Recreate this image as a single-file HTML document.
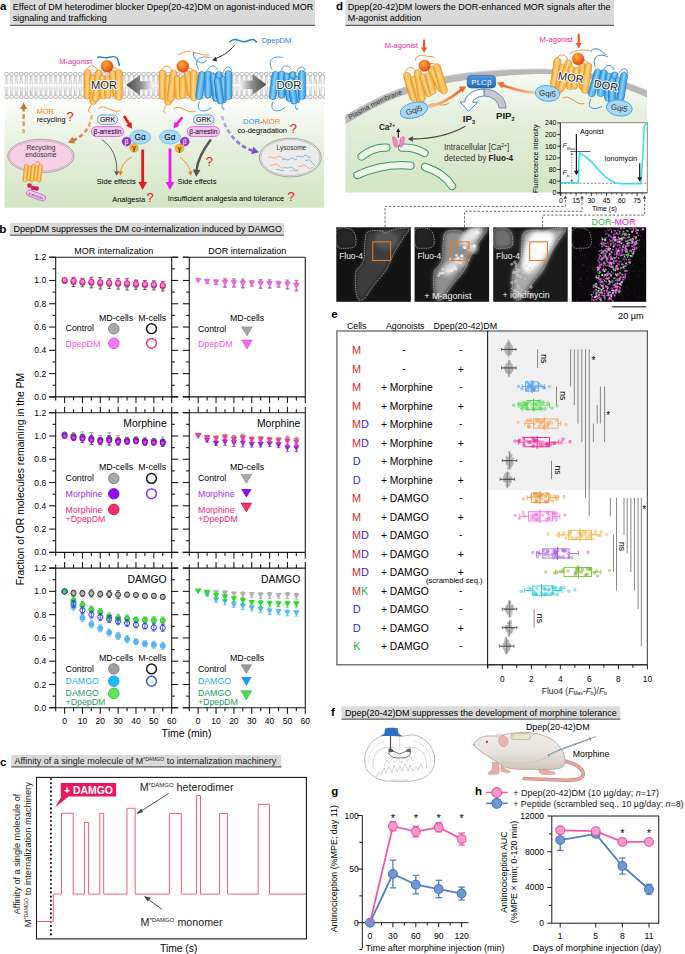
<!DOCTYPE html>
<html><head><meta charset="utf-8"><title>Figure</title>
<style>html,body{margin:0;padding:0;background:#fff;width:685px;height:954px;overflow:hidden}svg{display:block}text{font-family:"Liberation Sans",sans-serif}</style>
</head><body>
<svg width="685" height="954" viewBox="0 0 685 954">
<rect x="9.9" y="0" width="305.1" height="24.8" fill="#dadada"/>
<line x1="9.9" y1="25.4" x2="315" y2="25.4" stroke="#5a5a5a" stroke-width="1.3" />
<text x="12.8" y="10.3" font-size="9">Effect of DM heterodimer blocker Dpep(20-42)DM on agonist-induced MOR</text>
<text x="12.8" y="21.2" font-size="9">signaling and trafficking</text>
<text x="0" y="9.9" font-size="11.5" fill="#000" font-weight="bold">a</text>
<rect x="345.5" y="0" width="268.5" height="24.8" fill="#dadada"/>
<line x1="345.5" y1="25.4" x2="614" y2="25.4" stroke="#5a5a5a" stroke-width="1.3" />
<text x="347.8" y="10.3" font-size="9">Dpep(20-42)DM lowers the DOR-enhanced MOR signals after the</text>
<text x="347.8" y="21.2" font-size="9">M-agonist addition</text>
<text x="336" y="9.9" font-size="11.5" fill="#000" font-weight="bold">d</text>
<rect x="341.5" y="706.4" width="278.8" height="12.1" fill="#dadada"/>
<line x1="341.5" y1="719.1" x2="620.3" y2="719.1" stroke="#5a5a5a" stroke-width="1.3" />
<text x="345" y="715.7" font-size="9">Dpep(20-42)DM suppresses the development of morphine tolerance</text>
<text x="330.9" y="716.4" font-size="11.5" fill="#000" font-weight="bold">f</text>

<defs>
<linearGradient id="gO" x1="0" x2="1" y1="0" y2="0"><stop offset="0" stop-color="#f3a21f"/><stop offset="0.45" stop-color="#fdd88e"/><stop offset="1" stop-color="#f5aa2e"/></linearGradient>
<linearGradient id="gB" x1="0" x2="1" y1="0" y2="0"><stop offset="0" stop-color="#2590dc"/><stop offset="0.45" stop-color="#8cd0f6"/><stop offset="1" stop-color="#2d98e0"/></linearGradient>
<radialGradient id="gBall" cx="0.4" cy="0.35" r="0.7"><stop offset="0" stop-color="#fbb431"/><stop offset="0.6" stop-color="#f26a1f"/><stop offset="1" stop-color="#d9401a"/></radialGradient>
<linearGradient id="gGreenA" x1="0" x2="0" y1="0" y2="1"><stop offset="0" stop-color="#fcfdfb"/><stop offset="0.45" stop-color="#e6f0de"/><stop offset="1" stop-color="#d2e5c4"/></linearGradient>
<linearGradient id="gArrL" x1="0" x2="1" y1="0" y2="0"><stop offset="0" stop-color="#4a4a4a"/><stop offset="0.55" stop-color="#8a8a8a"/><stop offset="1" stop-color="#f2f2f2"/></linearGradient>
<linearGradient id="gArrR" x1="0" x2="1" y1="0" y2="0"><stop offset="0" stop-color="#f2f2f2"/><stop offset="0.45" stop-color="#8a8a8a"/><stop offset="1" stop-color="#4a4a4a"/></linearGradient>
<pattern id="lip" x="4.4" y="72" width="4.9" height="27" patternUnits="userSpaceOnUse">
<path d="M1.7,3.8 L0.9,12.4 M2.7,3.8 L3.3,12.4 M0.9,14.4 L1.7,23.0 M3.4,14.4 L2.7,23.0" stroke="#9c9c9c" stroke-width="0.6" fill="none"/>
<circle cx="2.2" cy="2.1" r="1.85" fill="#fff" stroke="#8a8a8a" stroke-width="0.65"/>
<circle cx="2.2" cy="24.8" r="1.85" fill="#fff" stroke="#8a8a8a" stroke-width="0.65"/>
</pattern>
<linearGradient id="gPurp" gradientUnits="userSpaceOnUse" x1="222" y1="116" x2="259" y2="152"><stop offset="0" stop-color="#c8b8ec"/><stop offset="1" stop-color="#7446c8"/></linearGradient>
<linearGradient id="gBrn1" gradientUnits="userSpaceOnUse" x1="0" y1="134" x2="0" y2="102"><stop offset="0" stop-color="#e8b890"/><stop offset="1" stop-color="#c06a30"/></linearGradient>
<linearGradient id="gBrn2" gradientUnits="userSpaceOnUse" x1="92" y1="115" x2="68" y2="142"><stop offset="0" stop-color="#ecc098"/><stop offset="1" stop-color="#c06a30"/></linearGradient>
</defs>
<rect x="4.4" y="98.5" width="319.7" height="109.2" fill="url(#gGreenA)"/>
<rect x="4.4" y="72" width="320.6" height="27" fill="url(#lip)"/>
<path d="M86.5,70.5 C88.5,63.5 96.5,64.5 97.5,71.5" fill="none" stroke="#f07a1c" stroke-width="0.8"/>
<path d="M108.5,72.5 C110.5,66.5 116.5,66.5 118.5,70.5" fill="none" stroke="#f07a1c" stroke-width="0.8"/>
<path d="M92.5,102.5 C89.5,108.5 86.5,110.5 90.5,112.5" fill="none" stroke="#f07a1c" stroke-width="0.8"/>
<path d="M98.5,108.5 C104.5,102.5 112.5,114.5 120.5,110.5" fill="none" stroke="#f07a1c" stroke-width="0.8"/>
<rect x="-3.5" y="-14.75" width="7" height="29.5" rx="3.5" fill="url(#gO)" stroke="#ee8418" stroke-width="0.6" transform="translate(87.5,84.25) rotate(-0)"/>
<rect x="-3.5" y="-14.75" width="7" height="29.5" rx="3.5" fill="url(#gO)" stroke="#ee8418" stroke-width="0.6" transform="translate(93.3,89.75) rotate(-0)"/>
<rect x="-3.5" y="-15.86" width="7" height="31.72" rx="3.5" fill="url(#gO)" stroke="#ee8418" stroke-width="0.6" transform="translate(97.15,85.75) rotate(6.7)"/>
<rect x="-3.4" y="-11.77" width="6.8" height="23.54" rx="3.4" fill="url(#gO)" stroke="#ee8418" stroke-width="0.6" transform="translate(103,87.25) rotate(-3.41)"/>
<rect x="-3.4" y="-11" width="6.8" height="22" rx="3.4" fill="url(#gO)" stroke="#ee8418" stroke-width="0.6" transform="translate(107.9,87) rotate(1.04)"/>
<rect x="-3.5" y="-13.61" width="7" height="27.23" rx="3.5" fill="url(#gO)" stroke="#ee8418" stroke-width="0.6" transform="translate(114.5,83.9) rotate(-10.15)"/>
<rect x="-3.5" y="-15.4" width="7" height="30.8" rx="3.5" fill="url(#gO)" stroke="#ee8418" stroke-width="0.6" transform="translate(118.8,84.9) rotate(-0.37)"/>
<path d="M161.5,71 C163.5,64 171.5,65 172.5,72" fill="none" stroke="#f07a1c" stroke-width="0.8"/>
<path d="M183.5,73 C185.5,67 191.5,67 193.5,71" fill="none" stroke="#f07a1c" stroke-width="0.8"/>
<path d="M167.5,103 C164.5,109 161.5,111 165.5,113" fill="none" stroke="#f07a1c" stroke-width="0.8"/>
<path d="M173.5,109 C179.5,103 187.5,115 195.5,111" fill="none" stroke="#f07a1c" stroke-width="0.8"/>
<rect x="-3.5" y="-14.75" width="7" height="29.5" rx="3.5" fill="url(#gO)" stroke="#ee8418" stroke-width="0.6" transform="translate(162.5,84.75) rotate(-0)"/>
<rect x="-3.5" y="-14.75" width="7" height="29.5" rx="3.5" fill="url(#gO)" stroke="#ee8418" stroke-width="0.6" transform="translate(168.3,90.25) rotate(-0)"/>
<rect x="-3.5" y="-15.86" width="7" height="31.72" rx="3.5" fill="url(#gO)" stroke="#ee8418" stroke-width="0.6" transform="translate(172.15,86.25) rotate(6.7)"/>
<rect x="-3.4" y="-11.77" width="6.8" height="23.54" rx="3.4" fill="url(#gO)" stroke="#ee8418" stroke-width="0.6" transform="translate(178,87.75) rotate(-3.41)"/>
<rect x="-3.4" y="-11" width="6.8" height="22" rx="3.4" fill="url(#gO)" stroke="#ee8418" stroke-width="0.6" transform="translate(182.9,87.5) rotate(1.04)"/>
<rect x="-3.5" y="-13.61" width="7" height="27.23" rx="3.5" fill="url(#gO)" stroke="#ee8418" stroke-width="0.6" transform="translate(189.5,84.4) rotate(-10.15)"/>
<rect x="-3.5" y="-15.4" width="7" height="30.8" rx="3.5" fill="url(#gO)" stroke="#ee8418" stroke-width="0.6" transform="translate(193.8,85.4) rotate(-0.37)"/>
<path d="M198.5,69.5 C193.5,59.5 199.5,55.5 209.5,57.5" fill="none" stroke="#1f7fcf" stroke-width="0.8"/>
<path d="M207.5,70.5 C209.5,64.5 215.5,64.5 217.5,69.5" fill="none" stroke="#1f7fcf" stroke-width="0.8"/>
<path d="M223.5,71.5 C225.5,65.5 230.5,65.5 231.5,70.5" fill="none" stroke="#1f7fcf" stroke-width="0.8"/>
<path d="M199.5,101.5 C195.5,111.5 203.5,113.5 211.5,107.5" fill="none" stroke="#1f7fcf" stroke-width="0.8"/>
<path d="M222.5,104.5 C220.5,109.5 225.5,111.5 223.5,107.5" fill="none" stroke="#1f7fcf" stroke-width="0.8"/>
<rect x="-3.55" y="-14.13" width="7.1" height="28.26" rx="3.55" fill="url(#gB)" stroke="#1b78c6" stroke-width="0.6" transform="translate(200.6,85.5) rotate(7.73)"/>
<rect x="-3.5" y="-13.5" width="7" height="27" rx="3.5" fill="url(#gB)" stroke="#1b78c6" stroke-width="0.6" transform="translate(208.1,84.5) rotate(-0)"/>
<rect x="-3.5" y="-14.1" width="7" height="28.21" rx="3.5" fill="url(#gB)" stroke="#1b78c6" stroke-width="0.6" transform="translate(214.8,87.5) rotate(-6.92)"/>
<rect x="-3.45" y="-13.75" width="6.9" height="27.5" rx="3.45" fill="url(#gB)" stroke="#1b78c6" stroke-width="0.6" transform="translate(219.1,85.25) rotate(-0)"/>
<rect x="-3.45" y="-13.25" width="6.9" height="26.51" rx="3.45" fill="url(#gB)" stroke="#1b78c6" stroke-width="0.6" transform="translate(223.2,89.75) rotate(1.3)"/>
<rect x="-3.5" y="-14.5" width="7" height="29" rx="3.5" fill="url(#gB)" stroke="#1b78c6" stroke-width="0.6" transform="translate(228.5,85) rotate(-0)"/>
<rect x="-3.35" y="-13.4" width="6.7" height="26.8" rx="3.35" fill="url(#gB)" stroke="#1b78c6" stroke-width="0.6" transform="translate(219,90.75) rotate(-8.58)"/>
<path d="M272,69.5 C267,59.5 273,55.5 283,57.5" fill="none" stroke="#1f7fcf" stroke-width="0.8"/>
<path d="M281,70.5 C283,64.5 289,64.5 291,69.5" fill="none" stroke="#1f7fcf" stroke-width="0.8"/>
<path d="M297,71.5 C299,65.5 304,65.5 305,70.5" fill="none" stroke="#1f7fcf" stroke-width="0.8"/>
<path d="M273,101.5 C269,111.5 277,113.5 285,107.5" fill="none" stroke="#1f7fcf" stroke-width="0.8"/>
<path d="M296,104.5 C294,109.5 299,111.5 297,107.5" fill="none" stroke="#1f7fcf" stroke-width="0.8"/>
<rect x="-3.55" y="-14.13" width="7.1" height="28.26" rx="3.55" fill="url(#gB)" stroke="#1b78c6" stroke-width="0.6" transform="translate(274.1,85.5) rotate(7.73)"/>
<rect x="-3.5" y="-13.5" width="7" height="27" rx="3.5" fill="url(#gB)" stroke="#1b78c6" stroke-width="0.6" transform="translate(281.6,84.5) rotate(-0)"/>
<rect x="-3.5" y="-14.1" width="7" height="28.21" rx="3.5" fill="url(#gB)" stroke="#1b78c6" stroke-width="0.6" transform="translate(288.3,87.5) rotate(-6.92)"/>
<rect x="-3.45" y="-13.75" width="6.9" height="27.5" rx="3.45" fill="url(#gB)" stroke="#1b78c6" stroke-width="0.6" transform="translate(292.6,85.25) rotate(-0)"/>
<rect x="-3.45" y="-13.25" width="6.9" height="26.51" rx="3.45" fill="url(#gB)" stroke="#1b78c6" stroke-width="0.6" transform="translate(296.7,89.75) rotate(1.3)"/>
<rect x="-3.5" y="-14.5" width="7" height="29" rx="3.5" fill="url(#gB)" stroke="#1b78c6" stroke-width="0.6" transform="translate(302,85) rotate(-0)"/>
<rect x="-3.35" y="-13.4" width="6.7" height="26.8" rx="3.35" fill="url(#gB)" stroke="#1b78c6" stroke-width="0.6" transform="translate(292.5,90.75) rotate(-8.58)"/>
<circle cx="107.1" cy="66.2" r="6" fill="url(#gBall)" stroke="#e05418" stroke-width="0.4"/>
<circle cx="182.8" cy="66.3" r="6" fill="url(#gBall)" stroke="#e05418" stroke-width="0.4"/>
<path d="M97,57.5 C101,56 104,58.5 108,57.5 C112,56.5 115,55.5 117,58 C118.5,60 118.5,63 119.5,66" fill="none" stroke="#2a7fc8" stroke-width="1.5"/>
<path d="M178,55 C183,52 187,51 191,52 M193,53 C197,52 203,56 209,55" fill="none" stroke="#f07a1c" stroke-width="0.8"/>
<path d="M194,52 C192,57 196,60 199,62 M199,62 C202,64 205,62 207,60" fill="none" stroke="#2a7fc8" stroke-width="0.9"/>
<path d="M229.5,42 C234,37.5 238,40 242,41.5 C246,43 250,39 253,39.5 C255,40 256,41.5 256.8,42.5" fill="none" stroke="#2a7fc8" stroke-width="1.5"/>
<text x="261.7" y="43.3" font-size="7.5" fill="#2a7fc8">DpepDM</text>
<path d="M234.4,45.3 C229,52 222,56.5 214.5,59" fill="none" stroke="#2a2a2a" stroke-width="1"/>
<path d="M212.1,60.2L215.81,56.64L217.09,61.43Z" fill="#2a2a2a"/>
<text x="59.2" y="63.5" font-size="7.5" fill="#e8249a">M-agonist</text>
<path d="M126.1,85.1 L140,74.9 L140,81.2 L152.4,81.2 L152.4,89.5 L140,89.5 L140,95.4Z" fill="url(#gArrL)"/>
<path d="M266.5,84.5 L252.6,74.3 L252.6,80.6 L240.2,80.6 L240.2,88.9 L252.6,88.9 L252.6,94.8Z" fill="url(#gArrR)"/>
<text x="91" y="88.8" font-size="11.2" text-anchor="start" fill="#1a1a1a" stroke="#fff" stroke-width="2.2" stroke-linejoin="round" paint-order="stroke">MOR</text>
<text x="276.4" y="88.9" font-size="11.2" text-anchor="start" fill="#1a1a1a" stroke="#fff" stroke-width="2.2" stroke-linejoin="round" paint-order="stroke">DOR</text>
<path d="M23.6,133.4 L23.6,108" fill="none" stroke="url(#gBrn1)" stroke-width="2.6" stroke-dasharray="4.5,2.8"/>
<path d="M23.6,102.4L27.18,108.9L20.03,108.9Z" fill="#c8783a"/>
<text x="36.7" y="113.6" font-size="7.3" fill="#f07a1c">MOR</text>
<text x="36.7" y="122.3" font-size="7.3">recycling</text>
<text x="66.6" y="121.3" font-size="13" fill="#e8191e">?</text>
<path d="M92,115 C90,128 84,136 72,141" fill="none" stroke="url(#gBrn2)" stroke-width="2.6" stroke-dasharray="4.5,2.8"/>
<path d="M67.8,142.4L72.69,136.82L75.13,143.54Z" fill="#c8783a"/>
<ellipse cx="40.9" cy="156" rx="33.2" ry="16.8" fill="#f7cfe6" stroke="#9a9a9a" stroke-width="0.8"/>
<ellipse cx="40.9" cy="156" rx="31.6" ry="15.2" fill="none" stroke="#a8a8a8" stroke-width="0.6"/>
<text x="40.9" y="149.8" font-size="6.7" fill="#333" text-anchor="middle">Recycling</text>
<text x="40.9" y="157.4" font-size="6.7" fill="#333" text-anchor="middle">endosome</text>
<rect x="-2" y="-8.81" width="4" height="17.61" rx="2" fill="url(#gO)" stroke="#ee8418" stroke-width="0.6" transform="translate(25.7,173.25) rotate(6.52)"/>
<rect x="-2" y="-7.32" width="4" height="14.64" rx="2" fill="url(#gO)" stroke="#ee8418" stroke-width="0.6" transform="translate(29.2,173.25) rotate(7.85)"/>
<rect x="-2" y="-8.81" width="4" height="17.61" rx="2" fill="url(#gO)" stroke="#ee8418" stroke-width="0.6" transform="translate(32.7,173.25) rotate(6.52)"/>
<rect x="-2" y="-7.32" width="4" height="14.64" rx="2" fill="url(#gO)" stroke="#ee8418" stroke-width="0.6" transform="translate(36.2,173.25) rotate(7.85)"/>
<rect x="-2" y="-8.81" width="4" height="17.61" rx="2" fill="url(#gO)" stroke="#ee8418" stroke-width="0.6" transform="translate(39.7,173.25) rotate(6.52)"/>
<path d="M34,165 C36,161 39,160 40,164" fill="none" stroke="#f07a1c" stroke-width="0.7"/>
<circle cx="29.5" cy="185.5" r="2.1" fill="#d81e5a" stroke="#a01040" stroke-width="0.4"/>
<circle cx="33" cy="188" r="2.1" fill="#d81e5a" stroke="#a01040" stroke-width="0.4"/>
<circle cx="36.6" cy="188.5" r="2.1" fill="#d81e5a" stroke="#a01040" stroke-width="0.4"/>
<g transform="translate(36,195.5) rotate(20)"><rect x="-10" y="-3" width="20" height="6" rx="3" fill="#f7c6f3" stroke="#d940d6" stroke-width="0.7"/><text x="0" y="1.6" font-size="3.6" text-anchor="middle" fill="#333">β-arrestin</text></g>
<rect x="97.3" y="114.9" width="20.4" height="9.4" fill="#ececec" stroke="#5c9bd5" stroke-width="0.9" rx="4.7"/>
<text x="107.5" y="122.3" font-size="7" text-anchor="middle">GRK</text>
<rect x="91.4" y="126.6" width="32.1" height="9.9" fill="#f8c4f4" stroke="#e060e0" stroke-width="0.9" rx="4.95"/>
<text x="107.45" y="134.25" font-size="6.6" text-anchor="middle">β-arrestin</text>
<line x1="124" y1="116" x2="129.5" y2="124.5" stroke="#e8191e" stroke-width="2.6" />
<path d="M132,128.8L125.96,125.57L131.5,121.97Z" fill="#e8191e"/>
<ellipse cx="140.2" cy="137.1" rx="10.5" ry="7" fill="#a9daf7" stroke="#5fb4ea" stroke-width="0.7"/>
<text x="140.2" y="140.1" font-size="8.4" text-anchor="middle">Gα</text>
<circle cx="126.6" cy="141.6" r="4.4" fill="#9a2fc8" stroke="#7a1fa8" stroke-width="0.5"/>
<text x="126.6" y="144.3" font-size="7" fill="#fff" text-anchor="middle">β</text>
<circle cx="134" cy="147.8" r="4.4" fill="#f2b432" stroke="#d89a20" stroke-width="0.5"/>
<text x="134" y="150.4" font-size="7" text-anchor="middle">γ</text>
<path d="M101.7,139.6 C112,146 117,157 116.8,171" fill="none" stroke="#555" stroke-width="0.9"/>
<path d="M116.7,175.8L114.23,171.3L119.17,171.3Z" fill="#555"/>
<path d="M131.5,157 C125,161 121.5,166 120.6,171.5" fill="none" stroke="#f07a1c" stroke-width="0.9"/>
<path d="M120.3,175.8L118.23,171.1L123.16,171.53Z" fill="#f07a1c"/>
<text x="96.8" y="184.3" font-size="7.5">Side effects</text>
<line x1="142.7" y1="149.6" x2="142.7" y2="183" stroke="#e8191e" stroke-width="2.8" />
<path d="M142.7,190L138.3,182L147.1,182Z" fill="#e8191e"/>
<text x="112.2" y="201.8" font-size="7.5">Analgesia</text>
<text x="146.4" y="201.8" font-size="13" fill="#e8191e">?</text>
<line x1="182.3" y1="117.3" x2="176.5" y2="124.3" stroke="#e61ee6" stroke-width="2.6" />
<path d="M173.6,128.5L174.34,121.69L179.74,125.48Z" fill="#e61ee6"/>
<ellipse cx="170" cy="137.1" rx="10.5" ry="7" fill="#a9daf7" stroke="#5fb4ea" stroke-width="0.7"/>
<text x="170" y="140.1" font-size="8.4" text-anchor="middle">Gα</text>
<circle cx="184.8" cy="141.6" r="4.4" fill="#9a2fc8" stroke="#7a1fa8" stroke-width="0.5"/>
<text x="184.8" y="144.3" font-size="7" fill="#fff" text-anchor="middle">β</text>
<circle cx="179.4" cy="148.3" r="4.4" fill="#f2b432" stroke="#d89a20" stroke-width="0.5"/>
<text x="179.4" y="150.9" font-size="7" text-anchor="middle">γ</text>
<rect x="193.5" y="114.9" width="20.4" height="9.4" fill="#ececec" stroke="#5c9bd5" stroke-width="0.9" rx="4.7"/>
<text x="203.7" y="122.3" font-size="7" text-anchor="middle">GRK</text>
<rect x="187.3" y="126.6" width="32.1" height="9.9" fill="#f8c4f4" stroke="#e060e0" stroke-width="0.9" rx="4.95"/>
<text x="203.35" y="134.25" font-size="6.6" text-anchor="middle">β-arrestin</text>
<line x1="170" y1="148.5" x2="170" y2="182.5" stroke="#e61ee6" stroke-width="2.8" />
<path d="M170,190L165.6,182L174.4,182Z" fill="#e61ee6"/>
<path d="M210.9,139.6 C203,150 197.5,160 196.6,170" fill="none" stroke="#555" stroke-width="2.4"/>
<path d="M196.3,176.8L192.82,169.61L200.51,170.01Z" fill="#555"/>
<text x="205.8" y="166" font-size="13" fill="#e8191e">?</text>
<path d="M179.9,157 C185,161 189,166 190.5,171.5" fill="none" stroke="#f07a1c" stroke-width="0.9"/>
<path d="M191,175.8L187.78,171.8L192.66,170.94Z" fill="#f07a1c"/>
<text x="177.4" y="184.3" font-size="7.5">Side effects</text>
<text x="167.7" y="201.3" font-size="7.45">Insufficient analgesia and tolerance</text>
<text x="287.4" y="201" font-size="13" fill="#e8191e">?</text>
<path d="M222,116 C226,132 238,146 252,150.5" fill="none" stroke="url(#gPurp)" stroke-width="2.6" stroke-dasharray="4.5,2.8"/>
<path d="M259,152.3L251.24,154.21L253.23,146.77Z" fill="#7a4ac8"/>
<text x="243.1" y="123.5" font-size="7.6" fill="#2f8fd6">DOR<tspan fill="#1a1a1a">-</tspan><tspan fill="#f07a1c">MOR</tspan></text>
<text x="237.4" y="132.7" font-size="7.45">co-degradation</text>
<text x="289.8" y="133" font-size="13" fill="#e8191e">?</text>
<ellipse cx="290.3" cy="157.5" rx="31" ry="19.4" fill="#ececec" stroke="#8a8a8a" stroke-width="0.7"/>
<ellipse cx="290.3" cy="157.5" rx="29.6" ry="18" fill="none" stroke="#9a9a9a" stroke-width="0.5"/>
<text x="291.4" y="149.6" font-size="6.6" fill="#333" text-anchor="middle">Lysosome</text>
<path d="M268,158 c3,-3 6,2 9,-1 s5,3 8,1" fill="none" stroke="#f0a070" stroke-width="0.8"/>
<path d="M270,165 c3,2 5,-3 8,0 s4,4 7,2" fill="none" stroke="#f0a070" stroke-width="0.8"/>
<path d="M282,160 c3,-3 5,2 8,-1 s4,2 7,0" fill="none" stroke="#60a8e0" stroke-width="0.8"/>
<path d="M285,167 c2,3 5,-2 8,1 s4,3 6,1" fill="none" stroke="#60a8e0" stroke-width="0.8"/>
<path d="M296,157 c3,-3 5,2 8,-1 s4,3 7,1" fill="none" stroke="#60a8e0" stroke-width="0.8"/>
<path d="M298,166 c3,2 5,-3 8,0 s4,3 7,1" fill="none" stroke="#f0a070" stroke-width="0.8"/>
<path d="M276,170 c3,-2 5,2 8,0" fill="none" stroke="#60a8e0" stroke-width="0.8"/>
<path d="M305,160 c2,2 4,-2 6,1 s3,3 4,5" fill="none" stroke="#60a8e0" stroke-width="0.8"/>
<path d="M290,171 c3,-2 5,2 8,-1" fill="none" stroke="#f0a070" stroke-width="0.8"/>

<defs>
<linearGradient id="gGreenD" x1="0" x2="0" y1="70" y2="193" gradientUnits="userSpaceOnUse"><stop offset="0" stop-color="#f8fbf5"/><stop offset="0.45" stop-color="#e3eeda"/><stop offset="1" stop-color="#d2e5c4"/></linearGradient>
<linearGradient id="gPLC" x1="0" x2="0" y1="0" y2="1"><stop offset="0" stop-color="#4f9ae0"/><stop offset="1" stop-color="#1f68c0"/></linearGradient>
<linearGradient id="gOA1" x1="0" x2="1" y1="0" y2="0"><stop offset="0" stop-color="#f5c890"/><stop offset="1" stop-color="#ec6a2a"/></linearGradient>
<linearGradient id="gOA2" x1="1" x2="0" y1="0" y2="0"><stop offset="0" stop-color="#f5c890"/><stop offset="1" stop-color="#ec6a2a"/></linearGradient>
<radialGradient id="cellG" cx="0.5" cy="0.5" r="0.5"><stop offset="0" stop-color="#7a7a7a"/><stop offset="1" stop-color="#3a3a3a"/></radialGradient>
<radialGradient id="cellB" cx="0.5" cy="0.5" r="0.5"><stop offset="0" stop-color="#d0d0d0"/><stop offset="0.7" stop-color="#8a8a8a"/><stop offset="1" stop-color="#555"/></radialGradient>
<radialGradient id="cellW" cx="0.5" cy="0.45" r="0.5"><stop offset="0" stop-color="#ffffff"/><stop offset="0.6" stop-color="#e8e8e8"/><stop offset="1" stop-color="#9a9a9a"/></radialGradient>
<filter id="blur1" x="-20%" y="-20%" width="140%" height="140%"><feGaussianBlur stdDeviation="2.2"/></filter>
<filter id="blur05"><feGaussianBlur stdDeviation="0.5"/></filter>
</defs>
<path d="M345.5,124.2C352.92,120.25 374.25,107.1 390,100.5C405.75,93.9 421.67,88.65 440,84.6C458.33,80.55 480,77.9 500,76.2C520,74.5 541.67,73.18 560,74.4C578.33,75.62 595.5,79.67 610,83.5C624.5,87.33 640.83,95.08 647,97.4 L647,192.6 L345.5,192.6Z" fill="url(#gGreenD)"/>
<path d="M345.5,115.2C352.92,111.42 374.25,98.83 390,92.5C405.75,86.17 421.67,80.92 440,77.2C458.33,73.48 480,71.47 500,70.2C520,68.93 541.67,68.38 560,69.6C578.33,70.82 595.5,74.03 610,77.5C624.5,80.97 640.83,88.25 647,90.4 L647,97.4C640.83,95.08 624.5,87.33 610,83.5C595.5,79.67 578.33,75.62 560,74.4C541.67,73.18 520,74.5 500,76.2C480,77.9 458.33,80.55 440,84.6C421.67,88.65 405.75,93.9 390,100.5C374.25,107.1 352.92,120.25 345.5,124.2Z" fill="#b8b8b8"/>
<path d="M345.5,115.2C352.92,111.42 374.25,98.83 390,92.5C405.75,86.17 421.67,80.92 440,77.2C458.33,73.48 480,71.47 500,70.2C520,68.93 541.67,68.38 560,69.6C578.33,70.82 595.5,74.03 610,77.5C624.5,80.97 640.83,88.25 647,90.4" fill="none" stroke="#cfcfcf" stroke-width="0.8"/>
<text font-size="7.0" fill="#333" text-anchor="middle" transform="translate(351.93,118.56) rotate(-29.33)">P</text>
<text font-size="7.0" fill="#333" text-anchor="middle" transform="translate(354.64,117.04) rotate(-29.36)">l</text>
<text font-size="7.0" fill="#333" text-anchor="middle" transform="translate(357.01,115.7) rotate(-29.3)">a</text>
<text font-size="7.0" fill="#333" text-anchor="middle" transform="translate(360.24,113.9) rotate(-29.1)">s</text>
<text font-size="7.0" fill="#333" text-anchor="middle" transform="translate(364.32,111.64) rotate(-28.78)">m</text>
<text font-size="7.0" fill="#333" text-anchor="middle" transform="translate(368.59,109.32) rotate(-28.17)">a</text>
<text font-size="7.0" fill="#333" text-anchor="middle" transform="translate(374.62,106.15) rotate(-27.34)">m</text>
<text font-size="7.0" fill="#333" text-anchor="middle" transform="translate(378.96,103.96) rotate(-26.22)">e</text>
<text font-size="7.0" fill="#333" text-anchor="middle" transform="translate(383.33,101.85) rotate(-25.13)">m</text>
<text font-size="7.0" fill="#333" text-anchor="middle" transform="translate(387.77,99.84) rotate(-23.22)">b</text>
<text font-size="7.0" fill="#333" text-anchor="middle" transform="translate(390.63,98.64) rotate(-22.22)">r</text>
<text font-size="7.0" fill="#333" text-anchor="middle" transform="translate(393.52,97.48) rotate(-21.81)">a</text>
<text font-size="7.0" fill="#333" text-anchor="middle" transform="translate(397.15,96.06) rotate(-20.93)">n</text>
<text font-size="7.0" fill="#333" text-anchor="middle" transform="translate(400.79,94.68) rotate(-20.23)">e</text>
<g transform="rotate(-16 426 84)">
<path d="M409,68.5 C411,61.5 419,62.5 420,69.5" fill="none" stroke="#f07a1c" stroke-width="0.8"/>
<path d="M431,70.5 C433,64.5 439,64.5 441,68.5" fill="none" stroke="#f07a1c" stroke-width="0.8"/>
<path d="M415,100.5 C412,106.5 409,108.5 413,110.5" fill="none" stroke="#f07a1c" stroke-width="0.8"/>
<path d="M421,106.5 C427,100.5 435,112.5 443,108.5" fill="none" stroke="#f07a1c" stroke-width="0.8"/>
<rect x="-3.5" y="-14.75" width="7" height="29.5" rx="3.5" fill="url(#gO)" stroke="#ee8418" stroke-width="0.6" transform="translate(410,82.25) rotate(-0)"/>
<rect x="-3.5" y="-14.75" width="7" height="29.5" rx="3.5" fill="url(#gO)" stroke="#ee8418" stroke-width="0.6" transform="translate(415.8,87.75) rotate(-0)"/>
<rect x="-3.5" y="-15.86" width="7" height="31.72" rx="3.5" fill="url(#gO)" stroke="#ee8418" stroke-width="0.6" transform="translate(419.65,83.75) rotate(6.7)"/>
<rect x="-3.4" y="-11.77" width="6.8" height="23.54" rx="3.4" fill="url(#gO)" stroke="#ee8418" stroke-width="0.6" transform="translate(425.5,85.25) rotate(-3.41)"/>
<rect x="-3.4" y="-11" width="6.8" height="22" rx="3.4" fill="url(#gO)" stroke="#ee8418" stroke-width="0.6" transform="translate(430.4,85) rotate(1.04)"/>
<rect x="-3.5" y="-13.61" width="7" height="27.23" rx="3.5" fill="url(#gO)" stroke="#ee8418" stroke-width="0.6" transform="translate(437,81.9) rotate(-10.15)"/>
<rect x="-3.5" y="-15.4" width="7" height="30.8" rx="3.5" fill="url(#gO)" stroke="#ee8418" stroke-width="0.6" transform="translate(441.3,82.9) rotate(-0.37)"/>
</g>
<circle cx="424.6" cy="65.7" r="5.8" fill="url(#gBall)" stroke="#e05418" stroke-width="0.4"/>
<path d="M416,61 C414,57 420,54 426,56 C430,57.5 433,55 434,58" fill="none" stroke="#f07a1c" stroke-width="0.8"/>
<g transform="rotate(9 589 80)">
<path d="M554,64 C556,57 564,58 565,65" fill="none" stroke="#f07a1c" stroke-width="0.8"/>
<path d="M576,66 C578,60 584,60 586,64" fill="none" stroke="#f07a1c" stroke-width="0.8"/>
<path d="M560,96 C557,102 554,104 558,106" fill="none" stroke="#f07a1c" stroke-width="0.8"/>
<path d="M566,102 C572,96 580,108 588,104" fill="none" stroke="#f07a1c" stroke-width="0.8"/>
<rect x="-3.5" y="-14.75" width="7" height="29.5" rx="3.5" fill="url(#gO)" stroke="#ee8418" stroke-width="0.6" transform="translate(555,77.75) rotate(-0)"/>
<rect x="-3.5" y="-14.75" width="7" height="29.5" rx="3.5" fill="url(#gO)" stroke="#ee8418" stroke-width="0.6" transform="translate(560.8,83.25) rotate(-0)"/>
<rect x="-3.5" y="-15.86" width="7" height="31.72" rx="3.5" fill="url(#gO)" stroke="#ee8418" stroke-width="0.6" transform="translate(564.65,79.25) rotate(6.7)"/>
<rect x="-3.4" y="-11.77" width="6.8" height="23.54" rx="3.4" fill="url(#gO)" stroke="#ee8418" stroke-width="0.6" transform="translate(570.5,80.75) rotate(-3.41)"/>
<rect x="-3.4" y="-11" width="6.8" height="22" rx="3.4" fill="url(#gO)" stroke="#ee8418" stroke-width="0.6" transform="translate(575.4,80.5) rotate(1.04)"/>
<rect x="-3.5" y="-13.61" width="7" height="27.23" rx="3.5" fill="url(#gO)" stroke="#ee8418" stroke-width="0.6" transform="translate(582,77.4) rotate(-10.15)"/>
<rect x="-3.5" y="-15.4" width="7" height="30.8" rx="3.5" fill="url(#gO)" stroke="#ee8418" stroke-width="0.6" transform="translate(586.3,78.4) rotate(-0.37)"/>
<path d="M593,66 C588,56 594,52 604,54" fill="none" stroke="#1f7fcf" stroke-width="0.8"/>
<path d="M602,67 C604,61 610,61 612,66" fill="none" stroke="#1f7fcf" stroke-width="0.8"/>
<path d="M618,68 C620,62 625,62 626,67" fill="none" stroke="#1f7fcf" stroke-width="0.8"/>
<path d="M594,98 C590,108 598,110 606,104" fill="none" stroke="#1f7fcf" stroke-width="0.8"/>
<path d="M617,101 C615,106 620,108 618,104" fill="none" stroke="#1f7fcf" stroke-width="0.8"/>
<rect x="-3.55" y="-14.13" width="7.1" height="28.26" rx="3.55" fill="url(#gB)" stroke="#1b78c6" stroke-width="0.6" transform="translate(595.1,82) rotate(7.73)"/>
<rect x="-3.5" y="-13.5" width="7" height="27" rx="3.5" fill="url(#gB)" stroke="#1b78c6" stroke-width="0.6" transform="translate(602.6,81) rotate(-0)"/>
<rect x="-3.5" y="-14.1" width="7" height="28.21" rx="3.5" fill="url(#gB)" stroke="#1b78c6" stroke-width="0.6" transform="translate(609.3,84) rotate(-6.92)"/>
<rect x="-3.45" y="-13.75" width="6.9" height="27.5" rx="3.45" fill="url(#gB)" stroke="#1b78c6" stroke-width="0.6" transform="translate(613.6,81.75) rotate(-0)"/>
<rect x="-3.45" y="-13.25" width="6.9" height="26.51" rx="3.45" fill="url(#gB)" stroke="#1b78c6" stroke-width="0.6" transform="translate(617.7,86.25) rotate(1.3)"/>
<rect x="-3.5" y="-14.5" width="7" height="29" rx="3.5" fill="url(#gB)" stroke="#1b78c6" stroke-width="0.6" transform="translate(623,81.5) rotate(-0)"/>
<rect x="-3.35" y="-13.4" width="6.7" height="26.8" rx="3.35" fill="url(#gB)" stroke="#1b78c6" stroke-width="0.6" transform="translate(613.5,87.25) rotate(-8.58)"/>
</g>
<circle cx="578.2" cy="58.9" r="6" fill="url(#gBall)" stroke="#e05418" stroke-width="0.4"/>
<path d="M569,54 C574,50 582,49 590,51" fill="none" stroke="#f07a1c" stroke-width="0.8"/>
<path d="M591,52 C592,48 596,48 600,50 C603,52 605,55 606,55" fill="none" stroke="#1f7fcf" stroke-width="0.9"/>
<text font-size="11" fill="#1a1a1a" stroke="#fff" stroke-width="2" stroke-linejoin="round" paint-order="stroke" text-anchor="middle" transform="translate(570.3,81.3) rotate(8)">MOR</text>
<text font-size="11" fill="#1a1a1a" stroke="#fff" stroke-width="2" stroke-linejoin="round" paint-order="stroke" text-anchor="middle" transform="translate(605.3,89.2) rotate(10)">DOR</text>
<g transform="translate(414,110.2) rotate(-16)"><ellipse rx="14.2" ry="7.6" fill="#a9d8f5" stroke="#3a9ad8" stroke-width="0.8"/><text y="2.8" font-size="8" text-anchor="middle" fill="#333">Gqi5</text></g>
<g transform="translate(547.5,93.4) rotate(6)"><ellipse rx="12.3" ry="7.9" fill="#a9d8f5" stroke="#3a9ad8" stroke-width="0.8"/><text y="2.8" font-size="8" text-anchor="middle" fill="#333">Gqi5</text></g>
<g transform="translate(619.3,108) rotate(8)"><ellipse rx="13" ry="8" fill="#a9d8f5" stroke="#3a9ad8" stroke-width="0.8"/><text y="2.8" font-size="8" text-anchor="middle" fill="#333">Gqi5</text></g>
<text x="384.7" y="47.5" font-size="7.6" fill="#e8249a">M-agonist</text>
<line x1="424.1" y1="39.5" x2="424.1" y2="48.5" stroke="#ee5a1c" stroke-width="2.2" />
<path d="M424.1,53L421.08,47.5L427.12,47.5Z" fill="#ee5a1c"/>
<text x="539.6" y="42.3" font-size="7.6" fill="#e8249a">M-agonist</text>
<line x1="578.7" y1="33.9" x2="578.7" y2="44" stroke="#ee5a1c" stroke-width="2.2" />
<path d="M578.7,48.6L575.68,43.1L581.73,43.1Z" fill="#ee5a1c"/>
<path d="M428,107 C442,104 453,97 461.5,89.5" fill="none" stroke="url(#gOA1)" stroke-width="2.6"/>
<path d="M466.3,86.3L462.68,92.78L458.89,86.71Z" fill="#ec6a2a"/>
<path d="M534.6,92.4 C522,92 510,88 502,85" fill="none" stroke="url(#gOA2)" stroke-width="2.6"/>
<path d="M497,82.8L504.33,81.66L501.89,88.38Z" fill="#ec6a2a"/>
<path d="M506,108 A22,19 0 0 0 484,89 L484,96 A15,12 0 0 1 499,108 Z" fill="#c8c8c8" stroke="#4a80c0" stroke-width="0.8"/>
<path d="M484,89 A22,19 0 0 0 465.3,98.8 L465,101.8 L460.2,102 L468.5,111.4 L477.5,102.4 L472.6,102.2 L472.4,101.4 A15,12 0 0 1 484,96 Z" fill="#fff" stroke="#3a7fc8" stroke-width="0.9"/>
<rect x="467.2" y="75.4" width="28.5" height="12.6" fill="url(#gPLC)" stroke="#1a5aa8" stroke-width="0.6" rx="4"/>
<text x="481.4" y="84.8" font-size="8" fill="#fff" text-anchor="middle">PLCβ</text>
<text x="462.8" y="122.2" font-size="9.6" font-weight="bold" fill="#1a1a1a">IP<tspan font-size="5.6" dy="2">3</tspan></text>
<text x="496" y="118.7" font-size="9.6" font-weight="bold" fill="#1a1a1a">PIP<tspan font-size="5.6" dy="2">2</tspan></text>
<path d="M465.3,126.3 C450,135 430,139 412,139" fill="none" stroke="#4a4a4a" stroke-width="1.3"/>
<path d="M407.8,139L412.8,136.25L412.8,141.75Z" fill="#4a4a4a"/>
<path d="M361.5,156.5 Q374,146.8 386.5,147.6" fill="none" stroke="#3a9a62" stroke-width="8.2" stroke-linecap="round"/>
<path d="M402,147.6 Q415,147 424.5,153" fill="none" stroke="#3a9a62" stroke-width="8.2" stroke-linecap="round"/>
<path d="M357.5,175 Q384,163 410.5,165.6" fill="none" stroke="#3a9a62" stroke-width="8.2" stroke-linecap="round"/>
<path d="M425,167 Q443,172.5 452,186" fill="none" stroke="#3a9a62" stroke-width="8.2" stroke-linecap="round"/>
<path d="M361.5,156.5 Q374,146.8 386.5,147.6" fill="none" stroke="#eef6ea" stroke-width="6.2" stroke-linecap="round"/>
<path d="M402,147.6 Q415,147 424.5,153" fill="none" stroke="#eef6ea" stroke-width="6.2" stroke-linecap="round"/>
<path d="M357.5,175 Q384,163 410.5,165.6" fill="none" stroke="#eef6ea" stroke-width="6.2" stroke-linecap="round"/>
<path d="M425,167 Q443,172.5 452,186" fill="none" stroke="#eef6ea" stroke-width="6.2" stroke-linecap="round"/>
<path d="M392.5,137 C394,136 396,138 397,140 L397.5,146.5 C396,147.5 394.5,147 394,145 C393.5,142 392,139 392.5,137Z" fill="#f28ac8" stroke="#d9409a" stroke-width="0.5"/>
<path d="M404,137 C402.5,136 400.5,138 400,140 L399.5,146.5 C401,147.5 402.5,147 403,145 C403.5,142 405,139 404,137Z" fill="#f28ac8" stroke="#d9409a" stroke-width="0.5"/>
<line x1="398.3" y1="137.7" x2="398.3" y2="131.5" stroke="#1a1a1a" stroke-width="1.1" />
<path d="M398.3,128.2L400.39,132L396.21,132Z" fill="#1a1a1a"/>
<text x="378.9" y="130.1" font-size="8.2" font-weight="bold" fill="#1a1a1a">Ca<tspan font-size="5" dy="-3.5">2+</tspan></text>
<text x="444" y="150" font-size="8.2" fill="#333">Intracellular [Ca<tspan font-size="5" dy="-3">2+</tspan><tspan dy="3">]</tspan></text>
<text x="444" y="161" font-size="8.2" fill="#333">detected by <tspan font-weight="bold" fill="#1a1a1a">Fluo-4</tspan></text>
<rect x="560.3" y="122.7" width="87" height="70.2" fill="#fff"/>
<line x1="560.3" y1="122.7" x2="647.3" y2="122.7" stroke="#888" stroke-width="1" />
<line x1="647.3" y1="122.7" x2="647.3" y2="192.9" stroke="#888" stroke-width="1" />
<line x1="560.3" y1="122.7" x2="560.3" y2="195.9" stroke="#1a1a1a" stroke-width="1" />
<line x1="557.5" y1="192.9" x2="647.3" y2="192.9" stroke="#1a1a1a" stroke-width="1" />
<line x1="557.3" y1="192.9" x2="560.3" y2="192.9" stroke="#1a1a1a" stroke-width="0.9" />
<text x="556.4" y="195.3" font-size="6.9" text-anchor="end">0</text>
<line x1="557.3" y1="181.23" x2="560.3" y2="181.23" stroke="#1a1a1a" stroke-width="0.9" />
<text x="556.4" y="183.63" font-size="6.9" text-anchor="end">40</text>
<line x1="557.3" y1="169.56" x2="560.3" y2="169.56" stroke="#1a1a1a" stroke-width="0.9" />
<text x="556.4" y="171.96" font-size="6.9" text-anchor="end">80</text>
<line x1="557.3" y1="157.9" x2="560.3" y2="157.9" stroke="#1a1a1a" stroke-width="0.9" />
<text x="556.4" y="160.3" font-size="6.9" text-anchor="end">120</text>
<line x1="557.3" y1="146.23" x2="560.3" y2="146.23" stroke="#1a1a1a" stroke-width="0.9" />
<text x="556.4" y="148.63" font-size="6.9" text-anchor="end">160</text>
<line x1="557.3" y1="134.56" x2="560.3" y2="134.56" stroke="#1a1a1a" stroke-width="0.9" />
<text x="556.4" y="136.96" font-size="6.9" text-anchor="end">200</text>
<line x1="557.3" y1="122.89" x2="560.3" y2="122.89" stroke="#1a1a1a" stroke-width="0.9" />
<text x="556.4" y="125.29" font-size="6.9" text-anchor="end">240</text>
<line x1="560.8" y1="192.9" x2="560.8" y2="195.9" stroke="#1a1a1a" stroke-width="0.9" />
<text x="560.8" y="203.4" font-size="6.9" text-anchor="middle">0</text>
<line x1="576.06" y1="192.9" x2="576.06" y2="195.9" stroke="#1a1a1a" stroke-width="0.9" />
<text x="576.06" y="203.4" font-size="6.9" text-anchor="middle">15</text>
<line x1="591.32" y1="192.9" x2="591.32" y2="195.9" stroke="#1a1a1a" stroke-width="0.9" />
<text x="591.32" y="203.4" font-size="6.9" text-anchor="middle">30</text>
<line x1="606.58" y1="192.9" x2="606.58" y2="195.9" stroke="#1a1a1a" stroke-width="0.9" />
<text x="606.58" y="203.4" font-size="6.9" text-anchor="middle">45</text>
<line x1="621.84" y1="192.9" x2="621.84" y2="195.9" stroke="#1a1a1a" stroke-width="0.9" />
<text x="621.84" y="203.4" font-size="6.9" text-anchor="middle">60</text>
<line x1="637.1" y1="192.9" x2="637.1" y2="195.9" stroke="#1a1a1a" stroke-width="0.9" />
<text x="637.1" y="203.4" font-size="6.9" text-anchor="middle">75</text>
<line x1="565.89" y1="192.9" x2="565.89" y2="194.6" stroke="#1a1a1a" stroke-width="0.7" />
<line x1="570.97" y1="192.9" x2="570.97" y2="194.6" stroke="#1a1a1a" stroke-width="0.7" />
<line x1="581.15" y1="192.9" x2="581.15" y2="194.6" stroke="#1a1a1a" stroke-width="0.7" />
<line x1="586.23" y1="192.9" x2="586.23" y2="194.6" stroke="#1a1a1a" stroke-width="0.7" />
<line x1="596.41" y1="192.9" x2="596.41" y2="194.6" stroke="#1a1a1a" stroke-width="0.7" />
<line x1="601.49" y1="192.9" x2="601.49" y2="194.6" stroke="#1a1a1a" stroke-width="0.7" />
<line x1="611.66" y1="192.9" x2="611.66" y2="194.6" stroke="#1a1a1a" stroke-width="0.7" />
<line x1="616.75" y1="192.9" x2="616.75" y2="194.6" stroke="#1a1a1a" stroke-width="0.7" />
<line x1="626.92" y1="192.9" x2="626.92" y2="194.6" stroke="#1a1a1a" stroke-width="0.7" />
<line x1="632.01" y1="192.9" x2="632.01" y2="194.6" stroke="#1a1a1a" stroke-width="0.7" />
<line x1="642.18" y1="192.9" x2="642.18" y2="194.6" stroke="#1a1a1a" stroke-width="0.7" />
<text x="604.4" y="211.3" font-size="6.9" text-anchor="middle">Time (s)</text>
<text x="0" y="0" font-size="6.9" text-anchor="middle" transform="translate(538.2,158.8) rotate(-90)">Fluorescence intensity</text>
<line x1="560.3" y1="183.3" x2="647.3" y2="183.3" stroke="#555" stroke-width="0.7" stroke-dasharray="2.2,1.6"/>
<path d="M560.8,182.69 L577.08,182.69 L578.09,182.11 L578.4,182.98 L578.91,157.9 L579.72,152.65 L581.15,154.4 L583.18,154.98 L586.23,157.31 L591.32,161.4 L596.41,167.23 L601.49,173.06 L606.58,177.73 L611.66,181.23 L616.75,183.27 L621.84,183.86 L632.01,183.86 L640.66,183.86 L642.69,157.9 L644.22,126.39 L646.76,122.89" fill="none" stroke="#2ee0ea" stroke-width="1.5" stroke-linejoin="round"/>
<line x1="570.2" y1="151.5" x2="590.7" y2="151.5" stroke="#555" stroke-width="0.9" />
<line x1="571.8" y1="154" x2="571.8" y2="181" stroke="#777" stroke-width="0.7" stroke-dasharray="1.5,1.2"/>
<path d="M571.8,152.3L573.34,155.1L570.26,155.1Z" fill="#777"/>
<path d="M571.8,182.6L570.26,179.8L573.34,179.8Z" fill="#777"/>
<text x="562.4" y="148" font-size="7.4" font-style="italic" fill="#333">F<tspan font-size="4.4" dy="2" font-style="normal">Max</tspan></text>
<text x="562.4" y="175" font-size="7.4" font-style="italic" fill="#333">F<tspan font-size="4.4" dy="2" font-style="normal">b</tspan></text>
<line x1="576.4" y1="133.9" x2="576.4" y2="171" stroke="#1a1a1a" stroke-width="1.2" />
<path d="M576.4,175.3L573.92,170.8L578.88,170.8Z" fill="#1a1a1a"/>
<text x="579.9" y="134.3" font-size="7.2">Agonist</text>
<line x1="639.7" y1="163.2" x2="639.7" y2="177.5" stroke="#1a1a1a" stroke-width="1.2" />
<path d="M639.7,181.8L637.23,177.3L642.18,177.3Z" fill="#1a1a1a"/>
<text x="604.6" y="161" font-size="7.2">Ionomycin</text>
<path d="M385,227 L385,206.4 L565.4,206.4 L565.4,198.5" fill="none" stroke="#444" stroke-width="0.8" stroke-dasharray="2.4,1.7"/>
<path d="M565.4,195.5L567.16,198.7L563.64,198.7Z" fill="#444"/>
<path d="M464.5,227 L464.5,211.3 L582,211.3 L582,198.5" fill="none" stroke="#444" stroke-width="0.8" stroke-dasharray="2.4,1.7"/>
<path d="M582,195.5L583.76,198.7L580.24,198.7Z" fill="#444"/>
<path d="M542.6,227 L542.6,215.1 L644.6,215.1 L644.6,198.5" fill="none" stroke="#444" stroke-width="0.8" stroke-dasharray="2.4,1.7"/>
<path d="M644.6,195.5L646.36,198.7L642.84,198.7Z" fill="#444"/>
<rect x="336.3" y="227.3" width="74.5" height="74.5" fill="#131313"/>
<clipPath id="ci0"><rect x="336.3" y="227.3" width="74.5" height="74.5"/></clipPath>
<rect x="414.6" y="227.3" width="74.5" height="74.5" fill="#141414"/>
<clipPath id="ci1"><rect x="414.6" y="227.3" width="74.5" height="74.5"/></clipPath>
<rect x="493.2" y="227.3" width="74.5" height="74.5" fill="#1a1a1a"/>
<clipPath id="ci2"><rect x="493.2" y="227.3" width="74.5" height="74.5"/></clipPath>
<rect x="571.7" y="227.3" width="74.5" height="74.5" fill="#0b080c"/>
<clipPath id="ci3"><rect x="571.7" y="227.3" width="74.5" height="74.5"/></clipPath>
<g clip-path="url(#ci0)"><path d="M367.7,232C370.5,229.85 378.78,230.6 381.7,230.8C384.62,231 383.25,233.38 385.2,233.2C387.15,233.02 389.5,230.48 393.4,229.7C397.3,228.92 407.05,226.95 408.6,228.5C410.15,230.05 405.03,235.1 402.7,239C400.37,242.9 397.32,246.83 394.6,251.9C391.88,256.97 389.33,264.53 386.4,269.4C383.47,274.27 379.73,277.6 377,281.1C374.27,284.6 372.13,287.48 370,290.4C367.87,293.32 366.13,297.12 364.2,298.6C362.27,300.08 359.83,301.05 358.4,299.3C356.97,297.55 356,292.7 355.6,288.1C355.2,283.5 355.15,275.4 356,271.7C356.85,268 359.33,268.23 360.7,265.9C362.07,263.57 363.5,261.4 364.2,257.7C364.9,254 364.32,247.98 364.9,243.7C365.48,239.42 364.9,234.15 367.7,232Z" fill="#3e3e3e" filter="url(#blur1)"/><ellipse cx="386.3" cy="240" rx="12" ry="10" fill="#555" filter="url(#blur1)"/><path d="M337.3,229.7C339.25,226.78 346.07,227.73 349,228.5C351.93,229.27 353.92,231.38 354.9,234.3C355.88,237.22 356.67,243.67 354.9,246C353.13,248.33 347.23,248.3 344.3,248.3C341.37,248.3 338.47,249.1 337.3,246C336.13,242.9 335.35,232.62 337.3,229.7Z" fill="#262626" filter="url(#blur1)"/></g>
<g clip-path="url(#ci1)"><path d="M446,232C448.8,229.85 457.08,230.6 460,230.8C462.92,231 461.55,233.38 463.5,233.2C465.45,233.02 467.8,230.48 471.7,229.7C475.6,228.92 485.35,226.95 486.9,228.5C488.45,230.05 483.33,235.1 481,239C478.67,242.9 475.62,246.83 472.9,251.9C470.18,256.97 467.63,264.53 464.7,269.4C461.77,274.27 458.03,277.6 455.3,281.1C452.57,284.6 450.43,287.48 448.3,290.4C446.17,293.32 444.43,297.12 442.5,298.6C440.57,300.08 438.13,301.05 436.7,299.3C435.27,297.55 434.3,292.7 433.9,288.1C433.5,283.5 433.45,275.4 434.3,271.7C435.15,268 437.63,268.23 439,265.9C440.37,263.57 441.8,261.4 442.5,257.7C443.2,254 442.62,247.98 443.2,243.7C443.78,239.42 443.2,234.15 446,232Z" fill="#8e8e8e" filter="url(#blur1)"/><path d="M415.6,229.7C417.55,226.78 424.37,227.73 427.3,228.5C430.23,229.27 432.22,231.38 433.2,234.3C434.18,237.22 434.97,243.67 433.2,246C431.43,248.33 425.53,248.3 422.6,248.3C419.67,248.3 416.77,249.1 415.6,246C414.43,242.9 413.65,232.62 415.6,229.7Z" fill="#222" filter="url(#blur1)"/>
<ellipse cx="470.6" cy="236" rx="13" ry="6.5" fill="#e6e6e6" transform="rotate(-40 470.6 236)" filter="url(#blur1)"/>
<ellipse cx="472.6" cy="248" rx="5" ry="5" fill="#d8d8d8" filter="url(#blur1)"/>
<ellipse cx="450.6" cy="268" rx="10" ry="5.5" fill="#dcdcdc" transform="rotate(-40 450.6 268)" filter="url(#blur1)"/>
<ellipse cx="461.6" cy="262" rx="4" ry="4" fill="#d0d0d0" filter="url(#blur1)"/>
<circle cx="464.81" cy="241.94" r="1.44" fill="#f6f6f6" opacity="0.75" filter="url(#blur05)"/>
<circle cx="455.92" cy="259.66" r="1.65" fill="#f6f6f6" opacity="0.75" filter="url(#blur05)"/>
<circle cx="469.08" cy="249.97" r="1.32" fill="#f6f6f6" opacity="0.75" filter="url(#blur05)"/>
<circle cx="442.51" cy="269.23" r="1.04" fill="#f6f6f6" opacity="0.75" filter="url(#blur05)"/>
<circle cx="458.3" cy="258.14" r="1.57" fill="#f6f6f6" opacity="0.75" filter="url(#blur05)"/>
<circle cx="459.97" cy="262.86" r="1.43" fill="#f6f6f6" opacity="0.75" filter="url(#blur05)"/>
<circle cx="474.22" cy="246.03" r="1.33" fill="#f6f6f6" opacity="0.75" filter="url(#blur05)"/>
<circle cx="456.74" cy="261.44" r="1.73" fill="#f6f6f6" opacity="0.75" filter="url(#blur05)"/>
<circle cx="464.54" cy="247.32" r="1.74" fill="#f6f6f6" opacity="0.75" filter="url(#blur05)"/>
<circle cx="448.49" cy="271.29" r="1.1" fill="#f6f6f6" opacity="0.75" filter="url(#blur05)"/>
<circle cx="438.6" cy="275.58" r="1.17" fill="#f6f6f6" opacity="0.75" filter="url(#blur05)"/>
<circle cx="456.55" cy="255.54" r="1.43" fill="#f6f6f6" opacity="0.75" filter="url(#blur05)"/>
<circle cx="461.73" cy="255.99" r="1.74" fill="#f6f6f6" opacity="0.75" filter="url(#blur05)"/>
<circle cx="453.44" cy="269.51" r="1.05" fill="#f6f6f6" opacity="0.75" filter="url(#blur05)"/>
<circle cx="455.8" cy="268.91" r="1.41" fill="#f6f6f6" opacity="0.75" filter="url(#blur05)"/>
<circle cx="454.16" cy="267.07" r="1.42" fill="#f6f6f6" opacity="0.75" filter="url(#blur05)"/>
<circle cx="474.14" cy="246.06" r="1.79" fill="#f6f6f6" opacity="0.75" filter="url(#blur05)"/>
<circle cx="474.88" cy="233.94" r="1.04" fill="#f6f6f6" opacity="0.75" filter="url(#blur05)"/>
<circle cx="467.56" cy="240.9" r="0.94" fill="#f6f6f6" opacity="0.75" filter="url(#blur05)"/>
<circle cx="461.82" cy="259.93" r="1.2" fill="#f6f6f6" opacity="0.75" filter="url(#blur05)"/>
<circle cx="451.36" cy="270.47" r="1.8" fill="#f6f6f6" opacity="0.75" filter="url(#blur05)"/>
<circle cx="470.86" cy="246.88" r="0.93" fill="#f6f6f6" opacity="0.75" filter="url(#blur05)"/>
<circle cx="465.29" cy="242.19" r="1.04" fill="#f6f6f6" opacity="0.75" filter="url(#blur05)"/>
<circle cx="477.5" cy="232.59" r="1.76" fill="#f6f6f6" opacity="0.75" filter="url(#blur05)"/>
<circle cx="442.92" cy="273" r="1.37" fill="#f6f6f6" opacity="0.75" filter="url(#blur05)"/>
<circle cx="450.48" cy="258.88" r="1.46" fill="#f6f6f6" opacity="0.75" filter="url(#blur05)"/>
<circle cx="440.37" cy="273.29" r="1.55" fill="#f6f6f6" opacity="0.75" filter="url(#blur05)"/>
<circle cx="465.04" cy="247.69" r="1.37" fill="#f6f6f6" opacity="0.75" filter="url(#blur05)"/>
<circle cx="462.09" cy="256.28" r="1.42" fill="#f6f6f6" opacity="0.75" filter="url(#blur05)"/>
<circle cx="471.69" cy="231" r="0.95" fill="#f6f6f6" opacity="0.75" filter="url(#blur05)"/>
</g>
<g clip-path="url(#ci2)"><path d="M524.6,232C527.4,229.85 535.68,230.6 538.6,230.8C541.52,231 540.15,233.38 542.1,233.2C544.05,233.02 546.4,230.48 550.3,229.7C554.2,228.92 563.95,226.95 565.5,228.5C567.05,230.05 561.93,235.1 559.6,239C557.27,242.9 554.22,246.83 551.5,251.9C548.78,256.97 546.23,264.53 543.3,269.4C540.37,274.27 536.63,277.6 533.9,281.1C531.17,284.6 529.03,287.48 526.9,290.4C524.77,293.32 523.03,297.12 521.1,298.6C519.17,300.08 516.73,301.05 515.3,299.3C513.87,297.55 512.9,292.7 512.5,288.1C512.1,283.5 512.05,275.4 512.9,271.7C513.75,268 516.23,268.23 517.6,265.9C518.97,263.57 520.4,261.4 521.1,257.7C521.8,254 521.22,247.98 521.8,243.7C522.38,239.42 521.8,234.15 524.6,232Z" fill="#a8a8a8" filter="url(#blur1)"/><path d="M494.2,229.7C496.15,226.78 502.97,227.73 505.9,228.5C508.83,229.27 510.82,231.38 511.8,234.3C512.78,237.22 513.57,243.67 511.8,246C510.03,248.33 504.13,248.3 501.2,248.3C498.27,248.3 495.37,249.1 494.2,246C493.03,242.9 492.25,232.62 494.2,229.7Z" fill="#707070" filter="url(#blur1)"/>
<path d="M533.2,232 C548.2,229 557.2,231 553.2,242 C549.2,254 541.2,263 533.2,271 C526.2,277 521.2,272 522.2,261 C524.2,250 526.2,238 533.2,232Z" fill="#fbfbfb" filter="url(#blur1)"/>
<circle cx="525" cy="278.79" r="1.48" fill="#c8c8c8" opacity="0.6"/>
<circle cx="518.96" cy="287.45" r="1.54" fill="#c8c8c8" opacity="0.6"/>
<circle cx="511.69" cy="264.18" r="1.48" fill="#c8c8c8" opacity="0.6"/>
<circle cx="532.39" cy="271.04" r="1.26" fill="#c8c8c8" opacity="0.6"/>
<circle cx="524.24" cy="273.52" r="1.16" fill="#c8c8c8" opacity="0.6"/>
<circle cx="518.08" cy="275.29" r="1.4" fill="#c8c8c8" opacity="0.6"/>
<circle cx="517.81" cy="275.58" r="1.57" fill="#c8c8c8" opacity="0.6"/>
<circle cx="511.79" cy="282.49" r="1.54" fill="#c8c8c8" opacity="0.6"/>
<circle cx="518.02" cy="270.01" r="1.6" fill="#c8c8c8" opacity="0.6"/>
<circle cx="516.45" cy="268.75" r="1.24" fill="#c8c8c8" opacity="0.6"/>
<circle cx="526.56" cy="265.67" r="1.12" fill="#c8c8c8" opacity="0.6"/>
<circle cx="518.54" cy="292.01" r="1.24" fill="#c8c8c8" opacity="0.6"/>
<circle cx="530.02" cy="268.09" r="1.14" fill="#c8c8c8" opacity="0.6"/>
<circle cx="525.51" cy="293.86" r="1.25" fill="#c8c8c8" opacity="0.6"/>
<circle cx="516.15" cy="266.35" r="1.33" fill="#c8c8c8" opacity="0.6"/>
<circle cx="515.4" cy="291.04" r="1.64" fill="#c8c8c8" opacity="0.6"/>
<circle cx="515.24" cy="272.03" r="1.61" fill="#c8c8c8" opacity="0.6"/>
<circle cx="525.32" cy="291.03" r="1.15" fill="#c8c8c8" opacity="0.6"/>
<circle cx="514.05" cy="272.51" r="1.59" fill="#c8c8c8" opacity="0.6"/>
<circle cx="517.17" cy="274.47" r="1.22" fill="#c8c8c8" opacity="0.6"/>
<circle cx="520.43" cy="276.74" r="1.72" fill="#c8c8c8" opacity="0.6"/>
<circle cx="514.63" cy="262.17" r="1.74" fill="#c8c8c8" opacity="0.6"/>
<circle cx="530.56" cy="297.53" r="1.23" fill="#c8c8c8" opacity="0.6"/>
<circle cx="532.1" cy="295.39" r="1.02" fill="#c8c8c8" opacity="0.6"/>
<circle cx="527.6" cy="292.12" r="1.46" fill="#c8c8c8" opacity="0.6"/>
<circle cx="522.62" cy="272.41" r="1.14" fill="#c8c8c8" opacity="0.6"/>
<circle cx="516.2" cy="264.45" r="1.39" fill="#c8c8c8" opacity="0.6"/>
<circle cx="517.51" cy="291.17" r="0.85" fill="#c8c8c8" opacity="0.6"/>
<circle cx="531.08" cy="286.97" r="1.72" fill="#c8c8c8" opacity="0.6"/>
<circle cx="530.92" cy="294.39" r="1.38" fill="#c8c8c8" opacity="0.6"/>
<circle cx="511.49" cy="288.83" r="0.97" fill="#c8c8c8" opacity="0.6"/>
<circle cx="517.8" cy="285.86" r="1.32" fill="#c8c8c8" opacity="0.6"/>
<circle cx="520.3" cy="295.81" r="1.41" fill="#c8c8c8" opacity="0.6"/>
<circle cx="518.71" cy="271.09" r="1.66" fill="#c8c8c8" opacity="0.6"/>
<circle cx="521.7" cy="290.16" r="1.15" fill="#c8c8c8" opacity="0.6"/>
<circle cx="515.54" cy="281.25" r="1.62" fill="#c8c8c8" opacity="0.6"/>
<circle cx="514.97" cy="290.5" r="1.72" fill="#c8c8c8" opacity="0.6"/>
<circle cx="528.93" cy="291.65" r="0.81" fill="#c8c8c8" opacity="0.6"/>
<circle cx="525.03" cy="293.05" r="0.85" fill="#c8c8c8" opacity="0.6"/>
<circle cx="517.17" cy="271.67" r="1.33" fill="#c8c8c8" opacity="0.6"/>
</g>
<g clip-path="url(#ci3)">
<circle cx="603.21" cy="262.53" r="0.71" fill="#5a1a5a" opacity="0.8"/>
<circle cx="635.55" cy="285.06" r="0.42" fill="#5a1a5a" opacity="0.8"/>
<circle cx="576.8" cy="299.91" r="0.74" fill="#5a1a5a" opacity="0.8"/>
<circle cx="610.1" cy="263.8" r="0.46" fill="#5a1a5a" opacity="0.8"/>
<circle cx="597.87" cy="275.5" r="0.63" fill="#3a103a" opacity="0.8"/>
<circle cx="591.44" cy="300.91" r="0.57" fill="#5a1a5a" opacity="0.8"/>
<circle cx="613.09" cy="280.65" r="0.55" fill="#5a1a5a" opacity="0.8"/>
<circle cx="613.92" cy="230.5" r="0.58" fill="#1a4a22" opacity="0.8"/>
<circle cx="630.01" cy="255.63" r="0.72" fill="#1a4a22" opacity="0.8"/>
<circle cx="637.75" cy="231.25" r="0.65" fill="#1a4a22" opacity="0.8"/>
<circle cx="595.16" cy="298.1" r="0.57" fill="#5a1a5a" opacity="0.8"/>
<circle cx="589.96" cy="267.22" r="0.68" fill="#5a1a5a" opacity="0.8"/>
<circle cx="631.53" cy="244.02" r="0.45" fill="#5a1a5a" opacity="0.8"/>
<circle cx="641.47" cy="255.18" r="0.76" fill="#3a103a" opacity="0.8"/>
<circle cx="580.75" cy="278.75" r="0.78" fill="#1a4a22" opacity="0.8"/>
<circle cx="621.04" cy="293.41" r="0.72" fill="#1a4a22" opacity="0.8"/>
<circle cx="579.79" cy="251.02" r="0.61" fill="#1a4a22" opacity="0.8"/>
<circle cx="625.09" cy="262.58" r="0.49" fill="#3a103a" opacity="0.8"/>
<circle cx="575" cy="234.14" r="0.44" fill="#3a103a" opacity="0.8"/>
<circle cx="585.05" cy="229.05" r="0.74" fill="#5a1a5a" opacity="0.8"/>
<circle cx="573.6" cy="235.87" r="0.59" fill="#1a4a22" opacity="0.8"/>
<circle cx="642.65" cy="270.44" r="0.72" fill="#5a1a5a" opacity="0.8"/>
<circle cx="645.92" cy="269.29" r="0.61" fill="#5a1a5a" opacity="0.8"/>
<circle cx="579.65" cy="283.1" r="0.77" fill="#5a1a5a" opacity="0.8"/>
<circle cx="612.68" cy="292.07" r="0.47" fill="#5a1a5a" opacity="0.8"/>
<circle cx="589.74" cy="240.69" r="0.5" fill="#1a4a22" opacity="0.8"/>
<circle cx="623.86" cy="297.53" r="0.5" fill="#1a4a22" opacity="0.8"/>
<circle cx="601.25" cy="253.4" r="0.57" fill="#5a1a5a" opacity="0.8"/>
<circle cx="599.66" cy="244.83" r="0.77" fill="#1a4a22" opacity="0.8"/>
<circle cx="643.75" cy="258.24" r="0.63" fill="#1a4a22" opacity="0.8"/>
<circle cx="621.9" cy="265.82" r="0.59" fill="#1a4a22" opacity="0.8"/>
<circle cx="601.58" cy="293.42" r="0.47" fill="#3a103a" opacity="0.8"/>
<circle cx="627.44" cy="295.59" r="0.61" fill="#3a103a" opacity="0.8"/>
<circle cx="615.39" cy="291.23" r="0.45" fill="#5a1a5a" opacity="0.8"/>
<circle cx="582.62" cy="265.71" r="0.77" fill="#1a4a22" opacity="0.8"/>
<circle cx="611.78" cy="285.38" r="0.67" fill="#3a103a" opacity="0.8"/>
<circle cx="616.04" cy="270.85" r="0.79" fill="#5a1a5a" opacity="0.8"/>
<circle cx="594.59" cy="247.27" r="0.72" fill="#5a1a5a" opacity="0.8"/>
<circle cx="584.53" cy="254.16" r="0.53" fill="#5a1a5a" opacity="0.8"/>
<circle cx="602.87" cy="279.27" r="0.68" fill="#5a1a5a" opacity="0.8"/>
<circle cx="606.57" cy="289.48" r="0.73" fill="#1a4a22" opacity="0.8"/>
<circle cx="573.77" cy="301.26" r="0.43" fill="#3a103a" opacity="0.8"/>
<circle cx="630.04" cy="293" r="0.42" fill="#5a1a5a" opacity="0.8"/>
<circle cx="638.08" cy="275.59" r="0.71" fill="#5a1a5a" opacity="0.8"/>
<circle cx="643.12" cy="290.91" r="0.5" fill="#5a1a5a" opacity="0.8"/>
<circle cx="629.5" cy="237.54" r="0.65" fill="#1a4a22" opacity="0.8"/>
<circle cx="635.67" cy="294.33" r="0.5" fill="#5a1a5a" opacity="0.8"/>
<circle cx="595.05" cy="258.84" r="0.69" fill="#5a1a5a" opacity="0.8"/>
<circle cx="580.49" cy="246.98" r="0.77" fill="#5a1a5a" opacity="0.8"/>
<circle cx="598.27" cy="270.53" r="0.67" fill="#5a1a5a" opacity="0.8"/>
<circle cx="573.89" cy="251.99" r="0.55" fill="#5a1a5a" opacity="0.8"/>
<circle cx="587.35" cy="270.89" r="0.78" fill="#3a103a" opacity="0.8"/>
<circle cx="581.04" cy="251.05" r="0.75" fill="#5a1a5a" opacity="0.8"/>
<circle cx="621.27" cy="235.68" r="0.75" fill="#3a103a" opacity="0.8"/>
<circle cx="578.92" cy="297.43" r="0.55" fill="#3a103a" opacity="0.8"/>
<circle cx="628.12" cy="249.32" r="0.67" fill="#1a4a22" opacity="0.8"/>
<circle cx="642.04" cy="288.19" r="0.44" fill="#3a103a" opacity="0.8"/>
<circle cx="621.83" cy="267.24" r="0.45" fill="#3a103a" opacity="0.8"/>
<circle cx="609.6" cy="231.73" r="0.52" fill="#1a4a22" opacity="0.8"/>
<circle cx="613.9" cy="240.86" r="0.66" fill="#1a4a22" opacity="0.8"/>
<circle cx="582.84" cy="254.92" r="0.77" fill="#3a103a" opacity="0.8"/>
<circle cx="580.87" cy="296.72" r="0.46" fill="#3a103a" opacity="0.8"/>
<circle cx="619.75" cy="275.69" r="0.57" fill="#3a103a" opacity="0.8"/>
<circle cx="619.94" cy="261.4" r="0.52" fill="#5a1a5a" opacity="0.8"/>
<circle cx="624.26" cy="235.3" r="0.47" fill="#1a4a22" opacity="0.8"/>
<circle cx="612.16" cy="282.4" r="0.54" fill="#3a103a" opacity="0.8"/>
<circle cx="591.88" cy="231.28" r="0.45" fill="#3a103a" opacity="0.8"/>
<circle cx="609.3" cy="245.72" r="0.71" fill="#3a103a" opacity="0.8"/>
<circle cx="636.91" cy="297.71" r="0.58" fill="#5a1a5a" opacity="0.8"/>
<circle cx="597.99" cy="290.39" r="0.44" fill="#3a103a" opacity="0.8"/>
<circle cx="615.66" cy="278.07" r="0.63" fill="#1a4a22" opacity="0.8"/>
<circle cx="580.05" cy="279.31" r="0.63" fill="#1a4a22" opacity="0.8"/>
<circle cx="627.08" cy="288.07" r="0.7" fill="#1a4a22" opacity="0.8"/>
<circle cx="616.99" cy="291.33" r="0.72" fill="#1a4a22" opacity="0.8"/>
<circle cx="611.01" cy="269.64" r="0.48" fill="#3a103a" opacity="0.8"/>
<circle cx="599.24" cy="249.13" r="0.74" fill="#3a103a" opacity="0.8"/>
<circle cx="638.09" cy="298.02" r="0.55" fill="#1a4a22" opacity="0.8"/>
<circle cx="639.21" cy="250.37" r="0.6" fill="#1a4a22" opacity="0.8"/>
<circle cx="622.85" cy="249.61" r="0.74" fill="#3a103a" opacity="0.8"/>
<circle cx="573.95" cy="241.49" r="0.65" fill="#5a1a5a" opacity="0.8"/>
<circle cx="629.1" cy="276.61" r="0.6" fill="#1a4a22" opacity="0.8"/>
<circle cx="618.26" cy="242.12" r="0.71" fill="#5a1a5a" opacity="0.8"/>
<circle cx="574.46" cy="264.58" r="0.66" fill="#3a103a" opacity="0.8"/>
<circle cx="580.01" cy="248.4" r="0.66" fill="#5a1a5a" opacity="0.8"/>
<circle cx="581.8" cy="286.33" r="0.65" fill="#5a1a5a" opacity="0.8"/>
<circle cx="573.6" cy="273.37" r="0.6" fill="#3a103a" opacity="0.8"/>
<circle cx="611.85" cy="296.57" r="0.53" fill="#3a103a" opacity="0.8"/>
<circle cx="623.45" cy="237.31" r="0.74" fill="#1a4a22" opacity="0.8"/>
<circle cx="629.46" cy="229.83" r="0.43" fill="#3a103a" opacity="0.8"/>
<circle cx="646.04" cy="242.58" r="0.43" fill="#5a1a5a" opacity="0.8"/>
<circle cx="604.26" cy="283.69" r="0.59" fill="#5a1a5a" opacity="0.8"/>
<circle cx="630.32" cy="257.73" r="0.74" fill="#1a4a22" opacity="0.8"/>
<circle cx="583.68" cy="264.34" r="0.68" fill="#1a4a22" opacity="0.8"/>
<circle cx="635.16" cy="242.82" r="0.6" fill="#5a1a5a" opacity="0.8"/>
<circle cx="606.3" cy="283.7" r="0.56" fill="#5a1a5a" opacity="0.8"/>
<circle cx="605.63" cy="230.07" r="0.5" fill="#3a103a" opacity="0.8"/>
<circle cx="605.06" cy="254.23" r="0.56" fill="#5a1a5a" opacity="0.8"/>
<circle cx="631.61" cy="246.57" r="0.55" fill="#3a103a" opacity="0.8"/>
<circle cx="611.47" cy="239.15" r="0.41" fill="#1a4a22" opacity="0.8"/>
<circle cx="601.78" cy="239.84" r="0.41" fill="#5a1a5a" opacity="0.8"/>
<circle cx="617.05" cy="260.28" r="0.47" fill="#5a1a5a" opacity="0.8"/>
<circle cx="601.73" cy="250.98" r="0.41" fill="#1a4a22" opacity="0.8"/>
<circle cx="575.51" cy="257.35" r="0.56" fill="#5a1a5a" opacity="0.8"/>
<circle cx="639.42" cy="293.09" r="0.5" fill="#3a103a" opacity="0.8"/>
<circle cx="607.06" cy="239.57" r="0.65" fill="#3a103a" opacity="0.8"/>
<circle cx="639.7" cy="271.58" r="0.72" fill="#3a103a" opacity="0.8"/>
<circle cx="592.19" cy="285.99" r="0.59" fill="#3a103a" opacity="0.8"/>
<circle cx="608.1" cy="269.1" r="0.41" fill="#3a103a" opacity="0.8"/>
<circle cx="618.57" cy="252.98" r="0.44" fill="#1a4a22" opacity="0.8"/>
<circle cx="604.14" cy="233.96" r="0.65" fill="#5a1a5a" opacity="0.8"/>
<circle cx="573.96" cy="234.04" r="0.47" fill="#5a1a5a" opacity="0.8"/>
<circle cx="607.6" cy="241.39" r="0.6" fill="#3a103a" opacity="0.8"/>
<circle cx="586.65" cy="299.85" r="0.59" fill="#3a103a" opacity="0.8"/>
<circle cx="640.04" cy="297.34" r="0.41" fill="#3a103a" opacity="0.8"/>
<circle cx="627.69" cy="274.35" r="0.56" fill="#3a103a" opacity="0.8"/>
<circle cx="585.42" cy="258.07" r="0.6" fill="#1a4a22" opacity="0.8"/>
<circle cx="596.6" cy="277.96" r="0.77" fill="#5a1a5a" opacity="0.8"/>
<circle cx="634.09" cy="291.71" r="0.55" fill="#1a4a22" opacity="0.8"/>
<circle cx="598.46" cy="241" r="0.72" fill="#3a103a" opacity="0.8"/>
<circle cx="588.79" cy="285.37" r="0.59" fill="#3a103a" opacity="0.8"/>
<circle cx="632.86" cy="265.08" r="0.7" fill="#1a4a22" opacity="0.8"/>
<circle cx="623.62" cy="298.03" r="0.42" fill="#5a1a5a" opacity="0.8"/>
<circle cx="624.65" cy="229.01" r="0.59" fill="#1a4a22" opacity="0.8"/>
<circle cx="622.16" cy="234.53" r="0.49" fill="#1a4a22" opacity="0.8"/>
<circle cx="575.9" cy="272.91" r="0.42" fill="#3a103a" opacity="0.8"/>
<circle cx="638.52" cy="281.9" r="0.53" fill="#3a103a" opacity="0.8"/>
<circle cx="571.82" cy="241.82" r="0.71" fill="#5a1a5a" opacity="0.8"/>
<circle cx="596.92" cy="250.49" r="0.58" fill="#1a4a22" opacity="0.8"/>
<circle cx="587.37" cy="278.57" r="0.79" fill="#1a4a22" opacity="0.8"/>
<circle cx="582.36" cy="300.71" r="0.44" fill="#3a103a" opacity="0.8"/>
<circle cx="643.76" cy="243.7" r="0.62" fill="#3a103a" opacity="0.8"/>
<circle cx="609.32" cy="294.89" r="0.53" fill="#1a4a22" opacity="0.8"/>
<circle cx="629.97" cy="262.13" r="0.65" fill="#5a1a5a" opacity="0.8"/>
<circle cx="633.2" cy="235.68" r="0.41" fill="#5a1a5a" opacity="0.8"/>
<circle cx="586.54" cy="293.85" r="0.43" fill="#3a103a" opacity="0.8"/>
<circle cx="601.44" cy="288.8" r="0.67" fill="#5a1a5a" opacity="0.8"/>
<circle cx="619.51" cy="284.02" r="0.75" fill="#3a103a" opacity="0.8"/>
<circle cx="601.71" cy="276.55" r="0.71" fill="#3a103a" opacity="0.8"/>
<circle cx="633.94" cy="271.58" r="0.73" fill="#5a1a5a" opacity="0.8"/>
<circle cx="580.41" cy="227.86" r="0.52" fill="#1a4a22" opacity="0.8"/>
<circle cx="616.17" cy="233.5" r="1.06" fill="#d830c8" opacity="0.85"/>
<circle cx="605.86" cy="278.55" r="0.88" fill="#d830c8" opacity="0.85"/>
<circle cx="613.89" cy="245.4" r="0.68" fill="#f4c8f4" opacity="0.85"/>
<circle cx="606.49" cy="258.9" r="0.95" fill="#f070e8" opacity="0.85"/>
<circle cx="619.71" cy="291.43" r="1.02" fill="#48d060" opacity="0.85"/>
<circle cx="605.58" cy="254.97" r="0.82" fill="#e8e0e8" opacity="0.85"/>
<circle cx="605.52" cy="285.68" r="0.71" fill="#e838e0" opacity="0.85"/>
<circle cx="596.52" cy="293.65" r="0.71" fill="#38c850" opacity="0.85"/>
<circle cx="617.87" cy="263.56" r="0.7" fill="#f070e8" opacity="0.85"/>
<circle cx="609.78" cy="260.1" r="0.63" fill="#b840b8" opacity="0.85"/>
<circle cx="628.62" cy="259.75" r="0.63" fill="#f070e8" opacity="0.85"/>
<circle cx="614.32" cy="284.82" r="1.07" fill="#f4c8f4" opacity="0.85"/>
<circle cx="630.02" cy="258.95" r="0.67" fill="#48d060" opacity="0.85"/>
<circle cx="598.94" cy="294.99" r="1.04" fill="#f4c8f4" opacity="0.85"/>
<circle cx="601.74" cy="285.08" r="0.56" fill="#48d060" opacity="0.85"/>
<circle cx="622.25" cy="237.61" r="1.07" fill="#38c850" opacity="0.85"/>
<circle cx="643" cy="229.31" r="1.09" fill="#f4c8f4" opacity="0.85"/>
<circle cx="621.89" cy="282.7" r="0.68" fill="#38c850" opacity="0.85"/>
<circle cx="632.77" cy="249.27" r="0.85" fill="#f0a0f0" opacity="0.85"/>
<circle cx="614.54" cy="233.74" r="0.78" fill="#e838e0" opacity="0.85"/>
<circle cx="601.92" cy="246.46" r="1.05" fill="#38c850" opacity="0.85"/>
<circle cx="600.28" cy="284.76" r="0.83" fill="#e8e0e8" opacity="0.85"/>
<circle cx="608.55" cy="286.95" r="0.57" fill="#38c850" opacity="0.85"/>
<circle cx="599.39" cy="264.24" r="0.81" fill="#e838e0" opacity="0.85"/>
<circle cx="623.54" cy="277.17" r="0.83" fill="#f0a0f0" opacity="0.85"/>
<circle cx="620.88" cy="253.89" r="0.93" fill="#d830c8" opacity="0.85"/>
<circle cx="605.09" cy="299.06" r="0.79" fill="#f4c8f4" opacity="0.85"/>
<circle cx="609.31" cy="247.18" r="0.64" fill="#48d060" opacity="0.85"/>
<circle cx="618.18" cy="250.32" r="1.01" fill="#f070e8" opacity="0.85"/>
<circle cx="608.11" cy="293.18" r="0.88" fill="#f0a0f0" opacity="0.85"/>
<circle cx="607" cy="237.5" r="0.61" fill="#b840b8" opacity="0.85"/>
<circle cx="606.38" cy="276.21" r="0.66" fill="#e838e0" opacity="0.85"/>
<circle cx="596.64" cy="293.82" r="0.72" fill="#e8e0e8" opacity="0.85"/>
<circle cx="634.57" cy="249.28" r="0.89" fill="#f4c8f4" opacity="0.85"/>
<circle cx="597.63" cy="267.64" r="1.09" fill="#e8e0e8" opacity="0.85"/>
<circle cx="611.6" cy="232.51" r="0.93" fill="#d830c8" opacity="0.85"/>
<circle cx="626.48" cy="234.78" r="1.07" fill="#e838e0" opacity="0.85"/>
<circle cx="609.28" cy="297.88" r="0.8" fill="#e838e0" opacity="0.85"/>
<circle cx="620.05" cy="247.54" r="1.08" fill="#e838e0" opacity="0.85"/>
<circle cx="636.22" cy="237.1" r="0.92" fill="#e838e0" opacity="0.85"/>
<circle cx="599.69" cy="272.8" r="0.72" fill="#38c850" opacity="0.85"/>
<circle cx="599.31" cy="273.29" r="1.08" fill="#48d060" opacity="0.85"/>
<circle cx="609.18" cy="264.93" r="0.65" fill="#e8e0e8" opacity="0.85"/>
<circle cx="607.5" cy="228.35" r="0.62" fill="#b840b8" opacity="0.85"/>
<circle cx="631.2" cy="251.68" r="0.55" fill="#f070e8" opacity="0.85"/>
<circle cx="603.84" cy="254.62" r="0.74" fill="#d830c8" opacity="0.85"/>
<circle cx="604.28" cy="297.27" r="0.81" fill="#f4c8f4" opacity="0.85"/>
<circle cx="609.83" cy="282.66" r="0.86" fill="#e838e0" opacity="0.85"/>
<circle cx="615.7" cy="261.18" r="0.8" fill="#48d060" opacity="0.85"/>
<circle cx="624.91" cy="254.82" r="0.72" fill="#38c850" opacity="0.85"/>
<circle cx="619.37" cy="289.1" r="0.62" fill="#f070e8" opacity="0.85"/>
<circle cx="597.65" cy="271.92" r="0.61" fill="#38c850" opacity="0.85"/>
<circle cx="638.14" cy="230.18" r="0.93" fill="#f0a0f0" opacity="0.85"/>
<circle cx="621.88" cy="264.19" r="0.87" fill="#48d060" opacity="0.85"/>
<circle cx="620.39" cy="250.34" r="0.83" fill="#e838e0" opacity="0.85"/>
<circle cx="609.91" cy="254.33" r="0.97" fill="#f0a0f0" opacity="0.85"/>
<circle cx="604.58" cy="280.83" r="0.71" fill="#f4c8f4" opacity="0.85"/>
<circle cx="598.1" cy="296.82" r="0.67" fill="#48d060" opacity="0.85"/>
<circle cx="609.76" cy="298.67" r="1.08" fill="#e8e0e8" opacity="0.85"/>
<circle cx="613.9" cy="260.73" r="1.09" fill="#38c850" opacity="0.85"/>
<circle cx="611.23" cy="266.52" r="0.78" fill="#d830c8" opacity="0.85"/>
<circle cx="616.27" cy="266.76" r="1.02" fill="#f070e8" opacity="0.85"/>
<circle cx="632.68" cy="255.12" r="0.58" fill="#f070e8" opacity="0.85"/>
<circle cx="601.17" cy="264.5" r="0.94" fill="#e8e0e8" opacity="0.85"/>
<circle cx="609.5" cy="254.05" r="0.79" fill="#e8e0e8" opacity="0.85"/>
<circle cx="610.6" cy="291.78" r="0.63" fill="#e838e0" opacity="0.85"/>
<circle cx="614.54" cy="244.29" r="1.04" fill="#38c850" opacity="0.85"/>
<circle cx="617.11" cy="241.84" r="0.85" fill="#e838e0" opacity="0.85"/>
<circle cx="606.2" cy="295.28" r="0.79" fill="#f070e8" opacity="0.85"/>
<circle cx="598.5" cy="278.66" r="0.67" fill="#e8e0e8" opacity="0.85"/>
<circle cx="613.56" cy="238.21" r="1" fill="#d830c8" opacity="0.85"/>
<circle cx="598.6" cy="269.23" r="0.76" fill="#f4c8f4" opacity="0.85"/>
<circle cx="629.99" cy="263.19" r="0.76" fill="#38c850" opacity="0.85"/>
<circle cx="611.24" cy="265.36" r="0.79" fill="#b840b8" opacity="0.85"/>
<circle cx="640.27" cy="235.75" r="0.59" fill="#d830c8" opacity="0.85"/>
<circle cx="612.98" cy="290.44" r="0.73" fill="#e838e0" opacity="0.85"/>
<circle cx="609.02" cy="292.09" r="0.9" fill="#f4c8f4" opacity="0.85"/>
<circle cx="598.49" cy="290.76" r="1.08" fill="#e8e0e8" opacity="0.85"/>
<circle cx="623.37" cy="233.35" r="0.84" fill="#48d060" opacity="0.85"/>
<circle cx="598.97" cy="268.25" r="1" fill="#e838e0" opacity="0.85"/>
<circle cx="602.51" cy="293.49" r="0.91" fill="#e838e0" opacity="0.85"/>
<circle cx="603.43" cy="265.24" r="0.62" fill="#f0a0f0" opacity="0.85"/>
<circle cx="616.97" cy="265.69" r="1.02" fill="#f0a0f0" opacity="0.85"/>
<circle cx="600.15" cy="279.38" r="1.02" fill="#e8e0e8" opacity="0.85"/>
<circle cx="610.91" cy="274.75" r="1" fill="#38c850" opacity="0.85"/>
<circle cx="594.73" cy="297.16" r="1.01" fill="#e8e0e8" opacity="0.85"/>
<circle cx="626.46" cy="250.02" r="0.76" fill="#f070e8" opacity="0.85"/>
<circle cx="616.02" cy="287.53" r="0.75" fill="#e8e0e8" opacity="0.85"/>
<circle cx="611.3" cy="243.47" r="0.93" fill="#e838e0" opacity="0.85"/>
<circle cx="603.19" cy="251.38" r="0.65" fill="#e838e0" opacity="0.85"/>
<circle cx="619.69" cy="238.95" r="0.89" fill="#f4c8f4" opacity="0.85"/>
<circle cx="629.61" cy="240.23" r="0.78" fill="#48d060" opacity="0.85"/>
<circle cx="612.72" cy="240.26" r="0.98" fill="#d830c8" opacity="0.85"/>
<circle cx="606.23" cy="290.21" r="0.84" fill="#b840b8" opacity="0.85"/>
<circle cx="615.13" cy="257.77" r="1.09" fill="#48d060" opacity="0.85"/>
<circle cx="634.2" cy="252.84" r="0.61" fill="#38c850" opacity="0.85"/>
<circle cx="627.75" cy="256.76" r="0.61" fill="#f4c8f4" opacity="0.85"/>
<circle cx="624.58" cy="265.93" r="0.63" fill="#48d060" opacity="0.85"/>
<circle cx="601.87" cy="292.54" r="1" fill="#f4c8f4" opacity="0.85"/>
<circle cx="604.54" cy="243.67" r="0.88" fill="#48d060" opacity="0.85"/>
<circle cx="617.68" cy="269.21" r="1.09" fill="#f4c8f4" opacity="0.85"/>
<circle cx="614" cy="287.35" r="0.78" fill="#e838e0" opacity="0.85"/>
<circle cx="621.02" cy="267.91" r="0.86" fill="#f4c8f4" opacity="0.85"/>
<circle cx="625.92" cy="246.24" r="0.94" fill="#e8e0e8" opacity="0.85"/>
<circle cx="605.24" cy="252.99" r="0.64" fill="#e838e0" opacity="0.85"/>
<circle cx="605.34" cy="256.03" r="0.75" fill="#f0a0f0" opacity="0.85"/>
<circle cx="612.4" cy="280.93" r="0.83" fill="#38c850" opacity="0.85"/>
<circle cx="605.32" cy="240.19" r="1.03" fill="#e8e0e8" opacity="0.85"/>
<circle cx="610.02" cy="263.38" r="0.93" fill="#b840b8" opacity="0.85"/>
<circle cx="610.3" cy="243.44" r="0.81" fill="#d830c8" opacity="0.85"/>
<circle cx="606.95" cy="261.1" r="0.7" fill="#38c850" opacity="0.85"/>
<circle cx="621.1" cy="284.84" r="1.09" fill="#f070e8" opacity="0.85"/>
<circle cx="614.64" cy="286.55" r="1.03" fill="#d830c8" opacity="0.85"/>
<circle cx="605.12" cy="239.69" r="1.09" fill="#f4c8f4" opacity="0.85"/>
<circle cx="626.46" cy="250.19" r="0.7" fill="#e838e0" opacity="0.85"/>
<circle cx="609.33" cy="266.11" r="0.83" fill="#e8e0e8" opacity="0.85"/>
<circle cx="607.76" cy="278.7" r="0.71" fill="#b840b8" opacity="0.85"/>
<circle cx="632.76" cy="246.22" r="0.64" fill="#e838e0" opacity="0.85"/>
<circle cx="601.93" cy="275.15" r="0.95" fill="#48d060" opacity="0.85"/>
<circle cx="626.91" cy="243.51" r="0.57" fill="#b840b8" opacity="0.85"/>
<circle cx="620.48" cy="269.76" r="0.61" fill="#f070e8" opacity="0.85"/>
<circle cx="636.17" cy="241.95" r="0.96" fill="#e8e0e8" opacity="0.85"/>
<circle cx="622.38" cy="239.43" r="0.95" fill="#f0a0f0" opacity="0.85"/>
<circle cx="603.49" cy="244.97" r="0.6" fill="#38c850" opacity="0.85"/>
<circle cx="613.64" cy="278.32" r="0.85" fill="#e838e0" opacity="0.85"/>
<circle cx="608.68" cy="274.46" r="0.59" fill="#e838e0" opacity="0.85"/>
<circle cx="607.47" cy="275.16" r="0.84" fill="#f4c8f4" opacity="0.85"/>
<circle cx="633.83" cy="250.01" r="0.76" fill="#f070e8" opacity="0.85"/>
<circle cx="606.01" cy="286.66" r="0.89" fill="#f4c8f4" opacity="0.85"/>
<circle cx="605.97" cy="257.78" r="0.68" fill="#f070e8" opacity="0.85"/>
<circle cx="601.57" cy="257.21" r="0.61" fill="#f0a0f0" opacity="0.85"/>
<circle cx="602.51" cy="274.37" r="0.56" fill="#e8e0e8" opacity="0.85"/>
<circle cx="606.22" cy="252.68" r="0.9" fill="#b840b8" opacity="0.85"/>
<circle cx="600.87" cy="300.58" r="0.84" fill="#f070e8" opacity="0.85"/>
<circle cx="608.65" cy="256.96" r="0.83" fill="#e838e0" opacity="0.85"/>
<circle cx="638.17" cy="235.51" r="0.63" fill="#f0a0f0" opacity="0.85"/>
<circle cx="607.04" cy="265.49" r="0.75" fill="#f070e8" opacity="0.85"/>
<circle cx="593.88" cy="299.95" r="0.99" fill="#e838e0" opacity="0.85"/>
<circle cx="616.89" cy="279.39" r="0.81" fill="#e838e0" opacity="0.85"/>
<circle cx="631.93" cy="229.82" r="0.58" fill="#e838e0" opacity="0.85"/>
<circle cx="604.23" cy="276.51" r="0.98" fill="#b840b8" opacity="0.85"/>
<circle cx="602.17" cy="285.98" r="1.08" fill="#e8e0e8" opacity="0.85"/>
<circle cx="641.1" cy="229.92" r="0.64" fill="#d830c8" opacity="0.85"/>
<circle cx="624.45" cy="257.08" r="0.9" fill="#38c850" opacity="0.85"/>
<circle cx="628.8" cy="234" r="0.55" fill="#48d060" opacity="0.85"/>
<circle cx="629.22" cy="234.62" r="0.92" fill="#e8e0e8" opacity="0.85"/>
<circle cx="627.04" cy="251.69" r="0.88" fill="#f4c8f4" opacity="0.85"/>
<circle cx="615.43" cy="231.03" r="0.98" fill="#b840b8" opacity="0.85"/>
<circle cx="600.05" cy="280.23" r="0.96" fill="#b840b8" opacity="0.85"/>
<circle cx="603.95" cy="295.7" r="0.88" fill="#f4c8f4" opacity="0.85"/>
<circle cx="625.73" cy="273.95" r="0.68" fill="#e8e0e8" opacity="0.85"/>
<circle cx="605.01" cy="239.79" r="0.8" fill="#48d060" opacity="0.85"/>
<circle cx="612.4" cy="259.37" r="0.79" fill="#e8e0e8" opacity="0.85"/>
<circle cx="632.09" cy="231.88" r="1.05" fill="#f4c8f4" opacity="0.85"/>
<circle cx="616.77" cy="254.73" r="0.97" fill="#f070e8" opacity="0.85"/>
<circle cx="619.65" cy="231.61" r="0.97" fill="#f0a0f0" opacity="0.85"/>
<circle cx="610.09" cy="262.45" r="0.89" fill="#e8e0e8" opacity="0.85"/>
<circle cx="599.48" cy="262.39" r="1.05" fill="#38c850" opacity="0.85"/>
<circle cx="634.39" cy="243.2" r="1.09" fill="#d830c8" opacity="0.85"/>
<circle cx="631.47" cy="239.53" r="0.61" fill="#d830c8" opacity="0.85"/>
<circle cx="634.9" cy="243.64" r="1.05" fill="#38c850" opacity="0.85"/>
<circle cx="602.97" cy="258.19" r="0.82" fill="#e8e0e8" opacity="0.85"/>
<circle cx="611.61" cy="271.2" r="0.56" fill="#48d060" opacity="0.85"/>
<circle cx="599.83" cy="295.88" r="0.71" fill="#d830c8" opacity="0.85"/>
<circle cx="637.03" cy="233.15" r="1.03" fill="#f070e8" opacity="0.85"/>
<circle cx="625.47" cy="250.41" r="0.72" fill="#48d060" opacity="0.85"/>
<circle cx="620.95" cy="243.78" r="0.55" fill="#e8e0e8" opacity="0.85"/>
<circle cx="620.6" cy="273.36" r="0.96" fill="#38c850" opacity="0.85"/>
<circle cx="595.06" cy="286.03" r="0.71" fill="#f070e8" opacity="0.85"/>
<circle cx="606.83" cy="251.61" r="0.98" fill="#48d060" opacity="0.85"/>
<circle cx="606.24" cy="260.84" r="0.7" fill="#e8e0e8" opacity="0.85"/>
<circle cx="633.97" cy="247.55" r="0.72" fill="#f070e8" opacity="0.85"/>
<circle cx="598.33" cy="277.46" r="0.94" fill="#e8e0e8" opacity="0.85"/>
<circle cx="615.85" cy="284.19" r="0.88" fill="#d830c8" opacity="0.85"/>
<circle cx="608.74" cy="236.08" r="0.64" fill="#f0a0f0" opacity="0.85"/>
<circle cx="603.47" cy="250.87" r="0.59" fill="#48d060" opacity="0.85"/>
<circle cx="607.4" cy="290.29" r="0.98" fill="#e838e0" opacity="0.85"/>
<circle cx="624.02" cy="259.45" r="0.98" fill="#d830c8" opacity="0.85"/>
<circle cx="628.64" cy="253.71" r="0.66" fill="#48d060" opacity="0.85"/>
<circle cx="613.58" cy="261.97" r="1.06" fill="#e838e0" opacity="0.85"/>
<circle cx="619.38" cy="251.9" r="0.81" fill="#e838e0" opacity="0.85"/>
<circle cx="599.98" cy="281.44" r="0.91" fill="#d830c8" opacity="0.85"/>
<circle cx="629.13" cy="242.34" r="0.59" fill="#f4c8f4" opacity="0.85"/>
<circle cx="623.88" cy="268.31" r="1.09" fill="#e838e0" opacity="0.85"/>
<circle cx="617.89" cy="230.25" r="0.8" fill="#48d060" opacity="0.85"/>
<circle cx="617.57" cy="283.57" r="1.03" fill="#e8e0e8" opacity="0.85"/>
<circle cx="599.18" cy="269.06" r="0.92" fill="#d830c8" opacity="0.85"/>
<circle cx="604.96" cy="240.85" r="0.57" fill="#f4c8f4" opacity="0.85"/>
<circle cx="627.47" cy="241.33" r="1.04" fill="#48d060" opacity="0.85"/>
<circle cx="604.04" cy="279.87" r="0.72" fill="#f0a0f0" opacity="0.85"/>
<circle cx="633.41" cy="252.6" r="0.91" fill="#48d060" opacity="0.85"/>
<circle cx="633.53" cy="228.83" r="0.79" fill="#f4c8f4" opacity="0.85"/>
<circle cx="618.8" cy="264.13" r="1.02" fill="#b840b8" opacity="0.85"/>
<circle cx="608.49" cy="246.92" r="0.79" fill="#f4c8f4" opacity="0.85"/>
<circle cx="616.61" cy="256.86" r="0.71" fill="#f4c8f4" opacity="0.85"/>
<circle cx="625.63" cy="251.51" r="0.59" fill="#f4c8f4" opacity="0.85"/>
<circle cx="611.34" cy="295.2" r="1.08" fill="#e8e0e8" opacity="0.85"/>
<circle cx="624.04" cy="266.42" r="0.55" fill="#f4c8f4" opacity="0.85"/>
<circle cx="607.25" cy="279.08" r="0.84" fill="#e838e0" opacity="0.85"/>
<circle cx="600.13" cy="288.97" r="0.84" fill="#48d060" opacity="0.85"/>
<circle cx="624.85" cy="262.14" r="0.6" fill="#b840b8" opacity="0.85"/>
<circle cx="619.37" cy="278.88" r="0.94" fill="#e8e0e8" opacity="0.85"/>
<circle cx="610.82" cy="241.11" r="1.05" fill="#48d060" opacity="0.85"/>
<circle cx="636.32" cy="248.6" r="0.8" fill="#f070e8" opacity="0.85"/>
<circle cx="605.64" cy="269.36" r="0.92" fill="#48d060" opacity="0.85"/>
<circle cx="621.25" cy="228.06" r="1.05" fill="#e838e0" opacity="0.85"/>
<circle cx="619.76" cy="272.55" r="0.87" fill="#e838e0" opacity="0.85"/>
<circle cx="625.65" cy="263.82" r="0.68" fill="#f4c8f4" opacity="0.85"/>
<circle cx="602.39" cy="244.04" r="0.74" fill="#d830c8" opacity="0.85"/>
<circle cx="605.12" cy="227.13" r="0.64" fill="#d830c8" opacity="0.85"/>
<circle cx="627.72" cy="254.16" r="0.9" fill="#48d060" opacity="0.85"/>
<circle cx="632.29" cy="231.38" r="0.63" fill="#f4c8f4" opacity="0.85"/>
<circle cx="608.95" cy="250.03" r="0.87" fill="#f4c8f4" opacity="0.85"/>
<circle cx="618.02" cy="239.53" r="0.8" fill="#e838e0" opacity="0.85"/>
<circle cx="599.23" cy="257.6" r="0.59" fill="#f0a0f0" opacity="0.85"/>
<circle cx="603.14" cy="293.58" r="0.65" fill="#e838e0" opacity="0.85"/>
<circle cx="596.06" cy="286.47" r="0.93" fill="#e8e0e8" opacity="0.85"/>
<circle cx="606.71" cy="256.79" r="0.57" fill="#e8e0e8" opacity="0.85"/>
<circle cx="613.62" cy="246.83" r="1.03" fill="#f4c8f4" opacity="0.85"/>
<circle cx="621.61" cy="282.07" r="1.08" fill="#f4c8f4" opacity="0.85"/>
<circle cx="635.61" cy="244.29" r="0.71" fill="#f4c8f4" opacity="0.85"/>
<circle cx="615.36" cy="240.4" r="0.91" fill="#f070e8" opacity="0.85"/>
<circle cx="603.86" cy="263.25" r="1.09" fill="#e838e0" opacity="0.85"/>
<circle cx="609.37" cy="283.96" r="1.04" fill="#e838e0" opacity="0.85"/>
<circle cx="632.73" cy="241.23" r="0.97" fill="#e8e0e8" opacity="0.85"/>
<circle cx="605.73" cy="256.84" r="1.03" fill="#f070e8" opacity="0.85"/>
<circle cx="606.22" cy="276.83" r="0.72" fill="#b840b8" opacity="0.85"/>
<circle cx="610.05" cy="292.63" r="0.98" fill="#48d060" opacity="0.85"/>
<circle cx="614.72" cy="237.38" r="1.04" fill="#f4c8f4" opacity="0.85"/>
<circle cx="602.01" cy="281.4" r="0.91" fill="#e8e0e8" opacity="0.85"/>
<circle cx="627.59" cy="243.46" r="1.03" fill="#f4c8f4" opacity="0.85"/>
<circle cx="609.23" cy="248.58" r="1.09" fill="#d830c8" opacity="0.85"/>
<circle cx="624.21" cy="237.78" r="0.78" fill="#f0a0f0" opacity="0.85"/>
<circle cx="619.51" cy="290.38" r="0.87" fill="#48d060" opacity="0.85"/>
<circle cx="621.74" cy="248.87" r="0.62" fill="#48d060" opacity="0.85"/>
<circle cx="596.55" cy="295.64" r="0.69" fill="#e8e0e8" opacity="0.85"/>
<circle cx="625.36" cy="245.63" r="0.6" fill="#e838e0" opacity="0.85"/>
<circle cx="593.39" cy="287.26" r="1.03" fill="#e838e0" opacity="0.85"/>
<circle cx="610.37" cy="266.68" r="0.72" fill="#e8e0e8" opacity="0.85"/>
<circle cx="603.28" cy="288.22" r="1.02" fill="#e8e0e8" opacity="0.85"/>
<circle cx="604.18" cy="262.15" r="0.97" fill="#e838e0" opacity="0.85"/>
<circle cx="623.09" cy="237.73" r="0.85" fill="#f0a0f0" opacity="0.85"/>
<circle cx="623.17" cy="247" r="1.03" fill="#f4c8f4" opacity="0.85"/>
<circle cx="606.02" cy="231.82" r="0.66" fill="#38c850" opacity="0.85"/>
<circle cx="629.99" cy="243.02" r="0.84" fill="#38c850" opacity="0.85"/>
<circle cx="617.9" cy="234.21" r="1.04" fill="#e838e0" opacity="0.85"/>
<circle cx="598.95" cy="288.16" r="0.98" fill="#e8e0e8" opacity="0.85"/>
<circle cx="605.68" cy="234.12" r="0.92" fill="#b840b8" opacity="0.85"/>
<circle cx="597.83" cy="287.78" r="0.59" fill="#f4c8f4" opacity="0.85"/>
<circle cx="619.27" cy="261.56" r="0.9" fill="#f070e8" opacity="0.85"/>
<circle cx="632.13" cy="246.24" r="0.89" fill="#f070e8" opacity="0.85"/>
<circle cx="603.1" cy="285.48" r="0.64" fill="#38c850" opacity="0.85"/>
<circle cx="609.68" cy="273.76" r="1.03" fill="#f070e8" opacity="0.85"/>
<circle cx="616.03" cy="289.86" r="0.93" fill="#f4c8f4" opacity="0.85"/>
<circle cx="610.16" cy="266.23" r="0.79" fill="#d830c8" opacity="0.85"/>
<circle cx="604.96" cy="263.78" r="0.89" fill="#f0a0f0" opacity="0.85"/>
<circle cx="600.88" cy="272.23" r="0.7" fill="#48d060" opacity="0.85"/>
<circle cx="632.66" cy="238.59" r="0.56" fill="#e8e0e8" opacity="0.85"/>
<circle cx="627.48" cy="255.96" r="0.6" fill="#38c850" opacity="0.85"/>
<circle cx="592.44" cy="296.72" r="0.73" fill="#f070e8" opacity="0.85"/>
<circle cx="624.4" cy="271.04" r="0.71" fill="#e838e0" opacity="0.85"/>
<circle cx="595.96" cy="289.5" r="0.86" fill="#f0a0f0" opacity="0.85"/>
<circle cx="617.68" cy="227.63" r="0.69" fill="#38c850" opacity="0.85"/>
<circle cx="614.49" cy="230.81" r="0.9" fill="#e838e0" opacity="0.85"/>
<circle cx="615.66" cy="290.35" r="0.58" fill="#e8e0e8" opacity="0.85"/>
<circle cx="628.94" cy="252.15" r="0.73" fill="#d830c8" opacity="0.85"/>
<circle cx="613.6" cy="270.22" r="0.76" fill="#38c850" opacity="0.85"/>
<circle cx="625.34" cy="233.9" r="1.08" fill="#48d060" opacity="0.85"/>
<circle cx="631.87" cy="256.47" r="0.85" fill="#48d060" opacity="0.85"/>
<circle cx="608.39" cy="249.57" r="0.77" fill="#f0a0f0" opacity="0.85"/>
<circle cx="608.19" cy="295.86" r="0.63" fill="#38c850" opacity="0.85"/>
<circle cx="614.92" cy="277.55" r="0.64" fill="#f070e8" opacity="0.85"/>
<circle cx="600.83" cy="299.07" r="0.99" fill="#f0a0f0" opacity="0.85"/>
<circle cx="609.23" cy="280.69" r="0.84" fill="#e8e0e8" opacity="0.85"/>
<circle cx="602.21" cy="285.74" r="0.89" fill="#f0a0f0" opacity="0.85"/>
<circle cx="603.37" cy="252.39" r="0.89" fill="#e8e0e8" opacity="0.85"/>
<circle cx="617.21" cy="245.09" r="0.8" fill="#f070e8" opacity="0.85"/>
<circle cx="615.84" cy="268.96" r="0.87" fill="#d830c8" opacity="0.85"/>
<circle cx="600.74" cy="279.27" r="0.96" fill="#e838e0" opacity="0.85"/>
<circle cx="605.29" cy="271.21" r="0.63" fill="#d830c8" opacity="0.85"/>
<circle cx="612.05" cy="290.22" r="0.84" fill="#e8e0e8" opacity="0.85"/>
<circle cx="607.53" cy="273.82" r="0.63" fill="#e838e0" opacity="0.85"/>
<circle cx="642" cy="227.99" r="0.68" fill="#d830c8" opacity="0.85"/>
<circle cx="612.17" cy="288.74" r="0.92" fill="#d830c8" opacity="0.85"/>
<circle cx="622.04" cy="255.16" r="0.89" fill="#f4c8f4" opacity="0.85"/>
<circle cx="622.52" cy="250.89" r="0.7" fill="#f0a0f0" opacity="0.85"/>
<circle cx="599.52" cy="251.23" r="1.03" fill="#e838e0" opacity="0.85"/>
<circle cx="591.66" cy="294.82" r="0.87" fill="#f4c8f4" opacity="0.85"/>
<circle cx="627.37" cy="231.04" r="0.72" fill="#e838e0" opacity="0.85"/>
<circle cx="615.98" cy="293.07" r="0.69" fill="#e8e0e8" opacity="0.85"/>
<circle cx="615" cy="257.59" r="0.69" fill="#d830c8" opacity="0.85"/>
<circle cx="630.92" cy="228.59" r="0.58" fill="#48d060" opacity="0.85"/>
<circle cx="603.52" cy="242.75" r="0.76" fill="#f070e8" opacity="0.85"/>
<circle cx="616.24" cy="286.95" r="0.76" fill="#f4c8f4" opacity="0.85"/>
<circle cx="602.95" cy="253.46" r="0.6" fill="#e838e0" opacity="0.85"/>
<circle cx="602.74" cy="286.66" r="0.81" fill="#38c850" opacity="0.85"/>
<circle cx="616.32" cy="249.09" r="0.77" fill="#d830c8" opacity="0.85"/>
<circle cx="631.85" cy="243.38" r="0.68" fill="#f0a0f0" opacity="0.85"/>
<circle cx="622.45" cy="249.47" r="0.84" fill="#f0a0f0" opacity="0.85"/>
<circle cx="620.59" cy="277.41" r="0.99" fill="#f4c8f4" opacity="0.85"/>
<circle cx="596.1" cy="283.82" r="0.95" fill="#e8e0e8" opacity="0.85"/>
<circle cx="610.78" cy="244.94" r="0.8" fill="#f4c8f4" opacity="0.85"/>
<circle cx="601.08" cy="292.12" r="0.79" fill="#f0a0f0" opacity="0.85"/>
<circle cx="613" cy="301.3" r="0.93" fill="#f070e8" opacity="0.85"/>
<circle cx="634.31" cy="245.65" r="0.72" fill="#e838e0" opacity="0.85"/>
<circle cx="635.09" cy="241.71" r="0.81" fill="#d830c8" opacity="0.85"/>
<circle cx="621.27" cy="235.14" r="0.58" fill="#38c850" opacity="0.85"/>
<circle cx="626.81" cy="230.43" r="0.72" fill="#f070e8" opacity="0.85"/>
<circle cx="596.95" cy="292.36" r="1.1" fill="#38c850" opacity="0.85"/>
<circle cx="634.7" cy="251.07" r="0.67" fill="#48d060" opacity="0.85"/>
<circle cx="611.14" cy="251.95" r="0.98" fill="#d830c8" opacity="0.85"/>
<circle cx="636.65" cy="243.28" r="1.1" fill="#f0a0f0" opacity="0.85"/>
<circle cx="607.56" cy="233.87" r="0.69" fill="#e838e0" opacity="0.85"/>
<circle cx="606.94" cy="250.72" r="1.05" fill="#d830c8" opacity="0.85"/>
<circle cx="618.51" cy="237.69" r="0.95" fill="#38c850" opacity="0.85"/>
<circle cx="620.71" cy="238.53" r="0.89" fill="#f4c8f4" opacity="0.85"/>
<circle cx="596.32" cy="277.37" r="1.01" fill="#e8e0e8" opacity="0.85"/>
<circle cx="605.6" cy="269.77" r="1.05" fill="#38c850" opacity="0.85"/>
<circle cx="606.9" cy="251.64" r="0.98" fill="#38c850" opacity="0.85"/>
<circle cx="598.16" cy="269.79" r="1.08" fill="#e8e0e8" opacity="0.85"/>
<circle cx="611.4" cy="296.56" r="0.97" fill="#f4c8f4" opacity="0.85"/>
<circle cx="611.39" cy="272.05" r="0.68" fill="#f0a0f0" opacity="0.85"/>
<circle cx="611.76" cy="281.74" r="0.91" fill="#e838e0" opacity="0.85"/>
<circle cx="618.99" cy="274.94" r="0.8" fill="#e838e0" opacity="0.85"/>
<circle cx="633.01" cy="253.65" r="1" fill="#f4c8f4" opacity="0.85"/>
<circle cx="619.86" cy="245.34" r="0.6" fill="#f0a0f0" opacity="0.85"/>
<circle cx="604.33" cy="270.57" r="0.6" fill="#48d060" opacity="0.85"/>
<circle cx="607.85" cy="259.97" r="0.7" fill="#48d060" opacity="0.85"/>
<circle cx="619.88" cy="233.43" r="0.63" fill="#f4c8f4" opacity="0.85"/>
<circle cx="608.03" cy="244.75" r="0.56" fill="#e838e0" opacity="0.85"/>
<circle cx="611.45" cy="263.89" r="0.93" fill="#e8e0e8" opacity="0.85"/>
<circle cx="611.59" cy="255.97" r="0.58" fill="#f0a0f0" opacity="0.85"/>
<circle cx="613.49" cy="263.74" r="0.63" fill="#f070e8" opacity="0.85"/>
<circle cx="601.89" cy="252.56" r="0.84" fill="#48d060" opacity="0.85"/>
<circle cx="610.6" cy="256" r="0.55" fill="#f070e8" opacity="0.85"/>
<circle cx="621.38" cy="228.59" r="1.01" fill="#b840b8" opacity="0.85"/>
<circle cx="601.79" cy="259.47" r="0.74" fill="#d830c8" opacity="0.85"/>
<circle cx="635.92" cy="237.64" r="1.09" fill="#f0a0f0" opacity="0.85"/>
<circle cx="618.25" cy="268.62" r="0.72" fill="#e838e0" opacity="0.85"/>
<circle cx="621.24" cy="243.32" r="0.9" fill="#f4c8f4" opacity="0.85"/>
<circle cx="603.78" cy="284.75" r="0.76" fill="#f070e8" opacity="0.85"/>
<circle cx="609.01" cy="255.72" r="0.95" fill="#b840b8" opacity="0.85"/>
<circle cx="610.56" cy="259.67" r="0.6" fill="#e838e0" opacity="0.85"/>
<circle cx="604.22" cy="290.78" r="0.84" fill="#f0a0f0" opacity="0.85"/>
<circle cx="631.43" cy="253.12" r="0.64" fill="#b840b8" opacity="0.85"/>
<circle cx="593.24" cy="291.67" r="0.76" fill="#b840b8" opacity="0.85"/>
<circle cx="615.95" cy="267.02" r="0.55" fill="#f4c8f4" opacity="0.85"/>
<circle cx="617.16" cy="287.02" r="0.89" fill="#f0a0f0" opacity="0.85"/>
<circle cx="626.54" cy="249.37" r="0.99" fill="#f0a0f0" opacity="0.85"/>
<circle cx="610.86" cy="257.92" r="1.07" fill="#e838e0" opacity="0.85"/>
<circle cx="607.6" cy="246.8" r="0.62" fill="#f070e8" opacity="0.85"/>
<circle cx="620.72" cy="282.89" r="0.71" fill="#e838e0" opacity="0.85"/>
<circle cx="608.2" cy="284.57" r="0.78" fill="#d830c8" opacity="0.85"/>
<circle cx="615.01" cy="254.17" r="0.6" fill="#e838e0" opacity="0.85"/>
<circle cx="636.57" cy="247.66" r="0.96" fill="#e838e0" opacity="0.85"/>
<circle cx="616.68" cy="239.42" r="1" fill="#e838e0" opacity="0.85"/>
<circle cx="617.39" cy="280.85" r="0.73" fill="#e8e0e8" opacity="0.85"/>
<circle cx="599.75" cy="271.47" r="0.75" fill="#f0a0f0" opacity="0.85"/>
<circle cx="609.88" cy="295.49" r="0.94" fill="#48d060" opacity="0.85"/>
<circle cx="616.82" cy="290.44" r="0.59" fill="#48d060" opacity="0.85"/>
<circle cx="608.66" cy="295.6" r="0.72" fill="#e838e0" opacity="0.85"/>
<circle cx="630.27" cy="250.44" r="0.96" fill="#f0a0f0" opacity="0.85"/>
<circle cx="609.71" cy="248.74" r="0.8" fill="#48d060" opacity="0.85"/>
<circle cx="615.12" cy="239.45" r="1" fill="#f4c8f4" opacity="0.85"/>
<circle cx="624.6" cy="233.59" r="0.72" fill="#f070e8" opacity="0.85"/>
<circle cx="618.57" cy="290.72" r="1.07" fill="#e838e0" opacity="0.85"/>
<circle cx="609.2" cy="283.95" r="0.83" fill="#48d060" opacity="0.85"/>
<circle cx="600.43" cy="267.29" r="0.86" fill="#f070e8" opacity="0.85"/>
<circle cx="611.08" cy="263.86" r="0.68" fill="#f4c8f4" opacity="0.85"/>
<circle cx="621.76" cy="282.26" r="0.59" fill="#e8e0e8" opacity="0.85"/>
<circle cx="602.15" cy="295.53" r="0.76" fill="#f070e8" opacity="0.85"/>
<circle cx="601.11" cy="243.33" r="0.98" fill="#e838e0" opacity="0.85"/>
<circle cx="603.07" cy="252.71" r="0.65" fill="#e838e0" opacity="0.85"/>
<circle cx="613.62" cy="269.51" r="0.92" fill="#e8e0e8" opacity="0.85"/>
<circle cx="608.22" cy="295.09" r="1.07" fill="#e8e0e8" opacity="0.85"/>
<circle cx="610.01" cy="282.11" r="1.05" fill="#f0a0f0" opacity="0.85"/>
<circle cx="620.96" cy="229.57" r="0.6" fill="#d830c8" opacity="0.85"/>
<circle cx="600.76" cy="300.63" r="0.7" fill="#f0a0f0" opacity="0.85"/>
<circle cx="633.82" cy="245.25" r="0.82" fill="#f0a0f0" opacity="0.85"/>
<circle cx="622.6" cy="281.87" r="0.71" fill="#f0a0f0" opacity="0.85"/>
<circle cx="620.05" cy="287.85" r="1.04" fill="#e838e0" opacity="0.85"/>
<circle cx="635.14" cy="244.72" r="0.93" fill="#e838e0" opacity="0.85"/>
<circle cx="621.61" cy="239.75" r="1.05" fill="#f070e8" opacity="0.85"/>
<circle cx="618.49" cy="248.92" r="1.01" fill="#d830c8" opacity="0.85"/>
<circle cx="608.05" cy="272.92" r="0.94" fill="#f070e8" opacity="0.85"/>
<circle cx="615.92" cy="285.72" r="0.94" fill="#f070e8" opacity="0.85"/>
<circle cx="615.28" cy="290.66" r="0.85" fill="#f0a0f0" opacity="0.85"/>
<circle cx="613.26" cy="237.52" r="0.67" fill="#f4c8f4" opacity="0.85"/>
<circle cx="614.56" cy="295.83" r="0.7" fill="#e838e0" opacity="0.85"/>
<circle cx="618.68" cy="280.52" r="0.85" fill="#f070e8" opacity="0.85"/>
<circle cx="599.22" cy="266.43" r="0.57" fill="#d830c8" opacity="0.85"/>
<circle cx="607.28" cy="258.44" r="0.92" fill="#f4c8f4" opacity="0.85"/>
<circle cx="611.81" cy="288.23" r="1" fill="#b840b8" opacity="0.85"/>
<circle cx="602.73" cy="289.8" r="0.58" fill="#e8e0e8" opacity="0.85"/>
<circle cx="629.78" cy="262.25" r="1.07" fill="#f4c8f4" opacity="0.85"/>
<circle cx="635.72" cy="228.41" r="1.04" fill="#d830c8" opacity="0.85"/>
<circle cx="625.26" cy="247.9" r="1.09" fill="#f070e8" opacity="0.85"/>
<circle cx="615.6" cy="268.9" r="1.08" fill="#38c850" opacity="0.85"/>
<circle cx="606.27" cy="248.48" r="0.71" fill="#f0a0f0" opacity="0.85"/>
<circle cx="607.35" cy="291.07" r="0.81" fill="#e838e0" opacity="0.85"/>
<circle cx="618.05" cy="242.07" r="0.71" fill="#e8e0e8" opacity="0.85"/>
<circle cx="616.59" cy="252.67" r="0.61" fill="#f4c8f4" opacity="0.85"/>
<circle cx="627.58" cy="244.44" r="1.08" fill="#f070e8" opacity="0.85"/>
<circle cx="611.39" cy="262.79" r="1.1" fill="#f070e8" opacity="0.85"/>
<circle cx="622.46" cy="277.79" r="0.59" fill="#b840b8" opacity="0.85"/>
<circle cx="634.7" cy="248.09" r="1.09" fill="#e838e0" opacity="0.85"/>
<circle cx="628.21" cy="243.35" r="0.74" fill="#f0a0f0" opacity="0.85"/>
<circle cx="616.14" cy="261.59" r="0.76" fill="#b840b8" opacity="0.85"/>
<circle cx="629.93" cy="228.75" r="0.77" fill="#e838e0" opacity="0.85"/>
<circle cx="595.52" cy="285.01" r="0.62" fill="#38c850" opacity="0.85"/>
<circle cx="622.79" cy="245.93" r="0.68" fill="#e838e0" opacity="0.85"/>
<circle cx="593.5" cy="300.67" r="0.7" fill="#e838e0" opacity="0.85"/>
<circle cx="615.99" cy="283.16" r="0.71" fill="#f0a0f0" opacity="0.85"/>
<circle cx="597.26" cy="270.11" r="0.8" fill="#e838e0" opacity="0.85"/>
<circle cx="600.69" cy="292.72" r="0.66" fill="#f0a0f0" opacity="0.85"/>
<circle cx="613.19" cy="257.7" r="0.84" fill="#48d060" opacity="0.85"/>
<circle cx="621.26" cy="261.91" r="0.68" fill="#f070e8" opacity="0.85"/>
<circle cx="604.74" cy="293.54" r="0.87" fill="#e838e0" opacity="0.85"/>
<circle cx="616.42" cy="240.64" r="0.68" fill="#b840b8" opacity="0.85"/>
<circle cx="610.3" cy="248.94" r="0.83" fill="#f4c8f4" opacity="0.85"/>
<circle cx="625.86" cy="266.02" r="0.93" fill="#48d060" opacity="0.85"/>
<circle cx="615.73" cy="280.34" r="0.75" fill="#f070e8" opacity="0.85"/>
<circle cx="599.25" cy="276.74" r="0.59" fill="#b840b8" opacity="0.85"/>
<circle cx="619.59" cy="286.31" r="0.61" fill="#d830c8" opacity="0.85"/>
<circle cx="596.54" cy="299.57" r="0.65" fill="#f4c8f4" opacity="0.85"/>
<circle cx="601.9" cy="242.83" r="0.67" fill="#f0a0f0" opacity="0.85"/>
<circle cx="618.88" cy="227.72" r="0.73" fill="#b840b8" opacity="0.85"/>
<circle cx="617.9" cy="240.13" r="0.93" fill="#b840b8" opacity="0.85"/>
<circle cx="607.74" cy="242.41" r="0.75" fill="#e838e0" opacity="0.85"/>
<circle cx="617.64" cy="268.15" r="0.79" fill="#e8e0e8" opacity="0.85"/>
<circle cx="613.66" cy="281.06" r="0.57" fill="#38c850" opacity="0.85"/>
<circle cx="626.35" cy="263.47" r="0.85" fill="#e8e0e8" opacity="0.85"/>
<circle cx="626.02" cy="233.18" r="0.58" fill="#48d060" opacity="0.85"/>
<circle cx="595.7" cy="299.35" r="0.67" fill="#b840b8" opacity="0.85"/>
<circle cx="605.13" cy="250.64" r="1.08" fill="#f0a0f0" opacity="0.85"/>
<circle cx="603.54" cy="287.19" r="0.59" fill="#f4c8f4" opacity="0.85"/>
<circle cx="632.17" cy="241.44" r="1.01" fill="#48d060" opacity="0.85"/>
<circle cx="601.32" cy="250.01" r="0.87" fill="#48d060" opacity="0.85"/>
<circle cx="631.32" cy="250.82" r="0.96" fill="#e838e0" opacity="0.85"/>
<circle cx="595.58" cy="296.87" r="1" fill="#e8e0e8" opacity="0.85"/>
<circle cx="607.87" cy="249.25" r="1.08" fill="#f070e8" opacity="0.85"/>
<circle cx="622.03" cy="252.02" r="1.04" fill="#b840b8" opacity="0.85"/>
<circle cx="609.23" cy="281.17" r="0.89" fill="#f0a0f0" opacity="0.85"/>
<circle cx="606.81" cy="291.96" r="0.99" fill="#b840b8" opacity="0.85"/>
<circle cx="607.68" cy="288.19" r="0.85" fill="#e8e0e8" opacity="0.85"/>
<circle cx="625.43" cy="270.77" r="0.91" fill="#b840b8" opacity="0.85"/>
<circle cx="613.93" cy="236.15" r="0.69" fill="#38c850" opacity="0.85"/>
<circle cx="599.04" cy="265.87" r="0.74" fill="#38c850" opacity="0.85"/>
<circle cx="608.73" cy="278.58" r="0.8" fill="#d830c8" opacity="0.85"/>
<circle cx="601.21" cy="282.34" r="0.86" fill="#f070e8" opacity="0.85"/>
<circle cx="617.73" cy="226.81" r="0.6" fill="#e838e0" opacity="0.85"/>
<circle cx="637.07" cy="240.27" r="0.71" fill="#e8e0e8" opacity="0.85"/>
<circle cx="601.58" cy="264.51" r="1.07" fill="#e838e0" opacity="0.85"/>
<circle cx="627.71" cy="234.79" r="0.82" fill="#d830c8" opacity="0.85"/>
<circle cx="617.51" cy="278.52" r="0.84" fill="#d830c8" opacity="0.85"/>
<circle cx="598.66" cy="297.92" r="0.56" fill="#f0a0f0" opacity="0.85"/>
<circle cx="613.3" cy="285.17" r="0.99" fill="#b840b8" opacity="0.85"/>
<circle cx="633.35" cy="230.43" r="1.04" fill="#e838e0" opacity="0.85"/>
<circle cx="618.51" cy="258.13" r="0.91" fill="#f070e8" opacity="0.85"/>
<circle cx="600.13" cy="255.89" r="0.9" fill="#e8e0e8" opacity="0.85"/>
<circle cx="622.03" cy="232.56" r="0.7" fill="#b840b8" opacity="0.85"/>
<circle cx="625.13" cy="276.52" r="0.73" fill="#f0a0f0" opacity="0.85"/>
<circle cx="608.45" cy="278.56" r="1.01" fill="#48d060" opacity="0.85"/>
<circle cx="611.57" cy="258.58" r="1.07" fill="#f0a0f0" opacity="0.85"/>
<circle cx="612.15" cy="267.13" r="0.89" fill="#f4c8f4" opacity="0.85"/>
<circle cx="604.08" cy="257.55" r="0.86" fill="#b840b8" opacity="0.85"/>
<circle cx="610.36" cy="259.29" r="0.58" fill="#e838e0" opacity="0.85"/>
<circle cx="623.49" cy="254.47" r="0.85" fill="#e838e0" opacity="0.85"/>
<circle cx="625.75" cy="238.11" r="0.87" fill="#b840b8" opacity="0.85"/>
<circle cx="616.55" cy="290.13" r="0.92" fill="#f070e8" opacity="0.85"/>
<circle cx="598.36" cy="268.8" r="0.88" fill="#f070e8" opacity="0.85"/>
<circle cx="625.86" cy="241.1" r="0.83" fill="#f4c8f4" opacity="0.85"/>
<circle cx="620.18" cy="287.3" r="0.62" fill="#d830c8" opacity="0.85"/>
<circle cx="628.1" cy="246.19" r="0.69" fill="#38c850" opacity="0.85"/>
<circle cx="612.35" cy="266.61" r="1.08" fill="#e8e0e8" opacity="0.85"/>
<circle cx="619.49" cy="261.74" r="0.65" fill="#e838e0" opacity="0.85"/>
<circle cx="610" cy="235.84" r="0.85" fill="#d830c8" opacity="0.85"/>
<circle cx="609.8" cy="262.28" r="0.59" fill="#e8e0e8" opacity="0.85"/>
<circle cx="602.58" cy="239.5" r="1.03" fill="#e8e0e8" opacity="0.85"/>
<circle cx="599.04" cy="281.68" r="0.75" fill="#d830c8" opacity="0.85"/>
<circle cx="603.02" cy="270.51" r="0.82" fill="#f4c8f4" opacity="0.85"/>
<circle cx="626.15" cy="259.65" r="0.78" fill="#38c850" opacity="0.85"/>
<circle cx="601.72" cy="259.6" r="1.04" fill="#f4c8f4" opacity="0.85"/>
<circle cx="613.25" cy="292.69" r="1.06" fill="#f4c8f4" opacity="0.85"/>
<circle cx="610.58" cy="249.56" r="0.7" fill="#b840b8" opacity="0.85"/>
<circle cx="615.09" cy="251.41" r="0.6" fill="#e838e0" opacity="0.85"/>
<circle cx="616.81" cy="250.85" r="0.96" fill="#b840b8" opacity="0.85"/>
<circle cx="599.21" cy="258.64" r="0.99" fill="#b840b8" opacity="0.85"/>
<circle cx="613" cy="272.99" r="0.71" fill="#48d060" opacity="0.85"/>
<circle cx="608.13" cy="230.46" r="0.57" fill="#f4c8f4" opacity="0.85"/>
<circle cx="614.44" cy="290.93" r="0.57" fill="#f070e8" opacity="0.85"/>
<circle cx="617.83" cy="268.87" r="0.73" fill="#d830c8" opacity="0.85"/>
<circle cx="598.81" cy="275.33" r="0.7" fill="#f4c8f4" opacity="0.85"/>
<circle cx="623.52" cy="279.76" r="0.94" fill="#f070e8" opacity="0.85"/>
<circle cx="616.28" cy="249.04" r="0.93" fill="#e838e0" opacity="0.85"/>
<circle cx="597.27" cy="293.9" r="0.6" fill="#48d060" opacity="0.85"/>
<circle cx="616.54" cy="290.13" r="0.8" fill="#e838e0" opacity="0.85"/>
<circle cx="635.39" cy="238.75" r="0.78" fill="#48d060" opacity="0.85"/>
<circle cx="614.69" cy="254.08" r="0.88" fill="#b840b8" opacity="0.85"/>
<circle cx="608.09" cy="243.6" r="0.55" fill="#e838e0" opacity="0.85"/>
<circle cx="618.76" cy="254.72" r="1.09" fill="#b840b8" opacity="0.85"/>
<circle cx="601.81" cy="243.8" r="0.83" fill="#f4c8f4" opacity="0.85"/>
<circle cx="600.19" cy="298.06" r="0.79" fill="#b840b8" opacity="0.85"/>
<circle cx="618.83" cy="280.21" r="0.7" fill="#f0a0f0" opacity="0.85"/>
<circle cx="623.02" cy="274.91" r="0.71" fill="#f0a0f0" opacity="0.85"/>
<circle cx="622.58" cy="279.53" r="0.77" fill="#d830c8" opacity="0.85"/>
<circle cx="629.34" cy="259.87" r="0.8" fill="#e838e0" opacity="0.85"/>
<circle cx="613.73" cy="263.24" r="1" fill="#f070e8" opacity="0.85"/>
<circle cx="631.49" cy="250.95" r="0.96" fill="#38c850" opacity="0.85"/>
<circle cx="598.57" cy="292.1" r="0.69" fill="#f0a0f0" opacity="0.85"/>
<circle cx="605.4" cy="265.44" r="0.68" fill="#e838e0" opacity="0.85"/>
<circle cx="606.11" cy="281.68" r="0.89" fill="#38c850" opacity="0.85"/>
<circle cx="635.83" cy="231.39" r="0.79" fill="#38c850" opacity="0.85"/>
<circle cx="625.72" cy="258.57" r="0.55" fill="#d830c8" opacity="0.85"/>
<circle cx="627.33" cy="243.27" r="0.83" fill="#f0a0f0" opacity="0.85"/>
<circle cx="623.23" cy="231.19" r="0.78" fill="#f4c8f4" opacity="0.85"/>
<circle cx="615.01" cy="296.58" r="0.59" fill="#e838e0" opacity="0.85"/>
<circle cx="618.42" cy="265.2" r="0.62" fill="#b840b8" opacity="0.85"/>
<circle cx="591.71" cy="297.23" r="0.6" fill="#e838e0" opacity="0.85"/>
<circle cx="623.28" cy="266.93" r="0.95" fill="#f4c8f4" opacity="0.85"/>
<circle cx="633.42" cy="251.6" r="0.62" fill="#f4c8f4" opacity="0.85"/>
<circle cx="599.69" cy="292.65" r="0.73" fill="#e8e0e8" opacity="0.85"/>
<circle cx="617.19" cy="253.35" r="1.07" fill="#f070e8" opacity="0.85"/>
<circle cx="628.01" cy="237.54" r="0.75" fill="#f070e8" opacity="0.85"/>
<circle cx="596.26" cy="275.67" r="0.57" fill="#f070e8" opacity="0.85"/>
<circle cx="609.48" cy="298.06" r="0.87" fill="#d830c8" opacity="0.85"/>
<circle cx="606.7" cy="274.04" r="0.8" fill="#e8e0e8" opacity="0.85"/>
<circle cx="609.6" cy="295.37" r="1.09" fill="#b840b8" opacity="0.85"/>
<circle cx="628.57" cy="262.18" r="0.97" fill="#e838e0" opacity="0.85"/>
<circle cx="631.4" cy="240.6" r="0.83" fill="#f0a0f0" opacity="0.85"/>
<circle cx="616.17" cy="290.33" r="0.76" fill="#b840b8" opacity="0.85"/>
<circle cx="607.38" cy="286.85" r="1" fill="#f070e8" opacity="0.85"/>
<circle cx="594.23" cy="286.29" r="0.86" fill="#e838e0" opacity="0.85"/>
<circle cx="616.09" cy="290.06" r="0.87" fill="#e8e0e8" opacity="0.85"/>
<circle cx="617.6" cy="286.51" r="0.86" fill="#e8e0e8" opacity="0.85"/>
<circle cx="607.65" cy="262.1" r="0.87" fill="#e838e0" opacity="0.85"/>
<circle cx="621.56" cy="238.43" r="0.65" fill="#e8e0e8" opacity="0.85"/>
<circle cx="619.56" cy="253.6" r="0.73" fill="#38c850" opacity="0.85"/>
<circle cx="623.21" cy="258.93" r="0.74" fill="#38c850" opacity="0.85"/>
<circle cx="615.27" cy="270.59" r="0.82" fill="#f4c8f4" opacity="0.85"/>
<circle cx="608.42" cy="299.45" r="1.06" fill="#e838e0" opacity="0.85"/>
<circle cx="613.58" cy="234.74" r="0.99" fill="#d830c8" opacity="0.85"/>
<circle cx="591.95" cy="299.51" r="1" fill="#e838e0" opacity="0.85"/>
<circle cx="606.88" cy="226.77" r="0.74" fill="#b840b8" opacity="0.85"/>
<circle cx="616.5" cy="260.48" r="1.03" fill="#e838e0" opacity="0.85"/>
<circle cx="609.82" cy="298" r="0.71" fill="#e8e0e8" opacity="0.85"/>
<circle cx="611.19" cy="236.94" r="1.05" fill="#e838e0" opacity="0.85"/>
<circle cx="609.9" cy="229.25" r="0.73" fill="#f070e8" opacity="0.85"/>
<circle cx="616.97" cy="288.31" r="0.74" fill="#d830c8" opacity="0.85"/>
<circle cx="619.38" cy="242.09" r="0.94" fill="#e8e0e8" opacity="0.85"/>
<circle cx="627.62" cy="264.77" r="0.59" fill="#48d060" opacity="0.85"/>
<circle cx="595.9" cy="292.47" r="0.71" fill="#e838e0" opacity="0.85"/>
<circle cx="624.55" cy="256.29" r="0.7" fill="#f4c8f4" opacity="0.85"/>
<circle cx="614.7" cy="258.93" r="0.69" fill="#b840b8" opacity="0.85"/>
<circle cx="593.38" cy="285.31" r="0.86" fill="#48d060" opacity="0.85"/>
<circle cx="611.47" cy="275.11" r="0.63" fill="#f070e8" opacity="0.85"/>
<circle cx="613.29" cy="294.34" r="0.69" fill="#e838e0" opacity="0.85"/>
<circle cx="612.29" cy="293.31" r="0.76" fill="#f4c8f4" opacity="0.85"/>
<circle cx="606.99" cy="278.35" r="0.8" fill="#e8e0e8" opacity="0.85"/>
<circle cx="601.84" cy="258.92" r="0.65" fill="#e8e0e8" opacity="0.85"/>
<circle cx="612.53" cy="282.51" r="0.84" fill="#38c850" opacity="0.85"/>
<circle cx="619.19" cy="244.88" r="1" fill="#e838e0" opacity="0.85"/>
<circle cx="598.82" cy="254.39" r="0.68" fill="#48d060" opacity="0.85"/>
<circle cx="625.01" cy="277.96" r="0.7" fill="#e8e0e8" opacity="0.85"/>
<circle cx="608.61" cy="249.03" r="1.06" fill="#f0a0f0" opacity="0.85"/>
<circle cx="604.53" cy="245.81" r="1.05" fill="#b840b8" opacity="0.85"/>
<circle cx="600.44" cy="282.84" r="0.72" fill="#b840b8" opacity="0.85"/>
<circle cx="634.31" cy="236.78" r="1.01" fill="#e838e0" opacity="0.85"/>
<circle cx="611.56" cy="299.22" r="0.91" fill="#e838e0" opacity="0.85"/>
<circle cx="628.14" cy="245.63" r="0.67" fill="#f4c8f4" opacity="0.85"/>
<circle cx="628.8" cy="255.46" r="0.89" fill="#b840b8" opacity="0.85"/>
<circle cx="605.85" cy="245.89" r="1.02" fill="#b840b8" opacity="0.85"/>
<circle cx="611.63" cy="252.4" r="1.07" fill="#f070e8" opacity="0.85"/>
<circle cx="622.08" cy="274.49" r="0.72" fill="#f4c8f4" opacity="0.85"/>
<circle cx="627.73" cy="257.2" r="0.57" fill="#f4c8f4" opacity="0.85"/>
<circle cx="606.36" cy="269.83" r="0.79" fill="#e838e0" opacity="0.85"/>
<circle cx="612.97" cy="249.56" r="0.91" fill="#f070e8" opacity="0.85"/>
<circle cx="619.25" cy="292.27" r="0.97" fill="#f0a0f0" opacity="0.85"/>
<circle cx="623.72" cy="244.94" r="0.89" fill="#48d060" opacity="0.85"/>
<circle cx="626.24" cy="248.99" r="0.73" fill="#f0a0f0" opacity="0.85"/>
<circle cx="609.07" cy="262.78" r="1.07" fill="#f070e8" opacity="0.85"/>
<circle cx="625.44" cy="270.9" r="1.07" fill="#e838e0" opacity="0.85"/>
<circle cx="614.59" cy="240.79" r="0.97" fill="#f0a0f0" opacity="0.85"/>
<circle cx="603" cy="244.63" r="0.93" fill="#e838e0" opacity="0.85"/>
<circle cx="611.47" cy="275.05" r="0.65" fill="#f0a0f0" opacity="0.85"/>
<circle cx="604.61" cy="263.27" r="1.04" fill="#48d060" opacity="0.85"/>
<circle cx="617.13" cy="253.73" r="0.88" fill="#e838e0" opacity="0.85"/>
<circle cx="608.12" cy="247.64" r="0.56" fill="#e838e0" opacity="0.85"/>
<circle cx="604.4" cy="271.25" r="0.98" fill="#e8e0e8" opacity="0.85"/>
<circle cx="628.05" cy="234.52" r="0.66" fill="#b840b8" opacity="0.85"/>
<circle cx="621.8" cy="242.88" r="0.68" fill="#e8e0e8" opacity="0.85"/>
<circle cx="596.64" cy="290.38" r="0.57" fill="#e838e0" opacity="0.85"/>
<circle cx="615.2" cy="237.25" r="0.78" fill="#f0a0f0" opacity="0.85"/>
<circle cx="632.74" cy="242.6" r="0.93" fill="#f4c8f4" opacity="0.85"/>
<circle cx="601.98" cy="238.02" r="0.82" fill="#f0a0f0" opacity="0.85"/>
<circle cx="599.59" cy="297.63" r="1.02" fill="#e838e0" opacity="0.85"/>
<circle cx="614.58" cy="258.21" r="0.65" fill="#f070e8" opacity="0.85"/>
<circle cx="595.07" cy="290.75" r="0.81" fill="#e838e0" opacity="0.85"/>
<circle cx="606.3" cy="280.11" r="0.61" fill="#b840b8" opacity="0.85"/>
<circle cx="596.07" cy="294.85" r="0.85" fill="#e838e0" opacity="0.85"/>
<circle cx="599.62" cy="276.11" r="0.58" fill="#38c850" opacity="0.85"/>
<circle cx="624.02" cy="227.88" r="1.1" fill="#48d060" opacity="0.85"/>
<circle cx="637.3" cy="230.07" r="0.93" fill="#48d060" opacity="0.85"/>
<circle cx="630.59" cy="239.61" r="1.05" fill="#f0a0f0" opacity="0.85"/>
<circle cx="616.77" cy="275.52" r="0.99" fill="#e8e0e8" opacity="0.85"/>
<circle cx="598.82" cy="267.61" r="1.03" fill="#f070e8" opacity="0.85"/>
<circle cx="599.9" cy="299.37" r="0.56" fill="#f4c8f4" opacity="0.85"/>
<circle cx="599.67" cy="265.72" r="1.01" fill="#e838e0" opacity="0.85"/>
<circle cx="622.06" cy="277.02" r="0.85" fill="#b840b8" opacity="0.85"/>
<circle cx="608.73" cy="234.94" r="0.73" fill="#f4c8f4" opacity="0.85"/>
<circle cx="601.37" cy="289.92" r="1.02" fill="#e8e0e8" opacity="0.85"/>
<circle cx="595.03" cy="285.18" r="1.02" fill="#38c850" opacity="0.85"/>
<circle cx="636.46" cy="229.9" r="0.87" fill="#e838e0" opacity="0.85"/>
<circle cx="617.48" cy="251.72" r="0.91" fill="#48d060" opacity="0.85"/>
<circle cx="618.07" cy="274.34" r="0.6" fill="#f070e8" opacity="0.85"/>
<circle cx="593.69" cy="292.94" r="0.64" fill="#f070e8" opacity="0.85"/>
<circle cx="609.65" cy="250.68" r="0.75" fill="#f0a0f0" opacity="0.85"/>
<circle cx="615.64" cy="292.28" r="0.95" fill="#f070e8" opacity="0.85"/>
<circle cx="600.63" cy="259.39" r="1.09" fill="#b840b8" opacity="0.85"/>
<circle cx="603.23" cy="267.92" r="0.58" fill="#e838e0" opacity="0.85"/>
<circle cx="625.83" cy="252.36" r="0.85" fill="#f070e8" opacity="0.85"/>
<circle cx="604.14" cy="255.34" r="0.7" fill="#f0a0f0" opacity="0.85"/>
<circle cx="604.41" cy="274.08" r="0.66" fill="#e838e0" opacity="0.85"/>
<circle cx="613.67" cy="238.96" r="0.98" fill="#f070e8" opacity="0.85"/>
<circle cx="628.88" cy="237.07" r="1.09" fill="#48d060" opacity="0.85"/>
<circle cx="601.74" cy="241.75" r="0.77" fill="#b840b8" opacity="0.85"/>
<circle cx="627.28" cy="250.97" r="0.69" fill="#48d060" opacity="0.85"/>
<circle cx="613.26" cy="268.32" r="1.02" fill="#e838e0" opacity="0.85"/>
<circle cx="602.18" cy="251.08" r="0.73" fill="#f0a0f0" opacity="0.85"/>
<circle cx="620.15" cy="273.52" r="0.58" fill="#f0a0f0" opacity="0.85"/>
<circle cx="605.95" cy="243.36" r="0.71" fill="#f4c8f4" opacity="0.85"/>
<circle cx="631.18" cy="243.19" r="0.86" fill="#e838e0" opacity="0.85"/>
<circle cx="627.95" cy="230.97" r="0.9" fill="#48d060" opacity="0.85"/>
<circle cx="622.71" cy="264.57" r="1.03" fill="#f070e8" opacity="0.85"/>
<circle cx="613.17" cy="266.93" r="0.65" fill="#48d060" opacity="0.85"/>
<circle cx="598.25" cy="260.55" r="1" fill="#d830c8" opacity="0.85"/>
<circle cx="618.41" cy="250.78" r="0.98" fill="#e8e0e8" opacity="0.85"/>
<circle cx="608.37" cy="271.42" r="0.62" fill="#e838e0" opacity="0.85"/>
<circle cx="612.87" cy="262.61" r="1.07" fill="#d830c8" opacity="0.85"/>
<circle cx="603.97" cy="256.67" r="0.78" fill="#f4c8f4" opacity="0.85"/>
<circle cx="617.91" cy="288.92" r="0.74" fill="#e838e0" opacity="0.85"/>
<circle cx="619.82" cy="279.94" r="0.71" fill="#e8e0e8" opacity="0.85"/>
<circle cx="629.14" cy="245.52" r="1.03" fill="#d830c8" opacity="0.85"/>
<circle cx="620.36" cy="255.81" r="0.75" fill="#48d060" opacity="0.85"/>
<circle cx="596.93" cy="287.59" r="0.77" fill="#e8e0e8" opacity="0.85"/>
<circle cx="615.78" cy="244.41" r="0.81" fill="#d830c8" opacity="0.85"/>
<circle cx="602.98" cy="282.76" r="0.87" fill="#e838e0" opacity="0.85"/>
<circle cx="620.01" cy="272.48" r="0.64" fill="#e838e0" opacity="0.85"/>
<circle cx="610.94" cy="275.89" r="1.03" fill="#f070e8" opacity="0.85"/>
<circle cx="633.06" cy="238.98" r="1.02" fill="#f0a0f0" opacity="0.85"/>
<circle cx="602.38" cy="275.34" r="0.98" fill="#e8e0e8" opacity="0.85"/>
<circle cx="614.71" cy="278.38" r="0.94" fill="#38c850" opacity="0.85"/>
<circle cx="632.11" cy="239.51" r="0.98" fill="#e838e0" opacity="0.85"/>
<circle cx="605.51" cy="296.81" r="0.61" fill="#48d060" opacity="0.85"/>
<circle cx="613.15" cy="266.55" r="0.92" fill="#b840b8" opacity="0.85"/>
<circle cx="630.76" cy="255.79" r="1.05" fill="#f4c8f4" opacity="0.85"/>
<circle cx="616.89" cy="232.92" r="0.68" fill="#f4c8f4" opacity="0.85"/>
<circle cx="620.51" cy="228.45" r="0.69" fill="#f070e8" opacity="0.85"/>
<circle cx="627.96" cy="240.58" r="0.84" fill="#38c850" opacity="0.85"/>
<circle cx="628.46" cy="240.33" r="0.94" fill="#b840b8" opacity="0.85"/>
<circle cx="606.35" cy="246.41" r="0.58" fill="#f4c8f4" opacity="0.85"/>
<circle cx="626.72" cy="255.17" r="1.03" fill="#48d060" opacity="0.85"/>
<circle cx="604.71" cy="253.46" r="0.77" fill="#38c850" opacity="0.85"/>
<circle cx="616.8" cy="260.98" r="0.83" fill="#d830c8" opacity="0.85"/>
<circle cx="622.58" cy="234.48" r="0.81" fill="#48d060" opacity="0.85"/>
<circle cx="628.72" cy="255.32" r="0.85" fill="#38c850" opacity="0.85"/>
<circle cx="624.41" cy="250.19" r="1.06" fill="#e838e0" opacity="0.85"/>
<circle cx="608.94" cy="277.62" r="0.96" fill="#f070e8" opacity="0.85"/>
<circle cx="595.25" cy="284.45" r="1.02" fill="#38c850" opacity="0.85"/>
<circle cx="617.94" cy="273.94" r="0.81" fill="#e8e0e8" opacity="0.85"/>
<circle cx="625.19" cy="274.94" r="1.06" fill="#e838e0" opacity="0.85"/>
<circle cx="610.72" cy="256.73" r="0.98" fill="#d830c8" opacity="0.85"/>
<circle cx="601.11" cy="252.98" r="0.84" fill="#f070e8" opacity="0.85"/>
<circle cx="617.18" cy="287.84" r="1.08" fill="#b840b8" opacity="0.85"/>
<circle cx="605.2" cy="274.94" r="1.04" fill="#e8e0e8" opacity="0.85"/>
<circle cx="596.95" cy="296.4" r="0.84" fill="#e8e0e8" opacity="0.85"/>
<circle cx="619.84" cy="241.51" r="1.02" fill="#f4c8f4" opacity="0.85"/>
<circle cx="639.12" cy="240.19" r="0.61" fill="#f4c8f4" opacity="0.85"/>
<circle cx="624.93" cy="234.91" r="0.79" fill="#e8e0e8" opacity="0.85"/>
<circle cx="595.4" cy="293.92" r="0.67" fill="#48d060" opacity="0.85"/>
<circle cx="611.56" cy="231.24" r="0.69" fill="#f0a0f0" opacity="0.85"/>
<circle cx="608.51" cy="265.17" r="0.56" fill="#b840b8" opacity="0.85"/>
<circle cx="619.92" cy="283.91" r="1.09" fill="#e8e0e8" opacity="0.85"/>
<circle cx="605.43" cy="238.44" r="1.05" fill="#48d060" opacity="0.85"/>
<circle cx="596.85" cy="285.22" r="0.95" fill="#d830c8" opacity="0.85"/>
<circle cx="613.29" cy="242.64" r="0.99" fill="#e838e0" opacity="0.85"/>
<circle cx="622.07" cy="251.04" r="0.82" fill="#e838e0" opacity="0.85"/>
<circle cx="626.33" cy="254.5" r="0.74" fill="#48d060" opacity="0.85"/>
<circle cx="609.62" cy="239.74" r="0.88" fill="#b840b8" opacity="0.85"/>
<circle cx="597.23" cy="298.39" r="0.76" fill="#f070e8" opacity="0.85"/>
<circle cx="616.74" cy="290.83" r="0.84" fill="#f070e8" opacity="0.85"/>
<circle cx="603.43" cy="269.26" r="0.86" fill="#f0a0f0" opacity="0.85"/>
<circle cx="618.19" cy="279.89" r="1.02" fill="#b840b8" opacity="0.85"/>
<circle cx="602.83" cy="270.29" r="0.59" fill="#e838e0" opacity="0.85"/>
<circle cx="614.9" cy="295.15" r="0.69" fill="#e8e0e8" opacity="0.85"/>
<circle cx="626.65" cy="270.87" r="1.08" fill="#38c850" opacity="0.85"/>
<circle cx="613.17" cy="290.62" r="1.05" fill="#e8e0e8" opacity="0.85"/>
<circle cx="615.78" cy="274.19" r="0.98" fill="#f4c8f4" opacity="0.85"/>
<circle cx="631.97" cy="239.99" r="0.79" fill="#38c850" opacity="0.85"/>
<circle cx="603.39" cy="286.66" r="0.91" fill="#b840b8" opacity="0.85"/>
</g>
<path d="M367.7,232C370.5,229.85 378.78,230.6 381.7,230.8C384.62,231 383.25,233.38 385.2,233.2C387.15,233.02 389.5,230.48 393.4,229.7C397.3,228.92 407.05,226.95 408.6,228.5C410.15,230.05 405.03,235.1 402.7,239C400.37,242.9 397.32,246.83 394.6,251.9C391.88,256.97 389.33,264.53 386.4,269.4C383.47,274.27 379.73,277.6 377,281.1C374.27,284.6 372.13,287.48 370,290.4C367.87,293.32 366.13,297.12 364.2,298.6C362.27,300.08 359.83,301.05 358.4,299.3C356.97,297.55 356,292.7 355.6,288.1C355.2,283.5 355.15,275.4 356,271.7C356.85,268 359.33,268.23 360.7,265.9C362.07,263.57 363.5,261.4 364.2,257.7C364.9,254 364.32,247.98 364.9,243.7C365.48,239.42 364.9,234.15 367.7,232Z" fill="none" stroke="#d8d8d8" stroke-width="0.6" stroke-dasharray="1.4,0.9" clip-path="url(#ci0)"/>
<path d="M337.3,229.7C339.25,226.78 346.07,227.73 349,228.5C351.93,229.27 353.92,231.38 354.9,234.3C355.88,237.22 356.67,243.67 354.9,246C353.13,248.33 347.23,248.3 344.3,248.3C341.37,248.3 338.47,249.1 337.3,246C336.13,242.9 335.35,232.62 337.3,229.7Z" fill="none" stroke="#d8d8d8" stroke-width="0.6" stroke-dasharray="1.4,0.9" clip-path="url(#ci0)"/>
<path d="M446,232C448.8,229.85 457.08,230.6 460,230.8C462.92,231 461.55,233.38 463.5,233.2C465.45,233.02 467.8,230.48 471.7,229.7C475.6,228.92 485.35,226.95 486.9,228.5C488.45,230.05 483.33,235.1 481,239C478.67,242.9 475.62,246.83 472.9,251.9C470.18,256.97 467.63,264.53 464.7,269.4C461.77,274.27 458.03,277.6 455.3,281.1C452.57,284.6 450.43,287.48 448.3,290.4C446.17,293.32 444.43,297.12 442.5,298.6C440.57,300.08 438.13,301.05 436.7,299.3C435.27,297.55 434.3,292.7 433.9,288.1C433.5,283.5 433.45,275.4 434.3,271.7C435.15,268 437.63,268.23 439,265.9C440.37,263.57 441.8,261.4 442.5,257.7C443.2,254 442.62,247.98 443.2,243.7C443.78,239.42 443.2,234.15 446,232Z" fill="none" stroke="#d8d8d8" stroke-width="0.6" stroke-dasharray="1.4,0.9" clip-path="url(#ci1)"/>
<path d="M415.6,229.7C417.55,226.78 424.37,227.73 427.3,228.5C430.23,229.27 432.22,231.38 433.2,234.3C434.18,237.22 434.97,243.67 433.2,246C431.43,248.33 425.53,248.3 422.6,248.3C419.67,248.3 416.77,249.1 415.6,246C414.43,242.9 413.65,232.62 415.6,229.7Z" fill="none" stroke="#d8d8d8" stroke-width="0.6" stroke-dasharray="1.4,0.9" clip-path="url(#ci1)"/>
<path d="M524.6,232C527.4,229.85 535.68,230.6 538.6,230.8C541.52,231 540.15,233.38 542.1,233.2C544.05,233.02 546.4,230.48 550.3,229.7C554.2,228.92 563.95,226.95 565.5,228.5C567.05,230.05 561.93,235.1 559.6,239C557.27,242.9 554.22,246.83 551.5,251.9C548.78,256.97 546.23,264.53 543.3,269.4C540.37,274.27 536.63,277.6 533.9,281.1C531.17,284.6 529.03,287.48 526.9,290.4C524.77,293.32 523.03,297.12 521.1,298.6C519.17,300.08 516.73,301.05 515.3,299.3C513.87,297.55 512.9,292.7 512.5,288.1C512.1,283.5 512.05,275.4 512.9,271.7C513.75,268 516.23,268.23 517.6,265.9C518.97,263.57 520.4,261.4 521.1,257.7C521.8,254 521.22,247.98 521.8,243.7C522.38,239.42 521.8,234.15 524.6,232Z" fill="none" stroke="#d8d8d8" stroke-width="0.6" stroke-dasharray="1.4,0.9" clip-path="url(#ci2)"/>
<path d="M494.2,229.7C496.15,226.78 502.97,227.73 505.9,228.5C508.83,229.27 510.82,231.38 511.8,234.3C512.78,237.22 513.57,243.67 511.8,246C510.03,248.33 504.13,248.3 501.2,248.3C498.27,248.3 495.37,249.1 494.2,246C493.03,242.9 492.25,232.62 494.2,229.7Z" fill="none" stroke="#d8d8d8" stroke-width="0.6" stroke-dasharray="1.4,0.9" clip-path="url(#ci2)"/>

<path d="M572.7,229.7C574.65,226.78 581.47,227.73 584.4,228.5C587.33,229.27 589.32,231.38 590.3,234.3C591.28,237.22 592.07,243.67 590.3,246C588.53,248.33 582.63,248.3 579.7,248.3C576.77,248.3 573.87,249.1 572.7,246C571.53,242.9 570.75,232.62 572.7,229.7Z" fill="none" stroke="#d8d8d8" stroke-width="0.6" stroke-dasharray="1.4,0.9" clip-path="url(#ci3)"/>
<rect x="372.8" y="241.8" width="17.8" height="18.7" fill="none" stroke="#e8782a" stroke-width="1.1"/>
<rect x="451.1" y="241.8" width="17.8" height="18.7" fill="none" stroke="#e8782a" stroke-width="1.1"/>
<rect x="529.7" y="241.8" width="17.8" height="18.7" fill="none" stroke="#e8782a" stroke-width="1.1"/>
<text x="339.2" y="259" font-size="8.4" fill="#eeeeee">Fluo-4</text>
<text x="417.5" y="259" font-size="8.4" fill="#eeeeee">Fluo-4</text>
<text x="496.1" y="259" font-size="8.4" fill="#eeeeee">Fluo-4</text>
<text x="424.3" y="299" font-size="9" fill="#eeeeee">+ M-agonist</text>
<text x="502.5" y="298" font-size="8.8" fill="#eeeeee">+ ionomycin</text>
<text x="591.6" y="225" font-size="9" fill="#2db84e">DOR<tspan fill="#555">-</tspan><tspan fill="#e020c0">MOR</tspan></text>
<line x1="612" y1="306.8" x2="646.2" y2="306.8" stroke="#555" stroke-width="1.4" />
<text x="630.9" y="318.5" font-size="9.2" text-anchor="middle">20 µm</text>
<defs>
<linearGradient id="gRat" x1="0" x2="0" y1="0" y2="1"><stop offset="0" stop-color="#f0eeeb"/><stop offset="0.55" stop-color="#e6e2dd"/><stop offset="1" stop-color="#cdc4ba"/></linearGradient>
</defs>
<path d="M399.7,736.6C402.03,736.6 403.98,735.8 406.7,735.6C409.42,735.4 412.5,734.28 416,735.4C419.5,736.52 424.63,738.92 427.7,742.3C430.77,745.68 433.52,751.33 434.4,755.7C435.28,760.07 434.5,765 433,768.5C431.5,772 428.23,774.72 425.4,776.7C422.57,778.68 419.32,779.62 416,780.4C412.68,781.18 408.22,781.2 405.5,781.4C402.78,781.6 401.63,781.6 399.7,781.6C397.77,781.6 396.62,781.6 393.9,781.4C391.18,781.2 386.72,781.18 383.4,780.4C380.08,779.62 376.83,778.68 374,776.7C371.17,774.72 367.9,772 366.4,768.5C364.9,765 364.12,760.07 365,755.7C365.88,751.33 368.63,745.68 371.7,742.3C374.77,738.92 379.9,736.52 383.4,735.4C386.9,734.28 389.98,735.4 392.7,735.6C395.42,735.8 397.37,736.6 399.7,736.6Z" fill="#fff" stroke="#8c8c8c" stroke-width="0.6"/>
<path d="M372.8,768.5 C373,760 374,755 377,752 C380,749 384,747.5 389,747.3 L394.5,747.6" fill="none" stroke="#a6a6a6" stroke-width="0.5"/>
<path d="M426.6,768.5 C426.4,760 425.4,755 422.4,752 C419.4,749 415.4,747.5 410.4,747.3 L404.9,747.6" fill="none" stroke="#a6a6a6" stroke-width="0.5"/>
<path d="M368.5,764 C368,752 375,744 385,741 M430.9,764 C431.4,752 424.4,744 414.4,741" fill="none" stroke="#c0c0c0" stroke-width="0.45"/>
<path d="M376,777 l3,-5 l2,3 l3,-7 l2,5 l3,-6 l3,6 l2,-8 l3,7 l3,-6 l2,5 l3,-7 l3,7 l2,-6 l3,6 l3,-5 l2,4 l3,-6 l2,5" fill="none" stroke="#a6a6a6" stroke-width="0.5"/>
<path d="M384,766 l3,-6 l2,4 l3,-6 l3,5 l3,-6 l3,6 l3,-6 l3,5 l3,-6 l3,5 l2,-4" fill="none" stroke="#b4b4b4" stroke-width="0.45"/>
<path d="M391,780 L408,780" fill="none" stroke="#b0b0b0" stroke-width="0.5"/>
<path d="M388.5,751.5 C392,750.5 396,752 399.7,754 C403.4,752 407.4,750.5 411,751.5 C410.5,755 408,757.5 404,757.8 L395.4,757.8 C391.4,757.5 389,755 388.5,751.5Z" fill="#fff" stroke="#555" stroke-width="0.8"/>
<path d="M388.3,749 C390.5,748 393,749 394,751.5 L389,752.5Z" fill="#555"/>
<path d="M411.1,749 C408.9,748 406.4,749 405.4,751.5 L410.4,752.5Z" fill="#6a6a6a"/>
<line x1="390.5" y1="735.8" x2="390.5" y2="750.2" stroke="#555" stroke-width="1.2" />
<line x1="399.7" y1="735.8" x2="399.7" y2="749" stroke="#aaa" stroke-width="0.5" />
<path d="M385.2,728.5 C385.5,727.6 397.5,727.6 397.7,728.5 L398.5,733.5 L402.3,735.9 L380.6,735.9 L384.4,733.5Z" fill="#2e6fc0"/>
<path d="M561,760 C570,762 580,765 583,772 C585,779 576,781 560,780 C548,779.5 536,779 524,778.5" fill="none" stroke="#c98a82" stroke-width="3.6" stroke-linecap="round"/>
<path d="M561,760 C570,762 580,765 583,772 C585,779 576,781 560,780 C548,779.5 536,779 524,778.5" fill="none" stroke="#e4aaa2" stroke-width="2" stroke-linecap="round"/>
<path d="M540,766 C543,769.5 548,771 554,771.8 C556.5,773 555,774.8 551.5,774.6 L542,774.2 C538.5,772.8 538,769 540,766Z" fill="#e8aaa6" stroke="#c89088" stroke-width="0.5"/>
<path d="M473.8,744.1C474.2,742.52 475.82,741.04 478,739.5C480.18,737.96 481.9,737.1 484.7,736.4C487.5,735.7 488.94,736.18 492,736C495.06,735.82 495.76,736.08 500,735.5C504.24,734.92 507.06,733.66 513.2,733.1C519.34,732.54 523.7,731.82 530.7,732.7C537.7,733.58 542.5,734.78 548.2,737.5C553.9,740.22 555.92,742.36 559.2,746.3C562.48,750.24 563.74,753.26 564.6,757.2C565.46,761.14 565.9,763.58 563.5,766C561.1,768.42 559.16,768.64 552.6,769.3C546.04,769.96 539.46,769.52 530.7,769.3C521.94,769.08 515.38,769.52 508.8,768.2C502.22,766.88 501.76,764.94 497.8,762.7C493.84,760.46 492.06,758.98 489,757C485.94,755.02 485.1,754.72 482.5,752.8C479.9,750.88 477.74,749.14 476,747.4C474.26,745.66 473.4,745.68 473.8,744.1Z" fill="url(#gRat)" stroke="#a89e94" stroke-width="0.8"/>
<path d="M498,762 C510,764 525,764 540,760 C550,757 558,752 563,748" fill="none" stroke="#d0c8c0" stroke-width="1"/>
<path d="M492,762 C493,766 493,770 489,772 C487,773.5 488,774.8 491,774.6 L498,774 C500,772 499.5,767 498,763Z" fill="#e8aaa6" stroke="#c89088" stroke-width="0.5"/>
<path d="M501,765 C503,768 506,769.5 509,770.5 C511,771.8 509.5,773.2 507,772.8 L501,771.5Z" fill="#e8aaa6" stroke="#c89088" stroke-width="0.5"/>
<ellipse cx="503.3" cy="741" rx="4.6" ry="5.6" fill="#eab4b0" stroke="#c8968e" stroke-width="0.6" transform="rotate(-15 503.3 741)"/>
<ellipse cx="498.8" cy="735.6" rx="2.3" ry="1.6" fill="#e0dcd8" stroke="#b8afa6" stroke-width="0.4"/>
<circle cx="486.9" cy="741.9" r="1.1" fill="#c0262a"/>
<circle cx="474.2" cy="744.6" r="0.9" fill="#e09090"/>
<path d="M474,742 l-3,-3 M474,743 l-4,-1 M475,744 l-3,1" fill="none" stroke="#ccc" stroke-width="0.4"/>
<rect x="511" y="733.6" width="19.7" height="6.1" fill="#e9e6cc" stroke="#a8a088" stroke-width="0.6" rx="2.5"/>
<line x1="513" y1="734.5" x2="513" y2="739" stroke="#c8c0a0" stroke-width="0.6" />
<line x1="548.2" y1="755" x2="558" y2="750.5" stroke="#4aa8d0" stroke-width="1" />
<line x1="558" y1="750.5" x2="590" y2="738.8" stroke="#a0a0a0" stroke-width="1.6" />
<line x1="559" y1="750" x2="580" y2="742.5" stroke="#5ab8d8" stroke-width="0.7" />
<line x1="590" y1="738.8" x2="596.4" y2="736.5" stroke="#888" stroke-width="0.8" />
<line x1="589.5" y1="736.8" x2="590.8" y2="740.6" stroke="#888" stroke-width="0.8" />
<circle cx="548.5" cy="755.3" r="0.9" fill="#e06060"/>
<text x="525.9" y="729.9" font-size="8.9">Dpep(20-42)DM</text>
<text x="572.7" y="757.2" font-size="8.8">Morphine</text>
<rect x="10" y="222.9" width="274" height="11.6" fill="#dadada"/>
<line x1="10" y1="235.1" x2="284" y2="235.1" stroke="#5a5a5a" stroke-width="1.3" />
<text x="13.4" y="231.9" font-size="9">DpepDM suppresses the DM co-internalization induced by DAMGO</text>
<text x="-0.7" y="233.1" font-size="11.5" fill="#000" font-weight="bold">b</text>
<text x="113.68" y="253.8" font-size="9" text-anchor="middle">MOR internalization</text>
<text x="247.28" y="253.8" font-size="9" text-anchor="middle">DOR internalization</text>
<line x1="49.18" y1="257.2" x2="178.18" y2="257.2" stroke="#1a1a1a" stroke-width="1.1" />
<line x1="49.18" y1="396.88" x2="178.18" y2="396.88" stroke="#1a1a1a" stroke-width="1.1" />
<line x1="55.68" y1="257.2" x2="55.68" y2="396.88" stroke="#1a1a1a" stroke-width="1.1" />
<line x1="171.68" y1="257.2" x2="171.68" y2="396.88" stroke="#1a1a1a" stroke-width="1.1" />
<line x1="49.18" y1="396.88" x2="55.68" y2="396.88" stroke="#1a1a1a" stroke-width="1.1" />
<line x1="171.68" y1="396.88" x2="178.18" y2="396.88" stroke="#1a1a1a" stroke-width="1.1" />
<text x="46.18" y="399.88" font-size="8.5" text-anchor="end">0.0</text>
<line x1="52.48" y1="385.24" x2="55.68" y2="385.24" stroke="#1a1a1a" stroke-width="1.1" />
<line x1="171.68" y1="385.24" x2="174.88" y2="385.24" stroke="#1a1a1a" stroke-width="1.1" />
<line x1="49.18" y1="373.6" x2="55.68" y2="373.6" stroke="#1a1a1a" stroke-width="1.1" />
<line x1="171.68" y1="373.6" x2="178.18" y2="373.6" stroke="#1a1a1a" stroke-width="1.1" />
<text x="46.18" y="376.6" font-size="8.5" text-anchor="end">0.2</text>
<line x1="52.48" y1="361.96" x2="55.68" y2="361.96" stroke="#1a1a1a" stroke-width="1.1" />
<line x1="171.68" y1="361.96" x2="174.88" y2="361.96" stroke="#1a1a1a" stroke-width="1.1" />
<line x1="49.18" y1="350.32" x2="55.68" y2="350.32" stroke="#1a1a1a" stroke-width="1.1" />
<line x1="171.68" y1="350.32" x2="178.18" y2="350.32" stroke="#1a1a1a" stroke-width="1.1" />
<text x="46.18" y="353.32" font-size="8.5" text-anchor="end">0.4</text>
<line x1="52.48" y1="338.68" x2="55.68" y2="338.68" stroke="#1a1a1a" stroke-width="1.1" />
<line x1="171.68" y1="338.68" x2="174.88" y2="338.68" stroke="#1a1a1a" stroke-width="1.1" />
<line x1="49.18" y1="327.04" x2="55.68" y2="327.04" stroke="#1a1a1a" stroke-width="1.1" />
<line x1="171.68" y1="327.04" x2="178.18" y2="327.04" stroke="#1a1a1a" stroke-width="1.1" />
<text x="46.18" y="330.04" font-size="8.5" text-anchor="end">0.6</text>
<line x1="52.48" y1="315.4" x2="55.68" y2="315.4" stroke="#1a1a1a" stroke-width="1.1" />
<line x1="171.68" y1="315.4" x2="174.88" y2="315.4" stroke="#1a1a1a" stroke-width="1.1" />
<line x1="49.18" y1="303.76" x2="55.68" y2="303.76" stroke="#1a1a1a" stroke-width="1.1" />
<line x1="171.68" y1="303.76" x2="178.18" y2="303.76" stroke="#1a1a1a" stroke-width="1.1" />
<text x="46.18" y="306.76" font-size="8.5" text-anchor="end">0.8</text>
<line x1="52.48" y1="292.12" x2="55.68" y2="292.12" stroke="#1a1a1a" stroke-width="1.1" />
<line x1="171.68" y1="292.12" x2="174.88" y2="292.12" stroke="#1a1a1a" stroke-width="1.1" />
<line x1="49.18" y1="280.48" x2="55.68" y2="280.48" stroke="#1a1a1a" stroke-width="1.1" />
<line x1="171.68" y1="280.48" x2="178.18" y2="280.48" stroke="#1a1a1a" stroke-width="1.1" />
<text x="46.18" y="283.48" font-size="8.5" text-anchor="end">1.0</text>
<line x1="52.48" y1="268.84" x2="55.68" y2="268.84" stroke="#1a1a1a" stroke-width="1.1" />
<line x1="171.68" y1="268.84" x2="174.88" y2="268.84" stroke="#1a1a1a" stroke-width="1.1" />
<line x1="49.18" y1="257.2" x2="55.68" y2="257.2" stroke="#1a1a1a" stroke-width="1.1" />
<line x1="171.68" y1="257.2" x2="178.18" y2="257.2" stroke="#1a1a1a" stroke-width="1.1" />
<text x="46.18" y="260.2" font-size="8.5" text-anchor="end">1.2</text>
<line x1="55.68" y1="396.88" x2="55.68" y2="400.38" stroke="#1a1a1a" stroke-width="1.1" />
<line x1="64.6" y1="396.88" x2="64.6" y2="402.88" stroke="#1a1a1a" stroke-width="1.1" />
<line x1="73.52" y1="396.88" x2="73.52" y2="400.38" stroke="#1a1a1a" stroke-width="1.1" />
<line x1="82.45" y1="396.88" x2="82.45" y2="402.88" stroke="#1a1a1a" stroke-width="1.1" />
<line x1="91.37" y1="396.88" x2="91.37" y2="400.38" stroke="#1a1a1a" stroke-width="1.1" />
<line x1="100.29" y1="396.88" x2="100.29" y2="402.88" stroke="#1a1a1a" stroke-width="1.1" />
<line x1="109.22" y1="396.88" x2="109.22" y2="400.38" stroke="#1a1a1a" stroke-width="1.1" />
<line x1="118.14" y1="396.88" x2="118.14" y2="402.88" stroke="#1a1a1a" stroke-width="1.1" />
<line x1="127.06" y1="396.88" x2="127.06" y2="400.38" stroke="#1a1a1a" stroke-width="1.1" />
<line x1="135.98" y1="396.88" x2="135.98" y2="402.88" stroke="#1a1a1a" stroke-width="1.1" />
<line x1="144.91" y1="396.88" x2="144.91" y2="400.38" stroke="#1a1a1a" stroke-width="1.1" />
<line x1="153.83" y1="396.88" x2="153.83" y2="402.88" stroke="#1a1a1a" stroke-width="1.1" />
<line x1="162.75" y1="396.88" x2="162.75" y2="400.38" stroke="#1a1a1a" stroke-width="1.1" />
<line x1="171.68" y1="396.88" x2="171.68" y2="402.88" stroke="#1a1a1a" stroke-width="1.1" />
<line x1="182.78" y1="257.2" x2="305.28" y2="257.2" stroke="#1a1a1a" stroke-width="1.1" />
<line x1="182.78" y1="396.88" x2="305.28" y2="396.88" stroke="#1a1a1a" stroke-width="1.1" />
<line x1="189.28" y1="257.2" x2="189.28" y2="396.88" stroke="#1a1a1a" stroke-width="1.1" />
<line x1="305.28" y1="257.2" x2="305.28" y2="396.88" stroke="#1a1a1a" stroke-width="1.1" />
<line x1="182.78" y1="396.88" x2="189.28" y2="396.88" stroke="#1a1a1a" stroke-width="1.1" />
<line x1="186.08" y1="385.24" x2="189.28" y2="385.24" stroke="#1a1a1a" stroke-width="1.1" />
<line x1="182.78" y1="373.6" x2="189.28" y2="373.6" stroke="#1a1a1a" stroke-width="1.1" />
<line x1="186.08" y1="361.96" x2="189.28" y2="361.96" stroke="#1a1a1a" stroke-width="1.1" />
<line x1="182.78" y1="350.32" x2="189.28" y2="350.32" stroke="#1a1a1a" stroke-width="1.1" />
<line x1="186.08" y1="338.68" x2="189.28" y2="338.68" stroke="#1a1a1a" stroke-width="1.1" />
<line x1="182.78" y1="327.04" x2="189.28" y2="327.04" stroke="#1a1a1a" stroke-width="1.1" />
<line x1="186.08" y1="315.4" x2="189.28" y2="315.4" stroke="#1a1a1a" stroke-width="1.1" />
<line x1="182.78" y1="303.76" x2="189.28" y2="303.76" stroke="#1a1a1a" stroke-width="1.1" />
<line x1="186.08" y1="292.12" x2="189.28" y2="292.12" stroke="#1a1a1a" stroke-width="1.1" />
<line x1="182.78" y1="280.48" x2="189.28" y2="280.48" stroke="#1a1a1a" stroke-width="1.1" />
<line x1="186.08" y1="268.84" x2="189.28" y2="268.84" stroke="#1a1a1a" stroke-width="1.1" />
<line x1="182.78" y1="257.2" x2="189.28" y2="257.2" stroke="#1a1a1a" stroke-width="1.1" />
<line x1="189.28" y1="396.88" x2="189.28" y2="400.38" stroke="#1a1a1a" stroke-width="1.1" />
<line x1="198.2" y1="396.88" x2="198.2" y2="402.88" stroke="#1a1a1a" stroke-width="1.1" />
<line x1="207.12" y1="396.88" x2="207.12" y2="400.38" stroke="#1a1a1a" stroke-width="1.1" />
<line x1="216.05" y1="396.88" x2="216.05" y2="402.88" stroke="#1a1a1a" stroke-width="1.1" />
<line x1="224.97" y1="396.88" x2="224.97" y2="400.38" stroke="#1a1a1a" stroke-width="1.1" />
<line x1="233.89" y1="396.88" x2="233.89" y2="402.88" stroke="#1a1a1a" stroke-width="1.1" />
<line x1="242.81" y1="396.88" x2="242.81" y2="400.38" stroke="#1a1a1a" stroke-width="1.1" />
<line x1="251.74" y1="396.88" x2="251.74" y2="402.88" stroke="#1a1a1a" stroke-width="1.1" />
<line x1="260.66" y1="396.88" x2="260.66" y2="400.38" stroke="#1a1a1a" stroke-width="1.1" />
<line x1="269.58" y1="396.88" x2="269.58" y2="402.88" stroke="#1a1a1a" stroke-width="1.1" />
<line x1="278.51" y1="396.88" x2="278.51" y2="400.38" stroke="#1a1a1a" stroke-width="1.1" />
<line x1="287.43" y1="396.88" x2="287.43" y2="402.88" stroke="#1a1a1a" stroke-width="1.1" />
<line x1="296.35" y1="396.88" x2="296.35" y2="400.38" stroke="#1a1a1a" stroke-width="1.1" />
<line x1="305.28" y1="396.88" x2="305.28" y2="402.88" stroke="#1a1a1a" stroke-width="1.1" />
<line x1="49.18" y1="412.7" x2="178.18" y2="412.7" stroke="#1a1a1a" stroke-width="1.1" />
<line x1="49.18" y1="552.38" x2="178.18" y2="552.38" stroke="#1a1a1a" stroke-width="1.1" />
<line x1="55.68" y1="412.7" x2="55.68" y2="552.38" stroke="#1a1a1a" stroke-width="1.1" />
<line x1="171.68" y1="412.7" x2="171.68" y2="552.38" stroke="#1a1a1a" stroke-width="1.1" />
<line x1="49.18" y1="552.38" x2="55.68" y2="552.38" stroke="#1a1a1a" stroke-width="1.1" />
<line x1="171.68" y1="552.38" x2="178.18" y2="552.38" stroke="#1a1a1a" stroke-width="1.1" />
<text x="46.18" y="555.38" font-size="8.5" text-anchor="end">0.0</text>
<line x1="52.48" y1="540.74" x2="55.68" y2="540.74" stroke="#1a1a1a" stroke-width="1.1" />
<line x1="171.68" y1="540.74" x2="174.88" y2="540.74" stroke="#1a1a1a" stroke-width="1.1" />
<line x1="49.18" y1="529.1" x2="55.68" y2="529.1" stroke="#1a1a1a" stroke-width="1.1" />
<line x1="171.68" y1="529.1" x2="178.18" y2="529.1" stroke="#1a1a1a" stroke-width="1.1" />
<text x="46.18" y="532.1" font-size="8.5" text-anchor="end">0.2</text>
<line x1="52.48" y1="517.46" x2="55.68" y2="517.46" stroke="#1a1a1a" stroke-width="1.1" />
<line x1="171.68" y1="517.46" x2="174.88" y2="517.46" stroke="#1a1a1a" stroke-width="1.1" />
<line x1="49.18" y1="505.82" x2="55.68" y2="505.82" stroke="#1a1a1a" stroke-width="1.1" />
<line x1="171.68" y1="505.82" x2="178.18" y2="505.82" stroke="#1a1a1a" stroke-width="1.1" />
<text x="46.18" y="508.82" font-size="8.5" text-anchor="end">0.4</text>
<line x1="52.48" y1="494.18" x2="55.68" y2="494.18" stroke="#1a1a1a" stroke-width="1.1" />
<line x1="171.68" y1="494.18" x2="174.88" y2="494.18" stroke="#1a1a1a" stroke-width="1.1" />
<line x1="49.18" y1="482.54" x2="55.68" y2="482.54" stroke="#1a1a1a" stroke-width="1.1" />
<line x1="171.68" y1="482.54" x2="178.18" y2="482.54" stroke="#1a1a1a" stroke-width="1.1" />
<text x="46.18" y="485.54" font-size="8.5" text-anchor="end">0.6</text>
<line x1="52.48" y1="470.9" x2="55.68" y2="470.9" stroke="#1a1a1a" stroke-width="1.1" />
<line x1="171.68" y1="470.9" x2="174.88" y2="470.9" stroke="#1a1a1a" stroke-width="1.1" />
<line x1="49.18" y1="459.26" x2="55.68" y2="459.26" stroke="#1a1a1a" stroke-width="1.1" />
<line x1="171.68" y1="459.26" x2="178.18" y2="459.26" stroke="#1a1a1a" stroke-width="1.1" />
<text x="46.18" y="462.26" font-size="8.5" text-anchor="end">0.8</text>
<line x1="52.48" y1="447.62" x2="55.68" y2="447.62" stroke="#1a1a1a" stroke-width="1.1" />
<line x1="171.68" y1="447.62" x2="174.88" y2="447.62" stroke="#1a1a1a" stroke-width="1.1" />
<line x1="49.18" y1="435.98" x2="55.68" y2="435.98" stroke="#1a1a1a" stroke-width="1.1" />
<line x1="171.68" y1="435.98" x2="178.18" y2="435.98" stroke="#1a1a1a" stroke-width="1.1" />
<text x="46.18" y="438.98" font-size="8.5" text-anchor="end">1.0</text>
<line x1="52.48" y1="424.34" x2="55.68" y2="424.34" stroke="#1a1a1a" stroke-width="1.1" />
<line x1="171.68" y1="424.34" x2="174.88" y2="424.34" stroke="#1a1a1a" stroke-width="1.1" />
<line x1="49.18" y1="412.7" x2="55.68" y2="412.7" stroke="#1a1a1a" stroke-width="1.1" />
<line x1="171.68" y1="412.7" x2="178.18" y2="412.7" stroke="#1a1a1a" stroke-width="1.1" />
<text x="46.18" y="415.7" font-size="8.5" text-anchor="end">1.2</text>
<line x1="55.68" y1="552.38" x2="55.68" y2="555.88" stroke="#1a1a1a" stroke-width="1.1" />
<line x1="55.68" y1="412.7" x2="55.68" y2="409.2" stroke="#1a1a1a" stroke-width="1.1" />
<line x1="64.6" y1="552.38" x2="64.6" y2="558.38" stroke="#1a1a1a" stroke-width="1.1" />
<line x1="64.6" y1="412.7" x2="64.6" y2="406.7" stroke="#1a1a1a" stroke-width="1.1" />
<line x1="73.52" y1="552.38" x2="73.52" y2="555.88" stroke="#1a1a1a" stroke-width="1.1" />
<line x1="73.52" y1="412.7" x2="73.52" y2="409.2" stroke="#1a1a1a" stroke-width="1.1" />
<line x1="82.45" y1="552.38" x2="82.45" y2="558.38" stroke="#1a1a1a" stroke-width="1.1" />
<line x1="82.45" y1="412.7" x2="82.45" y2="406.7" stroke="#1a1a1a" stroke-width="1.1" />
<line x1="91.37" y1="552.38" x2="91.37" y2="555.88" stroke="#1a1a1a" stroke-width="1.1" />
<line x1="91.37" y1="412.7" x2="91.37" y2="409.2" stroke="#1a1a1a" stroke-width="1.1" />
<line x1="100.29" y1="552.38" x2="100.29" y2="558.38" stroke="#1a1a1a" stroke-width="1.1" />
<line x1="100.29" y1="412.7" x2="100.29" y2="406.7" stroke="#1a1a1a" stroke-width="1.1" />
<line x1="109.22" y1="552.38" x2="109.22" y2="555.88" stroke="#1a1a1a" stroke-width="1.1" />
<line x1="109.22" y1="412.7" x2="109.22" y2="409.2" stroke="#1a1a1a" stroke-width="1.1" />
<line x1="118.14" y1="552.38" x2="118.14" y2="558.38" stroke="#1a1a1a" stroke-width="1.1" />
<line x1="118.14" y1="412.7" x2="118.14" y2="406.7" stroke="#1a1a1a" stroke-width="1.1" />
<line x1="127.06" y1="552.38" x2="127.06" y2="555.88" stroke="#1a1a1a" stroke-width="1.1" />
<line x1="127.06" y1="412.7" x2="127.06" y2="409.2" stroke="#1a1a1a" stroke-width="1.1" />
<line x1="135.98" y1="552.38" x2="135.98" y2="558.38" stroke="#1a1a1a" stroke-width="1.1" />
<line x1="135.98" y1="412.7" x2="135.98" y2="406.7" stroke="#1a1a1a" stroke-width="1.1" />
<line x1="144.91" y1="552.38" x2="144.91" y2="555.88" stroke="#1a1a1a" stroke-width="1.1" />
<line x1="144.91" y1="412.7" x2="144.91" y2="409.2" stroke="#1a1a1a" stroke-width="1.1" />
<line x1="153.83" y1="552.38" x2="153.83" y2="558.38" stroke="#1a1a1a" stroke-width="1.1" />
<line x1="153.83" y1="412.7" x2="153.83" y2="406.7" stroke="#1a1a1a" stroke-width="1.1" />
<line x1="162.75" y1="552.38" x2="162.75" y2="555.88" stroke="#1a1a1a" stroke-width="1.1" />
<line x1="162.75" y1="412.7" x2="162.75" y2="409.2" stroke="#1a1a1a" stroke-width="1.1" />
<line x1="171.68" y1="552.38" x2="171.68" y2="558.38" stroke="#1a1a1a" stroke-width="1.1" />
<line x1="171.68" y1="412.7" x2="171.68" y2="406.7" stroke="#1a1a1a" stroke-width="1.1" />
<line x1="182.78" y1="412.7" x2="305.28" y2="412.7" stroke="#1a1a1a" stroke-width="1.1" />
<line x1="182.78" y1="552.38" x2="305.28" y2="552.38" stroke="#1a1a1a" stroke-width="1.1" />
<line x1="189.28" y1="412.7" x2="189.28" y2="552.38" stroke="#1a1a1a" stroke-width="1.1" />
<line x1="305.28" y1="412.7" x2="305.28" y2="552.38" stroke="#1a1a1a" stroke-width="1.1" />
<line x1="182.78" y1="552.38" x2="189.28" y2="552.38" stroke="#1a1a1a" stroke-width="1.1" />
<line x1="186.08" y1="540.74" x2="189.28" y2="540.74" stroke="#1a1a1a" stroke-width="1.1" />
<line x1="182.78" y1="529.1" x2="189.28" y2="529.1" stroke="#1a1a1a" stroke-width="1.1" />
<line x1="186.08" y1="517.46" x2="189.28" y2="517.46" stroke="#1a1a1a" stroke-width="1.1" />
<line x1="182.78" y1="505.82" x2="189.28" y2="505.82" stroke="#1a1a1a" stroke-width="1.1" />
<line x1="186.08" y1="494.18" x2="189.28" y2="494.18" stroke="#1a1a1a" stroke-width="1.1" />
<line x1="182.78" y1="482.54" x2="189.28" y2="482.54" stroke="#1a1a1a" stroke-width="1.1" />
<line x1="186.08" y1="470.9" x2="189.28" y2="470.9" stroke="#1a1a1a" stroke-width="1.1" />
<line x1="182.78" y1="459.26" x2="189.28" y2="459.26" stroke="#1a1a1a" stroke-width="1.1" />
<line x1="186.08" y1="447.62" x2="189.28" y2="447.62" stroke="#1a1a1a" stroke-width="1.1" />
<line x1="182.78" y1="435.98" x2="189.28" y2="435.98" stroke="#1a1a1a" stroke-width="1.1" />
<line x1="186.08" y1="424.34" x2="189.28" y2="424.34" stroke="#1a1a1a" stroke-width="1.1" />
<line x1="182.78" y1="412.7" x2="189.28" y2="412.7" stroke="#1a1a1a" stroke-width="1.1" />
<line x1="189.28" y1="552.38" x2="189.28" y2="555.88" stroke="#1a1a1a" stroke-width="1.1" />
<line x1="189.28" y1="412.7" x2="189.28" y2="409.2" stroke="#1a1a1a" stroke-width="1.1" />
<line x1="198.2" y1="552.38" x2="198.2" y2="558.38" stroke="#1a1a1a" stroke-width="1.1" />
<line x1="198.2" y1="412.7" x2="198.2" y2="406.7" stroke="#1a1a1a" stroke-width="1.1" />
<line x1="207.12" y1="552.38" x2="207.12" y2="555.88" stroke="#1a1a1a" stroke-width="1.1" />
<line x1="207.12" y1="412.7" x2="207.12" y2="409.2" stroke="#1a1a1a" stroke-width="1.1" />
<line x1="216.05" y1="552.38" x2="216.05" y2="558.38" stroke="#1a1a1a" stroke-width="1.1" />
<line x1="216.05" y1="412.7" x2="216.05" y2="406.7" stroke="#1a1a1a" stroke-width="1.1" />
<line x1="224.97" y1="552.38" x2="224.97" y2="555.88" stroke="#1a1a1a" stroke-width="1.1" />
<line x1="224.97" y1="412.7" x2="224.97" y2="409.2" stroke="#1a1a1a" stroke-width="1.1" />
<line x1="233.89" y1="552.38" x2="233.89" y2="558.38" stroke="#1a1a1a" stroke-width="1.1" />
<line x1="233.89" y1="412.7" x2="233.89" y2="406.7" stroke="#1a1a1a" stroke-width="1.1" />
<line x1="242.81" y1="552.38" x2="242.81" y2="555.88" stroke="#1a1a1a" stroke-width="1.1" />
<line x1="242.81" y1="412.7" x2="242.81" y2="409.2" stroke="#1a1a1a" stroke-width="1.1" />
<line x1="251.74" y1="552.38" x2="251.74" y2="558.38" stroke="#1a1a1a" stroke-width="1.1" />
<line x1="251.74" y1="412.7" x2="251.74" y2="406.7" stroke="#1a1a1a" stroke-width="1.1" />
<line x1="260.66" y1="552.38" x2="260.66" y2="555.88" stroke="#1a1a1a" stroke-width="1.1" />
<line x1="260.66" y1="412.7" x2="260.66" y2="409.2" stroke="#1a1a1a" stroke-width="1.1" />
<line x1="269.58" y1="552.38" x2="269.58" y2="558.38" stroke="#1a1a1a" stroke-width="1.1" />
<line x1="269.58" y1="412.7" x2="269.58" y2="406.7" stroke="#1a1a1a" stroke-width="1.1" />
<line x1="278.51" y1="552.38" x2="278.51" y2="555.88" stroke="#1a1a1a" stroke-width="1.1" />
<line x1="278.51" y1="412.7" x2="278.51" y2="409.2" stroke="#1a1a1a" stroke-width="1.1" />
<line x1="287.43" y1="552.38" x2="287.43" y2="558.38" stroke="#1a1a1a" stroke-width="1.1" />
<line x1="287.43" y1="412.7" x2="287.43" y2="406.7" stroke="#1a1a1a" stroke-width="1.1" />
<line x1="296.35" y1="552.38" x2="296.35" y2="555.88" stroke="#1a1a1a" stroke-width="1.1" />
<line x1="296.35" y1="412.7" x2="296.35" y2="409.2" stroke="#1a1a1a" stroke-width="1.1" />
<line x1="305.28" y1="552.38" x2="305.28" y2="558.38" stroke="#1a1a1a" stroke-width="1.1" />
<line x1="305.28" y1="412.7" x2="305.28" y2="406.7" stroke="#1a1a1a" stroke-width="1.1" />
<line x1="49.18" y1="568.1" x2="178.18" y2="568.1" stroke="#1a1a1a" stroke-width="1.1" />
<line x1="49.18" y1="707.78" x2="178.18" y2="707.78" stroke="#1a1a1a" stroke-width="1.1" />
<line x1="55.68" y1="568.1" x2="55.68" y2="707.78" stroke="#1a1a1a" stroke-width="1.1" />
<line x1="171.68" y1="568.1" x2="171.68" y2="707.78" stroke="#1a1a1a" stroke-width="1.1" />
<line x1="49.18" y1="707.78" x2="55.68" y2="707.78" stroke="#1a1a1a" stroke-width="1.1" />
<line x1="171.68" y1="707.78" x2="178.18" y2="707.78" stroke="#1a1a1a" stroke-width="1.1" />
<text x="46.18" y="710.78" font-size="8.5" text-anchor="end">0.0</text>
<line x1="52.48" y1="696.14" x2="55.68" y2="696.14" stroke="#1a1a1a" stroke-width="1.1" />
<line x1="171.68" y1="696.14" x2="174.88" y2="696.14" stroke="#1a1a1a" stroke-width="1.1" />
<line x1="49.18" y1="684.5" x2="55.68" y2="684.5" stroke="#1a1a1a" stroke-width="1.1" />
<line x1="171.68" y1="684.5" x2="178.18" y2="684.5" stroke="#1a1a1a" stroke-width="1.1" />
<text x="46.18" y="687.5" font-size="8.5" text-anchor="end">0.2</text>
<line x1="52.48" y1="672.86" x2="55.68" y2="672.86" stroke="#1a1a1a" stroke-width="1.1" />
<line x1="171.68" y1="672.86" x2="174.88" y2="672.86" stroke="#1a1a1a" stroke-width="1.1" />
<line x1="49.18" y1="661.22" x2="55.68" y2="661.22" stroke="#1a1a1a" stroke-width="1.1" />
<line x1="171.68" y1="661.22" x2="178.18" y2="661.22" stroke="#1a1a1a" stroke-width="1.1" />
<text x="46.18" y="664.22" font-size="8.5" text-anchor="end">0.4</text>
<line x1="52.48" y1="649.58" x2="55.68" y2="649.58" stroke="#1a1a1a" stroke-width="1.1" />
<line x1="171.68" y1="649.58" x2="174.88" y2="649.58" stroke="#1a1a1a" stroke-width="1.1" />
<line x1="49.18" y1="637.94" x2="55.68" y2="637.94" stroke="#1a1a1a" stroke-width="1.1" />
<line x1="171.68" y1="637.94" x2="178.18" y2="637.94" stroke="#1a1a1a" stroke-width="1.1" />
<text x="46.18" y="640.94" font-size="8.5" text-anchor="end">0.6</text>
<line x1="52.48" y1="626.3" x2="55.68" y2="626.3" stroke="#1a1a1a" stroke-width="1.1" />
<line x1="171.68" y1="626.3" x2="174.88" y2="626.3" stroke="#1a1a1a" stroke-width="1.1" />
<line x1="49.18" y1="614.66" x2="55.68" y2="614.66" stroke="#1a1a1a" stroke-width="1.1" />
<line x1="171.68" y1="614.66" x2="178.18" y2="614.66" stroke="#1a1a1a" stroke-width="1.1" />
<text x="46.18" y="617.66" font-size="8.5" text-anchor="end">0.8</text>
<line x1="52.48" y1="603.02" x2="55.68" y2="603.02" stroke="#1a1a1a" stroke-width="1.1" />
<line x1="171.68" y1="603.02" x2="174.88" y2="603.02" stroke="#1a1a1a" stroke-width="1.1" />
<line x1="49.18" y1="591.38" x2="55.68" y2="591.38" stroke="#1a1a1a" stroke-width="1.1" />
<line x1="171.68" y1="591.38" x2="178.18" y2="591.38" stroke="#1a1a1a" stroke-width="1.1" />
<text x="46.18" y="594.38" font-size="8.5" text-anchor="end">1.0</text>
<line x1="52.48" y1="579.74" x2="55.68" y2="579.74" stroke="#1a1a1a" stroke-width="1.1" />
<line x1="171.68" y1="579.74" x2="174.88" y2="579.74" stroke="#1a1a1a" stroke-width="1.1" />
<line x1="49.18" y1="568.1" x2="55.68" y2="568.1" stroke="#1a1a1a" stroke-width="1.1" />
<line x1="171.68" y1="568.1" x2="178.18" y2="568.1" stroke="#1a1a1a" stroke-width="1.1" />
<text x="46.18" y="571.1" font-size="8.5" text-anchor="end">1.2</text>
<line x1="55.68" y1="707.78" x2="55.68" y2="711.28" stroke="#1a1a1a" stroke-width="1.1" />
<line x1="55.68" y1="568.1" x2="55.68" y2="564.6" stroke="#1a1a1a" stroke-width="1.1" />
<line x1="64.6" y1="707.78" x2="64.6" y2="713.78" stroke="#1a1a1a" stroke-width="1.1" />
<line x1="64.6" y1="568.1" x2="64.6" y2="562.1" stroke="#1a1a1a" stroke-width="1.1" />
<line x1="73.52" y1="707.78" x2="73.52" y2="711.28" stroke="#1a1a1a" stroke-width="1.1" />
<line x1="73.52" y1="568.1" x2="73.52" y2="564.6" stroke="#1a1a1a" stroke-width="1.1" />
<line x1="82.45" y1="707.78" x2="82.45" y2="713.78" stroke="#1a1a1a" stroke-width="1.1" />
<line x1="82.45" y1="568.1" x2="82.45" y2="562.1" stroke="#1a1a1a" stroke-width="1.1" />
<line x1="91.37" y1="707.78" x2="91.37" y2="711.28" stroke="#1a1a1a" stroke-width="1.1" />
<line x1="91.37" y1="568.1" x2="91.37" y2="564.6" stroke="#1a1a1a" stroke-width="1.1" />
<line x1="100.29" y1="707.78" x2="100.29" y2="713.78" stroke="#1a1a1a" stroke-width="1.1" />
<line x1="100.29" y1="568.1" x2="100.29" y2="562.1" stroke="#1a1a1a" stroke-width="1.1" />
<line x1="109.22" y1="707.78" x2="109.22" y2="711.28" stroke="#1a1a1a" stroke-width="1.1" />
<line x1="109.22" y1="568.1" x2="109.22" y2="564.6" stroke="#1a1a1a" stroke-width="1.1" />
<line x1="118.14" y1="707.78" x2="118.14" y2="713.78" stroke="#1a1a1a" stroke-width="1.1" />
<line x1="118.14" y1="568.1" x2="118.14" y2="562.1" stroke="#1a1a1a" stroke-width="1.1" />
<line x1="127.06" y1="707.78" x2="127.06" y2="711.28" stroke="#1a1a1a" stroke-width="1.1" />
<line x1="127.06" y1="568.1" x2="127.06" y2="564.6" stroke="#1a1a1a" stroke-width="1.1" />
<line x1="135.98" y1="707.78" x2="135.98" y2="713.78" stroke="#1a1a1a" stroke-width="1.1" />
<line x1="135.98" y1="568.1" x2="135.98" y2="562.1" stroke="#1a1a1a" stroke-width="1.1" />
<line x1="144.91" y1="707.78" x2="144.91" y2="711.28" stroke="#1a1a1a" stroke-width="1.1" />
<line x1="144.91" y1="568.1" x2="144.91" y2="564.6" stroke="#1a1a1a" stroke-width="1.1" />
<line x1="153.83" y1="707.78" x2="153.83" y2="713.78" stroke="#1a1a1a" stroke-width="1.1" />
<line x1="153.83" y1="568.1" x2="153.83" y2="562.1" stroke="#1a1a1a" stroke-width="1.1" />
<line x1="162.75" y1="707.78" x2="162.75" y2="711.28" stroke="#1a1a1a" stroke-width="1.1" />
<line x1="162.75" y1="568.1" x2="162.75" y2="564.6" stroke="#1a1a1a" stroke-width="1.1" />
<line x1="171.68" y1="707.78" x2="171.68" y2="713.78" stroke="#1a1a1a" stroke-width="1.1" />
<line x1="171.68" y1="568.1" x2="171.68" y2="562.1" stroke="#1a1a1a" stroke-width="1.1" />
<text x="64.6" y="724.3" font-size="8.5" text-anchor="middle">0</text>
<text x="82.45" y="724.3" font-size="8.5" text-anchor="middle">10</text>
<text x="100.29" y="724.3" font-size="8.5" text-anchor="middle">20</text>
<text x="118.14" y="724.3" font-size="8.5" text-anchor="middle">30</text>
<text x="135.98" y="724.3" font-size="8.5" text-anchor="middle">40</text>
<text x="153.83" y="724.3" font-size="8.5" text-anchor="middle">50</text>
<text x="171.68" y="724.3" font-size="8.5" text-anchor="middle">60</text>
<line x1="182.78" y1="568.1" x2="305.28" y2="568.1" stroke="#1a1a1a" stroke-width="1.1" />
<line x1="182.78" y1="707.78" x2="305.28" y2="707.78" stroke="#1a1a1a" stroke-width="1.1" />
<line x1="189.28" y1="568.1" x2="189.28" y2="707.78" stroke="#1a1a1a" stroke-width="1.1" />
<line x1="305.28" y1="568.1" x2="305.28" y2="707.78" stroke="#1a1a1a" stroke-width="1.1" />
<line x1="182.78" y1="707.78" x2="189.28" y2="707.78" stroke="#1a1a1a" stroke-width="1.1" />
<line x1="186.08" y1="696.14" x2="189.28" y2="696.14" stroke="#1a1a1a" stroke-width="1.1" />
<line x1="182.78" y1="684.5" x2="189.28" y2="684.5" stroke="#1a1a1a" stroke-width="1.1" />
<line x1="186.08" y1="672.86" x2="189.28" y2="672.86" stroke="#1a1a1a" stroke-width="1.1" />
<line x1="182.78" y1="661.22" x2="189.28" y2="661.22" stroke="#1a1a1a" stroke-width="1.1" />
<line x1="186.08" y1="649.58" x2="189.28" y2="649.58" stroke="#1a1a1a" stroke-width="1.1" />
<line x1="182.78" y1="637.94" x2="189.28" y2="637.94" stroke="#1a1a1a" stroke-width="1.1" />
<line x1="186.08" y1="626.3" x2="189.28" y2="626.3" stroke="#1a1a1a" stroke-width="1.1" />
<line x1="182.78" y1="614.66" x2="189.28" y2="614.66" stroke="#1a1a1a" stroke-width="1.1" />
<line x1="186.08" y1="603.02" x2="189.28" y2="603.02" stroke="#1a1a1a" stroke-width="1.1" />
<line x1="182.78" y1="591.38" x2="189.28" y2="591.38" stroke="#1a1a1a" stroke-width="1.1" />
<line x1="186.08" y1="579.74" x2="189.28" y2="579.74" stroke="#1a1a1a" stroke-width="1.1" />
<line x1="182.78" y1="568.1" x2="189.28" y2="568.1" stroke="#1a1a1a" stroke-width="1.1" />
<line x1="189.28" y1="707.78" x2="189.28" y2="711.28" stroke="#1a1a1a" stroke-width="1.1" />
<line x1="189.28" y1="568.1" x2="189.28" y2="564.6" stroke="#1a1a1a" stroke-width="1.1" />
<line x1="198.2" y1="707.78" x2="198.2" y2="713.78" stroke="#1a1a1a" stroke-width="1.1" />
<line x1="198.2" y1="568.1" x2="198.2" y2="562.1" stroke="#1a1a1a" stroke-width="1.1" />
<line x1="207.12" y1="707.78" x2="207.12" y2="711.28" stroke="#1a1a1a" stroke-width="1.1" />
<line x1="207.12" y1="568.1" x2="207.12" y2="564.6" stroke="#1a1a1a" stroke-width="1.1" />
<line x1="216.05" y1="707.78" x2="216.05" y2="713.78" stroke="#1a1a1a" stroke-width="1.1" />
<line x1="216.05" y1="568.1" x2="216.05" y2="562.1" stroke="#1a1a1a" stroke-width="1.1" />
<line x1="224.97" y1="707.78" x2="224.97" y2="711.28" stroke="#1a1a1a" stroke-width="1.1" />
<line x1="224.97" y1="568.1" x2="224.97" y2="564.6" stroke="#1a1a1a" stroke-width="1.1" />
<line x1="233.89" y1="707.78" x2="233.89" y2="713.78" stroke="#1a1a1a" stroke-width="1.1" />
<line x1="233.89" y1="568.1" x2="233.89" y2="562.1" stroke="#1a1a1a" stroke-width="1.1" />
<line x1="242.81" y1="707.78" x2="242.81" y2="711.28" stroke="#1a1a1a" stroke-width="1.1" />
<line x1="242.81" y1="568.1" x2="242.81" y2="564.6" stroke="#1a1a1a" stroke-width="1.1" />
<line x1="251.74" y1="707.78" x2="251.74" y2="713.78" stroke="#1a1a1a" stroke-width="1.1" />
<line x1="251.74" y1="568.1" x2="251.74" y2="562.1" stroke="#1a1a1a" stroke-width="1.1" />
<line x1="260.66" y1="707.78" x2="260.66" y2="711.28" stroke="#1a1a1a" stroke-width="1.1" />
<line x1="260.66" y1="568.1" x2="260.66" y2="564.6" stroke="#1a1a1a" stroke-width="1.1" />
<line x1="269.58" y1="707.78" x2="269.58" y2="713.78" stroke="#1a1a1a" stroke-width="1.1" />
<line x1="269.58" y1="568.1" x2="269.58" y2="562.1" stroke="#1a1a1a" stroke-width="1.1" />
<line x1="278.51" y1="707.78" x2="278.51" y2="711.28" stroke="#1a1a1a" stroke-width="1.1" />
<line x1="278.51" y1="568.1" x2="278.51" y2="564.6" stroke="#1a1a1a" stroke-width="1.1" />
<line x1="287.43" y1="707.78" x2="287.43" y2="713.78" stroke="#1a1a1a" stroke-width="1.1" />
<line x1="287.43" y1="568.1" x2="287.43" y2="562.1" stroke="#1a1a1a" stroke-width="1.1" />
<line x1="296.35" y1="707.78" x2="296.35" y2="711.28" stroke="#1a1a1a" stroke-width="1.1" />
<line x1="296.35" y1="568.1" x2="296.35" y2="564.6" stroke="#1a1a1a" stroke-width="1.1" />
<line x1="305.28" y1="707.78" x2="305.28" y2="713.78" stroke="#1a1a1a" stroke-width="1.1" />
<line x1="305.28" y1="568.1" x2="305.28" y2="562.1" stroke="#1a1a1a" stroke-width="1.1" />
<text x="198.2" y="724.3" font-size="8.5" text-anchor="middle">0</text>
<text x="216.05" y="724.3" font-size="8.5" text-anchor="middle">10</text>
<text x="233.89" y="724.3" font-size="8.5" text-anchor="middle">20</text>
<text x="251.74" y="724.3" font-size="8.5" text-anchor="middle">30</text>
<text x="269.58" y="724.3" font-size="8.5" text-anchor="middle">40</text>
<text x="287.43" y="724.3" font-size="8.5" text-anchor="middle">50</text>
<text x="305.28" y="724.3" font-size="8.5" text-anchor="middle">60</text>
<text x="186.5" y="737" font-size="10.5" text-anchor="middle">Time (min)</text>
<text x="0" y="0" font-size="10.4" text-anchor="middle" transform="translate(24.2,479) rotate(-90)">Fraction of OR molecules remaining in the PM</text>
<text x="166.68" y="427.4" font-size="10.4" text-anchor="end">Morphine</text>
<text x="300.28" y="427.4" font-size="10.4" text-anchor="end">Morphine</text>
<text x="166.68" y="583" font-size="10.4" text-anchor="end">DAMGO</text>
<text x="300.28" y="583" font-size="10.4" text-anchor="end">DAMGO</text>
<line x1="73.52" y1="277.34" x2="73.52" y2="286.42" stroke="#333" stroke-width="0.8" />
<line x1="71.72" y1="277.34" x2="75.32" y2="277.34" stroke="#333" stroke-width="0.8" />
<line x1="71.72" y1="286.42" x2="75.32" y2="286.42" stroke="#333" stroke-width="0.8" />
<line x1="82.45" y1="278.34" x2="82.45" y2="286.81" stroke="#333" stroke-width="0.8" />
<line x1="80.65" y1="278.34" x2="84.25" y2="278.34" stroke="#333" stroke-width="0.8" />
<line x1="80.65" y1="286.81" x2="84.25" y2="286.81" stroke="#333" stroke-width="0.8" />
<line x1="91.37" y1="277.28" x2="91.37" y2="287.87" stroke="#333" stroke-width="0.8" />
<line x1="89.57" y1="277.28" x2="93.17" y2="277.28" stroke="#333" stroke-width="0.8" />
<line x1="89.57" y1="287.87" x2="93.17" y2="287.87" stroke="#333" stroke-width="0.8" />
<line x1="100.29" y1="277.52" x2="100.29" y2="289.02" stroke="#333" stroke-width="0.8" />
<line x1="98.49" y1="277.52" x2="102.09" y2="277.52" stroke="#333" stroke-width="0.8" />
<line x1="98.49" y1="289.02" x2="102.09" y2="289.02" stroke="#333" stroke-width="0.8" />
<line x1="109.22" y1="278.78" x2="109.22" y2="288.47" stroke="#333" stroke-width="0.8" />
<line x1="107.42" y1="278.78" x2="111.02" y2="278.78" stroke="#333" stroke-width="0.8" />
<line x1="107.42" y1="288.47" x2="111.02" y2="288.47" stroke="#333" stroke-width="0.8" />
<line x1="118.14" y1="278.44" x2="118.14" y2="289.04" stroke="#333" stroke-width="0.8" />
<line x1="116.34" y1="278.44" x2="119.94" y2="278.44" stroke="#333" stroke-width="0.8" />
<line x1="116.34" y1="289.04" x2="119.94" y2="289.04" stroke="#333" stroke-width="0.8" />
<line x1="127.06" y1="278.45" x2="127.06" y2="289.95" stroke="#333" stroke-width="0.8" />
<line x1="125.26" y1="278.45" x2="128.86" y2="278.45" stroke="#333" stroke-width="0.8" />
<line x1="125.26" y1="289.95" x2="128.86" y2="289.95" stroke="#333" stroke-width="0.8" />
<line x1="135.98" y1="280.13" x2="135.98" y2="289.21" stroke="#333" stroke-width="0.8" />
<line x1="134.18" y1="280.13" x2="137.78" y2="280.13" stroke="#333" stroke-width="0.8" />
<line x1="134.18" y1="289.21" x2="137.78" y2="289.21" stroke="#333" stroke-width="0.8" />
<line x1="144.91" y1="280.48" x2="144.91" y2="289.56" stroke="#333" stroke-width="0.8" />
<line x1="143.11" y1="280.48" x2="146.71" y2="280.48" stroke="#333" stroke-width="0.8" />
<line x1="143.11" y1="289.56" x2="146.71" y2="289.56" stroke="#333" stroke-width="0.8" />
<line x1="153.83" y1="280.83" x2="153.83" y2="289.91" stroke="#333" stroke-width="0.8" />
<line x1="152.03" y1="280.83" x2="155.63" y2="280.83" stroke="#333" stroke-width="0.8" />
<line x1="152.03" y1="289.91" x2="155.63" y2="289.91" stroke="#333" stroke-width="0.8" />
<line x1="162.75" y1="281.34" x2="162.75" y2="291.03" stroke="#333" stroke-width="0.8" />
<line x1="160.95" y1="281.34" x2="164.55" y2="281.34" stroke="#333" stroke-width="0.8" />
<line x1="160.95" y1="291.03" x2="164.55" y2="291.03" stroke="#333" stroke-width="0.8" />
<circle cx="64.6" cy="280.95" r="2.6" fill="#9a9a9a" stroke="#333" stroke-width="0.9"/>
<circle cx="73.52" cy="281.88" r="2.6" fill="#9a9a9a" stroke="#333" stroke-width="0.9"/>
<circle cx="82.45" cy="282.58" r="2.6" fill="#9a9a9a" stroke="#333" stroke-width="0.9"/>
<circle cx="91.37" cy="282.58" r="2.6" fill="#9a9a9a" stroke="#333" stroke-width="0.9"/>
<circle cx="100.29" cy="283.27" r="2.6" fill="#9a9a9a" stroke="#333" stroke-width="0.9"/>
<circle cx="109.22" cy="283.62" r="2.6" fill="#9a9a9a" stroke="#333" stroke-width="0.9"/>
<circle cx="118.14" cy="283.74" r="2.6" fill="#9a9a9a" stroke="#333" stroke-width="0.9"/>
<circle cx="127.06" cy="284.2" r="2.6" fill="#9a9a9a" stroke="#333" stroke-width="0.9"/>
<circle cx="135.98" cy="284.67" r="2.6" fill="#9a9a9a" stroke="#333" stroke-width="0.9"/>
<circle cx="144.91" cy="285.02" r="2.6" fill="#9a9a9a" stroke="#333" stroke-width="0.9"/>
<circle cx="153.83" cy="285.37" r="2.6" fill="#9a9a9a" stroke="#333" stroke-width="0.9"/>
<circle cx="162.75" cy="286.18" r="2.6" fill="#9a9a9a" stroke="#333" stroke-width="0.9"/>
<line x1="73.52" y1="277.45" x2="73.52" y2="284.44" stroke="#f040c0" stroke-width="0.8" />
<line x1="71.72" y1="277.45" x2="75.32" y2="277.45" stroke="#f040c0" stroke-width="0.8" />
<line x1="71.72" y1="284.44" x2="75.32" y2="284.44" stroke="#f040c0" stroke-width="0.8" />
<line x1="82.45" y1="278.38" x2="82.45" y2="284.9" stroke="#f040c0" stroke-width="0.8" />
<line x1="80.65" y1="278.38" x2="84.25" y2="278.38" stroke="#f040c0" stroke-width="0.8" />
<line x1="80.65" y1="284.9" x2="84.25" y2="284.9" stroke="#f040c0" stroke-width="0.8" />
<line x1="91.37" y1="277.57" x2="91.37" y2="285.72" stroke="#f040c0" stroke-width="0.8" />
<line x1="89.57" y1="277.57" x2="93.17" y2="277.57" stroke="#f040c0" stroke-width="0.8" />
<line x1="89.57" y1="285.72" x2="93.17" y2="285.72" stroke="#f040c0" stroke-width="0.8" />
<line x1="100.29" y1="277.92" x2="100.29" y2="286.77" stroke="#f040c0" stroke-width="0.8" />
<line x1="98.49" y1="277.92" x2="102.09" y2="277.92" stroke="#f040c0" stroke-width="0.8" />
<line x1="98.49" y1="286.77" x2="102.09" y2="286.77" stroke="#f040c0" stroke-width="0.8" />
<line x1="109.22" y1="278.97" x2="109.22" y2="286.42" stroke="#f040c0" stroke-width="0.8" />
<line x1="107.42" y1="278.97" x2="111.02" y2="278.97" stroke="#f040c0" stroke-width="0.8" />
<line x1="107.42" y1="286.42" x2="111.02" y2="286.42" stroke="#f040c0" stroke-width="0.8" />
<line x1="118.14" y1="278.73" x2="118.14" y2="286.88" stroke="#f040c0" stroke-width="0.8" />
<line x1="116.34" y1="278.73" x2="119.94" y2="278.73" stroke="#f040c0" stroke-width="0.8" />
<line x1="116.34" y1="286.88" x2="119.94" y2="286.88" stroke="#f040c0" stroke-width="0.8" />
<line x1="127.06" y1="278.85" x2="127.06" y2="287.7" stroke="#f040c0" stroke-width="0.8" />
<line x1="125.26" y1="278.85" x2="128.86" y2="278.85" stroke="#f040c0" stroke-width="0.8" />
<line x1="125.26" y1="287.7" x2="128.86" y2="287.7" stroke="#f040c0" stroke-width="0.8" />
<line x1="135.98" y1="280.25" x2="135.98" y2="287.23" stroke="#f040c0" stroke-width="0.8" />
<line x1="134.18" y1="280.25" x2="137.78" y2="280.25" stroke="#f040c0" stroke-width="0.8" />
<line x1="134.18" y1="287.23" x2="137.78" y2="287.23" stroke="#f040c0" stroke-width="0.8" />
<line x1="144.91" y1="280.6" x2="144.91" y2="287.58" stroke="#f040c0" stroke-width="0.8" />
<line x1="143.11" y1="280.6" x2="146.71" y2="280.6" stroke="#f040c0" stroke-width="0.8" />
<line x1="143.11" y1="287.58" x2="146.71" y2="287.58" stroke="#f040c0" stroke-width="0.8" />
<line x1="153.83" y1="280.95" x2="153.83" y2="287.93" stroke="#f040c0" stroke-width="0.8" />
<line x1="152.03" y1="280.95" x2="155.63" y2="280.95" stroke="#f040c0" stroke-width="0.8" />
<line x1="152.03" y1="287.93" x2="155.63" y2="287.93" stroke="#f040c0" stroke-width="0.8" />
<line x1="162.75" y1="281.53" x2="162.75" y2="288.98" stroke="#f040c0" stroke-width="0.8" />
<line x1="160.95" y1="281.53" x2="164.55" y2="281.53" stroke="#f040c0" stroke-width="0.8" />
<line x1="160.95" y1="288.98" x2="164.55" y2="288.98" stroke="#f040c0" stroke-width="0.8" />
<circle cx="64.6" cy="280.01" r="2.6" fill="#f27cf2" stroke="#e8205a" stroke-width="1"/>
<circle cx="73.52" cy="280.95" r="2.6" fill="#f27cf2" stroke="#e8205a" stroke-width="1"/>
<circle cx="82.45" cy="281.64" r="2.6" fill="#f27cf2" stroke="#e8205a" stroke-width="1"/>
<circle cx="91.37" cy="281.64" r="2.6" fill="#f27cf2" stroke="#e8205a" stroke-width="1"/>
<circle cx="100.29" cy="282.34" r="2.6" fill="#f27cf2" stroke="#e8205a" stroke-width="1"/>
<circle cx="109.22" cy="282.69" r="2.6" fill="#f27cf2" stroke="#e8205a" stroke-width="1"/>
<circle cx="118.14" cy="282.81" r="2.6" fill="#f27cf2" stroke="#e8205a" stroke-width="1"/>
<circle cx="127.06" cy="283.27" r="2.6" fill="#f27cf2" stroke="#e8205a" stroke-width="1"/>
<circle cx="135.98" cy="283.74" r="2.6" fill="#f27cf2" stroke="#e8205a" stroke-width="1"/>
<circle cx="144.91" cy="284.09" r="2.6" fill="#f27cf2" stroke="#e8205a" stroke-width="1"/>
<circle cx="153.83" cy="284.44" r="2.6" fill="#f27cf2" stroke="#e8205a" stroke-width="1"/>
<circle cx="162.75" cy="285.25" r="2.6" fill="#f27cf2" stroke="#e8205a" stroke-width="1"/>
<line x1="207.12" y1="279.83" x2="207.12" y2="283.46" stroke="#777" stroke-width="0.8" />
<line x1="205.32" y1="279.83" x2="208.92" y2="279.83" stroke="#777" stroke-width="0.8" />
<line x1="205.32" y1="283.46" x2="208.92" y2="283.46" stroke="#777" stroke-width="0.8" />
<line x1="216.05" y1="279.96" x2="216.05" y2="284.5" stroke="#777" stroke-width="0.8" />
<line x1="214.25" y1="279.96" x2="217.85" y2="279.96" stroke="#777" stroke-width="0.8" />
<line x1="214.25" y1="284.5" x2="217.85" y2="284.5" stroke="#777" stroke-width="0.8" />
<line x1="224.97" y1="278.27" x2="224.97" y2="287.35" stroke="#777" stroke-width="0.8" />
<line x1="223.17" y1="278.27" x2="226.77" y2="278.27" stroke="#777" stroke-width="0.8" />
<line x1="223.17" y1="287.35" x2="226.77" y2="287.35" stroke="#777" stroke-width="0.8" />
<line x1="233.89" y1="278.8" x2="233.89" y2="287.28" stroke="#777" stroke-width="0.8" />
<line x1="232.09" y1="278.8" x2="235.69" y2="278.8" stroke="#777" stroke-width="0.8" />
<line x1="232.09" y1="287.28" x2="235.69" y2="287.28" stroke="#777" stroke-width="0.8" />
<line x1="242.81" y1="278.97" x2="242.81" y2="288.05" stroke="#777" stroke-width="0.8" />
<line x1="241.01" y1="278.97" x2="244.62" y2="278.97" stroke="#777" stroke-width="0.8" />
<line x1="241.01" y1="288.05" x2="244.62" y2="288.05" stroke="#777" stroke-width="0.8" />
<line x1="251.74" y1="280.55" x2="251.74" y2="286" stroke="#777" stroke-width="0.8" />
<line x1="249.94" y1="280.55" x2="253.54" y2="280.55" stroke="#777" stroke-width="0.8" />
<line x1="249.94" y1="286" x2="253.54" y2="286" stroke="#777" stroke-width="0.8" />
<line x1="260.66" y1="279.43" x2="260.66" y2="288.51" stroke="#777" stroke-width="0.8" />
<line x1="258.86" y1="279.43" x2="262.46" y2="279.43" stroke="#777" stroke-width="0.8" />
<line x1="258.86" y1="288.51" x2="262.46" y2="288.51" stroke="#777" stroke-width="0.8" />
<line x1="269.58" y1="279.74" x2="269.58" y2="288.21" stroke="#777" stroke-width="0.8" />
<line x1="267.78" y1="279.74" x2="271.38" y2="279.74" stroke="#777" stroke-width="0.8" />
<line x1="267.78" y1="288.21" x2="271.38" y2="288.21" stroke="#777" stroke-width="0.8" />
<line x1="278.51" y1="281.18" x2="278.51" y2="287.23" stroke="#777" stroke-width="0.8" />
<line x1="276.71" y1="281.18" x2="280.31" y2="281.18" stroke="#777" stroke-width="0.8" />
<line x1="276.71" y1="287.23" x2="280.31" y2="287.23" stroke="#777" stroke-width="0.8" />
<line x1="287.43" y1="280.01" x2="287.43" y2="289.09" stroke="#777" stroke-width="0.8" />
<line x1="285.63" y1="280.01" x2="289.23" y2="280.01" stroke="#777" stroke-width="0.8" />
<line x1="285.63" y1="289.09" x2="289.23" y2="289.09" stroke="#777" stroke-width="0.8" />
<line x1="296.35" y1="280.42" x2="296.35" y2="291.01" stroke="#777" stroke-width="0.8" />
<line x1="294.55" y1="280.42" x2="298.15" y2="280.42" stroke="#777" stroke-width="0.8" />
<line x1="294.55" y1="291.01" x2="298.15" y2="291.01" stroke="#777" stroke-width="0.8" />
<path d="M195,277.78L201.4,277.78L198.2,283.18Z" fill="#a0a0a0"/>
<path d="M203.92,278.94L210.32,278.94L207.12,284.34Z" fill="#a0a0a0"/>
<path d="M212.85,279.53L219.25,279.53L216.05,284.93Z" fill="#a0a0a0"/>
<path d="M221.77,280.11L228.17,280.11L224.97,285.51Z" fill="#a0a0a0"/>
<path d="M230.69,280.34L237.09,280.34L233.89,285.74Z" fill="#a0a0a0"/>
<path d="M239.62,280.81L246.01,280.81L242.81,286.21Z" fill="#a0a0a0"/>
<path d="M248.54,280.57L254.94,280.57L251.74,285.97Z" fill="#a0a0a0"/>
<path d="M257.46,281.27L263.86,281.27L260.66,286.67Z" fill="#a0a0a0"/>
<path d="M266.38,281.27L272.78,281.27L269.58,286.67Z" fill="#a0a0a0"/>
<path d="M275.31,281.5L281.71,281.5L278.51,286.9Z" fill="#a0a0a0"/>
<path d="M284.23,281.85L290.63,281.85L287.43,287.25Z" fill="#a0a0a0"/>
<path d="M293.15,283.02L299.55,283.02L296.35,288.42Z" fill="#a0a0a0"/>
<line x1="207.12" y1="280.6" x2="207.12" y2="283.39" stroke="#e040e0" stroke-width="0.8" />
<line x1="205.32" y1="280.6" x2="208.92" y2="280.6" stroke="#e040e0" stroke-width="0.8" />
<line x1="205.32" y1="283.39" x2="208.92" y2="283.39" stroke="#e040e0" stroke-width="0.8" />
<line x1="216.05" y1="280.83" x2="216.05" y2="284.32" stroke="#e040e0" stroke-width="0.8" />
<line x1="214.25" y1="280.83" x2="217.85" y2="280.83" stroke="#e040e0" stroke-width="0.8" />
<line x1="214.25" y1="284.32" x2="217.85" y2="284.32" stroke="#e040e0" stroke-width="0.8" />
<line x1="224.97" y1="279.67" x2="224.97" y2="286.65" stroke="#e040e0" stroke-width="0.8" />
<line x1="223.17" y1="279.67" x2="226.77" y2="279.67" stroke="#e040e0" stroke-width="0.8" />
<line x1="223.17" y1="286.65" x2="226.77" y2="286.65" stroke="#e040e0" stroke-width="0.8" />
<line x1="233.89" y1="280.13" x2="233.89" y2="286.65" stroke="#e040e0" stroke-width="0.8" />
<line x1="232.09" y1="280.13" x2="235.69" y2="280.13" stroke="#e040e0" stroke-width="0.8" />
<line x1="232.09" y1="286.65" x2="235.69" y2="286.65" stroke="#e040e0" stroke-width="0.8" />
<line x1="242.81" y1="280.36" x2="242.81" y2="287.35" stroke="#e040e0" stroke-width="0.8" />
<line x1="241.01" y1="280.36" x2="244.62" y2="280.36" stroke="#e040e0" stroke-width="0.8" />
<line x1="241.01" y1="287.35" x2="244.62" y2="287.35" stroke="#e040e0" stroke-width="0.8" />
<line x1="251.74" y1="281.53" x2="251.74" y2="285.72" stroke="#e040e0" stroke-width="0.8" />
<line x1="249.94" y1="281.53" x2="253.54" y2="281.53" stroke="#e040e0" stroke-width="0.8" />
<line x1="249.94" y1="285.72" x2="253.54" y2="285.72" stroke="#e040e0" stroke-width="0.8" />
<line x1="260.66" y1="280.83" x2="260.66" y2="287.81" stroke="#e040e0" stroke-width="0.8" />
<line x1="258.86" y1="280.83" x2="262.46" y2="280.83" stroke="#e040e0" stroke-width="0.8" />
<line x1="258.86" y1="287.81" x2="262.46" y2="287.81" stroke="#e040e0" stroke-width="0.8" />
<line x1="269.58" y1="281.06" x2="269.58" y2="287.58" stroke="#e040e0" stroke-width="0.8" />
<line x1="267.78" y1="281.06" x2="271.38" y2="281.06" stroke="#e040e0" stroke-width="0.8" />
<line x1="267.78" y1="287.58" x2="271.38" y2="287.58" stroke="#e040e0" stroke-width="0.8" />
<line x1="278.51" y1="282.23" x2="278.51" y2="286.88" stroke="#e040e0" stroke-width="0.8" />
<line x1="276.71" y1="282.23" x2="280.31" y2="282.23" stroke="#e040e0" stroke-width="0.8" />
<line x1="276.71" y1="286.88" x2="280.31" y2="286.88" stroke="#e040e0" stroke-width="0.8" />
<line x1="287.43" y1="281.41" x2="287.43" y2="288.4" stroke="#e040e0" stroke-width="0.8" />
<line x1="285.63" y1="281.41" x2="289.23" y2="281.41" stroke="#e040e0" stroke-width="0.8" />
<line x1="285.63" y1="288.4" x2="289.23" y2="288.4" stroke="#e040e0" stroke-width="0.8" />
<line x1="296.35" y1="281.99" x2="296.35" y2="290.14" stroke="#e040e0" stroke-width="0.8" />
<line x1="294.55" y1="281.99" x2="298.15" y2="281.99" stroke="#e040e0" stroke-width="0.8" />
<line x1="294.55" y1="290.14" x2="298.15" y2="290.14" stroke="#e040e0" stroke-width="0.8" />
<path d="M195,278.13L201.4,278.13L198.2,283.53Z" fill="#ee66ee"/>
<path d="M203.92,279.29L210.32,279.29L207.12,284.69Z" fill="#ee66ee"/>
<path d="M212.85,279.88L219.25,279.88L216.05,285.28Z" fill="#ee66ee"/>
<path d="M221.77,280.46L228.17,280.46L224.97,285.86Z" fill="#ee66ee"/>
<path d="M230.69,280.69L237.09,280.69L233.89,286.09Z" fill="#ee66ee"/>
<path d="M239.62,281.16L246.01,281.16L242.81,286.56Z" fill="#ee66ee"/>
<path d="M248.54,280.92L254.94,280.92L251.74,286.32Z" fill="#ee66ee"/>
<path d="M257.46,281.62L263.86,281.62L260.66,287.02Z" fill="#ee66ee"/>
<path d="M266.38,281.62L272.78,281.62L269.58,287.02Z" fill="#ee66ee"/>
<path d="M275.31,281.85L281.71,281.85L278.51,287.25Z" fill="#ee66ee"/>
<path d="M284.23,282.2L290.63,282.2L287.43,287.6Z" fill="#ee66ee"/>
<path d="M293.15,283.37L299.55,283.37L296.35,288.77Z" fill="#ee66ee"/>
<line x1="73.52" y1="432.43" x2="73.52" y2="440" stroke="#888" stroke-width="0.8" />
<line x1="71.72" y1="432.43" x2="75.32" y2="432.43" stroke="#888" stroke-width="0.8" />
<line x1="71.72" y1="440" x2="75.32" y2="440" stroke="#888" stroke-width="0.8" />
<line x1="82.45" y1="431.85" x2="82.45" y2="442.44" stroke="#888" stroke-width="0.8" />
<line x1="80.65" y1="431.85" x2="84.25" y2="431.85" stroke="#888" stroke-width="0.8" />
<line x1="80.65" y1="442.44" x2="84.25" y2="442.44" stroke="#888" stroke-width="0.8" />
<line x1="91.37" y1="432.49" x2="91.37" y2="444.59" stroke="#888" stroke-width="0.8" />
<line x1="89.57" y1="432.49" x2="93.17" y2="432.49" stroke="#888" stroke-width="0.8" />
<line x1="89.57" y1="444.59" x2="93.17" y2="444.59" stroke="#888" stroke-width="0.8" />
<line x1="100.29" y1="435.28" x2="100.29" y2="444.36" stroke="#888" stroke-width="0.8" />
<line x1="98.49" y1="435.28" x2="102.09" y2="435.28" stroke="#888" stroke-width="0.8" />
<line x1="98.49" y1="444.36" x2="102.09" y2="444.36" stroke="#888" stroke-width="0.8" />
<line x1="109.22" y1="432.84" x2="109.22" y2="444.94" stroke="#888" stroke-width="0.8" />
<line x1="107.42" y1="432.84" x2="111.02" y2="432.84" stroke="#888" stroke-width="0.8" />
<line x1="107.42" y1="444.94" x2="111.02" y2="444.94" stroke="#888" stroke-width="0.8" />
<line x1="118.14" y1="435.75" x2="118.14" y2="444.83" stroke="#888" stroke-width="0.8" />
<line x1="116.34" y1="435.75" x2="119.94" y2="435.75" stroke="#888" stroke-width="0.8" />
<line x1="116.34" y1="444.83" x2="119.94" y2="444.83" stroke="#888" stroke-width="0.8" />
<line x1="127.06" y1="437.26" x2="127.06" y2="443.31" stroke="#888" stroke-width="0.8" />
<line x1="125.26" y1="437.26" x2="128.86" y2="437.26" stroke="#888" stroke-width="0.8" />
<line x1="125.26" y1="443.31" x2="128.86" y2="443.31" stroke="#888" stroke-width="0.8" />
<line x1="135.98" y1="436.79" x2="135.98" y2="442.85" stroke="#888" stroke-width="0.8" />
<line x1="134.18" y1="436.79" x2="137.78" y2="436.79" stroke="#888" stroke-width="0.8" />
<line x1="134.18" y1="442.85" x2="137.78" y2="442.85" stroke="#888" stroke-width="0.8" />
<line x1="144.91" y1="437.2" x2="144.91" y2="444.77" stroke="#888" stroke-width="0.8" />
<line x1="143.11" y1="437.2" x2="146.71" y2="437.2" stroke="#888" stroke-width="0.8" />
<line x1="143.11" y1="444.77" x2="146.71" y2="444.77" stroke="#888" stroke-width="0.8" />
<line x1="153.83" y1="438.19" x2="153.83" y2="444.24" stroke="#888" stroke-width="0.8" />
<line x1="152.03" y1="438.19" x2="155.63" y2="438.19" stroke="#888" stroke-width="0.8" />
<line x1="152.03" y1="444.24" x2="155.63" y2="444.24" stroke="#888" stroke-width="0.8" />
<line x1="162.75" y1="437.03" x2="162.75" y2="446.11" stroke="#888" stroke-width="0.8" />
<line x1="160.95" y1="437.03" x2="164.55" y2="437.03" stroke="#888" stroke-width="0.8" />
<line x1="160.95" y1="446.11" x2="164.55" y2="446.11" stroke="#888" stroke-width="0.8" />
<circle cx="64.6" cy="434.58" r="2.6" fill="#9a9a9a" stroke="#333" stroke-width="0.9"/>
<circle cx="73.52" cy="436.21" r="2.6" fill="#9a9a9a" stroke="#333" stroke-width="0.9"/>
<circle cx="82.45" cy="437.14" r="2.6" fill="#9a9a9a" stroke="#333" stroke-width="0.9"/>
<circle cx="91.37" cy="438.54" r="2.6" fill="#9a9a9a" stroke="#333" stroke-width="0.9"/>
<circle cx="100.29" cy="439.82" r="2.6" fill="#9a9a9a" stroke="#333" stroke-width="0.9"/>
<circle cx="109.22" cy="438.89" r="2.6" fill="#9a9a9a" stroke="#333" stroke-width="0.9"/>
<circle cx="118.14" cy="440.29" r="2.6" fill="#9a9a9a" stroke="#333" stroke-width="0.9"/>
<circle cx="127.06" cy="440.29" r="2.6" fill="#9a9a9a" stroke="#333" stroke-width="0.9"/>
<circle cx="135.98" cy="439.82" r="2.6" fill="#9a9a9a" stroke="#333" stroke-width="0.9"/>
<circle cx="144.91" cy="440.99" r="2.6" fill="#9a9a9a" stroke="#333" stroke-width="0.9"/>
<circle cx="153.83" cy="441.22" r="2.6" fill="#9a9a9a" stroke="#333" stroke-width="0.9"/>
<circle cx="162.75" cy="441.57" r="2.6" fill="#9a9a9a" stroke="#333" stroke-width="0.9"/>
<line x1="73.52" y1="434.7" x2="73.52" y2="440.52" stroke="#7a10d0" stroke-width="0.8" />
<line x1="71.72" y1="434.7" x2="75.32" y2="434.7" stroke="#7a10d0" stroke-width="0.8" />
<line x1="71.72" y1="440.52" x2="75.32" y2="440.52" stroke="#7a10d0" stroke-width="0.8" />
<line x1="82.45" y1="434.47" x2="82.45" y2="442.61" stroke="#7a10d0" stroke-width="0.8" />
<line x1="80.65" y1="434.47" x2="84.25" y2="434.47" stroke="#7a10d0" stroke-width="0.8" />
<line x1="80.65" y1="442.61" x2="84.25" y2="442.61" stroke="#7a10d0" stroke-width="0.8" />
<line x1="91.37" y1="435.28" x2="91.37" y2="444.59" stroke="#7a10d0" stroke-width="0.8" />
<line x1="89.57" y1="435.28" x2="93.17" y2="435.28" stroke="#7a10d0" stroke-width="0.8" />
<line x1="89.57" y1="444.59" x2="93.17" y2="444.59" stroke="#7a10d0" stroke-width="0.8" />
<line x1="100.29" y1="437.73" x2="100.29" y2="444.71" stroke="#7a10d0" stroke-width="0.8" />
<line x1="98.49" y1="437.73" x2="102.09" y2="437.73" stroke="#7a10d0" stroke-width="0.8" />
<line x1="98.49" y1="444.71" x2="102.09" y2="444.71" stroke="#7a10d0" stroke-width="0.8" />
<line x1="109.22" y1="435.63" x2="109.22" y2="444.94" stroke="#7a10d0" stroke-width="0.8" />
<line x1="107.42" y1="435.63" x2="111.02" y2="435.63" stroke="#7a10d0" stroke-width="0.8" />
<line x1="107.42" y1="444.94" x2="111.02" y2="444.94" stroke="#7a10d0" stroke-width="0.8" />
<line x1="118.14" y1="438.19" x2="118.14" y2="445.18" stroke="#7a10d0" stroke-width="0.8" />
<line x1="116.34" y1="438.19" x2="119.94" y2="438.19" stroke="#7a10d0" stroke-width="0.8" />
<line x1="116.34" y1="445.18" x2="119.94" y2="445.18" stroke="#7a10d0" stroke-width="0.8" />
<line x1="127.06" y1="439.36" x2="127.06" y2="444.01" stroke="#7a10d0" stroke-width="0.8" />
<line x1="125.26" y1="439.36" x2="128.86" y2="439.36" stroke="#7a10d0" stroke-width="0.8" />
<line x1="125.26" y1="444.01" x2="128.86" y2="444.01" stroke="#7a10d0" stroke-width="0.8" />
<line x1="135.98" y1="438.89" x2="135.98" y2="443.55" stroke="#7a10d0" stroke-width="0.8" />
<line x1="134.18" y1="438.89" x2="137.78" y2="438.89" stroke="#7a10d0" stroke-width="0.8" />
<line x1="134.18" y1="443.55" x2="137.78" y2="443.55" stroke="#7a10d0" stroke-width="0.8" />
<line x1="144.91" y1="439.47" x2="144.91" y2="445.29" stroke="#7a10d0" stroke-width="0.8" />
<line x1="143.11" y1="439.47" x2="146.71" y2="439.47" stroke="#7a10d0" stroke-width="0.8" />
<line x1="143.11" y1="445.29" x2="146.71" y2="445.29" stroke="#7a10d0" stroke-width="0.8" />
<line x1="153.83" y1="440.29" x2="153.83" y2="444.94" stroke="#7a10d0" stroke-width="0.8" />
<line x1="152.03" y1="440.29" x2="155.63" y2="440.29" stroke="#7a10d0" stroke-width="0.8" />
<line x1="152.03" y1="444.94" x2="155.63" y2="444.94" stroke="#7a10d0" stroke-width="0.8" />
<line x1="162.75" y1="439.47" x2="162.75" y2="446.46" stroke="#7a10d0" stroke-width="0.8" />
<line x1="160.95" y1="439.47" x2="164.55" y2="439.47" stroke="#7a10d0" stroke-width="0.8" />
<line x1="160.95" y1="446.46" x2="164.55" y2="446.46" stroke="#7a10d0" stroke-width="0.8" />
<circle cx="64.6" cy="435.98" r="2.6" fill="#8a14f0" stroke="#7a10d0" stroke-width="0.9"/>
<circle cx="73.52" cy="437.61" r="2.6" fill="#8a14f0" stroke="#7a10d0" stroke-width="0.9"/>
<circle cx="82.45" cy="438.54" r="2.6" fill="#8a14f0" stroke="#7a10d0" stroke-width="0.9"/>
<circle cx="91.37" cy="439.94" r="2.6" fill="#8a14f0" stroke="#7a10d0" stroke-width="0.9"/>
<circle cx="100.29" cy="441.22" r="2.6" fill="#8a14f0" stroke="#7a10d0" stroke-width="0.9"/>
<circle cx="109.22" cy="440.29" r="2.6" fill="#8a14f0" stroke="#7a10d0" stroke-width="0.9"/>
<circle cx="118.14" cy="441.68" r="2.6" fill="#8a14f0" stroke="#7a10d0" stroke-width="0.9"/>
<circle cx="127.06" cy="441.68" r="2.6" fill="#8a14f0" stroke="#7a10d0" stroke-width="0.9"/>
<circle cx="135.98" cy="441.22" r="2.6" fill="#8a14f0" stroke="#7a10d0" stroke-width="0.9"/>
<circle cx="144.91" cy="442.38" r="2.6" fill="#8a14f0" stroke="#7a10d0" stroke-width="0.9"/>
<circle cx="153.83" cy="442.61" r="2.6" fill="#8a14f0" stroke="#7a10d0" stroke-width="0.9"/>
<circle cx="162.75" cy="442.96" r="2.6" fill="#8a14f0" stroke="#7a10d0" stroke-width="0.9"/>
<circle cx="64.6" cy="435.98" r="1.5" fill="#f04cb0"/>
<circle cx="73.52" cy="437.61" r="1.5" fill="#f04cb0"/>
<circle cx="82.45" cy="438.54" r="1.5" fill="#f04cb0"/>
<circle cx="91.37" cy="439.94" r="1.5" fill="#f04cb0"/>
<circle cx="100.29" cy="441.22" r="1.5" fill="#f04cb0"/>
<circle cx="109.22" cy="440.29" r="1.5" fill="#f04cb0"/>
<circle cx="118.14" cy="441.68" r="1.5" fill="#f04cb0"/>
<circle cx="127.06" cy="441.68" r="1.5" fill="#f04cb0"/>
<circle cx="135.98" cy="441.22" r="1.5" fill="#f04cb0"/>
<circle cx="144.91" cy="442.38" r="1.5" fill="#f04cb0"/>
<circle cx="153.83" cy="442.61" r="1.5" fill="#f04cb0"/>
<circle cx="162.75" cy="442.96" r="1.5" fill="#f04cb0"/>
<line x1="207.12" y1="436.56" x2="207.12" y2="440.05" stroke="#888" stroke-width="0.8" />
<line x1="205.32" y1="436.56" x2="208.92" y2="436.56" stroke="#888" stroke-width="0.8" />
<line x1="205.32" y1="440.05" x2="208.92" y2="440.05" stroke="#888" stroke-width="0.8" />
<line x1="216.05" y1="437.14" x2="216.05" y2="440.64" stroke="#888" stroke-width="0.8" />
<line x1="214.25" y1="437.14" x2="217.85" y2="437.14" stroke="#888" stroke-width="0.8" />
<line x1="214.25" y1="440.64" x2="217.85" y2="440.64" stroke="#888" stroke-width="0.8" />
<line x1="224.97" y1="434.23" x2="224.97" y2="440.05" stroke="#888" stroke-width="0.8" />
<line x1="223.17" y1="434.23" x2="226.77" y2="434.23" stroke="#888" stroke-width="0.8" />
<line x1="223.17" y1="440.05" x2="226.77" y2="440.05" stroke="#888" stroke-width="0.8" />
<line x1="233.89" y1="435.4" x2="233.89" y2="442.38" stroke="#888" stroke-width="0.8" />
<line x1="232.09" y1="435.4" x2="235.69" y2="435.4" stroke="#888" stroke-width="0.8" />
<line x1="232.09" y1="442.38" x2="235.69" y2="442.38" stroke="#888" stroke-width="0.8" />
<line x1="242.81" y1="434.23" x2="242.81" y2="441.22" stroke="#888" stroke-width="0.8" />
<line x1="241.01" y1="434.23" x2="244.62" y2="434.23" stroke="#888" stroke-width="0.8" />
<line x1="241.01" y1="441.22" x2="244.62" y2="441.22" stroke="#888" stroke-width="0.8" />
<line x1="251.74" y1="437.14" x2="251.74" y2="441.8" stroke="#888" stroke-width="0.8" />
<line x1="249.94" y1="437.14" x2="253.54" y2="437.14" stroke="#888" stroke-width="0.8" />
<line x1="249.94" y1="441.8" x2="253.54" y2="441.8" stroke="#888" stroke-width="0.8" />
<line x1="260.66" y1="436.56" x2="260.66" y2="441.22" stroke="#888" stroke-width="0.8" />
<line x1="258.86" y1="436.56" x2="262.46" y2="436.56" stroke="#888" stroke-width="0.8" />
<line x1="258.86" y1="441.22" x2="262.46" y2="441.22" stroke="#888" stroke-width="0.8" />
<line x1="269.58" y1="437.73" x2="269.58" y2="442.38" stroke="#888" stroke-width="0.8" />
<line x1="267.78" y1="437.73" x2="271.38" y2="437.73" stroke="#888" stroke-width="0.8" />
<line x1="267.78" y1="442.38" x2="271.38" y2="442.38" stroke="#888" stroke-width="0.8" />
<line x1="278.51" y1="437.73" x2="278.51" y2="442.38" stroke="#888" stroke-width="0.8" />
<line x1="276.71" y1="437.73" x2="280.31" y2="437.73" stroke="#888" stroke-width="0.8" />
<line x1="276.71" y1="442.38" x2="280.31" y2="442.38" stroke="#888" stroke-width="0.8" />
<line x1="287.43" y1="435.98" x2="287.43" y2="442.96" stroke="#888" stroke-width="0.8" />
<line x1="285.63" y1="435.98" x2="289.23" y2="435.98" stroke="#888" stroke-width="0.8" />
<line x1="285.63" y1="442.96" x2="289.23" y2="442.96" stroke="#888" stroke-width="0.8" />
<line x1="296.35" y1="437.14" x2="296.35" y2="444.13" stroke="#888" stroke-width="0.8" />
<line x1="294.55" y1="437.14" x2="298.15" y2="437.14" stroke="#888" stroke-width="0.8" />
<line x1="294.55" y1="444.13" x2="298.15" y2="444.13" stroke="#888" stroke-width="0.8" />
<path d="M195,433.28L201.4,433.28L198.2,438.68Z" fill="#a8a8a8"/>
<path d="M203.92,435.61L210.32,435.61L207.12,441.01Z" fill="#a8a8a8"/>
<path d="M212.85,436.19L219.25,436.19L216.05,441.59Z" fill="#a8a8a8"/>
<path d="M221.77,434.44L228.17,434.44L224.97,439.84Z" fill="#a8a8a8"/>
<path d="M230.69,436.19L237.09,436.19L233.89,441.59Z" fill="#a8a8a8"/>
<path d="M239.62,435.03L246.01,435.03L242.81,440.43Z" fill="#a8a8a8"/>
<path d="M248.54,436.77L254.94,436.77L251.74,442.17Z" fill="#a8a8a8"/>
<path d="M257.46,436.19L263.86,436.19L260.66,441.59Z" fill="#a8a8a8"/>
<path d="M266.38,437.35L272.78,437.35L269.58,442.75Z" fill="#a8a8a8"/>
<path d="M275.31,437.35L281.71,437.35L278.51,442.75Z" fill="#a8a8a8"/>
<path d="M284.23,436.77L290.63,436.77L287.43,442.17Z" fill="#a8a8a8"/>
<path d="M293.15,437.94L299.55,437.94L296.35,443.34Z" fill="#a8a8a8"/>
<line x1="207.12" y1="438.66" x2="207.12" y2="442.15" stroke="#8a20f0" stroke-width="0.8" />
<line x1="205.32" y1="438.66" x2="208.92" y2="438.66" stroke="#8a20f0" stroke-width="0.8" />
<line x1="205.32" y1="442.15" x2="208.92" y2="442.15" stroke="#8a20f0" stroke-width="0.8" />
<line x1="216.05" y1="441.92" x2="216.05" y2="445.41" stroke="#8a20f0" stroke-width="0.8" />
<line x1="214.25" y1="441.92" x2="217.85" y2="441.92" stroke="#8a20f0" stroke-width="0.8" />
<line x1="214.25" y1="445.41" x2="217.85" y2="445.41" stroke="#8a20f0" stroke-width="0.8" />
<line x1="224.97" y1="439.47" x2="224.97" y2="445.29" stroke="#8a20f0" stroke-width="0.8" />
<line x1="223.17" y1="439.47" x2="226.77" y2="439.47" stroke="#8a20f0" stroke-width="0.8" />
<line x1="223.17" y1="445.29" x2="226.77" y2="445.29" stroke="#8a20f0" stroke-width="0.8" />
<line x1="233.89" y1="439.47" x2="233.89" y2="446.46" stroke="#8a20f0" stroke-width="0.8" />
<line x1="232.09" y1="439.47" x2="235.69" y2="439.47" stroke="#8a20f0" stroke-width="0.8" />
<line x1="232.09" y1="446.46" x2="235.69" y2="446.46" stroke="#8a20f0" stroke-width="0.8" />
<line x1="242.81" y1="439.94" x2="242.81" y2="446.92" stroke="#8a20f0" stroke-width="0.8" />
<line x1="241.01" y1="439.94" x2="244.62" y2="439.94" stroke="#8a20f0" stroke-width="0.8" />
<line x1="241.01" y1="446.92" x2="244.62" y2="446.92" stroke="#8a20f0" stroke-width="0.8" />
<line x1="251.74" y1="442.38" x2="251.74" y2="447.04" stroke="#8a20f0" stroke-width="0.8" />
<line x1="249.94" y1="442.38" x2="253.54" y2="442.38" stroke="#8a20f0" stroke-width="0.8" />
<line x1="249.94" y1="447.04" x2="253.54" y2="447.04" stroke="#8a20f0" stroke-width="0.8" />
<line x1="260.66" y1="442.38" x2="260.66" y2="447.04" stroke="#8a20f0" stroke-width="0.8" />
<line x1="258.86" y1="442.38" x2="262.46" y2="442.38" stroke="#8a20f0" stroke-width="0.8" />
<line x1="258.86" y1="447.04" x2="262.46" y2="447.04" stroke="#8a20f0" stroke-width="0.8" />
<line x1="269.58" y1="441.8" x2="269.58" y2="446.46" stroke="#8a20f0" stroke-width="0.8" />
<line x1="267.78" y1="441.8" x2="271.38" y2="441.8" stroke="#8a20f0" stroke-width="0.8" />
<line x1="267.78" y1="446.46" x2="271.38" y2="446.46" stroke="#8a20f0" stroke-width="0.8" />
<line x1="278.51" y1="442.96" x2="278.51" y2="447.62" stroke="#8a20f0" stroke-width="0.8" />
<line x1="276.71" y1="442.96" x2="280.31" y2="442.96" stroke="#8a20f0" stroke-width="0.8" />
<line x1="276.71" y1="447.62" x2="280.31" y2="447.62" stroke="#8a20f0" stroke-width="0.8" />
<line x1="287.43" y1="444.71" x2="287.43" y2="451.69" stroke="#8a20f0" stroke-width="0.8" />
<line x1="285.63" y1="444.71" x2="289.23" y2="444.71" stroke="#8a20f0" stroke-width="0.8" />
<line x1="285.63" y1="451.69" x2="289.23" y2="451.69" stroke="#8a20f0" stroke-width="0.8" />
<line x1="296.35" y1="444.71" x2="296.35" y2="451.69" stroke="#8a20f0" stroke-width="0.8" />
<line x1="294.55" y1="444.71" x2="298.15" y2="444.71" stroke="#8a20f0" stroke-width="0.8" />
<line x1="294.55" y1="451.69" x2="298.15" y2="451.69" stroke="#8a20f0" stroke-width="0.8" />
<path d="M195,433.28L201.4,433.28L198.2,438.68Z" fill="#8a20f0"/>
<path d="M203.92,437.7L210.32,437.7L207.12,443.1Z" fill="#8a20f0"/>
<path d="M212.85,440.96L219.25,440.96L216.05,446.36Z" fill="#8a20f0"/>
<path d="M221.77,439.68L228.17,439.68L224.97,445.08Z" fill="#8a20f0"/>
<path d="M230.69,440.26L237.09,440.26L233.89,445.66Z" fill="#8a20f0"/>
<path d="M239.62,440.73L246.01,440.73L242.81,446.13Z" fill="#8a20f0"/>
<path d="M248.54,442.01L254.94,442.01L251.74,447.41Z" fill="#8a20f0"/>
<path d="M257.46,442.01L263.86,442.01L260.66,447.41Z" fill="#8a20f0"/>
<path d="M266.38,441.43L272.78,441.43L269.58,446.83Z" fill="#8a20f0"/>
<path d="M275.31,442.59L281.71,442.59L278.51,447.99Z" fill="#8a20f0"/>
<path d="M284.23,445.5L290.63,445.5L287.43,450.9Z" fill="#8a20f0"/>
<path d="M293.15,445.5L299.55,445.5L296.35,450.9Z" fill="#8a20f0"/>
<line x1="207.12" y1="435.98" x2="207.12" y2="439.47" stroke="#f04090" stroke-width="0.8" />
<line x1="205.32" y1="435.98" x2="208.92" y2="435.98" stroke="#f04090" stroke-width="0.8" />
<line x1="205.32" y1="439.47" x2="208.92" y2="439.47" stroke="#f04090" stroke-width="0.8" />
<line x1="216.05" y1="436.79" x2="216.05" y2="440.29" stroke="#f04090" stroke-width="0.8" />
<line x1="214.25" y1="436.79" x2="217.85" y2="436.79" stroke="#f04090" stroke-width="0.8" />
<line x1="214.25" y1="440.29" x2="217.85" y2="440.29" stroke="#f04090" stroke-width="0.8" />
<line x1="224.97" y1="435.17" x2="224.97" y2="440.99" stroke="#f04090" stroke-width="0.8" />
<line x1="223.17" y1="435.17" x2="226.77" y2="435.17" stroke="#f04090" stroke-width="0.8" />
<line x1="223.17" y1="440.99" x2="226.77" y2="440.99" stroke="#f04090" stroke-width="0.8" />
<line x1="233.89" y1="436.21" x2="233.89" y2="443.2" stroke="#f04090" stroke-width="0.8" />
<line x1="232.09" y1="436.21" x2="235.69" y2="436.21" stroke="#f04090" stroke-width="0.8" />
<line x1="232.09" y1="443.2" x2="235.69" y2="443.2" stroke="#f04090" stroke-width="0.8" />
<line x1="242.81" y1="435.4" x2="242.81" y2="442.38" stroke="#f04090" stroke-width="0.8" />
<line x1="241.01" y1="435.4" x2="244.62" y2="435.4" stroke="#f04090" stroke-width="0.8" />
<line x1="241.01" y1="442.38" x2="244.62" y2="442.38" stroke="#f04090" stroke-width="0.8" />
<line x1="251.74" y1="437.61" x2="251.74" y2="442.27" stroke="#f04090" stroke-width="0.8" />
<line x1="249.94" y1="437.61" x2="253.54" y2="437.61" stroke="#f04090" stroke-width="0.8" />
<line x1="249.94" y1="442.27" x2="253.54" y2="442.27" stroke="#f04090" stroke-width="0.8" />
<line x1="260.66" y1="437.61" x2="260.66" y2="442.27" stroke="#f04090" stroke-width="0.8" />
<line x1="258.86" y1="437.61" x2="262.46" y2="437.61" stroke="#f04090" stroke-width="0.8" />
<line x1="258.86" y1="442.27" x2="262.46" y2="442.27" stroke="#f04090" stroke-width="0.8" />
<line x1="269.58" y1="438.08" x2="269.58" y2="442.73" stroke="#f04090" stroke-width="0.8" />
<line x1="267.78" y1="438.08" x2="271.38" y2="438.08" stroke="#f04090" stroke-width="0.8" />
<line x1="267.78" y1="442.73" x2="271.38" y2="442.73" stroke="#f04090" stroke-width="0.8" />
<line x1="278.51" y1="438.54" x2="278.51" y2="443.2" stroke="#f04090" stroke-width="0.8" />
<line x1="276.71" y1="438.54" x2="280.31" y2="438.54" stroke="#f04090" stroke-width="0.8" />
<line x1="276.71" y1="443.2" x2="280.31" y2="443.2" stroke="#f04090" stroke-width="0.8" />
<line x1="287.43" y1="438.31" x2="287.43" y2="445.29" stroke="#f04090" stroke-width="0.8" />
<line x1="285.63" y1="438.31" x2="289.23" y2="438.31" stroke="#f04090" stroke-width="0.8" />
<line x1="285.63" y1="445.29" x2="289.23" y2="445.29" stroke="#f04090" stroke-width="0.8" />
<line x1="296.35" y1="439.01" x2="296.35" y2="445.99" stroke="#f04090" stroke-width="0.8" />
<line x1="294.55" y1="439.01" x2="298.15" y2="439.01" stroke="#f04090" stroke-width="0.8" />
<line x1="294.55" y1="445.99" x2="298.15" y2="445.99" stroke="#f04090" stroke-width="0.8" />
<path d="M195,433.28L201.4,433.28L198.2,438.68Z" fill="#f04090"/>
<path d="M203.92,435.03L210.32,435.03L207.12,440.43Z" fill="#f04090"/>
<path d="M212.85,435.84L219.25,435.84L216.05,441.24Z" fill="#f04090"/>
<path d="M221.77,435.38L228.17,435.38L224.97,440.78Z" fill="#f04090"/>
<path d="M230.69,437L237.09,437L233.89,442.4Z" fill="#f04090"/>
<path d="M239.62,436.19L246.01,436.19L242.81,441.59Z" fill="#f04090"/>
<path d="M248.54,437.24L254.94,437.24L251.74,442.64Z" fill="#f04090"/>
<path d="M257.46,437.24L263.86,437.24L260.66,442.64Z" fill="#f04090"/>
<path d="M266.38,437.7L272.78,437.7L269.58,443.1Z" fill="#f04090"/>
<path d="M275.31,438.17L281.71,438.17L278.51,443.57Z" fill="#f04090"/>
<path d="M284.23,439.1L290.63,439.1L287.43,444.5Z" fill="#f04090"/>
<path d="M293.15,439.8L299.55,439.8L296.35,445.2Z" fill="#f04090"/>
<line x1="73.52" y1="590.22" x2="73.52" y2="596.04" stroke="#333" stroke-width="0.8" />
<line x1="71.72" y1="590.22" x2="75.32" y2="590.22" stroke="#333" stroke-width="0.8" />
<line x1="71.72" y1="596.04" x2="75.32" y2="596.04" stroke="#333" stroke-width="0.8" />
<line x1="82.45" y1="590.45" x2="82.45" y2="596.27" stroke="#333" stroke-width="0.8" />
<line x1="80.65" y1="590.45" x2="84.25" y2="590.45" stroke="#333" stroke-width="0.8" />
<line x1="80.65" y1="596.27" x2="84.25" y2="596.27" stroke="#333" stroke-width="0.8" />
<line x1="91.37" y1="589.87" x2="91.37" y2="596.85" stroke="#333" stroke-width="0.8" />
<line x1="89.57" y1="589.87" x2="93.17" y2="589.87" stroke="#333" stroke-width="0.8" />
<line x1="89.57" y1="596.85" x2="93.17" y2="596.85" stroke="#333" stroke-width="0.8" />
<line x1="100.29" y1="591.15" x2="100.29" y2="596.97" stroke="#333" stroke-width="0.8" />
<line x1="98.49" y1="591.15" x2="102.09" y2="591.15" stroke="#333" stroke-width="0.8" />
<line x1="98.49" y1="596.97" x2="102.09" y2="596.97" stroke="#333" stroke-width="0.8" />
<line x1="109.22" y1="590.57" x2="109.22" y2="597.55" stroke="#333" stroke-width="0.8" />
<line x1="107.42" y1="590.57" x2="111.02" y2="590.57" stroke="#333" stroke-width="0.8" />
<line x1="107.42" y1="597.55" x2="111.02" y2="597.55" stroke="#333" stroke-width="0.8" />
<line x1="118.14" y1="590.57" x2="118.14" y2="598.71" stroke="#333" stroke-width="0.8" />
<line x1="116.34" y1="590.57" x2="119.94" y2="590.57" stroke="#333" stroke-width="0.8" />
<line x1="116.34" y1="598.71" x2="119.94" y2="598.71" stroke="#333" stroke-width="0.8" />
<line x1="127.06" y1="592.31" x2="127.06" y2="596.97" stroke="#333" stroke-width="0.8" />
<line x1="125.26" y1="592.31" x2="128.86" y2="592.31" stroke="#333" stroke-width="0.8" />
<line x1="125.26" y1="596.97" x2="128.86" y2="596.97" stroke="#333" stroke-width="0.8" />
<line x1="135.98" y1="593.36" x2="135.98" y2="596.85" stroke="#333" stroke-width="0.8" />
<line x1="134.18" y1="593.36" x2="137.78" y2="593.36" stroke="#333" stroke-width="0.8" />
<line x1="134.18" y1="596.85" x2="137.78" y2="596.85" stroke="#333" stroke-width="0.8" />
<line x1="144.91" y1="593.48" x2="144.91" y2="598.13" stroke="#333" stroke-width="0.8" />
<line x1="143.11" y1="593.48" x2="146.71" y2="593.48" stroke="#333" stroke-width="0.8" />
<line x1="143.11" y1="598.13" x2="146.71" y2="598.13" stroke="#333" stroke-width="0.8" />
<line x1="153.83" y1="593.48" x2="153.83" y2="598.13" stroke="#333" stroke-width="0.8" />
<line x1="152.03" y1="593.48" x2="155.63" y2="593.48" stroke="#333" stroke-width="0.8" />
<line x1="152.03" y1="598.13" x2="155.63" y2="598.13" stroke="#333" stroke-width="0.8" />
<line x1="162.75" y1="594.52" x2="162.75" y2="599.18" stroke="#333" stroke-width="0.8" />
<line x1="160.95" y1="594.52" x2="164.55" y2="594.52" stroke="#333" stroke-width="0.8" />
<line x1="160.95" y1="599.18" x2="164.55" y2="599.18" stroke="#333" stroke-width="0.8" />
<circle cx="64.6" cy="591.38" r="2.6" fill="#b4b4b4" stroke="#2a2a2a" stroke-width="0.9"/>
<circle cx="73.52" cy="593.13" r="2.6" fill="#b4b4b4" stroke="#2a2a2a" stroke-width="0.9"/>
<circle cx="82.45" cy="593.36" r="2.6" fill="#b4b4b4" stroke="#2a2a2a" stroke-width="0.9"/>
<circle cx="91.37" cy="593.36" r="2.6" fill="#b4b4b4" stroke="#2a2a2a" stroke-width="0.9"/>
<circle cx="100.29" cy="594.06" r="2.6" fill="#b4b4b4" stroke="#2a2a2a" stroke-width="0.9"/>
<circle cx="109.22" cy="594.06" r="2.6" fill="#b4b4b4" stroke="#2a2a2a" stroke-width="0.9"/>
<circle cx="118.14" cy="594.64" r="2.6" fill="#b4b4b4" stroke="#2a2a2a" stroke-width="0.9"/>
<circle cx="127.06" cy="594.64" r="2.6" fill="#b4b4b4" stroke="#2a2a2a" stroke-width="0.9"/>
<circle cx="135.98" cy="595.1" r="2.6" fill="#b4b4b4" stroke="#2a2a2a" stroke-width="0.9"/>
<circle cx="144.91" cy="595.8" r="2.6" fill="#b4b4b4" stroke="#2a2a2a" stroke-width="0.9"/>
<circle cx="153.83" cy="595.8" r="2.6" fill="#b4b4b4" stroke="#2a2a2a" stroke-width="0.9"/>
<circle cx="162.75" cy="596.85" r="2.6" fill="#b4b4b4" stroke="#2a2a2a" stroke-width="0.9"/>
<line x1="73.52" y1="603.25" x2="73.52" y2="610.24" stroke="#56b4f0" stroke-width="0.8" />
<line x1="71.72" y1="603.25" x2="75.32" y2="603.25" stroke="#56b4f0" stroke-width="0.8" />
<line x1="71.72" y1="610.24" x2="75.32" y2="610.24" stroke="#56b4f0" stroke-width="0.8" />
<line x1="82.45" y1="614.31" x2="82.45" y2="621.29" stroke="#56b4f0" stroke-width="0.8" />
<line x1="80.65" y1="614.31" x2="84.25" y2="614.31" stroke="#56b4f0" stroke-width="0.8" />
<line x1="80.65" y1="621.29" x2="84.25" y2="621.29" stroke="#56b4f0" stroke-width="0.8" />
<line x1="91.37" y1="620.83" x2="91.37" y2="627.81" stroke="#56b4f0" stroke-width="0.8" />
<line x1="89.57" y1="620.83" x2="93.17" y2="620.83" stroke="#56b4f0" stroke-width="0.8" />
<line x1="89.57" y1="627.81" x2="93.17" y2="627.81" stroke="#56b4f0" stroke-width="0.8" />
<line x1="100.29" y1="624.79" x2="100.29" y2="631.77" stroke="#56b4f0" stroke-width="0.8" />
<line x1="98.49" y1="624.79" x2="102.09" y2="624.79" stroke="#56b4f0" stroke-width="0.8" />
<line x1="98.49" y1="631.77" x2="102.09" y2="631.77" stroke="#56b4f0" stroke-width="0.8" />
<line x1="109.22" y1="628.98" x2="109.22" y2="635.96" stroke="#56b4f0" stroke-width="0.8" />
<line x1="107.42" y1="628.98" x2="111.02" y2="628.98" stroke="#56b4f0" stroke-width="0.8" />
<line x1="107.42" y1="635.96" x2="111.02" y2="635.96" stroke="#56b4f0" stroke-width="0.8" />
<line x1="118.14" y1="632.47" x2="118.14" y2="639.45" stroke="#56b4f0" stroke-width="0.8" />
<line x1="116.34" y1="632.47" x2="119.94" y2="632.47" stroke="#56b4f0" stroke-width="0.8" />
<line x1="116.34" y1="639.45" x2="119.94" y2="639.45" stroke="#56b4f0" stroke-width="0.8" />
<line x1="127.06" y1="635.61" x2="127.06" y2="642.6" stroke="#56b4f0" stroke-width="0.8" />
<line x1="125.26" y1="635.61" x2="128.86" y2="635.61" stroke="#56b4f0" stroke-width="0.8" />
<line x1="125.26" y1="642.6" x2="128.86" y2="642.6" stroke="#56b4f0" stroke-width="0.8" />
<line x1="135.98" y1="638.75" x2="135.98" y2="644.57" stroke="#56b4f0" stroke-width="0.8" />
<line x1="134.18" y1="638.75" x2="137.78" y2="638.75" stroke="#56b4f0" stroke-width="0.8" />
<line x1="134.18" y1="644.57" x2="137.78" y2="644.57" stroke="#56b4f0" stroke-width="0.8" />
<line x1="144.91" y1="640.85" x2="144.91" y2="646.67" stroke="#56b4f0" stroke-width="0.8" />
<line x1="143.11" y1="640.85" x2="146.71" y2="640.85" stroke="#56b4f0" stroke-width="0.8" />
<line x1="143.11" y1="646.67" x2="146.71" y2="646.67" stroke="#56b4f0" stroke-width="0.8" />
<line x1="153.83" y1="641.2" x2="153.83" y2="648.18" stroke="#56b4f0" stroke-width="0.8" />
<line x1="152.03" y1="641.2" x2="155.63" y2="641.2" stroke="#56b4f0" stroke-width="0.8" />
<line x1="152.03" y1="648.18" x2="155.63" y2="648.18" stroke="#56b4f0" stroke-width="0.8" />
<line x1="162.75" y1="642.25" x2="162.75" y2="649.23" stroke="#56b4f0" stroke-width="0.8" />
<line x1="160.95" y1="642.25" x2="164.55" y2="642.25" stroke="#56b4f0" stroke-width="0.8" />
<line x1="160.95" y1="649.23" x2="164.55" y2="649.23" stroke="#56b4f0" stroke-width="0.8" />
<circle cx="64.6" cy="591.38" r="2.6" fill="#56b4f0" stroke="#56b4f0" stroke-width="0.9"/>
<circle cx="73.52" cy="606.74" r="2.6" fill="#56b4f0" stroke="#56b4f0" stroke-width="0.9"/>
<circle cx="82.45" cy="617.8" r="2.6" fill="#56b4f0" stroke="#56b4f0" stroke-width="0.9"/>
<circle cx="91.37" cy="624.32" r="2.6" fill="#56b4f0" stroke="#56b4f0" stroke-width="0.9"/>
<circle cx="100.29" cy="628.28" r="2.6" fill="#56b4f0" stroke="#56b4f0" stroke-width="0.9"/>
<circle cx="109.22" cy="632.47" r="2.6" fill="#56b4f0" stroke="#56b4f0" stroke-width="0.9"/>
<circle cx="118.14" cy="635.96" r="2.6" fill="#56b4f0" stroke="#56b4f0" stroke-width="0.9"/>
<circle cx="127.06" cy="639.1" r="2.6" fill="#56b4f0" stroke="#56b4f0" stroke-width="0.9"/>
<circle cx="135.98" cy="641.66" r="2.6" fill="#56b4f0" stroke="#56b4f0" stroke-width="0.9"/>
<circle cx="144.91" cy="643.76" r="2.6" fill="#56b4f0" stroke="#56b4f0" stroke-width="0.9"/>
<circle cx="153.83" cy="644.69" r="2.6" fill="#56b4f0" stroke="#56b4f0" stroke-width="0.9"/>
<circle cx="162.75" cy="645.74" r="2.6" fill="#56b4f0" stroke="#56b4f0" stroke-width="0.9"/>
<line x1="73.52" y1="596.85" x2="73.52" y2="603.83" stroke="#30d030" stroke-width="0.8" />
<line x1="71.72" y1="596.85" x2="75.32" y2="596.85" stroke="#30d030" stroke-width="0.8" />
<line x1="71.72" y1="603.83" x2="75.32" y2="603.83" stroke="#30d030" stroke-width="0.8" />
<line x1="82.45" y1="601.51" x2="82.45" y2="608.49" stroke="#30d030" stroke-width="0.8" />
<line x1="80.65" y1="601.51" x2="84.25" y2="601.51" stroke="#30d030" stroke-width="0.8" />
<line x1="80.65" y1="608.49" x2="84.25" y2="608.49" stroke="#30d030" stroke-width="0.8" />
<line x1="91.37" y1="605.93" x2="91.37" y2="612.91" stroke="#30d030" stroke-width="0.8" />
<line x1="89.57" y1="605.93" x2="93.17" y2="605.93" stroke="#30d030" stroke-width="0.8" />
<line x1="89.57" y1="612.91" x2="93.17" y2="612.91" stroke="#30d030" stroke-width="0.8" />
<line x1="100.29" y1="608.49" x2="100.29" y2="615.47" stroke="#30d030" stroke-width="0.8" />
<line x1="98.49" y1="608.49" x2="102.09" y2="608.49" stroke="#30d030" stroke-width="0.8" />
<line x1="98.49" y1="615.47" x2="102.09" y2="615.47" stroke="#30d030" stroke-width="0.8" />
<line x1="109.22" y1="612.91" x2="109.22" y2="619.9" stroke="#30d030" stroke-width="0.8" />
<line x1="107.42" y1="612.91" x2="111.02" y2="612.91" stroke="#30d030" stroke-width="0.8" />
<line x1="107.42" y1="619.9" x2="111.02" y2="619.9" stroke="#30d030" stroke-width="0.8" />
<line x1="118.14" y1="614.66" x2="118.14" y2="621.64" stroke="#30d030" stroke-width="0.8" />
<line x1="116.34" y1="614.66" x2="119.94" y2="614.66" stroke="#30d030" stroke-width="0.8" />
<line x1="116.34" y1="621.64" x2="119.94" y2="621.64" stroke="#30d030" stroke-width="0.8" />
<line x1="127.06" y1="615.01" x2="127.06" y2="621.99" stroke="#30d030" stroke-width="0.8" />
<line x1="125.26" y1="615.01" x2="128.86" y2="615.01" stroke="#30d030" stroke-width="0.8" />
<line x1="125.26" y1="621.99" x2="128.86" y2="621.99" stroke="#30d030" stroke-width="0.8" />
<line x1="135.98" y1="616.99" x2="135.98" y2="622.81" stroke="#30d030" stroke-width="0.8" />
<line x1="134.18" y1="616.99" x2="137.78" y2="616.99" stroke="#30d030" stroke-width="0.8" />
<line x1="134.18" y1="622.81" x2="137.78" y2="622.81" stroke="#30d030" stroke-width="0.8" />
<line x1="144.91" y1="616.99" x2="144.91" y2="622.81" stroke="#30d030" stroke-width="0.8" />
<line x1="143.11" y1="616.99" x2="146.71" y2="616.99" stroke="#30d030" stroke-width="0.8" />
<line x1="143.11" y1="622.81" x2="146.71" y2="622.81" stroke="#30d030" stroke-width="0.8" />
<line x1="153.83" y1="616.76" x2="153.83" y2="623.74" stroke="#30d030" stroke-width="0.8" />
<line x1="152.03" y1="616.76" x2="155.63" y2="616.76" stroke="#30d030" stroke-width="0.8" />
<line x1="152.03" y1="623.74" x2="155.63" y2="623.74" stroke="#30d030" stroke-width="0.8" />
<line x1="162.75" y1="616.99" x2="162.75" y2="623.97" stroke="#30d030" stroke-width="0.8" />
<line x1="160.95" y1="616.99" x2="164.55" y2="616.99" stroke="#30d030" stroke-width="0.8" />
<line x1="160.95" y1="623.97" x2="164.55" y2="623.97" stroke="#30d030" stroke-width="0.8" />
<circle cx="64.6" cy="591.38" r="2.6" fill="#44e044" stroke="#30c030" stroke-width="0.9"/>
<circle cx="73.52" cy="600.34" r="2.6" fill="#44e044" stroke="#30c030" stroke-width="0.9"/>
<circle cx="82.45" cy="605" r="2.6" fill="#44e044" stroke="#30c030" stroke-width="0.9"/>
<circle cx="91.37" cy="609.42" r="2.6" fill="#44e044" stroke="#30c030" stroke-width="0.9"/>
<circle cx="100.29" cy="611.98" r="2.6" fill="#44e044" stroke="#30c030" stroke-width="0.9"/>
<circle cx="109.22" cy="616.41" r="2.6" fill="#44e044" stroke="#30c030" stroke-width="0.9"/>
<circle cx="118.14" cy="618.15" r="2.6" fill="#44e044" stroke="#30c030" stroke-width="0.9"/>
<circle cx="127.06" cy="618.5" r="2.6" fill="#44e044" stroke="#30c030" stroke-width="0.9"/>
<circle cx="135.98" cy="619.9" r="2.6" fill="#44e044" stroke="#30c030" stroke-width="0.9"/>
<circle cx="144.91" cy="619.9" r="2.6" fill="#44e044" stroke="#30c030" stroke-width="0.9"/>
<circle cx="153.83" cy="620.25" r="2.6" fill="#44e044" stroke="#30c030" stroke-width="0.9"/>
<circle cx="162.75" cy="620.48" r="2.6" fill="#44e044" stroke="#30c030" stroke-width="0.9"/>
<line x1="73.52" y1="600.34" x2="73.52" y2="607.33" stroke="#2c3ee0" stroke-width="0.8" />
<line x1="71.72" y1="600.34" x2="75.32" y2="600.34" stroke="#2c3ee0" stroke-width="0.8" />
<line x1="71.72" y1="607.33" x2="75.32" y2="607.33" stroke="#2c3ee0" stroke-width="0.8" />
<line x1="82.45" y1="606.74" x2="82.45" y2="613.73" stroke="#2c3ee0" stroke-width="0.8" />
<line x1="80.65" y1="606.74" x2="84.25" y2="606.74" stroke="#2c3ee0" stroke-width="0.8" />
<line x1="80.65" y1="613.73" x2="84.25" y2="613.73" stroke="#2c3ee0" stroke-width="0.8" />
<line x1="91.37" y1="611.17" x2="91.37" y2="618.15" stroke="#2c3ee0" stroke-width="0.8" />
<line x1="89.57" y1="611.17" x2="93.17" y2="611.17" stroke="#2c3ee0" stroke-width="0.8" />
<line x1="89.57" y1="618.15" x2="93.17" y2="618.15" stroke="#2c3ee0" stroke-width="0.8" />
<line x1="100.29" y1="613.5" x2="100.29" y2="620.48" stroke="#2c3ee0" stroke-width="0.8" />
<line x1="98.49" y1="613.5" x2="102.09" y2="613.5" stroke="#2c3ee0" stroke-width="0.8" />
<line x1="98.49" y1="620.48" x2="102.09" y2="620.48" stroke="#2c3ee0" stroke-width="0.8" />
<line x1="109.22" y1="615.59" x2="109.22" y2="622.58" stroke="#2c3ee0" stroke-width="0.8" />
<line x1="107.42" y1="615.59" x2="111.02" y2="615.59" stroke="#2c3ee0" stroke-width="0.8" />
<line x1="107.42" y1="622.58" x2="111.02" y2="622.58" stroke="#2c3ee0" stroke-width="0.8" />
<line x1="118.14" y1="617.8" x2="118.14" y2="624.79" stroke="#2c3ee0" stroke-width="0.8" />
<line x1="116.34" y1="617.8" x2="119.94" y2="617.8" stroke="#2c3ee0" stroke-width="0.8" />
<line x1="116.34" y1="624.79" x2="119.94" y2="624.79" stroke="#2c3ee0" stroke-width="0.8" />
<line x1="127.06" y1="619.55" x2="127.06" y2="626.53" stroke="#2c3ee0" stroke-width="0.8" />
<line x1="125.26" y1="619.55" x2="128.86" y2="619.55" stroke="#2c3ee0" stroke-width="0.8" />
<line x1="125.26" y1="626.53" x2="128.86" y2="626.53" stroke="#2c3ee0" stroke-width="0.8" />
<line x1="135.98" y1="621.99" x2="135.98" y2="627.81" stroke="#2c3ee0" stroke-width="0.8" />
<line x1="134.18" y1="621.99" x2="137.78" y2="621.99" stroke="#2c3ee0" stroke-width="0.8" />
<line x1="134.18" y1="627.81" x2="137.78" y2="627.81" stroke="#2c3ee0" stroke-width="0.8" />
<line x1="144.91" y1="623.16" x2="144.91" y2="628.98" stroke="#2c3ee0" stroke-width="0.8" />
<line x1="143.11" y1="623.16" x2="146.71" y2="623.16" stroke="#2c3ee0" stroke-width="0.8" />
<line x1="143.11" y1="628.98" x2="146.71" y2="628.98" stroke="#2c3ee0" stroke-width="0.8" />
<line x1="153.83" y1="623.97" x2="153.83" y2="630.96" stroke="#2c3ee0" stroke-width="0.8" />
<line x1="152.03" y1="623.97" x2="155.63" y2="623.97" stroke="#2c3ee0" stroke-width="0.8" />
<line x1="152.03" y1="630.96" x2="155.63" y2="630.96" stroke="#2c3ee0" stroke-width="0.8" />
<line x1="162.75" y1="624.32" x2="162.75" y2="631.31" stroke="#2c3ee0" stroke-width="0.8" />
<line x1="160.95" y1="624.32" x2="164.55" y2="624.32" stroke="#2c3ee0" stroke-width="0.8" />
<line x1="160.95" y1="631.31" x2="164.55" y2="631.31" stroke="#2c3ee0" stroke-width="0.8" />
<circle cx="64.6" cy="591.38" r="2.6" fill="none" stroke="#2c3ee0" stroke-width="1"/>
<circle cx="73.52" cy="603.83" r="2.6" fill="none" stroke="#2c3ee0" stroke-width="1"/>
<circle cx="82.45" cy="610.24" r="2.6" fill="none" stroke="#2c3ee0" stroke-width="1"/>
<circle cx="91.37" cy="614.66" r="2.6" fill="none" stroke="#2c3ee0" stroke-width="1"/>
<circle cx="100.29" cy="616.99" r="2.6" fill="none" stroke="#2c3ee0" stroke-width="1"/>
<circle cx="109.22" cy="619.08" r="2.6" fill="none" stroke="#2c3ee0" stroke-width="1"/>
<circle cx="118.14" cy="621.29" r="2.6" fill="none" stroke="#2c3ee0" stroke-width="1"/>
<circle cx="127.06" cy="623.04" r="2.6" fill="none" stroke="#2c3ee0" stroke-width="1"/>
<circle cx="135.98" cy="624.9" r="2.6" fill="none" stroke="#2c3ee0" stroke-width="1"/>
<circle cx="144.91" cy="626.07" r="2.6" fill="none" stroke="#2c3ee0" stroke-width="1"/>
<circle cx="153.83" cy="627.46" r="2.6" fill="none" stroke="#2c3ee0" stroke-width="1"/>
<circle cx="162.75" cy="627.81" r="2.6" fill="none" stroke="#2c3ee0" stroke-width="1"/>
<circle cx="64.6" cy="591.38" r="2.6" fill="#30e030" stroke="#2c3ee0" stroke-width="1"/>
<line x1="207.12" y1="591.38" x2="207.12" y2="594.87" stroke="#999" stroke-width="0.8" />
<line x1="205.32" y1="591.38" x2="208.92" y2="591.38" stroke="#999" stroke-width="0.8" />
<line x1="205.32" y1="594.87" x2="208.92" y2="594.87" stroke="#999" stroke-width="0.8" />
<line x1="216.05" y1="590.8" x2="216.05" y2="595.45" stroke="#999" stroke-width="0.8" />
<line x1="214.25" y1="590.8" x2="217.85" y2="590.8" stroke="#999" stroke-width="0.8" />
<line x1="214.25" y1="595.45" x2="217.85" y2="595.45" stroke="#999" stroke-width="0.8" />
<line x1="224.97" y1="590.8" x2="224.97" y2="596.62" stroke="#999" stroke-width="0.8" />
<line x1="223.17" y1="590.8" x2="226.77" y2="590.8" stroke="#999" stroke-width="0.8" />
<line x1="223.17" y1="596.62" x2="226.77" y2="596.62" stroke="#999" stroke-width="0.8" />
<line x1="233.89" y1="592.08" x2="233.89" y2="596.73" stroke="#999" stroke-width="0.8" />
<line x1="232.09" y1="592.08" x2="235.69" y2="592.08" stroke="#999" stroke-width="0.8" />
<line x1="232.09" y1="596.73" x2="235.69" y2="596.73" stroke="#999" stroke-width="0.8" />
<line x1="242.81" y1="591.96" x2="242.81" y2="597.78" stroke="#999" stroke-width="0.8" />
<line x1="241.01" y1="591.96" x2="244.62" y2="591.96" stroke="#999" stroke-width="0.8" />
<line x1="241.01" y1="597.78" x2="244.62" y2="597.78" stroke="#999" stroke-width="0.8" />
<line x1="251.74" y1="592.54" x2="251.74" y2="597.2" stroke="#999" stroke-width="0.8" />
<line x1="249.94" y1="592.54" x2="253.54" y2="592.54" stroke="#999" stroke-width="0.8" />
<line x1="249.94" y1="597.2" x2="253.54" y2="597.2" stroke="#999" stroke-width="0.8" />
<line x1="260.66" y1="592.54" x2="260.66" y2="598.36" stroke="#999" stroke-width="0.8" />
<line x1="258.86" y1="592.54" x2="262.46" y2="592.54" stroke="#999" stroke-width="0.8" />
<line x1="258.86" y1="598.36" x2="262.46" y2="598.36" stroke="#999" stroke-width="0.8" />
<line x1="269.58" y1="592.54" x2="269.58" y2="598.36" stroke="#999" stroke-width="0.8" />
<line x1="267.78" y1="592.54" x2="271.38" y2="592.54" stroke="#999" stroke-width="0.8" />
<line x1="267.78" y1="598.36" x2="271.38" y2="598.36" stroke="#999" stroke-width="0.8" />
<line x1="278.51" y1="593.48" x2="278.51" y2="598.13" stroke="#999" stroke-width="0.8" />
<line x1="276.71" y1="593.48" x2="280.31" y2="593.48" stroke="#999" stroke-width="0.8" />
<line x1="276.71" y1="598.13" x2="280.31" y2="598.13" stroke="#999" stroke-width="0.8" />
<line x1="287.43" y1="592.54" x2="287.43" y2="598.36" stroke="#999" stroke-width="0.8" />
<line x1="285.63" y1="592.54" x2="289.23" y2="592.54" stroke="#999" stroke-width="0.8" />
<line x1="285.63" y1="598.36" x2="289.23" y2="598.36" stroke="#999" stroke-width="0.8" />
<line x1="296.35" y1="593.36" x2="296.35" y2="599.18" stroke="#999" stroke-width="0.8" />
<line x1="294.55" y1="593.36" x2="298.15" y2="593.36" stroke="#999" stroke-width="0.8" />
<line x1="294.55" y1="599.18" x2="298.15" y2="599.18" stroke="#999" stroke-width="0.8" />
<path d="M195,588.68L201.4,588.68L198.2,594.08Z" fill="#b0b0b0"/>
<path d="M203.92,590.43L210.32,590.43L207.12,595.83Z" fill="#b0b0b0"/>
<path d="M212.85,590.43L219.25,590.43L216.05,595.83Z" fill="#b0b0b0"/>
<path d="M221.77,591.01L228.17,591.01L224.97,596.41Z" fill="#b0b0b0"/>
<path d="M230.69,591.71L237.09,591.71L233.89,597.11Z" fill="#b0b0b0"/>
<path d="M239.62,592.17L246.01,592.17L242.81,597.57Z" fill="#b0b0b0"/>
<path d="M248.54,592.17L254.94,592.17L251.74,597.57Z" fill="#b0b0b0"/>
<path d="M257.46,592.75L263.86,592.75L260.66,598.15Z" fill="#b0b0b0"/>
<path d="M266.38,592.75L272.78,592.75L269.58,598.15Z" fill="#b0b0b0"/>
<path d="M275.31,593.1L281.71,593.1L278.51,598.5Z" fill="#b0b0b0"/>
<path d="M284.23,592.75L290.63,592.75L287.43,598.15Z" fill="#b0b0b0"/>
<path d="M293.15,593.57L299.55,593.57L296.35,598.97Z" fill="#b0b0b0"/>
<line x1="207.12" y1="592.78" x2="207.12" y2="596.27" stroke="#50b8f8" stroke-width="0.8" />
<line x1="205.32" y1="592.78" x2="208.92" y2="592.78" stroke="#50b8f8" stroke-width="0.8" />
<line x1="205.32" y1="596.27" x2="208.92" y2="596.27" stroke="#50b8f8" stroke-width="0.8" />
<line x1="216.05" y1="597.78" x2="216.05" y2="602.44" stroke="#50b8f8" stroke-width="0.8" />
<line x1="214.25" y1="597.78" x2="217.85" y2="597.78" stroke="#50b8f8" stroke-width="0.8" />
<line x1="214.25" y1="602.44" x2="217.85" y2="602.44" stroke="#50b8f8" stroke-width="0.8" />
<line x1="224.97" y1="598.95" x2="224.97" y2="604.77" stroke="#50b8f8" stroke-width="0.8" />
<line x1="223.17" y1="598.95" x2="226.77" y2="598.95" stroke="#50b8f8" stroke-width="0.8" />
<line x1="223.17" y1="604.77" x2="226.77" y2="604.77" stroke="#50b8f8" stroke-width="0.8" />
<line x1="233.89" y1="602.67" x2="233.89" y2="607.33" stroke="#50b8f8" stroke-width="0.8" />
<line x1="232.09" y1="602.67" x2="235.69" y2="602.67" stroke="#50b8f8" stroke-width="0.8" />
<line x1="232.09" y1="607.33" x2="235.69" y2="607.33" stroke="#50b8f8" stroke-width="0.8" />
<line x1="242.81" y1="603.83" x2="242.81" y2="609.65" stroke="#50b8f8" stroke-width="0.8" />
<line x1="241.01" y1="603.83" x2="244.62" y2="603.83" stroke="#50b8f8" stroke-width="0.8" />
<line x1="241.01" y1="609.65" x2="244.62" y2="609.65" stroke="#50b8f8" stroke-width="0.8" />
<line x1="251.74" y1="606.16" x2="251.74" y2="610.82" stroke="#50b8f8" stroke-width="0.8" />
<line x1="249.94" y1="606.16" x2="253.54" y2="606.16" stroke="#50b8f8" stroke-width="0.8" />
<line x1="249.94" y1="610.82" x2="253.54" y2="610.82" stroke="#50b8f8" stroke-width="0.8" />
<line x1="260.66" y1="606.86" x2="260.66" y2="612.68" stroke="#50b8f8" stroke-width="0.8" />
<line x1="258.86" y1="606.86" x2="262.46" y2="606.86" stroke="#50b8f8" stroke-width="0.8" />
<line x1="258.86" y1="612.68" x2="262.46" y2="612.68" stroke="#50b8f8" stroke-width="0.8" />
<line x1="269.58" y1="608.61" x2="269.58" y2="614.43" stroke="#50b8f8" stroke-width="0.8" />
<line x1="267.78" y1="608.61" x2="271.38" y2="608.61" stroke="#50b8f8" stroke-width="0.8" />
<line x1="267.78" y1="614.43" x2="271.38" y2="614.43" stroke="#50b8f8" stroke-width="0.8" />
<line x1="278.51" y1="609.65" x2="278.51" y2="614.31" stroke="#50b8f8" stroke-width="0.8" />
<line x1="276.71" y1="609.65" x2="280.31" y2="609.65" stroke="#50b8f8" stroke-width="0.8" />
<line x1="276.71" y1="614.31" x2="280.31" y2="614.31" stroke="#50b8f8" stroke-width="0.8" />
<line x1="287.43" y1="610" x2="287.43" y2="615.82" stroke="#50b8f8" stroke-width="0.8" />
<line x1="285.63" y1="610" x2="289.23" y2="610" stroke="#50b8f8" stroke-width="0.8" />
<line x1="285.63" y1="615.82" x2="289.23" y2="615.82" stroke="#50b8f8" stroke-width="0.8" />
<line x1="296.35" y1="610.35" x2="296.35" y2="616.17" stroke="#50b8f8" stroke-width="0.8" />
<line x1="294.55" y1="610.35" x2="298.15" y2="610.35" stroke="#50b8f8" stroke-width="0.8" />
<line x1="294.55" y1="616.17" x2="298.15" y2="616.17" stroke="#50b8f8" stroke-width="0.8" />
<path d="M195,588.68L201.4,588.68L198.2,594.08Z" fill="#50b8f8"/>
<path d="M203.92,591.82L210.32,591.82L207.12,597.22Z" fill="#50b8f8"/>
<path d="M212.85,597.41L219.25,597.41L216.05,602.81Z" fill="#50b8f8"/>
<path d="M221.77,599.16L228.17,599.16L224.97,604.56Z" fill="#50b8f8"/>
<path d="M230.69,602.3L237.09,602.3L233.89,607.7Z" fill="#50b8f8"/>
<path d="M239.62,604.04L246.01,604.04L242.81,609.44Z" fill="#50b8f8"/>
<path d="M248.54,605.79L254.94,605.79L251.74,611.19Z" fill="#50b8f8"/>
<path d="M257.46,607.07L263.86,607.07L260.66,612.47Z" fill="#50b8f8"/>
<path d="M266.38,608.82L272.78,608.82L269.58,614.22Z" fill="#50b8f8"/>
<path d="M275.31,609.28L281.71,609.28L278.51,614.68Z" fill="#50b8f8"/>
<path d="M284.23,610.21L290.63,610.21L287.43,615.61Z" fill="#50b8f8"/>
<path d="M293.15,610.56L299.55,610.56L296.35,615.96Z" fill="#50b8f8"/>
<line x1="207.12" y1="591.03" x2="207.12" y2="594.52" stroke="#20d020" stroke-width="0.8" />
<line x1="205.32" y1="591.03" x2="208.92" y2="591.03" stroke="#20d020" stroke-width="0.8" />
<line x1="205.32" y1="594.52" x2="208.92" y2="594.52" stroke="#20d020" stroke-width="0.8" />
<line x1="216.05" y1="593.48" x2="216.05" y2="598.13" stroke="#20d020" stroke-width="0.8" />
<line x1="214.25" y1="593.48" x2="217.85" y2="593.48" stroke="#20d020" stroke-width="0.8" />
<line x1="214.25" y1="598.13" x2="217.85" y2="598.13" stroke="#20d020" stroke-width="0.8" />
<line x1="224.97" y1="594.64" x2="224.97" y2="600.46" stroke="#20d020" stroke-width="0.8" />
<line x1="223.17" y1="594.64" x2="226.77" y2="594.64" stroke="#20d020" stroke-width="0.8" />
<line x1="223.17" y1="600.46" x2="226.77" y2="600.46" stroke="#20d020" stroke-width="0.8" />
<line x1="233.89" y1="596.97" x2="233.89" y2="601.62" stroke="#20d020" stroke-width="0.8" />
<line x1="232.09" y1="596.97" x2="235.69" y2="596.97" stroke="#20d020" stroke-width="0.8" />
<line x1="232.09" y1="601.62" x2="235.69" y2="601.62" stroke="#20d020" stroke-width="0.8" />
<line x1="242.81" y1="598.13" x2="242.81" y2="603.95" stroke="#20d020" stroke-width="0.8" />
<line x1="241.01" y1="598.13" x2="244.62" y2="598.13" stroke="#20d020" stroke-width="0.8" />
<line x1="241.01" y1="603.95" x2="244.62" y2="603.95" stroke="#20d020" stroke-width="0.8" />
<line x1="251.74" y1="600.46" x2="251.74" y2="605.12" stroke="#20d020" stroke-width="0.8" />
<line x1="249.94" y1="600.46" x2="253.54" y2="600.46" stroke="#20d020" stroke-width="0.8" />
<line x1="249.94" y1="605.12" x2="253.54" y2="605.12" stroke="#20d020" stroke-width="0.8" />
<line x1="260.66" y1="600.69" x2="260.66" y2="606.51" stroke="#20d020" stroke-width="0.8" />
<line x1="258.86" y1="600.69" x2="262.46" y2="600.69" stroke="#20d020" stroke-width="0.8" />
<line x1="258.86" y1="606.51" x2="262.46" y2="606.51" stroke="#20d020" stroke-width="0.8" />
<line x1="269.58" y1="601.16" x2="269.58" y2="606.98" stroke="#20d020" stroke-width="0.8" />
<line x1="267.78" y1="601.16" x2="271.38" y2="601.16" stroke="#20d020" stroke-width="0.8" />
<line x1="267.78" y1="606.98" x2="271.38" y2="606.98" stroke="#20d020" stroke-width="0.8" />
<line x1="278.51" y1="601.86" x2="278.51" y2="606.51" stroke="#20d020" stroke-width="0.8" />
<line x1="276.71" y1="601.86" x2="280.31" y2="601.86" stroke="#20d020" stroke-width="0.8" />
<line x1="276.71" y1="606.51" x2="280.31" y2="606.51" stroke="#20d020" stroke-width="0.8" />
<line x1="287.43" y1="601.27" x2="287.43" y2="607.09" stroke="#20d020" stroke-width="0.8" />
<line x1="285.63" y1="601.27" x2="289.23" y2="601.27" stroke="#20d020" stroke-width="0.8" />
<line x1="285.63" y1="607.09" x2="289.23" y2="607.09" stroke="#20d020" stroke-width="0.8" />
<line x1="296.35" y1="601.27" x2="296.35" y2="607.09" stroke="#20d020" stroke-width="0.8" />
<line x1="294.55" y1="601.27" x2="298.15" y2="601.27" stroke="#20d020" stroke-width="0.8" />
<line x1="294.55" y1="607.09" x2="298.15" y2="607.09" stroke="#20d020" stroke-width="0.8" />
<path d="M195,588.68L201.4,588.68L198.2,594.08Z" fill="#20e020"/>
<path d="M203.92,590.08L210.32,590.08L207.12,595.48Z" fill="#20e020"/>
<path d="M212.85,593.1L219.25,593.1L216.05,598.5Z" fill="#20e020"/>
<path d="M221.77,594.85L228.17,594.85L224.97,600.25Z" fill="#20e020"/>
<path d="M230.69,596.6L237.09,596.6L233.89,602Z" fill="#20e020"/>
<path d="M239.62,598.34L246.01,598.34L242.81,603.74Z" fill="#20e020"/>
<path d="M248.54,600.09L254.94,600.09L251.74,605.49Z" fill="#20e020"/>
<path d="M257.46,600.9L263.86,600.9L260.66,606.3Z" fill="#20e020"/>
<path d="M266.38,601.37L272.78,601.37L269.58,606.77Z" fill="#20e020"/>
<path d="M275.31,601.48L281.71,601.48L278.51,606.88Z" fill="#20e020"/>
<path d="M284.23,601.48L290.63,601.48L287.43,606.88Z" fill="#20e020"/>
<path d="M293.15,601.48L299.55,601.48L296.35,606.88Z" fill="#20e020"/>
<text x="99" y="320.9" font-size="8.8">MD-cells</text>
<text x="138.3" y="320.9" font-size="8.8">M-cells</text>
<text x="65.6" y="331.4" font-size="8.8">Control</text>
<circle cx="113.8" cy="328.7" r="5.3" fill="#a8a8a8" stroke="#777" stroke-width="0.8"/>
<circle cx="151.5" cy="328.7" r="4.9" fill="none" stroke="#1a1a1a" stroke-width="1.5"/>
<text x="65.6" y="346.8" font-size="8.8" fill="#f050f0">DpepDM</text>
<circle cx="113.8" cy="343.3" r="5.3" fill="#f57af5" stroke="#e040e0" stroke-width="0.8"/>
<circle cx="151.5" cy="343.3" r="4.9" fill="none" stroke="#f0306a" stroke-width="1.5"/>
<text x="230" y="321" font-size="8.8">MD-cells</text>
<text x="197.9" y="331.5" font-size="8.8">Control</text>
<path d="M241.75,327L252.25,327L247,335.8Z" fill="#a8a8a8" stroke="#888" stroke-width="0.7"/>
<text x="197.9" y="346.9" font-size="8.8" fill="#f050f0">DpepDM</text>
<path d="M241.75,340.1L252.25,340.1L247,348.9Z" fill="#f070f0" stroke="#e040e0" stroke-width="0.7"/>
<text x="99" y="470" font-size="8.8">MD-cells</text>
<text x="138.3" y="470" font-size="8.8">M-cells</text>
<text x="65.6" y="480.7" font-size="8.8">Control</text>
<circle cx="113.8" cy="478.4" r="5.3" fill="#a8a8a8" stroke="#777" stroke-width="0.8"/>
<circle cx="151.5" cy="478.4" r="4.9" fill="none" stroke="#1a1a1a" stroke-width="1.5"/>
<text x="65.6" y="497.1" font-size="8.8" fill="#9a30f0">Morphine</text>
<circle cx="113.8" cy="493.8" r="5.3" fill="#8a10f0" stroke="#7a10d0" stroke-width="0.8"/>
<circle cx="151.5" cy="493.8" r="4.9" fill="none" stroke="#8a30f0" stroke-width="1.5"/>
<text x="65.6" y="512.6" font-size="8.8" fill="#f0287a">Morphine</text>
<text x="65.6" y="521.7" font-size="8.8" fill="#f0287a">+DpepDM</text>
<circle cx="113.8" cy="509.4" r="5.3" fill="#f0306e" stroke="#c81040" stroke-width="0.8"/>
<text x="230" y="470" font-size="8.8">MD-cells</text>
<text x="197.9" y="480.7" font-size="8.8">Control</text>
<path d="M241.15,474.4L251.65,474.4L246.4,483.2Z" fill="#a8a8a8" stroke="#888" stroke-width="0.7"/>
<text x="197.9" y="497.1" font-size="8.8" fill="#9a30f0">Morphine</text>
<path d="M241.15,488.9L251.65,488.9L246.4,497.7Z" fill="#8a10f0"/>
<text x="197.9" y="512.6" font-size="8.8" fill="#f0287a">Morphine</text>
<text x="197.9" y="521.7" font-size="8.8" fill="#f0287a">+DpepDM</text>
<path d="M241.15,503.1L251.65,503.1L246.4,511.9Z" fill="#f0306e" stroke="#d01040" stroke-width="0.7"/>
<text x="99" y="660.7" font-size="8.8">MD-cells</text>
<text x="138.3" y="660.7" font-size="8.8">M-cells</text>
<text x="65.6" y="671.5" font-size="8.8">Control</text>
<circle cx="113.8" cy="668.9" r="5.3" fill="#a0a0a0" stroke="#777" stroke-width="0.8"/>
<circle cx="151.5" cy="668.9" r="4.9" fill="none" stroke="#1a1a1a" stroke-width="1.5"/>
<text x="65.6" y="683.8" font-size="8.8" fill="#30a8e8">DAMGO</text>
<circle cx="113.8" cy="681.2" r="5.3" fill="#12bdfa" stroke="#1a9ae0" stroke-width="0.8"/>
<circle cx="151.5" cy="681.2" r="4.9" fill="none" stroke="#2060e8" stroke-width="1.5"/>
<text x="65.6" y="696" font-size="8.8" fill="#20a050">DAMGO</text>
<text x="65.6" y="704.5" font-size="8.8" fill="#20a050">+DpepDM</text>
<circle cx="113.8" cy="693.4" r="5.3" fill="#58e858" stroke="#30b030" stroke-width="0.8"/>
<text x="230" y="660.7" font-size="8.8">MD-cells</text>
<text x="197.9" y="671.5" font-size="8.8">Control</text>
<path d="M241.15,664.8L251.65,664.8L246.4,673.6Z" fill="#9a9a9a" stroke="#888" stroke-width="0.7"/>
<text x="197.9" y="683.8" font-size="8.8" fill="#30a8e8">DAMGO</text>
<path d="M241.15,677.1L251.65,677.1L246.4,685.9Z" fill="#18a0f8"/>
<text x="197.9" y="696" font-size="8.8" fill="#20a050">DAMGO</text>
<text x="197.9" y="704.5" font-size="8.8" fill="#20a050">+DpepDM</text>
<path d="M241.15,690.8L251.65,690.8L246.4,699.6Z" fill="#48e048" stroke="#30b030" stroke-width="0.7"/>
<rect x="11.2" y="755" width="270.1" height="11.3" fill="#dadada"/>
<line x1="11.2" y1="766.9" x2="281.3" y2="766.9" stroke="#5a5a5a" stroke-width="1.3" />
<text x="14.4" y="763.6" font-size="9" fill="#1a1a1a">Affinity of a single molecule of M<tspan font-size="5" dy="-3">*DAMGO</tspan><tspan dy="3"> to internalization machinery</tspan></text>
<text x="0" y="765.5" font-size="11.5" fill="#000" font-weight="bold">c</text>
<rect x="36.5" y="777.4" width="269.9" height="161.5" fill="none" stroke="#1a1a1a" stroke-width="1.1"/>
<circle cx="50.9" cy="779" r="1.05" fill="#111"/>
<circle cx="50.9" cy="783.2" r="1.05" fill="#111"/>
<circle cx="50.9" cy="787.4" r="1.05" fill="#111"/>
<circle cx="50.9" cy="791.6" r="1.05" fill="#111"/>
<circle cx="50.9" cy="795.8" r="1.05" fill="#111"/>
<circle cx="50.9" cy="800" r="1.05" fill="#111"/>
<circle cx="50.9" cy="804.2" r="1.05" fill="#111"/>
<circle cx="50.9" cy="808.4" r="1.05" fill="#111"/>
<circle cx="50.9" cy="812.6" r="1.05" fill="#111"/>
<circle cx="50.9" cy="816.8" r="1.05" fill="#111"/>
<circle cx="50.9" cy="821" r="1.05" fill="#111"/>
<circle cx="50.9" cy="825.2" r="1.05" fill="#111"/>
<circle cx="50.9" cy="829.4" r="1.05" fill="#111"/>
<circle cx="50.9" cy="833.6" r="1.05" fill="#111"/>
<circle cx="50.9" cy="837.8" r="1.05" fill="#111"/>
<circle cx="50.9" cy="842" r="1.05" fill="#111"/>
<circle cx="50.9" cy="846.2" r="1.05" fill="#111"/>
<circle cx="50.9" cy="850.4" r="1.05" fill="#111"/>
<circle cx="50.9" cy="854.6" r="1.05" fill="#111"/>
<circle cx="50.9" cy="858.8" r="1.05" fill="#111"/>
<circle cx="50.9" cy="863" r="1.05" fill="#111"/>
<circle cx="50.9" cy="867.2" r="1.05" fill="#111"/>
<circle cx="50.9" cy="871.4" r="1.05" fill="#111"/>
<circle cx="50.9" cy="875.6" r="1.05" fill="#111"/>
<circle cx="50.9" cy="879.8" r="1.05" fill="#111"/>
<circle cx="50.9" cy="884" r="1.05" fill="#111"/>
<circle cx="50.9" cy="888.2" r="1.05" fill="#111"/>
<circle cx="50.9" cy="892.4" r="1.05" fill="#111"/>
<circle cx="50.9" cy="896.6" r="1.05" fill="#111"/>
<circle cx="50.9" cy="900.8" r="1.05" fill="#111"/>
<circle cx="50.9" cy="905" r="1.05" fill="#111"/>
<circle cx="50.9" cy="909.2" r="1.05" fill="#111"/>
<circle cx="50.9" cy="913.4" r="1.05" fill="#111"/>
<circle cx="50.9" cy="917.6" r="1.05" fill="#111"/>
<circle cx="50.9" cy="921.8" r="1.05" fill="#111"/>
<circle cx="50.9" cy="926" r="1.05" fill="#111"/>
<circle cx="50.9" cy="930.2" r="1.05" fill="#111"/>
<circle cx="50.9" cy="934.4" r="1.05" fill="#111"/>
<path d="M37,921.5L53.3,921.5L53.3,894.1L61.5,894.1L61.5,813.3L73.2,813.3L73.2,894.1L84.4,894.1L84.4,822.5L88.6,822.5L88.6,894.1L99.8,894.1L99.8,813.3L103.7,813.3L103.7,894.1L127,894.1L127,808.3L135.2,808.3L135.2,894.1L169.4,894.1L169.4,813.5L181.3,813.5L181.3,894.1L196.6,894.1L196.6,795.5L200.5,795.5L200.5,894.1L219.6,894.1L219.6,813.5L227.6,813.5L227.6,894.1L258.2,894.1L258.2,804.4L269.5,804.4L269.5,894.1L306,894.1" fill="none" stroke="#f0607a" stroke-width="1"/>
<path d="M60.8,783 L116.1,783 L116.1,796.4 L68.5,796.4 L55.1,807.6 L61.5,796.4 L60.8,796.4Z" fill="#e8185c"/>
<text x="88.5" y="794.2" font-size="10.4" fill="#fff" text-anchor="middle" font-weight="bold">+ DAMGO</text>
<text x="139.7" y="791" font-size="10.7" fill="#1a1a1a">M<tspan font-size="6" dy="-4">*DAMGO</tspan><tspan dy="4"> heterodimer</tspan></text>
<text x="140.5" y="926" font-size="10.7" fill="#1a1a1a">M<tspan font-size="6" dy="-4">*DAMGO</tspan><tspan dy="4"> monomer</tspan></text>
<line x1="168.8" y1="793.3" x2="138.5" y2="812.8" stroke="#444" stroke-width="0.9" />
<path d="M136.1,814.1 L141.5,808.6 L142.8,812.2Z" fill="#444"/>
<line x1="161.9" y1="909.4" x2="146.5" y2="898" stroke="#444" stroke-width="0.9" />
<path d="M143.9,896 L150.8,897.8 L147.8,901.4Z" fill="#444"/>
<text x="178.7" y="951.5" font-size="10.3" text-anchor="middle">Time (s)</text>
<text font-size="9.15" fill="#1a1a1a" text-anchor="middle" transform="translate(20.3,854) rotate(-90)">Affinity of a single molecule of</text>
<text font-size="9.3" fill="#1a1a1a" text-anchor="middle" transform="translate(30.6,854.7) rotate(-90)">M<tspan font-size="5.2" dy="-3">*DAMGO</tspan><tspan dy="3"> to internalization machinery</tspan></text>
<text x="331.3" y="318" font-size="11.5" fill="#000" font-weight="bold">e</text>
<text x="346.9" y="328.5" font-size="8.8">Cells</text>
<text x="385.9" y="328.5" font-size="8.8">Agonoists</text>
<text x="433.5" y="328.5" font-size="8.9">Dpep(20-42)DM</text>
<rect x="487.6" y="331" width="160" height="159" fill="#f1f1f1"/>
<rect x="336.9" y="331" width="310.5" height="333.8" fill="none" stroke="#5a5a5a" stroke-width="1.2"/>
<line x1="487.6" y1="331" x2="487.6" y2="668.5" stroke="#1a1a1a" stroke-width="1.1" />
<text x="356.5" y="354.2" font-size="10.9" fill="#d42a2a" text-anchor="middle">M</text>
<text x="404" y="353.2" font-size="10.4" text-anchor="middle">-</text>
<text x="460.8" y="353.2" font-size="10.4" text-anchor="middle">-</text>
<text x="356.5" y="372.71" font-size="10.9" fill="#d42a2a" text-anchor="middle">M</text>
<text x="404" y="371.71" font-size="10.4" text-anchor="middle">-</text>
<text x="460.8" y="372.71" font-size="10.4" text-anchor="middle">+</text>
<text x="356.5" y="391.22" font-size="10.9" fill="#d42a2a" text-anchor="middle">M</text>
<text x="380.9" y="391.22" font-size="10.3">+ Morphine</text>
<text x="460.8" y="390.22" font-size="10.4" text-anchor="middle">-</text>
<text x="356.5" y="409.73" font-size="10.9" fill="#d42a2a" text-anchor="middle">M</text>
<text x="380.9" y="409.73" font-size="10.3">+ Morphine</text>
<text x="460.8" y="409.73" font-size="10.4" text-anchor="middle">+</text>
<text x="351.9" y="428.24" font-size="10.9" fill="#d42a2a">M<tspan fill="#2a2ae8">D</tspan></text>
<text x="380.9" y="428.24" font-size="10.3">+ Morphine</text>
<text x="460.8" y="427.24" font-size="10.4" text-anchor="middle">-</text>
<text x="351.9" y="446.75" font-size="10.9" fill="#d42a2a">M<tspan fill="#2a2ae8">D</tspan></text>
<text x="380.9" y="446.75" font-size="10.3">+ Morphine</text>
<text x="460.8" y="446.75" font-size="10.4" text-anchor="middle">+</text>
<text x="356.8" y="465.26" font-size="10.9" fill="#2a2ae8" text-anchor="middle">D</text>
<text x="380.9" y="465.26" font-size="10.3">+ Morphine</text>
<text x="460.8" y="464.26" font-size="10.4" text-anchor="middle">-</text>
<text x="356.8" y="483.77" font-size="10.9" fill="#2a2ae8" text-anchor="middle">D</text>
<text x="380.9" y="483.77" font-size="10.3">+ Morphine</text>
<text x="460.8" y="483.77" font-size="10.4" text-anchor="middle">+</text>
<text x="356.5" y="502.28" font-size="10.9" fill="#d42a2a" text-anchor="middle">M</text>
<text x="380.9" y="502.28" font-size="10.3">+ DAMGO</text>
<text x="460.8" y="501.28" font-size="10.4" text-anchor="middle">-</text>
<text x="356.5" y="520.79" font-size="10.9" fill="#d42a2a" text-anchor="middle">M</text>
<text x="380.9" y="520.79" font-size="10.3">+ DAMGO</text>
<text x="460.8" y="520.79" font-size="10.4" text-anchor="middle">+</text>
<text x="351.9" y="539.3" font-size="10.9" fill="#d42a2a">M<tspan fill="#2a2ae8">D</tspan></text>
<text x="380.9" y="539.3" font-size="10.3">+ DAMGO</text>
<text x="460.8" y="538.3" font-size="10.4" text-anchor="middle">-</text>
<text x="351.9" y="557.81" font-size="10.9" fill="#d42a2a">M<tspan fill="#2a2ae8">D</tspan></text>
<text x="380.9" y="557.81" font-size="10.3">+ DAMGO</text>
<text x="460.8" y="557.81" font-size="10.4" text-anchor="middle">+</text>
<text x="351.9" y="576.32" font-size="10.9" fill="#d42a2a">M<tspan fill="#2a2ae8">D</tspan></text>
<text x="380.9" y="576.32" font-size="10.3">+ DAMGO</text>
<text x="460.8" y="576.32" font-size="10.4" text-anchor="middle">+</text>
<text x="351.9" y="594.83" font-size="10.9" fill="#d42a2a">M<tspan fill="#1eb048">K</tspan></text>
<text x="380.9" y="594.83" font-size="10.3">+ DAMGO</text>
<text x="460.8" y="593.83" font-size="10.4" text-anchor="middle">-</text>
<text x="356.8" y="613.34" font-size="10.9" fill="#2a2ae8" text-anchor="middle">D</text>
<text x="380.9" y="613.34" font-size="10.3">+ DAMGO</text>
<text x="460.8" y="612.34" font-size="10.4" text-anchor="middle">-</text>
<text x="356.8" y="631.85" font-size="10.9" fill="#2a2ae8" text-anchor="middle">D</text>
<text x="380.9" y="631.85" font-size="10.3">+ DAMGO</text>
<text x="460.8" y="631.85" font-size="10.4" text-anchor="middle">+</text>
<text x="356.8" y="650.36" font-size="10.9" fill="#1eb048" text-anchor="middle">K</text>
<text x="380.9" y="650.36" font-size="10.3">+ DAMGO</text>
<text x="460.8" y="649.36" font-size="10.4" text-anchor="middle">-</text>
<text x="426" y="582.5" font-size="7.6">(scrambled seq.)</text>
<line x1="487.6" y1="664.8" x2="647.4" y2="664.8" stroke="#1a1a1a" stroke-width="1.1" />
<line x1="487.79" y1="664.8" x2="487.79" y2="667.8" stroke="#1a1a1a" stroke-width="1" />
<line x1="502.3" y1="664.8" x2="502.3" y2="669.3" stroke="#1a1a1a" stroke-width="1" />
<text x="502.3" y="682" font-size="8.3" text-anchor="middle">0</text>
<line x1="516.81" y1="664.8" x2="516.81" y2="667.8" stroke="#1a1a1a" stroke-width="1" />
<line x1="531.32" y1="664.8" x2="531.32" y2="669.3" stroke="#1a1a1a" stroke-width="1" />
<text x="531.32" y="682" font-size="8.3" text-anchor="middle">2</text>
<line x1="545.83" y1="664.8" x2="545.83" y2="667.8" stroke="#1a1a1a" stroke-width="1" />
<line x1="560.34" y1="664.8" x2="560.34" y2="669.3" stroke="#1a1a1a" stroke-width="1" />
<text x="560.34" y="682" font-size="8.3" text-anchor="middle">4</text>
<line x1="574.85" y1="664.8" x2="574.85" y2="667.8" stroke="#1a1a1a" stroke-width="1" />
<line x1="589.36" y1="664.8" x2="589.36" y2="669.3" stroke="#1a1a1a" stroke-width="1" />
<text x="589.36" y="682" font-size="8.3" text-anchor="middle">6</text>
<line x1="603.87" y1="664.8" x2="603.87" y2="667.8" stroke="#1a1a1a" stroke-width="1" />
<line x1="618.38" y1="664.8" x2="618.38" y2="669.3" stroke="#1a1a1a" stroke-width="1" />
<text x="618.38" y="682" font-size="8.3" text-anchor="middle">8</text>
<line x1="632.89" y1="664.8" x2="632.89" y2="667.8" stroke="#1a1a1a" stroke-width="1" />
<line x1="647.4" y1="664.8" x2="647.4" y2="669.3" stroke="#1a1a1a" stroke-width="1" />
<text x="647.4" y="682" font-size="8.3" text-anchor="middle">10</text>
<text x="574.3" y="693.9" font-size="8.5" fill="#1a1a1a" text-anchor="middle">Fluo4 (<tspan font-style="italic">F</tspan><tspan font-size="5" dy="1.5">Max</tspan><tspan dy="-1.5">-</tspan><tspan font-style="italic">F</tspan><tspan font-size="5" dy="1.5">b</tspan><tspan dy="-1.5">)/</tspan><tspan font-style="italic">F</tspan><tspan font-size="5" dy="1.5">b</tspan></text>
<circle cx="510.03" cy="348.53" r="0.9" fill="#cacaca" stroke="#909090" stroke-width="0.35"/>
<circle cx="505.75" cy="351.14" r="0.9" fill="#cacaca" stroke="#909090" stroke-width="0.35"/>
<circle cx="506.2" cy="346.24" r="0.9" fill="#cacaca" stroke="#909090" stroke-width="0.35"/>
<circle cx="508.89" cy="348.67" r="0.9" fill="#cacaca" stroke="#909090" stroke-width="0.35"/>
<circle cx="506.4" cy="352.93" r="0.9" fill="#cacaca" stroke="#909090" stroke-width="0.35"/>
<circle cx="505.57" cy="350.25" r="0.9" fill="#cacaca" stroke="#909090" stroke-width="0.35"/>
<circle cx="507.41" cy="343.74" r="0.9" fill="#cacaca" stroke="#909090" stroke-width="0.35"/>
<circle cx="507.12" cy="352.31" r="0.9" fill="#cacaca" stroke="#909090" stroke-width="0.35"/>
<circle cx="509.11" cy="343.65" r="0.9" fill="#cacaca" stroke="#909090" stroke-width="0.35"/>
<circle cx="508.46" cy="343.47" r="0.9" fill="#cacaca" stroke="#909090" stroke-width="0.35"/>
<circle cx="511.63" cy="350.44" r="0.9" fill="#cacaca" stroke="#909090" stroke-width="0.35"/>
<circle cx="507.03" cy="349.24" r="0.9" fill="#cacaca" stroke="#909090" stroke-width="0.35"/>
<circle cx="507.34" cy="350.45" r="0.9" fill="#cacaca" stroke="#909090" stroke-width="0.35"/>
<circle cx="511.21" cy="350.74" r="0.9" fill="#cacaca" stroke="#909090" stroke-width="0.35"/>
<circle cx="509.81" cy="351.29" r="0.9" fill="#cacaca" stroke="#909090" stroke-width="0.35"/>
<circle cx="508.17" cy="353.47" r="0.9" fill="#cacaca" stroke="#909090" stroke-width="0.35"/>
<circle cx="505.44" cy="348.23" r="0.9" fill="#cacaca" stroke="#909090" stroke-width="0.35"/>
<circle cx="506.36" cy="349.04" r="0.9" fill="#cacaca" stroke="#909090" stroke-width="0.35"/>
<circle cx="507.46" cy="347.88" r="0.9" fill="#cacaca" stroke="#909090" stroke-width="0.35"/>
<circle cx="509.33" cy="346.15" r="0.9" fill="#cacaca" stroke="#909090" stroke-width="0.35"/>
<circle cx="510.69" cy="346.65" r="0.9" fill="#cacaca" stroke="#909090" stroke-width="0.35"/>
<circle cx="510.42" cy="350.23" r="0.9" fill="#cacaca" stroke="#909090" stroke-width="0.35"/>
<circle cx="509.05" cy="349.56" r="0.9" fill="#cacaca" stroke="#909090" stroke-width="0.35"/>
<circle cx="510.64" cy="353.84" r="0.9" fill="#cacaca" stroke="#909090" stroke-width="0.35"/>
<circle cx="512.86" cy="349.04" r="0.9" fill="#cacaca" stroke="#909090" stroke-width="0.35"/>
<circle cx="506.43" cy="346.62" r="0.9" fill="#cacaca" stroke="#909090" stroke-width="0.35"/>
<circle cx="507.31" cy="344.42" r="0.9" fill="#cacaca" stroke="#909090" stroke-width="0.35"/>
<circle cx="508.76" cy="352.21" r="0.9" fill="#cacaca" stroke="#909090" stroke-width="0.35"/>
<circle cx="510" cy="354.3" r="0.9" fill="#cacaca" stroke="#909090" stroke-width="0.35"/>
<circle cx="509.39" cy="350.63" r="0.9" fill="#cacaca" stroke="#909090" stroke-width="0.35"/>
<circle cx="510.17" cy="351.49" r="0.9" fill="#cacaca" stroke="#909090" stroke-width="0.35"/>
<circle cx="509.48" cy="347.32" r="0.9" fill="#cacaca" stroke="#909090" stroke-width="0.35"/>
<circle cx="510.82" cy="346.11" r="0.9" fill="#cacaca" stroke="#909090" stroke-width="0.35"/>
<circle cx="512" cy="347.59" r="0.9" fill="#cacaca" stroke="#909090" stroke-width="0.35"/>
<circle cx="506.9" cy="344.44" r="0.9" fill="#cacaca" stroke="#909090" stroke-width="0.35"/>
<circle cx="510.44" cy="350.21" r="0.9" fill="#cacaca" stroke="#909090" stroke-width="0.35"/>
<circle cx="509.82" cy="342.94" r="0.9" fill="#cacaca" stroke="#909090" stroke-width="0.35"/>
<circle cx="508.55" cy="340.9" r="0.9" fill="#cacaca" stroke="#909090" stroke-width="0.35"/>
<circle cx="506.26" cy="345.59" r="0.9" fill="#cacaca" stroke="#909090" stroke-width="0.35"/>
<circle cx="508.61" cy="352.72" r="0.9" fill="#cacaca" stroke="#909090" stroke-width="0.35"/>
<circle cx="505.31" cy="350.24" r="0.9" fill="#cacaca" stroke="#909090" stroke-width="0.35"/>
<circle cx="510.82" cy="350.88" r="0.9" fill="#cacaca" stroke="#909090" stroke-width="0.35"/>
<circle cx="508.05" cy="351.16" r="0.9" fill="#cacaca" stroke="#909090" stroke-width="0.35"/>
<circle cx="511.46" cy="351.26" r="0.9" fill="#cacaca" stroke="#909090" stroke-width="0.35"/>
<circle cx="509.12" cy="352.65" r="0.9" fill="#cacaca" stroke="#909090" stroke-width="0.35"/>
<circle cx="511.57" cy="351.2" r="0.9" fill="#cacaca" stroke="#909090" stroke-width="0.35"/>
<circle cx="507.45" cy="352.26" r="0.9" fill="#cacaca" stroke="#909090" stroke-width="0.35"/>
<circle cx="508.55" cy="343.24" r="0.9" fill="#cacaca" stroke="#909090" stroke-width="0.35"/>
<circle cx="511.04" cy="344.94" r="0.9" fill="#cacaca" stroke="#909090" stroke-width="0.35"/>
<circle cx="507.45" cy="354.87" r="0.9" fill="#cacaca" stroke="#909090" stroke-width="0.35"/>
<circle cx="506.76" cy="350.5" r="0.9" fill="#cacaca" stroke="#909090" stroke-width="0.35"/>
<circle cx="508.73" cy="351.61" r="0.9" fill="#cacaca" stroke="#909090" stroke-width="0.35"/>
<circle cx="505.48" cy="347.15" r="0.9" fill="#cacaca" stroke="#909090" stroke-width="0.35"/>
<circle cx="508.22" cy="347.99" r="0.9" fill="#cacaca" stroke="#909090" stroke-width="0.35"/>
<circle cx="511.59" cy="346.41" r="0.9" fill="#cacaca" stroke="#909090" stroke-width="0.35"/>
<line x1="501.57" y1="349.4" x2="516.08" y2="349.4" stroke="#333" stroke-width="0.9" />
<line x1="501.57" y1="347.9" x2="501.57" y2="350.9" stroke="#333" stroke-width="0.7" />
<line x1="516.08" y1="347.9" x2="516.08" y2="350.9" stroke="#333" stroke-width="0.7" />
<line x1="508.83" y1="341.4" x2="508.83" y2="357.4" stroke="#555" stroke-width="0.5" />
<circle cx="509.95" cy="371.17" r="0.9" fill="#cacaca" stroke="#909090" stroke-width="0.35"/>
<circle cx="509.64" cy="363.26" r="0.9" fill="#cacaca" stroke="#909090" stroke-width="0.35"/>
<circle cx="505.12" cy="367.49" r="0.9" fill="#cacaca" stroke="#909090" stroke-width="0.35"/>
<circle cx="510.53" cy="372.73" r="0.9" fill="#cacaca" stroke="#909090" stroke-width="0.35"/>
<circle cx="510.52" cy="364.46" r="0.9" fill="#cacaca" stroke="#909090" stroke-width="0.35"/>
<circle cx="506.3" cy="365.27" r="0.9" fill="#cacaca" stroke="#909090" stroke-width="0.35"/>
<circle cx="509.75" cy="370.1" r="0.9" fill="#cacaca" stroke="#909090" stroke-width="0.35"/>
<circle cx="506.59" cy="369.12" r="0.9" fill="#cacaca" stroke="#909090" stroke-width="0.35"/>
<circle cx="506.03" cy="368.43" r="0.9" fill="#cacaca" stroke="#909090" stroke-width="0.35"/>
<circle cx="504.74" cy="367.35" r="0.9" fill="#cacaca" stroke="#909090" stroke-width="0.35"/>
<circle cx="506.08" cy="368.89" r="0.9" fill="#cacaca" stroke="#909090" stroke-width="0.35"/>
<circle cx="505.77" cy="370.55" r="0.9" fill="#cacaca" stroke="#909090" stroke-width="0.35"/>
<circle cx="511.46" cy="369.87" r="0.9" fill="#cacaca" stroke="#909090" stroke-width="0.35"/>
<circle cx="506.99" cy="366.5" r="0.9" fill="#cacaca" stroke="#909090" stroke-width="0.35"/>
<circle cx="507.67" cy="366.68" r="0.9" fill="#cacaca" stroke="#909090" stroke-width="0.35"/>
<circle cx="511.52" cy="366.81" r="0.9" fill="#cacaca" stroke="#909090" stroke-width="0.35"/>
<circle cx="512.56" cy="369.26" r="0.9" fill="#cacaca" stroke="#909090" stroke-width="0.35"/>
<circle cx="506.6" cy="364.13" r="0.9" fill="#cacaca" stroke="#909090" stroke-width="0.35"/>
<circle cx="505.65" cy="368.78" r="0.9" fill="#cacaca" stroke="#909090" stroke-width="0.35"/>
<circle cx="511.27" cy="366.48" r="0.9" fill="#cacaca" stroke="#909090" stroke-width="0.35"/>
<circle cx="506.54" cy="370.18" r="0.9" fill="#cacaca" stroke="#909090" stroke-width="0.35"/>
<circle cx="508.87" cy="376.21" r="0.9" fill="#cacaca" stroke="#909090" stroke-width="0.35"/>
<circle cx="506.12" cy="369.16" r="0.9" fill="#cacaca" stroke="#909090" stroke-width="0.35"/>
<circle cx="509.06" cy="367.18" r="0.9" fill="#cacaca" stroke="#909090" stroke-width="0.35"/>
<circle cx="512.91" cy="367.74" r="0.9" fill="#cacaca" stroke="#909090" stroke-width="0.35"/>
<circle cx="507.46" cy="371.38" r="0.9" fill="#cacaca" stroke="#909090" stroke-width="0.35"/>
<circle cx="508.13" cy="363.98" r="0.9" fill="#cacaca" stroke="#909090" stroke-width="0.35"/>
<circle cx="509.03" cy="370.86" r="0.9" fill="#cacaca" stroke="#909090" stroke-width="0.35"/>
<circle cx="510.03" cy="373.02" r="0.9" fill="#cacaca" stroke="#909090" stroke-width="0.35"/>
<circle cx="511.23" cy="366.79" r="0.9" fill="#cacaca" stroke="#909090" stroke-width="0.35"/>
<circle cx="512.16" cy="370.07" r="0.9" fill="#cacaca" stroke="#909090" stroke-width="0.35"/>
<circle cx="510.58" cy="371.65" r="0.9" fill="#cacaca" stroke="#909090" stroke-width="0.35"/>
<circle cx="509.89" cy="363.03" r="0.9" fill="#cacaca" stroke="#909090" stroke-width="0.35"/>
<circle cx="507.65" cy="368.55" r="0.9" fill="#cacaca" stroke="#909090" stroke-width="0.35"/>
<circle cx="506.39" cy="372.01" r="0.9" fill="#cacaca" stroke="#909090" stroke-width="0.35"/>
<circle cx="507.3" cy="370.66" r="0.9" fill="#cacaca" stroke="#909090" stroke-width="0.35"/>
<circle cx="510.43" cy="368.43" r="0.9" fill="#cacaca" stroke="#909090" stroke-width="0.35"/>
<circle cx="511.28" cy="371.51" r="0.9" fill="#cacaca" stroke="#909090" stroke-width="0.35"/>
<circle cx="512.65" cy="366.95" r="0.9" fill="#cacaca" stroke="#909090" stroke-width="0.35"/>
<circle cx="507.15" cy="371.06" r="0.9" fill="#cacaca" stroke="#909090" stroke-width="0.35"/>
<circle cx="506.67" cy="367.05" r="0.9" fill="#cacaca" stroke="#909090" stroke-width="0.35"/>
<circle cx="509.83" cy="368.71" r="0.9" fill="#cacaca" stroke="#909090" stroke-width="0.35"/>
<circle cx="511.56" cy="370.12" r="0.9" fill="#cacaca" stroke="#909090" stroke-width="0.35"/>
<circle cx="509.88" cy="370.04" r="0.9" fill="#cacaca" stroke="#909090" stroke-width="0.35"/>
<circle cx="510.58" cy="364.68" r="0.9" fill="#cacaca" stroke="#909090" stroke-width="0.35"/>
<circle cx="510.86" cy="372.26" r="0.9" fill="#cacaca" stroke="#909090" stroke-width="0.35"/>
<circle cx="510.66" cy="370.49" r="0.9" fill="#cacaca" stroke="#909090" stroke-width="0.35"/>
<circle cx="506.03" cy="367.95" r="0.9" fill="#cacaca" stroke="#909090" stroke-width="0.35"/>
<circle cx="510.37" cy="364.07" r="0.9" fill="#cacaca" stroke="#909090" stroke-width="0.35"/>
<circle cx="511.69" cy="364.92" r="0.9" fill="#cacaca" stroke="#909090" stroke-width="0.35"/>
<circle cx="508.4" cy="373.26" r="0.9" fill="#cacaca" stroke="#909090" stroke-width="0.35"/>
<circle cx="509.47" cy="361.25" r="0.9" fill="#cacaca" stroke="#909090" stroke-width="0.35"/>
<circle cx="507.33" cy="372.73" r="0.9" fill="#cacaca" stroke="#909090" stroke-width="0.35"/>
<circle cx="511.88" cy="369.31" r="0.9" fill="#cacaca" stroke="#909090" stroke-width="0.35"/>
<circle cx="511.13" cy="369.34" r="0.9" fill="#cacaca" stroke="#909090" stroke-width="0.35"/>
<line x1="501.57" y1="367.95" x2="516.08" y2="367.95" stroke="#333" stroke-width="0.9" />
<line x1="501.57" y1="366.45" x2="501.57" y2="369.45" stroke="#333" stroke-width="0.7" />
<line x1="516.08" y1="366.45" x2="516.08" y2="369.45" stroke="#333" stroke-width="0.7" />
<line x1="508.83" y1="359.95" x2="508.83" y2="375.95" stroke="#555" stroke-width="0.5" />
<rect x="525.52" y="381.9" width="13.06" height="9.2" fill="none" stroke="#5aa6f0" stroke-width="0.9"/>
<line x1="522.18" y1="386.5" x2="525.52" y2="386.5" stroke="#5aa6f0" stroke-width="0.9" />
<line x1="538.58" y1="386.5" x2="544.38" y2="386.5" stroke="#5aa6f0" stroke-width="0.9" />
<line x1="522.18" y1="384" x2="522.18" y2="389" stroke="#5aa6f0" stroke-width="0.8" />
<line x1="544.38" y1="384" x2="544.38" y2="389" stroke="#5aa6f0" stroke-width="0.8" />
<circle cx="527.36" cy="389.24" r="1.35" fill="#5aa6f0" stroke="#5aa6f0" stroke-width="0.45" fill-opacity="0.35"/>
<circle cx="544.46" cy="387.82" r="1.35" fill="#5aa6f0" stroke="#5aa6f0" stroke-width="0.45" fill-opacity="0.35"/>
<circle cx="530.99" cy="386.91" r="1.35" fill="#5aa6f0" stroke="#5aa6f0" stroke-width="0.45" fill-opacity="0.35"/>
<circle cx="527" cy="382.42" r="1.35" fill="#5aa6f0" stroke="#5aa6f0" stroke-width="0.45" fill-opacity="0.35"/>
<circle cx="543.85" cy="387.76" r="1.35" fill="#5aa6f0" stroke="#5aa6f0" stroke-width="0.45" fill-opacity="0.35"/>
<circle cx="533.44" cy="390.14" r="1.35" fill="#5aa6f0" stroke="#5aa6f0" stroke-width="0.45" fill-opacity="0.35"/>
<circle cx="532.15" cy="389.62" r="1.35" fill="#5aa6f0" stroke="#5aa6f0" stroke-width="0.45" fill-opacity="0.35"/>
<circle cx="538.89" cy="384.07" r="1.35" fill="#5aa6f0" stroke="#5aa6f0" stroke-width="0.45" fill-opacity="0.35"/>
<circle cx="529.43" cy="384.76" r="1.35" fill="#5aa6f0" stroke="#5aa6f0" stroke-width="0.45" fill-opacity="0.35"/>
<circle cx="529.23" cy="387.23" r="1.35" fill="#5aa6f0" stroke="#5aa6f0" stroke-width="0.45" fill-opacity="0.35"/>
<circle cx="529.56" cy="385.82" r="1.35" fill="#5aa6f0" stroke="#5aa6f0" stroke-width="0.45" fill-opacity="0.35"/>
<circle cx="527" cy="389.94" r="1.35" fill="#5aa6f0" stroke="#5aa6f0" stroke-width="0.45" fill-opacity="0.35"/>
<circle cx="531.04" cy="386.15" r="1.35" fill="#5aa6f0" stroke="#5aa6f0" stroke-width="0.45" fill-opacity="0.35"/>
<circle cx="534.3" cy="389.9" r="1.35" fill="#5aa6f0" stroke="#5aa6f0" stroke-width="0.45" fill-opacity="0.35"/>
<circle cx="531.97" cy="390.01" r="1.35" fill="#5aa6f0" stroke="#5aa6f0" stroke-width="0.45" fill-opacity="0.35"/>
<circle cx="533.08" cy="386.77" r="1.35" fill="#5aa6f0" stroke="#5aa6f0" stroke-width="0.45" fill-opacity="0.35"/>
<circle cx="533.4" cy="382.46" r="1.35" fill="#5aa6f0" stroke="#5aa6f0" stroke-width="0.45" fill-opacity="0.35"/>
<circle cx="532.23" cy="383.84" r="1.35" fill="#5aa6f0" stroke="#5aa6f0" stroke-width="0.45" fill-opacity="0.35"/>
<circle cx="521.81" cy="389.01" r="1.35" fill="#5aa6f0" stroke="#5aa6f0" stroke-width="0.45" fill-opacity="0.35"/>
<circle cx="527.92" cy="386.28" r="1.35" fill="#5aa6f0" stroke="#5aa6f0" stroke-width="0.45" fill-opacity="0.35"/>
<circle cx="536.74" cy="386.97" r="1.35" fill="#5aa6f0" stroke="#5aa6f0" stroke-width="0.45" fill-opacity="0.35"/>
<circle cx="530.63" cy="386.65" r="1.35" fill="#5aa6f0" stroke="#5aa6f0" stroke-width="0.45" fill-opacity="0.35"/>
<circle cx="533.87" cy="388.89" r="1.35" fill="#5aa6f0" stroke="#5aa6f0" stroke-width="0.45" fill-opacity="0.35"/>
<circle cx="526.37" cy="387.01" r="1.35" fill="#5aa6f0" stroke="#5aa6f0" stroke-width="0.45" fill-opacity="0.35"/>
<circle cx="529.37" cy="384.63" r="1.35" fill="#5aa6f0" stroke="#5aa6f0" stroke-width="0.45" fill-opacity="0.35"/>
<circle cx="537.68" cy="386.56" r="1.35" fill="#5aa6f0" stroke="#5aa6f0" stroke-width="0.45" fill-opacity="0.35"/>
<circle cx="533.97" cy="388.68" r="1.35" fill="#5aa6f0" stroke="#5aa6f0" stroke-width="0.45" fill-opacity="0.35"/>
<circle cx="541.33" cy="386.02" r="1.35" fill="#5aa6f0" stroke="#5aa6f0" stroke-width="0.45" fill-opacity="0.35"/>
<circle cx="534.76" cy="386.55" r="1.35" fill="#5aa6f0" stroke="#5aa6f0" stroke-width="0.45" fill-opacity="0.35"/>
<circle cx="533.23" cy="388.12" r="1.35" fill="#5aa6f0" stroke="#5aa6f0" stroke-width="0.45" fill-opacity="0.35"/>
<circle cx="518.55" cy="386.36" r="1.35" fill="#5aa6f0" stroke="#5aa6f0" stroke-width="0.45" fill-opacity="0.35"/>
<circle cx="549.46" cy="386.6" r="1.35" fill="#5aa6f0" stroke="#5aa6f0" stroke-width="0.45" fill-opacity="0.35"/>
<line x1="532.05" y1="380" x2="532.05" y2="393" stroke="#5aa6f0" stroke-width="1.1" />
<rect x="526.97" y="400.45" width="13.06" height="9.2" fill="none" stroke="#48d848" stroke-width="0.9"/>
<line x1="518.26" y1="405.05" x2="526.97" y2="405.05" stroke="#48d848" stroke-width="0.9" />
<line x1="540.03" y1="405.05" x2="549.46" y2="405.05" stroke="#48d848" stroke-width="0.9" />
<line x1="518.26" y1="402.55" x2="518.26" y2="407.55" stroke="#48d848" stroke-width="0.8" />
<line x1="549.46" y1="402.55" x2="549.46" y2="407.55" stroke="#48d848" stroke-width="0.8" />
<circle cx="533.94" cy="408.76" r="1.35" fill="#48d848" stroke="#48d848" stroke-width="0.45" fill-opacity="0.35"/>
<circle cx="538.97" cy="408.21" r="1.35" fill="#48d848" stroke="#48d848" stroke-width="0.45" fill-opacity="0.35"/>
<circle cx="547.88" cy="403.03" r="1.35" fill="#48d848" stroke="#48d848" stroke-width="0.45" fill-opacity="0.35"/>
<circle cx="535.64" cy="408.77" r="1.35" fill="#48d848" stroke="#48d848" stroke-width="0.45" fill-opacity="0.35"/>
<circle cx="543.26" cy="402" r="1.35" fill="#48d848" stroke="#48d848" stroke-width="0.45" fill-opacity="0.35"/>
<circle cx="524.87" cy="404.56" r="1.35" fill="#48d848" stroke="#48d848" stroke-width="0.45" fill-opacity="0.35"/>
<circle cx="522.77" cy="402.87" r="1.35" fill="#48d848" stroke="#48d848" stroke-width="0.45" fill-opacity="0.35"/>
<circle cx="522.8" cy="406.47" r="1.35" fill="#48d848" stroke="#48d848" stroke-width="0.45" fill-opacity="0.35"/>
<circle cx="541.39" cy="408.39" r="1.35" fill="#48d848" stroke="#48d848" stroke-width="0.45" fill-opacity="0.35"/>
<circle cx="526.04" cy="406.87" r="1.35" fill="#48d848" stroke="#48d848" stroke-width="0.45" fill-opacity="0.35"/>
<circle cx="537.98" cy="402.05" r="1.35" fill="#48d848" stroke="#48d848" stroke-width="0.45" fill-opacity="0.35"/>
<circle cx="544.93" cy="408.98" r="1.35" fill="#48d848" stroke="#48d848" stroke-width="0.45" fill-opacity="0.35"/>
<circle cx="528.04" cy="408.85" r="1.35" fill="#48d848" stroke="#48d848" stroke-width="0.45" fill-opacity="0.35"/>
<circle cx="532.34" cy="404.94" r="1.35" fill="#48d848" stroke="#48d848" stroke-width="0.45" fill-opacity="0.35"/>
<circle cx="551.92" cy="407.84" r="1.35" fill="#48d848" stroke="#48d848" stroke-width="0.45" fill-opacity="0.35"/>
<circle cx="526.27" cy="404.47" r="1.35" fill="#48d848" stroke="#48d848" stroke-width="0.45" fill-opacity="0.35"/>
<circle cx="534.71" cy="403.7" r="1.35" fill="#48d848" stroke="#48d848" stroke-width="0.45" fill-opacity="0.35"/>
<circle cx="527.35" cy="403.53" r="1.35" fill="#48d848" stroke="#48d848" stroke-width="0.45" fill-opacity="0.35"/>
<circle cx="539.59" cy="401.01" r="1.35" fill="#48d848" stroke="#48d848" stroke-width="0.45" fill-opacity="0.35"/>
<circle cx="535.52" cy="404.55" r="1.35" fill="#48d848" stroke="#48d848" stroke-width="0.45" fill-opacity="0.35"/>
<circle cx="519.2" cy="403.63" r="1.35" fill="#48d848" stroke="#48d848" stroke-width="0.45" fill-opacity="0.35"/>
<circle cx="537.1" cy="405.15" r="1.35" fill="#48d848" stroke="#48d848" stroke-width="0.45" fill-opacity="0.35"/>
<circle cx="522.35" cy="409.12" r="1.35" fill="#48d848" stroke="#48d848" stroke-width="0.45" fill-opacity="0.35"/>
<circle cx="541.53" cy="409.01" r="1.35" fill="#48d848" stroke="#48d848" stroke-width="0.45" fill-opacity="0.35"/>
<circle cx="524.21" cy="403.08" r="1.35" fill="#48d848" stroke="#48d848" stroke-width="0.45" fill-opacity="0.35"/>
<circle cx="520.91" cy="407.39" r="1.35" fill="#48d848" stroke="#48d848" stroke-width="0.45" fill-opacity="0.35"/>
<circle cx="529.4" cy="401.94" r="1.35" fill="#48d848" stroke="#48d848" stroke-width="0.45" fill-opacity="0.35"/>
<circle cx="532.83" cy="408.51" r="1.35" fill="#48d848" stroke="#48d848" stroke-width="0.45" fill-opacity="0.35"/>
<circle cx="542.53" cy="403.02" r="1.35" fill="#48d848" stroke="#48d848" stroke-width="0.45" fill-opacity="0.35"/>
<circle cx="525.87" cy="408.57" r="1.35" fill="#48d848" stroke="#48d848" stroke-width="0.45" fill-opacity="0.35"/>
<circle cx="513.47" cy="405.26" r="1.35" fill="#48d848" stroke="#48d848" stroke-width="0.45" fill-opacity="0.35"/>
<circle cx="557" cy="405.65" r="1.35" fill="#48d848" stroke="#48d848" stroke-width="0.45" fill-opacity="0.35"/>
<line x1="533.5" y1="398.55" x2="533.5" y2="411.55" stroke="#48d848" stroke-width="1.1" />
<rect x="533.5" y="419" width="24.67" height="9.2" fill="none" stroke="#f5a860" stroke-width="0.9"/>
<line x1="524.79" y1="423.6" x2="533.5" y2="423.6" stroke="#f5a860" stroke-width="0.9" />
<line x1="558.16" y1="423.6" x2="560.92" y2="423.6" stroke="#f5a860" stroke-width="0.9" />
<line x1="524.79" y1="421.1" x2="524.79" y2="426.1" stroke="#f5a860" stroke-width="0.8" />
<line x1="560.92" y1="421.1" x2="560.92" y2="426.1" stroke="#f5a860" stroke-width="0.8" />
<circle cx="529.88" cy="419.88" r="1.35" fill="#f5a860" stroke="#f5a860" stroke-width="0.45" fill-opacity="0.35"/>
<circle cx="547.55" cy="422.97" r="1.35" fill="#f5a860" stroke="#f5a860" stroke-width="0.45" fill-opacity="0.35"/>
<circle cx="528.9" cy="427.28" r="1.35" fill="#f5a860" stroke="#f5a860" stroke-width="0.45" fill-opacity="0.35"/>
<circle cx="546.2" cy="426.13" r="1.35" fill="#f5a860" stroke="#f5a860" stroke-width="0.45" fill-opacity="0.35"/>
<circle cx="529.56" cy="426.59" r="1.35" fill="#f5a860" stroke="#f5a860" stroke-width="0.45" fill-opacity="0.35"/>
<circle cx="528.54" cy="426.65" r="1.35" fill="#f5a860" stroke="#f5a860" stroke-width="0.45" fill-opacity="0.35"/>
<circle cx="542.06" cy="422.25" r="1.35" fill="#f5a860" stroke="#f5a860" stroke-width="0.45" fill-opacity="0.35"/>
<circle cx="544.34" cy="427.18" r="1.35" fill="#f5a860" stroke="#f5a860" stroke-width="0.45" fill-opacity="0.35"/>
<circle cx="536.98" cy="420.49" r="1.35" fill="#f5a860" stroke="#f5a860" stroke-width="0.45" fill-opacity="0.35"/>
<circle cx="543.76" cy="421.4" r="1.35" fill="#f5a860" stroke="#f5a860" stroke-width="0.45" fill-opacity="0.35"/>
<circle cx="530.91" cy="420.76" r="1.35" fill="#f5a860" stroke="#f5a860" stroke-width="0.45" fill-opacity="0.35"/>
<circle cx="527.45" cy="421.09" r="1.35" fill="#f5a860" stroke="#f5a860" stroke-width="0.45" fill-opacity="0.35"/>
<circle cx="538.32" cy="421.96" r="1.35" fill="#f5a860" stroke="#f5a860" stroke-width="0.45" fill-opacity="0.35"/>
<circle cx="549.53" cy="421.84" r="1.35" fill="#f5a860" stroke="#f5a860" stroke-width="0.45" fill-opacity="0.35"/>
<circle cx="543.15" cy="420.89" r="1.35" fill="#f5a860" stroke="#f5a860" stroke-width="0.45" fill-opacity="0.35"/>
<circle cx="539.31" cy="419.55" r="1.35" fill="#f5a860" stroke="#f5a860" stroke-width="0.45" fill-opacity="0.35"/>
<circle cx="536.43" cy="419.53" r="1.35" fill="#f5a860" stroke="#f5a860" stroke-width="0.45" fill-opacity="0.35"/>
<circle cx="548.77" cy="424.03" r="1.35" fill="#f5a860" stroke="#f5a860" stroke-width="0.45" fill-opacity="0.35"/>
<circle cx="534.31" cy="423.39" r="1.35" fill="#f5a860" stroke="#f5a860" stroke-width="0.45" fill-opacity="0.35"/>
<circle cx="556.37" cy="420.29" r="1.35" fill="#f5a860" stroke="#f5a860" stroke-width="0.45" fill-opacity="0.35"/>
<circle cx="551.42" cy="423.03" r="1.35" fill="#f5a860" stroke="#f5a860" stroke-width="0.45" fill-opacity="0.35"/>
<circle cx="543.04" cy="426.41" r="1.35" fill="#f5a860" stroke="#f5a860" stroke-width="0.45" fill-opacity="0.35"/>
<circle cx="540.54" cy="423.66" r="1.35" fill="#f5a860" stroke="#f5a860" stroke-width="0.45" fill-opacity="0.35"/>
<circle cx="547.54" cy="427.65" r="1.35" fill="#f5a860" stroke="#f5a860" stroke-width="0.45" fill-opacity="0.35"/>
<circle cx="539.19" cy="426.39" r="1.35" fill="#f5a860" stroke="#f5a860" stroke-width="0.45" fill-opacity="0.35"/>
<circle cx="548.04" cy="424.74" r="1.35" fill="#f5a860" stroke="#f5a860" stroke-width="0.45" fill-opacity="0.35"/>
<circle cx="540.84" cy="422.32" r="1.35" fill="#f5a860" stroke="#f5a860" stroke-width="0.45" fill-opacity="0.35"/>
<circle cx="527.73" cy="420.49" r="1.35" fill="#f5a860" stroke="#f5a860" stroke-width="0.45" fill-opacity="0.35"/>
<circle cx="528.8" cy="425.62" r="1.35" fill="#f5a860" stroke="#f5a860" stroke-width="0.45" fill-opacity="0.35"/>
<circle cx="536.59" cy="420.77" r="1.35" fill="#f5a860" stroke="#f5a860" stroke-width="0.45" fill-opacity="0.35"/>
<circle cx="517.97" cy="422.35" r="1.35" fill="#f5a860" stroke="#f5a860" stroke-width="0.45" fill-opacity="0.35"/>
<circle cx="566" cy="424.62" r="1.35" fill="#f5a860" stroke="#f5a860" stroke-width="0.45" fill-opacity="0.35"/>
<line x1="544.38" y1="417.1" x2="544.38" y2="430.1" stroke="#f5a860" stroke-width="1.1" />
<rect x="524.07" y="437.55" width="25.39" height="9.2" fill="none" stroke="#f0209a" stroke-width="0.9"/>
<line x1="518.7" y1="442.15" x2="524.07" y2="442.15" stroke="#f0209a" stroke-width="0.9" />
<line x1="549.46" y1="442.15" x2="558.89" y2="442.15" stroke="#f0209a" stroke-width="0.9" />
<line x1="518.7" y1="439.65" x2="518.7" y2="444.65" stroke="#f0209a" stroke-width="0.8" />
<line x1="558.89" y1="439.65" x2="558.89" y2="444.65" stroke="#f0209a" stroke-width="0.8" />
<circle cx="553.68" cy="443.58" r="1.35" fill="#f0209a" stroke="#f0209a" stroke-width="0.45" fill-opacity="0.35"/>
<circle cx="534.09" cy="439.98" r="1.35" fill="#f0209a" stroke="#f0209a" stroke-width="0.45" fill-opacity="0.35"/>
<circle cx="534.42" cy="441.81" r="1.35" fill="#f0209a" stroke="#f0209a" stroke-width="0.45" fill-opacity="0.35"/>
<circle cx="529.84" cy="441.69" r="1.35" fill="#f0209a" stroke="#f0209a" stroke-width="0.45" fill-opacity="0.35"/>
<circle cx="533.52" cy="446.03" r="1.35" fill="#f0209a" stroke="#f0209a" stroke-width="0.45" fill-opacity="0.35"/>
<circle cx="561.35" cy="442.55" r="1.35" fill="#f0209a" stroke="#f0209a" stroke-width="0.45" fill-opacity="0.35"/>
<circle cx="532.93" cy="446.06" r="1.35" fill="#f0209a" stroke="#f0209a" stroke-width="0.45" fill-opacity="0.35"/>
<circle cx="534.9" cy="440.95" r="1.35" fill="#f0209a" stroke="#f0209a" stroke-width="0.45" fill-opacity="0.35"/>
<circle cx="518.28" cy="441.16" r="1.35" fill="#f0209a" stroke="#f0209a" stroke-width="0.45" fill-opacity="0.35"/>
<circle cx="539.28" cy="442.17" r="1.35" fill="#f0209a" stroke="#f0209a" stroke-width="0.45" fill-opacity="0.35"/>
<circle cx="531.47" cy="442.19" r="1.35" fill="#f0209a" stroke="#f0209a" stroke-width="0.45" fill-opacity="0.35"/>
<circle cx="519.48" cy="440.17" r="1.35" fill="#f0209a" stroke="#f0209a" stroke-width="0.45" fill-opacity="0.35"/>
<circle cx="526.75" cy="441.31" r="1.35" fill="#f0209a" stroke="#f0209a" stroke-width="0.45" fill-opacity="0.35"/>
<circle cx="523.72" cy="438.14" r="1.35" fill="#f0209a" stroke="#f0209a" stroke-width="0.45" fill-opacity="0.35"/>
<circle cx="534.75" cy="439.91" r="1.35" fill="#f0209a" stroke="#f0209a" stroke-width="0.45" fill-opacity="0.35"/>
<circle cx="542.48" cy="442.4" r="1.35" fill="#f0209a" stroke="#f0209a" stroke-width="0.45" fill-opacity="0.35"/>
<circle cx="548.17" cy="443.47" r="1.35" fill="#f0209a" stroke="#f0209a" stroke-width="0.45" fill-opacity="0.35"/>
<circle cx="546.85" cy="445.33" r="1.35" fill="#f0209a" stroke="#f0209a" stroke-width="0.45" fill-opacity="0.35"/>
<circle cx="537.05" cy="440.69" r="1.35" fill="#f0209a" stroke="#f0209a" stroke-width="0.45" fill-opacity="0.35"/>
<circle cx="563.01" cy="439.21" r="1.35" fill="#f0209a" stroke="#f0209a" stroke-width="0.45" fill-opacity="0.35"/>
<circle cx="547.16" cy="443.35" r="1.35" fill="#f0209a" stroke="#f0209a" stroke-width="0.45" fill-opacity="0.35"/>
<circle cx="523.88" cy="444.97" r="1.35" fill="#f0209a" stroke="#f0209a" stroke-width="0.45" fill-opacity="0.35"/>
<circle cx="554.91" cy="443.22" r="1.35" fill="#f0209a" stroke="#f0209a" stroke-width="0.45" fill-opacity="0.35"/>
<circle cx="547.52" cy="444.77" r="1.35" fill="#f0209a" stroke="#f0209a" stroke-width="0.45" fill-opacity="0.35"/>
<circle cx="529.09" cy="442.35" r="1.35" fill="#f0209a" stroke="#f0209a" stroke-width="0.45" fill-opacity="0.35"/>
<circle cx="540.1" cy="444.96" r="1.35" fill="#f0209a" stroke="#f0209a" stroke-width="0.45" fill-opacity="0.35"/>
<circle cx="550.44" cy="444.89" r="1.35" fill="#f0209a" stroke="#f0209a" stroke-width="0.45" fill-opacity="0.35"/>
<circle cx="542.43" cy="445.45" r="1.35" fill="#f0209a" stroke="#f0209a" stroke-width="0.45" fill-opacity="0.35"/>
<circle cx="545.66" cy="443.77" r="1.35" fill="#f0209a" stroke="#f0209a" stroke-width="0.45" fill-opacity="0.35"/>
<circle cx="532.46" cy="438.21" r="1.35" fill="#f0209a" stroke="#f0209a" stroke-width="0.45" fill-opacity="0.35"/>
<circle cx="515.07" cy="441.05" r="1.35" fill="#f0209a" stroke="#f0209a" stroke-width="0.45" fill-opacity="0.35"/>
<circle cx="570.06" cy="441.73" r="1.35" fill="#f0209a" stroke="#f0209a" stroke-width="0.45" fill-opacity="0.35"/>
<line x1="537.12" y1="435.65" x2="537.12" y2="448.65" stroke="#f0209a" stroke-width="1.1" />
<circle cx="509.8" cy="465.81" r="0.9" fill="#cacaca" stroke="#909090" stroke-width="0.35"/>
<circle cx="510.23" cy="464.66" r="0.9" fill="#cacaca" stroke="#909090" stroke-width="0.35"/>
<circle cx="509.5" cy="457.1" r="0.9" fill="#cacaca" stroke="#909090" stroke-width="0.35"/>
<circle cx="506.81" cy="457.04" r="0.9" fill="#cacaca" stroke="#909090" stroke-width="0.35"/>
<circle cx="509.58" cy="462.37" r="0.9" fill="#cacaca" stroke="#909090" stroke-width="0.35"/>
<circle cx="509.7" cy="455.3" r="0.9" fill="#cacaca" stroke="#909090" stroke-width="0.35"/>
<circle cx="511.48" cy="460.02" r="0.9" fill="#cacaca" stroke="#909090" stroke-width="0.35"/>
<circle cx="507.63" cy="459.64" r="0.9" fill="#cacaca" stroke="#909090" stroke-width="0.35"/>
<circle cx="511.08" cy="463.08" r="0.9" fill="#cacaca" stroke="#909090" stroke-width="0.35"/>
<circle cx="507.3" cy="461.9" r="0.9" fill="#cacaca" stroke="#909090" stroke-width="0.35"/>
<circle cx="509.51" cy="460.11" r="0.9" fill="#cacaca" stroke="#909090" stroke-width="0.35"/>
<circle cx="509.4" cy="452.2" r="0.9" fill="#cacaca" stroke="#909090" stroke-width="0.35"/>
<circle cx="510.69" cy="455.59" r="0.9" fill="#cacaca" stroke="#909090" stroke-width="0.35"/>
<circle cx="510.5" cy="461.38" r="0.9" fill="#cacaca" stroke="#909090" stroke-width="0.35"/>
<circle cx="506.75" cy="459.85" r="0.9" fill="#cacaca" stroke="#909090" stroke-width="0.35"/>
<circle cx="507.64" cy="459.63" r="0.9" fill="#cacaca" stroke="#909090" stroke-width="0.35"/>
<circle cx="510.14" cy="460.58" r="0.9" fill="#cacaca" stroke="#909090" stroke-width="0.35"/>
<circle cx="506.54" cy="457.81" r="0.9" fill="#cacaca" stroke="#909090" stroke-width="0.35"/>
<circle cx="510.68" cy="463.2" r="0.9" fill="#cacaca" stroke="#909090" stroke-width="0.35"/>
<circle cx="511.06" cy="461.7" r="0.9" fill="#cacaca" stroke="#909090" stroke-width="0.35"/>
<circle cx="509.68" cy="459.43" r="0.9" fill="#cacaca" stroke="#909090" stroke-width="0.35"/>
<circle cx="509.32" cy="458.18" r="0.9" fill="#cacaca" stroke="#909090" stroke-width="0.35"/>
<circle cx="512.41" cy="459.03" r="0.9" fill="#cacaca" stroke="#909090" stroke-width="0.35"/>
<circle cx="507.03" cy="461.06" r="0.9" fill="#cacaca" stroke="#909090" stroke-width="0.35"/>
<circle cx="508.67" cy="468.6" r="0.9" fill="#cacaca" stroke="#909090" stroke-width="0.35"/>
<circle cx="509.24" cy="459.61" r="0.9" fill="#cacaca" stroke="#909090" stroke-width="0.35"/>
<circle cx="509.28" cy="464.49" r="0.9" fill="#cacaca" stroke="#909090" stroke-width="0.35"/>
<circle cx="509.17" cy="452.62" r="0.9" fill="#cacaca" stroke="#909090" stroke-width="0.35"/>
<circle cx="507.55" cy="462.75" r="0.9" fill="#cacaca" stroke="#909090" stroke-width="0.35"/>
<circle cx="509.7" cy="468.64" r="0.9" fill="#cacaca" stroke="#909090" stroke-width="0.35"/>
<circle cx="512.47" cy="463.31" r="0.9" fill="#cacaca" stroke="#909090" stroke-width="0.35"/>
<circle cx="507.39" cy="463.92" r="0.9" fill="#cacaca" stroke="#909090" stroke-width="0.35"/>
<circle cx="512.34" cy="462.43" r="0.9" fill="#cacaca" stroke="#909090" stroke-width="0.35"/>
<circle cx="510.68" cy="457.03" r="0.9" fill="#cacaca" stroke="#909090" stroke-width="0.35"/>
<circle cx="509.44" cy="461.55" r="0.9" fill="#cacaca" stroke="#909090" stroke-width="0.35"/>
<circle cx="508.4" cy="467.91" r="0.9" fill="#cacaca" stroke="#909090" stroke-width="0.35"/>
<circle cx="509.3" cy="464.65" r="0.9" fill="#cacaca" stroke="#909090" stroke-width="0.35"/>
<circle cx="507.85" cy="460.79" r="0.9" fill="#cacaca" stroke="#909090" stroke-width="0.35"/>
<circle cx="508.27" cy="462.68" r="0.9" fill="#cacaca" stroke="#909090" stroke-width="0.35"/>
<circle cx="511.8" cy="463.11" r="0.9" fill="#cacaca" stroke="#909090" stroke-width="0.35"/>
<circle cx="510.83" cy="466.37" r="0.9" fill="#cacaca" stroke="#909090" stroke-width="0.35"/>
<circle cx="506.27" cy="460.76" r="0.9" fill="#cacaca" stroke="#909090" stroke-width="0.35"/>
<circle cx="511.37" cy="465.51" r="0.9" fill="#cacaca" stroke="#909090" stroke-width="0.35"/>
<circle cx="508.16" cy="458.3" r="0.9" fill="#cacaca" stroke="#909090" stroke-width="0.35"/>
<circle cx="512.87" cy="458.34" r="0.9" fill="#cacaca" stroke="#909090" stroke-width="0.35"/>
<circle cx="510.14" cy="463.14" r="0.9" fill="#cacaca" stroke="#909090" stroke-width="0.35"/>
<circle cx="508.05" cy="458.4" r="0.9" fill="#cacaca" stroke="#909090" stroke-width="0.35"/>
<circle cx="506.71" cy="463.46" r="0.9" fill="#cacaca" stroke="#909090" stroke-width="0.35"/>
<circle cx="508.65" cy="465.88" r="0.9" fill="#cacaca" stroke="#909090" stroke-width="0.35"/>
<circle cx="511.89" cy="464.55" r="0.9" fill="#cacaca" stroke="#909090" stroke-width="0.35"/>
<circle cx="509.65" cy="460.71" r="0.9" fill="#cacaca" stroke="#909090" stroke-width="0.35"/>
<circle cx="507.58" cy="463.37" r="0.9" fill="#cacaca" stroke="#909090" stroke-width="0.35"/>
<circle cx="510.91" cy="454.75" r="0.9" fill="#cacaca" stroke="#909090" stroke-width="0.35"/>
<circle cx="510.62" cy="466.77" r="0.9" fill="#cacaca" stroke="#909090" stroke-width="0.35"/>
<circle cx="511.43" cy="455.58" r="0.9" fill="#cacaca" stroke="#909090" stroke-width="0.35"/>
<line x1="502.3" y1="460.7" x2="516.81" y2="460.7" stroke="#333" stroke-width="0.9" />
<line x1="502.3" y1="459.2" x2="502.3" y2="462.2" stroke="#333" stroke-width="0.7" />
<line x1="516.81" y1="459.2" x2="516.81" y2="462.2" stroke="#333" stroke-width="0.7" />
<line x1="509.56" y1="452.7" x2="509.56" y2="468.7" stroke="#555" stroke-width="0.5" />
<circle cx="507.57" cy="473.74" r="0.9" fill="#cacaca" stroke="#909090" stroke-width="0.35"/>
<circle cx="509.36" cy="479.04" r="0.9" fill="#cacaca" stroke="#909090" stroke-width="0.35"/>
<circle cx="507" cy="478.19" r="0.9" fill="#cacaca" stroke="#909090" stroke-width="0.35"/>
<circle cx="505.53" cy="479.33" r="0.9" fill="#cacaca" stroke="#909090" stroke-width="0.35"/>
<circle cx="505.37" cy="474.36" r="0.9" fill="#cacaca" stroke="#909090" stroke-width="0.35"/>
<circle cx="507.17" cy="480.84" r="0.9" fill="#cacaca" stroke="#909090" stroke-width="0.35"/>
<circle cx="506.12" cy="478.46" r="0.9" fill="#cacaca" stroke="#909090" stroke-width="0.35"/>
<circle cx="510.84" cy="477.6" r="0.9" fill="#cacaca" stroke="#909090" stroke-width="0.35"/>
<circle cx="506.4" cy="484.57" r="0.9" fill="#cacaca" stroke="#909090" stroke-width="0.35"/>
<circle cx="507.8" cy="477.65" r="0.9" fill="#cacaca" stroke="#909090" stroke-width="0.35"/>
<circle cx="506.68" cy="476.86" r="0.9" fill="#cacaca" stroke="#909090" stroke-width="0.35"/>
<circle cx="505.09" cy="480.25" r="0.9" fill="#cacaca" stroke="#909090" stroke-width="0.35"/>
<circle cx="510.29" cy="481" r="0.9" fill="#cacaca" stroke="#909090" stroke-width="0.35"/>
<circle cx="510.07" cy="476.85" r="0.9" fill="#cacaca" stroke="#909090" stroke-width="0.35"/>
<circle cx="511.68" cy="479.29" r="0.9" fill="#cacaca" stroke="#909090" stroke-width="0.35"/>
<circle cx="505.18" cy="477.48" r="0.9" fill="#cacaca" stroke="#909090" stroke-width="0.35"/>
<circle cx="504.02" cy="479.83" r="0.9" fill="#cacaca" stroke="#909090" stroke-width="0.35"/>
<circle cx="505.29" cy="478.44" r="0.9" fill="#cacaca" stroke="#909090" stroke-width="0.35"/>
<circle cx="505.54" cy="480.49" r="0.9" fill="#cacaca" stroke="#909090" stroke-width="0.35"/>
<circle cx="508.15" cy="472.82" r="0.9" fill="#cacaca" stroke="#909090" stroke-width="0.35"/>
<circle cx="506.85" cy="476.24" r="0.9" fill="#cacaca" stroke="#909090" stroke-width="0.35"/>
<circle cx="506.69" cy="475.7" r="0.9" fill="#cacaca" stroke="#909090" stroke-width="0.35"/>
<circle cx="506.27" cy="481.38" r="0.9" fill="#cacaca" stroke="#909090" stroke-width="0.35"/>
<circle cx="510.42" cy="481.79" r="0.9" fill="#cacaca" stroke="#909090" stroke-width="0.35"/>
<circle cx="504.46" cy="480.29" r="0.9" fill="#cacaca" stroke="#909090" stroke-width="0.35"/>
<circle cx="509.02" cy="474.46" r="0.9" fill="#cacaca" stroke="#909090" stroke-width="0.35"/>
<circle cx="504.93" cy="479.15" r="0.9" fill="#cacaca" stroke="#909090" stroke-width="0.35"/>
<circle cx="506.54" cy="478.91" r="0.9" fill="#cacaca" stroke="#909090" stroke-width="0.35"/>
<circle cx="507.03" cy="481.8" r="0.9" fill="#cacaca" stroke="#909090" stroke-width="0.35"/>
<circle cx="508.57" cy="485.58" r="0.9" fill="#cacaca" stroke="#909090" stroke-width="0.35"/>
<circle cx="504" cy="477.36" r="0.9" fill="#cacaca" stroke="#909090" stroke-width="0.35"/>
<circle cx="509.02" cy="484.49" r="0.9" fill="#cacaca" stroke="#909090" stroke-width="0.35"/>
<circle cx="507.17" cy="480.33" r="0.9" fill="#cacaca" stroke="#909090" stroke-width="0.35"/>
<circle cx="506.44" cy="479.2" r="0.9" fill="#cacaca" stroke="#909090" stroke-width="0.35"/>
<circle cx="511.08" cy="479.22" r="0.9" fill="#cacaca" stroke="#909090" stroke-width="0.35"/>
<circle cx="510.23" cy="482.31" r="0.9" fill="#cacaca" stroke="#909090" stroke-width="0.35"/>
<circle cx="506.49" cy="473.3" r="0.9" fill="#cacaca" stroke="#909090" stroke-width="0.35"/>
<circle cx="507.54" cy="480.77" r="0.9" fill="#cacaca" stroke="#909090" stroke-width="0.35"/>
<circle cx="508.77" cy="480.5" r="0.9" fill="#cacaca" stroke="#909090" stroke-width="0.35"/>
<circle cx="508.01" cy="484.32" r="0.9" fill="#cacaca" stroke="#909090" stroke-width="0.35"/>
<circle cx="509.23" cy="477.3" r="0.9" fill="#cacaca" stroke="#909090" stroke-width="0.35"/>
<circle cx="505.03" cy="475.1" r="0.9" fill="#cacaca" stroke="#909090" stroke-width="0.35"/>
<circle cx="509.56" cy="480.39" r="0.9" fill="#cacaca" stroke="#909090" stroke-width="0.35"/>
<circle cx="508.54" cy="480.08" r="0.9" fill="#cacaca" stroke="#909090" stroke-width="0.35"/>
<circle cx="506.97" cy="486.84" r="0.9" fill="#cacaca" stroke="#909090" stroke-width="0.35"/>
<circle cx="508.35" cy="481.05" r="0.9" fill="#cacaca" stroke="#909090" stroke-width="0.35"/>
<circle cx="508.78" cy="481.12" r="0.9" fill="#cacaca" stroke="#909090" stroke-width="0.35"/>
<circle cx="507.57" cy="480.24" r="0.9" fill="#cacaca" stroke="#909090" stroke-width="0.35"/>
<circle cx="508.04" cy="480.09" r="0.9" fill="#cacaca" stroke="#909090" stroke-width="0.35"/>
<circle cx="508.1" cy="477.4" r="0.9" fill="#cacaca" stroke="#909090" stroke-width="0.35"/>
<circle cx="503.78" cy="480.81" r="0.9" fill="#cacaca" stroke="#909090" stroke-width="0.35"/>
<circle cx="510.89" cy="478.05" r="0.9" fill="#cacaca" stroke="#909090" stroke-width="0.35"/>
<circle cx="508.19" cy="482.83" r="0.9" fill="#cacaca" stroke="#909090" stroke-width="0.35"/>
<circle cx="505.73" cy="482.13" r="0.9" fill="#cacaca" stroke="#909090" stroke-width="0.35"/>
<circle cx="505.74" cy="476.67" r="0.9" fill="#cacaca" stroke="#909090" stroke-width="0.35"/>
<line x1="500.12" y1="479.25" x2="514.63" y2="479.25" stroke="#333" stroke-width="0.9" />
<line x1="500.12" y1="477.75" x2="500.12" y2="480.75" stroke="#333" stroke-width="0.7" />
<line x1="514.63" y1="477.75" x2="514.63" y2="480.75" stroke="#333" stroke-width="0.7" />
<line x1="507.38" y1="471.25" x2="507.38" y2="487.25" stroke="#555" stroke-width="0.5" />
<rect x="531.32" y="493.2" width="17.41" height="9.2" fill="none" stroke="#e8983c" stroke-width="0.9"/>
<line x1="527.11" y1="497.8" x2="531.32" y2="497.8" stroke="#e8983c" stroke-width="0.9" />
<line x1="548.73" y1="497.8" x2="558.16" y2="497.8" stroke="#e8983c" stroke-width="0.9" />
<line x1="527.11" y1="495.3" x2="527.11" y2="500.3" stroke="#e8983c" stroke-width="0.8" />
<line x1="558.16" y1="495.3" x2="558.16" y2="500.3" stroke="#e8983c" stroke-width="0.8" />
<circle cx="556.23" cy="499.52" r="1.35" fill="#e8983c" stroke="#e8983c" stroke-width="0.45" fill-opacity="0.35"/>
<circle cx="538.29" cy="493.78" r="1.35" fill="#e8983c" stroke="#e8983c" stroke-width="0.45" fill-opacity="0.35"/>
<circle cx="541.93" cy="499.27" r="1.35" fill="#e8983c" stroke="#e8983c" stroke-width="0.45" fill-opacity="0.35"/>
<circle cx="540.43" cy="495.76" r="1.35" fill="#e8983c" stroke="#e8983c" stroke-width="0.45" fill-opacity="0.35"/>
<circle cx="545.62" cy="501.37" r="1.35" fill="#e8983c" stroke="#e8983c" stroke-width="0.45" fill-opacity="0.35"/>
<circle cx="536.51" cy="493.89" r="1.35" fill="#e8983c" stroke="#e8983c" stroke-width="0.45" fill-opacity="0.35"/>
<circle cx="538.91" cy="497.13" r="1.35" fill="#e8983c" stroke="#e8983c" stroke-width="0.45" fill-opacity="0.35"/>
<circle cx="545.99" cy="495.26" r="1.35" fill="#e8983c" stroke="#e8983c" stroke-width="0.45" fill-opacity="0.35"/>
<circle cx="549.16" cy="499.81" r="1.35" fill="#e8983c" stroke="#e8983c" stroke-width="0.45" fill-opacity="0.35"/>
<circle cx="542.06" cy="495.32" r="1.35" fill="#e8983c" stroke="#e8983c" stroke-width="0.45" fill-opacity="0.35"/>
<circle cx="556.92" cy="496.22" r="1.35" fill="#e8983c" stroke="#e8983c" stroke-width="0.45" fill-opacity="0.35"/>
<circle cx="549.89" cy="495.54" r="1.35" fill="#e8983c" stroke="#e8983c" stroke-width="0.45" fill-opacity="0.35"/>
<circle cx="536.38" cy="499.99" r="1.35" fill="#e8983c" stroke="#e8983c" stroke-width="0.45" fill-opacity="0.35"/>
<circle cx="538.03" cy="501.6" r="1.35" fill="#e8983c" stroke="#e8983c" stroke-width="0.45" fill-opacity="0.35"/>
<circle cx="541.88" cy="495.17" r="1.35" fill="#e8983c" stroke="#e8983c" stroke-width="0.45" fill-opacity="0.35"/>
<circle cx="536.43" cy="497.1" r="1.35" fill="#e8983c" stroke="#e8983c" stroke-width="0.45" fill-opacity="0.35"/>
<circle cx="545.57" cy="501.57" r="1.35" fill="#e8983c" stroke="#e8983c" stroke-width="0.45" fill-opacity="0.35"/>
<circle cx="534.38" cy="496.91" r="1.35" fill="#e8983c" stroke="#e8983c" stroke-width="0.45" fill-opacity="0.35"/>
<circle cx="536.17" cy="501.78" r="1.35" fill="#e8983c" stroke="#e8983c" stroke-width="0.45" fill-opacity="0.35"/>
<circle cx="534.24" cy="494.04" r="1.35" fill="#e8983c" stroke="#e8983c" stroke-width="0.45" fill-opacity="0.35"/>
<circle cx="531.25" cy="496.9" r="1.35" fill="#e8983c" stroke="#e8983c" stroke-width="0.45" fill-opacity="0.35"/>
<circle cx="552.84" cy="501.02" r="1.35" fill="#e8983c" stroke="#e8983c" stroke-width="0.45" fill-opacity="0.35"/>
<circle cx="547.29" cy="501.98" r="1.35" fill="#e8983c" stroke="#e8983c" stroke-width="0.45" fill-opacity="0.35"/>
<circle cx="554.46" cy="496.37" r="1.35" fill="#e8983c" stroke="#e8983c" stroke-width="0.45" fill-opacity="0.35"/>
<circle cx="535.47" cy="501.46" r="1.35" fill="#e8983c" stroke="#e8983c" stroke-width="0.45" fill-opacity="0.35"/>
<circle cx="547.67" cy="493.87" r="1.35" fill="#e8983c" stroke="#e8983c" stroke-width="0.45" fill-opacity="0.35"/>
<circle cx="545.55" cy="496.78" r="1.35" fill="#e8983c" stroke="#e8983c" stroke-width="0.45" fill-opacity="0.35"/>
<circle cx="539.59" cy="496.39" r="1.35" fill="#e8983c" stroke="#e8983c" stroke-width="0.45" fill-opacity="0.35"/>
<circle cx="535.03" cy="493.62" r="1.35" fill="#e8983c" stroke="#e8983c" stroke-width="0.45" fill-opacity="0.35"/>
<circle cx="537.71" cy="496.55" r="1.35" fill="#e8983c" stroke="#e8983c" stroke-width="0.45" fill-opacity="0.35"/>
<circle cx="523.48" cy="499.17" r="1.35" fill="#e8983c" stroke="#e8983c" stroke-width="0.45" fill-opacity="0.35"/>
<circle cx="563.97" cy="496.67" r="1.35" fill="#e8983c" stroke="#e8983c" stroke-width="0.45" fill-opacity="0.35"/>
<line x1="540.03" y1="491.3" x2="540.03" y2="504.3" stroke="#e8983c" stroke-width="1.1" />
<rect x="528.42" y="511.75" width="23.94" height="9.2" fill="none" stroke="#f070d8" stroke-width="0.9"/>
<line x1="519.71" y1="516.35" x2="528.42" y2="516.35" stroke="#f070d8" stroke-width="0.9" />
<line x1="552.36" y1="516.35" x2="559.9" y2="516.35" stroke="#f070d8" stroke-width="0.9" />
<line x1="519.71" y1="513.85" x2="519.71" y2="518.85" stroke="#f070d8" stroke-width="0.8" />
<line x1="559.9" y1="513.85" x2="559.9" y2="518.85" stroke="#f070d8" stroke-width="0.8" />
<circle cx="556.72" cy="513.89" r="1.35" fill="#f070d8" stroke="#f070d8" stroke-width="0.45" fill-opacity="0.35"/>
<circle cx="536.48" cy="519.05" r="1.35" fill="#f070d8" stroke="#f070d8" stroke-width="0.45" fill-opacity="0.35"/>
<circle cx="549.21" cy="515.78" r="1.35" fill="#f070d8" stroke="#f070d8" stroke-width="0.45" fill-opacity="0.35"/>
<circle cx="524.4" cy="516.13" r="1.35" fill="#f070d8" stroke="#f070d8" stroke-width="0.45" fill-opacity="0.35"/>
<circle cx="536.91" cy="519.87" r="1.35" fill="#f070d8" stroke="#f070d8" stroke-width="0.45" fill-opacity="0.35"/>
<circle cx="531.4" cy="515.21" r="1.35" fill="#f070d8" stroke="#f070d8" stroke-width="0.45" fill-opacity="0.35"/>
<circle cx="552.47" cy="512.4" r="1.35" fill="#f070d8" stroke="#f070d8" stroke-width="0.45" fill-opacity="0.35"/>
<circle cx="537.89" cy="518.97" r="1.35" fill="#f070d8" stroke="#f070d8" stroke-width="0.45" fill-opacity="0.35"/>
<circle cx="547.24" cy="512.49" r="1.35" fill="#f070d8" stroke="#f070d8" stroke-width="0.45" fill-opacity="0.35"/>
<circle cx="523.26" cy="512.68" r="1.35" fill="#f070d8" stroke="#f070d8" stroke-width="0.45" fill-opacity="0.35"/>
<circle cx="553.7" cy="514.31" r="1.35" fill="#f070d8" stroke="#f070d8" stroke-width="0.45" fill-opacity="0.35"/>
<circle cx="546.61" cy="519.7" r="1.35" fill="#f070d8" stroke="#f070d8" stroke-width="0.45" fill-opacity="0.35"/>
<circle cx="536.01" cy="514.44" r="1.35" fill="#f070d8" stroke="#f070d8" stroke-width="0.45" fill-opacity="0.35"/>
<circle cx="556.18" cy="517.33" r="1.35" fill="#f070d8" stroke="#f070d8" stroke-width="0.45" fill-opacity="0.35"/>
<circle cx="533.74" cy="518.17" r="1.35" fill="#f070d8" stroke="#f070d8" stroke-width="0.45" fill-opacity="0.35"/>
<circle cx="535.37" cy="514.47" r="1.35" fill="#f070d8" stroke="#f070d8" stroke-width="0.45" fill-opacity="0.35"/>
<circle cx="519.22" cy="518.5" r="1.35" fill="#f070d8" stroke="#f070d8" stroke-width="0.45" fill-opacity="0.35"/>
<circle cx="553.49" cy="517.48" r="1.35" fill="#f070d8" stroke="#f070d8" stroke-width="0.45" fill-opacity="0.35"/>
<circle cx="555.13" cy="512.35" r="1.35" fill="#f070d8" stroke="#f070d8" stroke-width="0.45" fill-opacity="0.35"/>
<circle cx="532.83" cy="516.14" r="1.35" fill="#f070d8" stroke="#f070d8" stroke-width="0.45" fill-opacity="0.35"/>
<circle cx="556.11" cy="520.16" r="1.35" fill="#f070d8" stroke="#f070d8" stroke-width="0.45" fill-opacity="0.35"/>
<circle cx="537.27" cy="514.26" r="1.35" fill="#f070d8" stroke="#f070d8" stroke-width="0.45" fill-opacity="0.35"/>
<circle cx="538.37" cy="516.3" r="1.35" fill="#f070d8" stroke="#f070d8" stroke-width="0.45" fill-opacity="0.35"/>
<circle cx="554.17" cy="513.69" r="1.35" fill="#f070d8" stroke="#f070d8" stroke-width="0.45" fill-opacity="0.35"/>
<circle cx="548.49" cy="518.35" r="1.35" fill="#f070d8" stroke="#f070d8" stroke-width="0.45" fill-opacity="0.35"/>
<circle cx="549.24" cy="518.64" r="1.35" fill="#f070d8" stroke="#f070d8" stroke-width="0.45" fill-opacity="0.35"/>
<circle cx="542.62" cy="514.9" r="1.35" fill="#f070d8" stroke="#f070d8" stroke-width="0.45" fill-opacity="0.35"/>
<circle cx="535.46" cy="515.19" r="1.35" fill="#f070d8" stroke="#f070d8" stroke-width="0.45" fill-opacity="0.35"/>
<circle cx="547.77" cy="512.81" r="1.35" fill="#f070d8" stroke="#f070d8" stroke-width="0.45" fill-opacity="0.35"/>
<circle cx="531.56" cy="518.47" r="1.35" fill="#f070d8" stroke="#f070d8" stroke-width="0.45" fill-opacity="0.35"/>
<circle cx="515.07" cy="515.59" r="1.35" fill="#f070d8" stroke="#f070d8" stroke-width="0.45" fill-opacity="0.35"/>
<circle cx="564.98" cy="515.04" r="1.35" fill="#f070d8" stroke="#f070d8" stroke-width="0.45" fill-opacity="0.35"/>
<line x1="540.03" y1="509.85" x2="540.03" y2="522.85" stroke="#f070d8" stroke-width="1.1" />
<rect x="568.32" y="530.3" width="23.22" height="9.2" fill="none" stroke="#e8b850" stroke-width="0.9"/>
<line x1="559.61" y1="534.9" x2="568.32" y2="534.9" stroke="#e8b850" stroke-width="0.9" />
<line x1="591.54" y1="534.9" x2="600.97" y2="534.9" stroke="#e8b850" stroke-width="0.9" />
<line x1="559.61" y1="532.4" x2="559.61" y2="537.4" stroke="#e8b850" stroke-width="0.8" />
<line x1="600.97" y1="532.4" x2="600.97" y2="537.4" stroke="#e8b850" stroke-width="0.8" />
<circle cx="557.59" cy="535.34" r="1.35" fill="#e8b850" stroke="#e8b850" stroke-width="0.45" fill-opacity="0.35"/>
<circle cx="573.14" cy="538.93" r="1.35" fill="#e8b850" stroke="#e8b850" stroke-width="0.45" fill-opacity="0.35"/>
<circle cx="592.09" cy="539" r="1.35" fill="#e8b850" stroke="#e8b850" stroke-width="0.45" fill-opacity="0.35"/>
<circle cx="570.89" cy="531.41" r="1.35" fill="#e8b850" stroke="#e8b850" stroke-width="0.45" fill-opacity="0.35"/>
<circle cx="562.68" cy="534.89" r="1.35" fill="#e8b850" stroke="#e8b850" stroke-width="0.45" fill-opacity="0.35"/>
<circle cx="584.86" cy="534.45" r="1.35" fill="#e8b850" stroke="#e8b850" stroke-width="0.45" fill-opacity="0.35"/>
<circle cx="569.65" cy="534.2" r="1.35" fill="#e8b850" stroke="#e8b850" stroke-width="0.45" fill-opacity="0.35"/>
<circle cx="582.02" cy="536.36" r="1.35" fill="#e8b850" stroke="#e8b850" stroke-width="0.45" fill-opacity="0.35"/>
<circle cx="586.2" cy="537.81" r="1.35" fill="#e8b850" stroke="#e8b850" stroke-width="0.45" fill-opacity="0.35"/>
<circle cx="583.37" cy="531.72" r="1.35" fill="#e8b850" stroke="#e8b850" stroke-width="0.45" fill-opacity="0.35"/>
<circle cx="589.98" cy="533.17" r="1.35" fill="#e8b850" stroke="#e8b850" stroke-width="0.45" fill-opacity="0.35"/>
<circle cx="580.48" cy="533.83" r="1.35" fill="#e8b850" stroke="#e8b850" stroke-width="0.45" fill-opacity="0.35"/>
<circle cx="585.85" cy="532.37" r="1.35" fill="#e8b850" stroke="#e8b850" stroke-width="0.45" fill-opacity="0.35"/>
<circle cx="570.19" cy="532.76" r="1.35" fill="#e8b850" stroke="#e8b850" stroke-width="0.45" fill-opacity="0.35"/>
<circle cx="565.94" cy="538.13" r="1.35" fill="#e8b850" stroke="#e8b850" stroke-width="0.45" fill-opacity="0.35"/>
<circle cx="580.8" cy="533.44" r="1.35" fill="#e8b850" stroke="#e8b850" stroke-width="0.45" fill-opacity="0.35"/>
<circle cx="575.5" cy="539.04" r="1.35" fill="#e8b850" stroke="#e8b850" stroke-width="0.45" fill-opacity="0.35"/>
<circle cx="578.84" cy="532.64" r="1.35" fill="#e8b850" stroke="#e8b850" stroke-width="0.45" fill-opacity="0.35"/>
<circle cx="588.56" cy="536.19" r="1.35" fill="#e8b850" stroke="#e8b850" stroke-width="0.45" fill-opacity="0.35"/>
<circle cx="601.11" cy="531.56" r="1.35" fill="#e8b850" stroke="#e8b850" stroke-width="0.45" fill-opacity="0.35"/>
<circle cx="577.9" cy="537.58" r="1.35" fill="#e8b850" stroke="#e8b850" stroke-width="0.45" fill-opacity="0.35"/>
<circle cx="589.97" cy="538.38" r="1.35" fill="#e8b850" stroke="#e8b850" stroke-width="0.45" fill-opacity="0.35"/>
<circle cx="558.27" cy="533.17" r="1.35" fill="#e8b850" stroke="#e8b850" stroke-width="0.45" fill-opacity="0.35"/>
<circle cx="564.07" cy="532.29" r="1.35" fill="#e8b850" stroke="#e8b850" stroke-width="0.45" fill-opacity="0.35"/>
<circle cx="598.57" cy="535.6" r="1.35" fill="#e8b850" stroke="#e8b850" stroke-width="0.45" fill-opacity="0.35"/>
<circle cx="594.91" cy="533.83" r="1.35" fill="#e8b850" stroke="#e8b850" stroke-width="0.45" fill-opacity="0.35"/>
<circle cx="591.19" cy="534.47" r="1.35" fill="#e8b850" stroke="#e8b850" stroke-width="0.45" fill-opacity="0.35"/>
<circle cx="570.69" cy="537.23" r="1.35" fill="#e8b850" stroke="#e8b850" stroke-width="0.45" fill-opacity="0.35"/>
<circle cx="596.06" cy="531.59" r="1.35" fill="#e8b850" stroke="#e8b850" stroke-width="0.45" fill-opacity="0.35"/>
<circle cx="581.31" cy="535.91" r="1.35" fill="#e8b850" stroke="#e8b850" stroke-width="0.45" fill-opacity="0.35"/>
<circle cx="548.01" cy="534.05" r="1.35" fill="#e8b850" stroke="#e8b850" stroke-width="0.45" fill-opacity="0.35"/>
<circle cx="606.77" cy="534.51" r="1.35" fill="#e8b850" stroke="#e8b850" stroke-width="0.45" fill-opacity="0.35"/>
<line x1="579.93" y1="528.4" x2="579.93" y2="541.4" stroke="#e8b850" stroke-width="1.1" />
<rect x="542.93" y="548.85" width="26.12" height="9.2" fill="none" stroke="#a860e0" stroke-width="0.9"/>
<line x1="536.4" y1="553.45" x2="542.93" y2="553.45" stroke="#a860e0" stroke-width="0.9" />
<line x1="569.05" y1="553.45" x2="578.48" y2="553.45" stroke="#a860e0" stroke-width="0.9" />
<line x1="536.4" y1="550.95" x2="536.4" y2="555.95" stroke="#a860e0" stroke-width="0.8" />
<line x1="578.48" y1="550.95" x2="578.48" y2="555.95" stroke="#a860e0" stroke-width="0.8" />
<circle cx="547.65" cy="550.96" r="1.35" fill="#a860e0" stroke="#a860e0" stroke-width="0.45" fill-opacity="0.35"/>
<circle cx="552.01" cy="554.29" r="1.35" fill="#a860e0" stroke="#a860e0" stroke-width="0.45" fill-opacity="0.35"/>
<circle cx="563.36" cy="550.96" r="1.35" fill="#a860e0" stroke="#a860e0" stroke-width="0.45" fill-opacity="0.35"/>
<circle cx="538.55" cy="552" r="1.35" fill="#a860e0" stroke="#a860e0" stroke-width="0.45" fill-opacity="0.35"/>
<circle cx="564.23" cy="550.81" r="1.35" fill="#a860e0" stroke="#a860e0" stroke-width="0.45" fill-opacity="0.35"/>
<circle cx="553.83" cy="550.96" r="1.35" fill="#a860e0" stroke="#a860e0" stroke-width="0.45" fill-opacity="0.35"/>
<circle cx="568.58" cy="553.85" r="1.35" fill="#a860e0" stroke="#a860e0" stroke-width="0.45" fill-opacity="0.35"/>
<circle cx="543.45" cy="550.1" r="1.35" fill="#a860e0" stroke="#a860e0" stroke-width="0.45" fill-opacity="0.35"/>
<circle cx="556.2" cy="553.87" r="1.35" fill="#a860e0" stroke="#a860e0" stroke-width="0.45" fill-opacity="0.35"/>
<circle cx="562.96" cy="550.02" r="1.35" fill="#a860e0" stroke="#a860e0" stroke-width="0.45" fill-opacity="0.35"/>
<circle cx="548.62" cy="555.09" r="1.35" fill="#a860e0" stroke="#a860e0" stroke-width="0.45" fill-opacity="0.35"/>
<circle cx="556.58" cy="551.63" r="1.35" fill="#a860e0" stroke="#a860e0" stroke-width="0.45" fill-opacity="0.35"/>
<circle cx="553.69" cy="557.26" r="1.35" fill="#a860e0" stroke="#a860e0" stroke-width="0.45" fill-opacity="0.35"/>
<circle cx="553.84" cy="554.01" r="1.35" fill="#a860e0" stroke="#a860e0" stroke-width="0.45" fill-opacity="0.35"/>
<circle cx="555.15" cy="552.75" r="1.35" fill="#a860e0" stroke="#a860e0" stroke-width="0.45" fill-opacity="0.35"/>
<circle cx="571.77" cy="557.62" r="1.35" fill="#a860e0" stroke="#a860e0" stroke-width="0.45" fill-opacity="0.35"/>
<circle cx="555.33" cy="550.91" r="1.35" fill="#a860e0" stroke="#a860e0" stroke-width="0.45" fill-opacity="0.35"/>
<circle cx="565.96" cy="550.96" r="1.35" fill="#a860e0" stroke="#a860e0" stroke-width="0.45" fill-opacity="0.35"/>
<circle cx="537.54" cy="556.82" r="1.35" fill="#a860e0" stroke="#a860e0" stroke-width="0.45" fill-opacity="0.35"/>
<circle cx="556.95" cy="556.14" r="1.35" fill="#a860e0" stroke="#a860e0" stroke-width="0.45" fill-opacity="0.35"/>
<circle cx="556.49" cy="556.67" r="1.35" fill="#a860e0" stroke="#a860e0" stroke-width="0.45" fill-opacity="0.35"/>
<circle cx="557.9" cy="550.62" r="1.35" fill="#a860e0" stroke="#a860e0" stroke-width="0.45" fill-opacity="0.35"/>
<circle cx="539.06" cy="553.88" r="1.35" fill="#a860e0" stroke="#a860e0" stroke-width="0.45" fill-opacity="0.35"/>
<circle cx="563.01" cy="556.89" r="1.35" fill="#a860e0" stroke="#a860e0" stroke-width="0.45" fill-opacity="0.35"/>
<circle cx="545.03" cy="554.48" r="1.35" fill="#a860e0" stroke="#a860e0" stroke-width="0.45" fill-opacity="0.35"/>
<circle cx="555.53" cy="553.49" r="1.35" fill="#a860e0" stroke="#a860e0" stroke-width="0.45" fill-opacity="0.35"/>
<circle cx="547.86" cy="551.63" r="1.35" fill="#a860e0" stroke="#a860e0" stroke-width="0.45" fill-opacity="0.35"/>
<circle cx="559.5" cy="557.02" r="1.35" fill="#a860e0" stroke="#a860e0" stroke-width="0.45" fill-opacity="0.35"/>
<circle cx="546.09" cy="553.37" r="1.35" fill="#a860e0" stroke="#a860e0" stroke-width="0.45" fill-opacity="0.35"/>
<circle cx="568.99" cy="557.37" r="1.35" fill="#a860e0" stroke="#a860e0" stroke-width="0.45" fill-opacity="0.35"/>
<circle cx="532.77" cy="552.54" r="1.35" fill="#a860e0" stroke="#a860e0" stroke-width="0.45" fill-opacity="0.35"/>
<circle cx="587.91" cy="552.33" r="1.35" fill="#a860e0" stroke="#a860e0" stroke-width="0.45" fill-opacity="0.35"/>
<line x1="557.44" y1="546.95" x2="557.44" y2="559.95" stroke="#a860e0" stroke-width="1.1" />
<rect x="563.97" y="567.4" width="27.57" height="9.2" fill="none" stroke="#78c038" stroke-width="0.9"/>
<line x1="555.26" y1="572" x2="563.97" y2="572" stroke="#78c038" stroke-width="0.9" />
<line x1="591.54" y1="572" x2="600.97" y2="572" stroke="#78c038" stroke-width="0.9" />
<line x1="555.26" y1="569.5" x2="555.26" y2="574.5" stroke="#78c038" stroke-width="0.8" />
<line x1="600.97" y1="569.5" x2="600.97" y2="574.5" stroke="#78c038" stroke-width="0.8" />
<circle cx="597.58" cy="575.99" r="1.35" fill="#78c038" stroke="#78c038" stroke-width="0.45" fill-opacity="0.35"/>
<circle cx="577.59" cy="568.25" r="1.35" fill="#78c038" stroke="#78c038" stroke-width="0.45" fill-opacity="0.35"/>
<circle cx="596.21" cy="571.06" r="1.35" fill="#78c038" stroke="#78c038" stroke-width="0.45" fill-opacity="0.35"/>
<circle cx="594.64" cy="573.01" r="1.35" fill="#78c038" stroke="#78c038" stroke-width="0.45" fill-opacity="0.35"/>
<circle cx="590.09" cy="569.15" r="1.35" fill="#78c038" stroke="#78c038" stroke-width="0.45" fill-opacity="0.35"/>
<circle cx="588.27" cy="569.67" r="1.35" fill="#78c038" stroke="#78c038" stroke-width="0.45" fill-opacity="0.35"/>
<circle cx="575.08" cy="574.91" r="1.35" fill="#78c038" stroke="#78c038" stroke-width="0.45" fill-opacity="0.35"/>
<circle cx="590.32" cy="569.34" r="1.35" fill="#78c038" stroke="#78c038" stroke-width="0.45" fill-opacity="0.35"/>
<circle cx="567.89" cy="571.16" r="1.35" fill="#78c038" stroke="#78c038" stroke-width="0.45" fill-opacity="0.35"/>
<circle cx="578.65" cy="571.02" r="1.35" fill="#78c038" stroke="#78c038" stroke-width="0.45" fill-opacity="0.35"/>
<circle cx="562.94" cy="569.88" r="1.35" fill="#78c038" stroke="#78c038" stroke-width="0.45" fill-opacity="0.35"/>
<circle cx="585.7" cy="575.34" r="1.35" fill="#78c038" stroke="#78c038" stroke-width="0.45" fill-opacity="0.35"/>
<circle cx="556.64" cy="572.52" r="1.35" fill="#78c038" stroke="#78c038" stroke-width="0.45" fill-opacity="0.35"/>
<circle cx="587.03" cy="568.12" r="1.35" fill="#78c038" stroke="#78c038" stroke-width="0.45" fill-opacity="0.35"/>
<circle cx="590.78" cy="568.79" r="1.35" fill="#78c038" stroke="#78c038" stroke-width="0.45" fill-opacity="0.35"/>
<circle cx="581.2" cy="572.42" r="1.35" fill="#78c038" stroke="#78c038" stroke-width="0.45" fill-opacity="0.35"/>
<circle cx="582.12" cy="570.37" r="1.35" fill="#78c038" stroke="#78c038" stroke-width="0.45" fill-opacity="0.35"/>
<circle cx="575.6" cy="572.69" r="1.35" fill="#78c038" stroke="#78c038" stroke-width="0.45" fill-opacity="0.35"/>
<circle cx="575.79" cy="573.33" r="1.35" fill="#78c038" stroke="#78c038" stroke-width="0.45" fill-opacity="0.35"/>
<circle cx="576.47" cy="571.48" r="1.35" fill="#78c038" stroke="#78c038" stroke-width="0.45" fill-opacity="0.35"/>
<circle cx="554.52" cy="573" r="1.35" fill="#78c038" stroke="#78c038" stroke-width="0.45" fill-opacity="0.35"/>
<circle cx="577.79" cy="569.78" r="1.35" fill="#78c038" stroke="#78c038" stroke-width="0.45" fill-opacity="0.35"/>
<circle cx="587.29" cy="574.35" r="1.35" fill="#78c038" stroke="#78c038" stroke-width="0.45" fill-opacity="0.35"/>
<circle cx="576.83" cy="569.31" r="1.35" fill="#78c038" stroke="#78c038" stroke-width="0.45" fill-opacity="0.35"/>
<circle cx="577.3" cy="568.7" r="1.35" fill="#78c038" stroke="#78c038" stroke-width="0.45" fill-opacity="0.35"/>
<circle cx="563.27" cy="571.42" r="1.35" fill="#78c038" stroke="#78c038" stroke-width="0.45" fill-opacity="0.35"/>
<circle cx="560.9" cy="571.51" r="1.35" fill="#78c038" stroke="#78c038" stroke-width="0.45" fill-opacity="0.35"/>
<circle cx="578.42" cy="568.14" r="1.35" fill="#78c038" stroke="#78c038" stroke-width="0.45" fill-opacity="0.35"/>
<circle cx="582.44" cy="568.49" r="1.35" fill="#78c038" stroke="#78c038" stroke-width="0.45" fill-opacity="0.35"/>
<circle cx="586.05" cy="574.33" r="1.35" fill="#78c038" stroke="#78c038" stroke-width="0.45" fill-opacity="0.35"/>
<circle cx="545.83" cy="572.03" r="1.35" fill="#78c038" stroke="#78c038" stroke-width="0.45" fill-opacity="0.35"/>
<circle cx="609.67" cy="570.66" r="1.35" fill="#78c038" stroke="#78c038" stroke-width="0.45" fill-opacity="0.35"/>
<line x1="578.48" y1="565.5" x2="578.48" y2="578.5" stroke="#78c038" stroke-width="1.1" />
<rect x="532.77" y="585.95" width="19.59" height="9.2" fill="none" stroke="#30c8d0" stroke-width="0.9"/>
<line x1="524.79" y1="590.55" x2="532.77" y2="590.55" stroke="#30c8d0" stroke-width="0.9" />
<line x1="552.36" y1="590.55" x2="561.79" y2="590.55" stroke="#30c8d0" stroke-width="0.9" />
<line x1="524.79" y1="588.05" x2="524.79" y2="593.05" stroke="#30c8d0" stroke-width="0.8" />
<line x1="561.79" y1="588.05" x2="561.79" y2="593.05" stroke="#30c8d0" stroke-width="0.8" />
<circle cx="545.04" cy="589.52" r="1.35" fill="#30c8d0" stroke="#30c8d0" stroke-width="0.45" fill-opacity="0.35"/>
<circle cx="563.98" cy="587.49" r="1.35" fill="#30c8d0" stroke="#30c8d0" stroke-width="0.45" fill-opacity="0.35"/>
<circle cx="557.84" cy="594.72" r="1.35" fill="#30c8d0" stroke="#30c8d0" stroke-width="0.45" fill-opacity="0.35"/>
<circle cx="552.37" cy="593.2" r="1.35" fill="#30c8d0" stroke="#30c8d0" stroke-width="0.45" fill-opacity="0.35"/>
<circle cx="536.5" cy="594.6" r="1.35" fill="#30c8d0" stroke="#30c8d0" stroke-width="0.45" fill-opacity="0.35"/>
<circle cx="544.71" cy="594.39" r="1.35" fill="#30c8d0" stroke="#30c8d0" stroke-width="0.45" fill-opacity="0.35"/>
<circle cx="561.31" cy="587.74" r="1.35" fill="#30c8d0" stroke="#30c8d0" stroke-width="0.45" fill-opacity="0.35"/>
<circle cx="554.63" cy="594.17" r="1.35" fill="#30c8d0" stroke="#30c8d0" stroke-width="0.45" fill-opacity="0.35"/>
<circle cx="531" cy="589.3" r="1.35" fill="#30c8d0" stroke="#30c8d0" stroke-width="0.45" fill-opacity="0.35"/>
<circle cx="553.3" cy="587.68" r="1.35" fill="#30c8d0" stroke="#30c8d0" stroke-width="0.45" fill-opacity="0.35"/>
<circle cx="560.05" cy="588.66" r="1.35" fill="#30c8d0" stroke="#30c8d0" stroke-width="0.45" fill-opacity="0.35"/>
<circle cx="555.83" cy="587.56" r="1.35" fill="#30c8d0" stroke="#30c8d0" stroke-width="0.45" fill-opacity="0.35"/>
<circle cx="544.99" cy="594.08" r="1.35" fill="#30c8d0" stroke="#30c8d0" stroke-width="0.45" fill-opacity="0.35"/>
<circle cx="536.99" cy="588.56" r="1.35" fill="#30c8d0" stroke="#30c8d0" stroke-width="0.45" fill-opacity="0.35"/>
<circle cx="545.1" cy="589.03" r="1.35" fill="#30c8d0" stroke="#30c8d0" stroke-width="0.45" fill-opacity="0.35"/>
<circle cx="529.08" cy="587.88" r="1.35" fill="#30c8d0" stroke="#30c8d0" stroke-width="0.45" fill-opacity="0.35"/>
<circle cx="535.35" cy="594.22" r="1.35" fill="#30c8d0" stroke="#30c8d0" stroke-width="0.45" fill-opacity="0.35"/>
<circle cx="550.47" cy="593.87" r="1.35" fill="#30c8d0" stroke="#30c8d0" stroke-width="0.45" fill-opacity="0.35"/>
<circle cx="535.63" cy="592.94" r="1.35" fill="#30c8d0" stroke="#30c8d0" stroke-width="0.45" fill-opacity="0.35"/>
<circle cx="533.49" cy="590.81" r="1.35" fill="#30c8d0" stroke="#30c8d0" stroke-width="0.45" fill-opacity="0.35"/>
<circle cx="549.02" cy="589.37" r="1.35" fill="#30c8d0" stroke="#30c8d0" stroke-width="0.45" fill-opacity="0.35"/>
<circle cx="558.69" cy="591.01" r="1.35" fill="#30c8d0" stroke="#30c8d0" stroke-width="0.45" fill-opacity="0.35"/>
<circle cx="547.25" cy="593.76" r="1.35" fill="#30c8d0" stroke="#30c8d0" stroke-width="0.45" fill-opacity="0.35"/>
<circle cx="533.01" cy="594.69" r="1.35" fill="#30c8d0" stroke="#30c8d0" stroke-width="0.45" fill-opacity="0.35"/>
<circle cx="548.8" cy="589.66" r="1.35" fill="#30c8d0" stroke="#30c8d0" stroke-width="0.45" fill-opacity="0.35"/>
<circle cx="555.03" cy="588.57" r="1.35" fill="#30c8d0" stroke="#30c8d0" stroke-width="0.45" fill-opacity="0.35"/>
<circle cx="568.85" cy="591.2" r="1.35" fill="#30c8d0" stroke="#30c8d0" stroke-width="0.45" fill-opacity="0.35"/>
<circle cx="541.29" cy="592.77" r="1.35" fill="#30c8d0" stroke="#30c8d0" stroke-width="0.45" fill-opacity="0.35"/>
<circle cx="543.38" cy="587.83" r="1.35" fill="#30c8d0" stroke="#30c8d0" stroke-width="0.45" fill-opacity="0.35"/>
<circle cx="552.81" cy="586.76" r="1.35" fill="#30c8d0" stroke="#30c8d0" stroke-width="0.45" fill-opacity="0.35"/>
<circle cx="521.16" cy="591.51" r="1.35" fill="#30c8d0" stroke="#30c8d0" stroke-width="0.45" fill-opacity="0.35"/>
<circle cx="574.85" cy="589.81" r="1.35" fill="#30c8d0" stroke="#30c8d0" stroke-width="0.45" fill-opacity="0.35"/>
<line x1="541.48" y1="584.05" x2="541.48" y2="597.05" stroke="#30c8d0" stroke-width="1.1" />
<circle cx="509.83" cy="602.83" r="0.9" fill="#cacaca" stroke="#909090" stroke-width="0.35"/>
<circle cx="509.91" cy="601.59" r="0.9" fill="#cacaca" stroke="#909090" stroke-width="0.35"/>
<circle cx="505.53" cy="609.02" r="0.9" fill="#cacaca" stroke="#909090" stroke-width="0.35"/>
<circle cx="506.56" cy="609.29" r="0.9" fill="#cacaca" stroke="#909090" stroke-width="0.35"/>
<circle cx="509.64" cy="606.4" r="0.9" fill="#cacaca" stroke="#909090" stroke-width="0.35"/>
<circle cx="512.17" cy="606.69" r="0.9" fill="#cacaca" stroke="#909090" stroke-width="0.35"/>
<circle cx="510.67" cy="610.75" r="0.9" fill="#cacaca" stroke="#909090" stroke-width="0.35"/>
<circle cx="506.15" cy="610.9" r="0.9" fill="#cacaca" stroke="#909090" stroke-width="0.35"/>
<circle cx="507.22" cy="612.28" r="0.9" fill="#cacaca" stroke="#909090" stroke-width="0.35"/>
<circle cx="508.32" cy="609.15" r="0.9" fill="#cacaca" stroke="#909090" stroke-width="0.35"/>
<circle cx="510.27" cy="609.82" r="0.9" fill="#cacaca" stroke="#909090" stroke-width="0.35"/>
<circle cx="508.12" cy="613.54" r="0.9" fill="#cacaca" stroke="#909090" stroke-width="0.35"/>
<circle cx="507.25" cy="606.35" r="0.9" fill="#cacaca" stroke="#909090" stroke-width="0.35"/>
<circle cx="512.33" cy="606.39" r="0.9" fill="#cacaca" stroke="#909090" stroke-width="0.35"/>
<circle cx="506.06" cy="609.18" r="0.9" fill="#cacaca" stroke="#909090" stroke-width="0.35"/>
<circle cx="510.53" cy="611.03" r="0.9" fill="#cacaca" stroke="#909090" stroke-width="0.35"/>
<circle cx="509.05" cy="613.2" r="0.9" fill="#cacaca" stroke="#909090" stroke-width="0.35"/>
<circle cx="508.38" cy="604.81" r="0.9" fill="#cacaca" stroke="#909090" stroke-width="0.35"/>
<circle cx="509.83" cy="613.98" r="0.9" fill="#cacaca" stroke="#909090" stroke-width="0.35"/>
<circle cx="508.3" cy="609.45" r="0.9" fill="#cacaca" stroke="#909090" stroke-width="0.35"/>
<circle cx="512.51" cy="606.85" r="0.9" fill="#cacaca" stroke="#909090" stroke-width="0.35"/>
<circle cx="510.99" cy="606.18" r="0.9" fill="#cacaca" stroke="#909090" stroke-width="0.35"/>
<circle cx="505.61" cy="609.17" r="0.9" fill="#cacaca" stroke="#909090" stroke-width="0.35"/>
<circle cx="509.63" cy="616.45" r="0.9" fill="#cacaca" stroke="#909090" stroke-width="0.35"/>
<circle cx="506.51" cy="607.02" r="0.9" fill="#cacaca" stroke="#909090" stroke-width="0.35"/>
<circle cx="511.64" cy="610.5" r="0.9" fill="#cacaca" stroke="#909090" stroke-width="0.35"/>
<circle cx="511.75" cy="613.39" r="0.9" fill="#cacaca" stroke="#909090" stroke-width="0.35"/>
<circle cx="506.54" cy="609.43" r="0.9" fill="#cacaca" stroke="#909090" stroke-width="0.35"/>
<circle cx="509.61" cy="610.55" r="0.9" fill="#cacaca" stroke="#909090" stroke-width="0.35"/>
<circle cx="510.24" cy="613.52" r="0.9" fill="#cacaca" stroke="#909090" stroke-width="0.35"/>
<circle cx="508.03" cy="609.92" r="0.9" fill="#cacaca" stroke="#909090" stroke-width="0.35"/>
<circle cx="508.15" cy="607.16" r="0.9" fill="#cacaca" stroke="#909090" stroke-width="0.35"/>
<circle cx="510.34" cy="615.91" r="0.9" fill="#cacaca" stroke="#909090" stroke-width="0.35"/>
<circle cx="511.03" cy="611.24" r="0.9" fill="#cacaca" stroke="#909090" stroke-width="0.35"/>
<circle cx="510.29" cy="615.65" r="0.9" fill="#cacaca" stroke="#909090" stroke-width="0.35"/>
<circle cx="509.26" cy="609.36" r="0.9" fill="#cacaca" stroke="#909090" stroke-width="0.35"/>
<circle cx="507.22" cy="608.91" r="0.9" fill="#cacaca" stroke="#909090" stroke-width="0.35"/>
<circle cx="507.4" cy="605.37" r="0.9" fill="#cacaca" stroke="#909090" stroke-width="0.35"/>
<circle cx="508.14" cy="609.21" r="0.9" fill="#cacaca" stroke="#909090" stroke-width="0.35"/>
<circle cx="511.52" cy="610.05" r="0.9" fill="#cacaca" stroke="#909090" stroke-width="0.35"/>
<circle cx="510.99" cy="606.88" r="0.9" fill="#cacaca" stroke="#909090" stroke-width="0.35"/>
<circle cx="508.78" cy="602.92" r="0.9" fill="#cacaca" stroke="#909090" stroke-width="0.35"/>
<circle cx="511.2" cy="605.67" r="0.9" fill="#cacaca" stroke="#909090" stroke-width="0.35"/>
<circle cx="509.73" cy="607.89" r="0.9" fill="#cacaca" stroke="#909090" stroke-width="0.35"/>
<circle cx="513.42" cy="608.63" r="0.9" fill="#cacaca" stroke="#909090" stroke-width="0.35"/>
<circle cx="508.29" cy="613.95" r="0.9" fill="#cacaca" stroke="#909090" stroke-width="0.35"/>
<circle cx="507.56" cy="609.53" r="0.9" fill="#cacaca" stroke="#909090" stroke-width="0.35"/>
<circle cx="507.35" cy="608.69" r="0.9" fill="#cacaca" stroke="#909090" stroke-width="0.35"/>
<circle cx="511.63" cy="608.79" r="0.9" fill="#cacaca" stroke="#909090" stroke-width="0.35"/>
<circle cx="509.28" cy="600.92" r="0.9" fill="#cacaca" stroke="#909090" stroke-width="0.35"/>
<circle cx="507.79" cy="611.31" r="0.9" fill="#cacaca" stroke="#909090" stroke-width="0.35"/>
<circle cx="512.37" cy="607.02" r="0.9" fill="#cacaca" stroke="#909090" stroke-width="0.35"/>
<circle cx="510.48" cy="605.54" r="0.9" fill="#cacaca" stroke="#909090" stroke-width="0.35"/>
<circle cx="512.13" cy="605.28" r="0.9" fill="#cacaca" stroke="#909090" stroke-width="0.35"/>
<circle cx="510.18" cy="602.71" r="0.9" fill="#cacaca" stroke="#909090" stroke-width="0.35"/>
<line x1="502.3" y1="609.1" x2="516.81" y2="609.1" stroke="#333" stroke-width="0.9" />
<line x1="502.3" y1="607.6" x2="502.3" y2="610.6" stroke="#333" stroke-width="0.7" />
<line x1="516.81" y1="607.6" x2="516.81" y2="610.6" stroke="#333" stroke-width="0.7" />
<line x1="509.56" y1="601.1" x2="509.56" y2="617.1" stroke="#555" stroke-width="0.5" />
<circle cx="512.28" cy="628.89" r="0.9" fill="#cacaca" stroke="#909090" stroke-width="0.35"/>
<circle cx="509.86" cy="622.61" r="0.9" fill="#cacaca" stroke="#909090" stroke-width="0.35"/>
<circle cx="508.23" cy="629.75" r="0.9" fill="#cacaca" stroke="#909090" stroke-width="0.35"/>
<circle cx="506.29" cy="628.77" r="0.9" fill="#cacaca" stroke="#909090" stroke-width="0.35"/>
<circle cx="511.48" cy="632.26" r="0.9" fill="#cacaca" stroke="#909090" stroke-width="0.35"/>
<circle cx="506.3" cy="628.14" r="0.9" fill="#cacaca" stroke="#909090" stroke-width="0.35"/>
<circle cx="513.06" cy="628.28" r="0.9" fill="#cacaca" stroke="#909090" stroke-width="0.35"/>
<circle cx="505.89" cy="626.59" r="0.9" fill="#cacaca" stroke="#909090" stroke-width="0.35"/>
<circle cx="506.19" cy="629.21" r="0.9" fill="#cacaca" stroke="#909090" stroke-width="0.35"/>
<circle cx="510.98" cy="625.95" r="0.9" fill="#cacaca" stroke="#909090" stroke-width="0.35"/>
<circle cx="510.69" cy="623.14" r="0.9" fill="#cacaca" stroke="#909090" stroke-width="0.35"/>
<circle cx="508.86" cy="631.81" r="0.9" fill="#cacaca" stroke="#909090" stroke-width="0.35"/>
<circle cx="511.82" cy="629.47" r="0.9" fill="#cacaca" stroke="#909090" stroke-width="0.35"/>
<circle cx="506.92" cy="630.68" r="0.9" fill="#cacaca" stroke="#909090" stroke-width="0.35"/>
<circle cx="510.68" cy="621.16" r="0.9" fill="#cacaca" stroke="#909090" stroke-width="0.35"/>
<circle cx="508.54" cy="634.67" r="0.9" fill="#cacaca" stroke="#909090" stroke-width="0.35"/>
<circle cx="508.07" cy="623.46" r="0.9" fill="#cacaca" stroke="#909090" stroke-width="0.35"/>
<circle cx="512.37" cy="628.34" r="0.9" fill="#cacaca" stroke="#909090" stroke-width="0.35"/>
<circle cx="512.11" cy="628.23" r="0.9" fill="#cacaca" stroke="#909090" stroke-width="0.35"/>
<circle cx="510.22" cy="623.43" r="0.9" fill="#cacaca" stroke="#909090" stroke-width="0.35"/>
<circle cx="508.58" cy="622.91" r="0.9" fill="#cacaca" stroke="#909090" stroke-width="0.35"/>
<circle cx="511.52" cy="628.9" r="0.9" fill="#cacaca" stroke="#909090" stroke-width="0.35"/>
<circle cx="507.22" cy="628.56" r="0.9" fill="#cacaca" stroke="#909090" stroke-width="0.35"/>
<circle cx="506.01" cy="626.15" r="0.9" fill="#cacaca" stroke="#909090" stroke-width="0.35"/>
<circle cx="508.12" cy="630.89" r="0.9" fill="#cacaca" stroke="#909090" stroke-width="0.35"/>
<circle cx="508.53" cy="626.55" r="0.9" fill="#cacaca" stroke="#909090" stroke-width="0.35"/>
<circle cx="508.82" cy="632.93" r="0.9" fill="#cacaca" stroke="#909090" stroke-width="0.35"/>
<circle cx="511.41" cy="631.57" r="0.9" fill="#cacaca" stroke="#909090" stroke-width="0.35"/>
<circle cx="510.49" cy="626.75" r="0.9" fill="#cacaca" stroke="#909090" stroke-width="0.35"/>
<circle cx="509.19" cy="631.09" r="0.9" fill="#cacaca" stroke="#909090" stroke-width="0.35"/>
<circle cx="511.77" cy="628.33" r="0.9" fill="#cacaca" stroke="#909090" stroke-width="0.35"/>
<circle cx="509.78" cy="624.62" r="0.9" fill="#cacaca" stroke="#909090" stroke-width="0.35"/>
<circle cx="508.16" cy="632.01" r="0.9" fill="#cacaca" stroke="#909090" stroke-width="0.35"/>
<circle cx="512.07" cy="628.61" r="0.9" fill="#cacaca" stroke="#909090" stroke-width="0.35"/>
<circle cx="507.01" cy="626.52" r="0.9" fill="#cacaca" stroke="#909090" stroke-width="0.35"/>
<circle cx="511.32" cy="629.93" r="0.9" fill="#cacaca" stroke="#909090" stroke-width="0.35"/>
<circle cx="513.71" cy="627.67" r="0.9" fill="#cacaca" stroke="#909090" stroke-width="0.35"/>
<circle cx="509.51" cy="631.6" r="0.9" fill="#cacaca" stroke="#909090" stroke-width="0.35"/>
<circle cx="512.11" cy="627.76" r="0.9" fill="#cacaca" stroke="#909090" stroke-width="0.35"/>
<circle cx="508.44" cy="629.24" r="0.9" fill="#cacaca" stroke="#909090" stroke-width="0.35"/>
<circle cx="511.39" cy="631.29" r="0.9" fill="#cacaca" stroke="#909090" stroke-width="0.35"/>
<circle cx="507.77" cy="627.11" r="0.9" fill="#cacaca" stroke="#909090" stroke-width="0.35"/>
<circle cx="509.09" cy="635.79" r="0.9" fill="#cacaca" stroke="#909090" stroke-width="0.35"/>
<circle cx="506.58" cy="626.4" r="0.9" fill="#cacaca" stroke="#909090" stroke-width="0.35"/>
<circle cx="510.29" cy="623.86" r="0.9" fill="#cacaca" stroke="#909090" stroke-width="0.35"/>
<circle cx="510.37" cy="632.88" r="0.9" fill="#cacaca" stroke="#909090" stroke-width="0.35"/>
<circle cx="511.33" cy="630.56" r="0.9" fill="#cacaca" stroke="#909090" stroke-width="0.35"/>
<circle cx="508.89" cy="625.44" r="0.9" fill="#cacaca" stroke="#909090" stroke-width="0.35"/>
<circle cx="508.85" cy="625.35" r="0.9" fill="#cacaca" stroke="#909090" stroke-width="0.35"/>
<circle cx="512.56" cy="628.76" r="0.9" fill="#cacaca" stroke="#909090" stroke-width="0.35"/>
<circle cx="505.8" cy="626.73" r="0.9" fill="#cacaca" stroke="#909090" stroke-width="0.35"/>
<circle cx="512.8" cy="628.37" r="0.9" fill="#cacaca" stroke="#909090" stroke-width="0.35"/>
<circle cx="509.56" cy="630.21" r="0.9" fill="#cacaca" stroke="#909090" stroke-width="0.35"/>
<circle cx="508.42" cy="622.53" r="0.9" fill="#cacaca" stroke="#909090" stroke-width="0.35"/>
<circle cx="509.38" cy="632.5" r="0.9" fill="#cacaca" stroke="#909090" stroke-width="0.35"/>
<line x1="502.3" y1="627.65" x2="516.81" y2="627.65" stroke="#333" stroke-width="0.9" />
<line x1="502.3" y1="626.15" x2="502.3" y2="629.15" stroke="#333" stroke-width="0.7" />
<line x1="516.81" y1="626.15" x2="516.81" y2="629.15" stroke="#333" stroke-width="0.7" />
<line x1="509.56" y1="619.65" x2="509.56" y2="635.65" stroke="#555" stroke-width="0.5" />
<circle cx="507.63" cy="640.61" r="0.9" fill="#cacaca" stroke="#909090" stroke-width="0.35"/>
<circle cx="507.78" cy="645.08" r="0.9" fill="#cacaca" stroke="#909090" stroke-width="0.35"/>
<circle cx="504.18" cy="644.45" r="0.9" fill="#cacaca" stroke="#909090" stroke-width="0.35"/>
<circle cx="508.9" cy="648.66" r="0.9" fill="#cacaca" stroke="#909090" stroke-width="0.35"/>
<circle cx="504.62" cy="643.26" r="0.9" fill="#cacaca" stroke="#909090" stroke-width="0.35"/>
<circle cx="506.37" cy="641.44" r="0.9" fill="#cacaca" stroke="#909090" stroke-width="0.35"/>
<circle cx="503.61" cy="646.86" r="0.9" fill="#cacaca" stroke="#909090" stroke-width="0.35"/>
<circle cx="506.47" cy="641.78" r="0.9" fill="#cacaca" stroke="#909090" stroke-width="0.35"/>
<circle cx="504.47" cy="648.08" r="0.9" fill="#cacaca" stroke="#909090" stroke-width="0.35"/>
<circle cx="505.21" cy="644.54" r="0.9" fill="#cacaca" stroke="#909090" stroke-width="0.35"/>
<circle cx="504.22" cy="644.3" r="0.9" fill="#cacaca" stroke="#909090" stroke-width="0.35"/>
<circle cx="505.54" cy="639.93" r="0.9" fill="#cacaca" stroke="#909090" stroke-width="0.35"/>
<circle cx="506.85" cy="646.25" r="0.9" fill="#cacaca" stroke="#909090" stroke-width="0.35"/>
<circle cx="504.59" cy="649.22" r="0.9" fill="#cacaca" stroke="#909090" stroke-width="0.35"/>
<circle cx="510.36" cy="645.16" r="0.9" fill="#cacaca" stroke="#909090" stroke-width="0.35"/>
<circle cx="508.26" cy="648.14" r="0.9" fill="#cacaca" stroke="#909090" stroke-width="0.35"/>
<circle cx="505.61" cy="653.19" r="0.9" fill="#cacaca" stroke="#909090" stroke-width="0.35"/>
<circle cx="506.17" cy="651.4" r="0.9" fill="#cacaca" stroke="#909090" stroke-width="0.35"/>
<circle cx="507.46" cy="652.22" r="0.9" fill="#cacaca" stroke="#909090" stroke-width="0.35"/>
<circle cx="506.12" cy="645.59" r="0.9" fill="#cacaca" stroke="#909090" stroke-width="0.35"/>
<circle cx="503.78" cy="647.81" r="0.9" fill="#cacaca" stroke="#909090" stroke-width="0.35"/>
<circle cx="505.27" cy="650.77" r="0.9" fill="#cacaca" stroke="#909090" stroke-width="0.35"/>
<circle cx="505.83" cy="645.52" r="0.9" fill="#cacaca" stroke="#909090" stroke-width="0.35"/>
<circle cx="509.04" cy="646.78" r="0.9" fill="#cacaca" stroke="#909090" stroke-width="0.35"/>
<circle cx="507.64" cy="644.81" r="0.9" fill="#cacaca" stroke="#909090" stroke-width="0.35"/>
<circle cx="506.45" cy="642.44" r="0.9" fill="#cacaca" stroke="#909090" stroke-width="0.35"/>
<circle cx="506.06" cy="649.11" r="0.9" fill="#cacaca" stroke="#909090" stroke-width="0.35"/>
<circle cx="508" cy="649.8" r="0.9" fill="#cacaca" stroke="#909090" stroke-width="0.35"/>
<circle cx="507.1" cy="649.22" r="0.9" fill="#cacaca" stroke="#909090" stroke-width="0.35"/>
<circle cx="508.39" cy="644.23" r="0.9" fill="#cacaca" stroke="#909090" stroke-width="0.35"/>
<circle cx="508.17" cy="644.05" r="0.9" fill="#cacaca" stroke="#909090" stroke-width="0.35"/>
<circle cx="509.58" cy="647.36" r="0.9" fill="#cacaca" stroke="#909090" stroke-width="0.35"/>
<circle cx="509.48" cy="646.99" r="0.9" fill="#cacaca" stroke="#909090" stroke-width="0.35"/>
<circle cx="507.4" cy="640.98" r="0.9" fill="#cacaca" stroke="#909090" stroke-width="0.35"/>
<circle cx="505.41" cy="643.84" r="0.9" fill="#cacaca" stroke="#909090" stroke-width="0.35"/>
<circle cx="507.45" cy="643.3" r="0.9" fill="#cacaca" stroke="#909090" stroke-width="0.35"/>
<circle cx="508.4" cy="649.1" r="0.9" fill="#cacaca" stroke="#909090" stroke-width="0.35"/>
<circle cx="508.13" cy="648.25" r="0.9" fill="#cacaca" stroke="#909090" stroke-width="0.35"/>
<circle cx="506.11" cy="644.43" r="0.9" fill="#cacaca" stroke="#909090" stroke-width="0.35"/>
<circle cx="506.34" cy="644.32" r="0.9" fill="#cacaca" stroke="#909090" stroke-width="0.35"/>
<circle cx="507.79" cy="643.68" r="0.9" fill="#cacaca" stroke="#909090" stroke-width="0.35"/>
<circle cx="509.49" cy="643.79" r="0.9" fill="#cacaca" stroke="#909090" stroke-width="0.35"/>
<circle cx="508.58" cy="648.22" r="0.9" fill="#cacaca" stroke="#909090" stroke-width="0.35"/>
<circle cx="506.12" cy="650.72" r="0.9" fill="#cacaca" stroke="#909090" stroke-width="0.35"/>
<circle cx="506.05" cy="637.7" r="0.9" fill="#cacaca" stroke="#909090" stroke-width="0.35"/>
<circle cx="507.01" cy="646.79" r="0.9" fill="#cacaca" stroke="#909090" stroke-width="0.35"/>
<circle cx="509.28" cy="649.35" r="0.9" fill="#cacaca" stroke="#909090" stroke-width="0.35"/>
<circle cx="506.74" cy="651.23" r="0.9" fill="#cacaca" stroke="#909090" stroke-width="0.35"/>
<circle cx="506.88" cy="649.78" r="0.9" fill="#cacaca" stroke="#909090" stroke-width="0.35"/>
<circle cx="508.05" cy="648.84" r="0.9" fill="#cacaca" stroke="#909090" stroke-width="0.35"/>
<circle cx="508.13" cy="641.36" r="0.9" fill="#cacaca" stroke="#909090" stroke-width="0.35"/>
<circle cx="506.83" cy="645.83" r="0.9" fill="#cacaca" stroke="#909090" stroke-width="0.35"/>
<circle cx="505.89" cy="639.21" r="0.9" fill="#cacaca" stroke="#909090" stroke-width="0.35"/>
<circle cx="507.55" cy="650.61" r="0.9" fill="#cacaca" stroke="#909090" stroke-width="0.35"/>
<circle cx="504.85" cy="641.7" r="0.9" fill="#cacaca" stroke="#909090" stroke-width="0.35"/>
<line x1="499.4" y1="646.2" x2="513.91" y2="646.2" stroke="#333" stroke-width="0.9" />
<line x1="499.4" y1="644.7" x2="499.4" y2="647.7" stroke="#333" stroke-width="0.7" />
<line x1="513.91" y1="644.7" x2="513.91" y2="647.7" stroke="#333" stroke-width="0.7" />
<line x1="506.65" y1="638.2" x2="506.65" y2="654.2" stroke="#555" stroke-width="0.5" />
<line x1="537.6" y1="349.4" x2="537.6" y2="367.95" stroke="#7a7a7a" stroke-width="0.9" />
<text x="0" y="0" font-size="8.6" text-anchor="middle" transform="translate(540.6,358.67) rotate(90)">ns</text>
<line x1="556.5" y1="386.5" x2="556.5" y2="405.05" stroke="#7a7a7a" stroke-width="0.9" />
<text x="0" y="0" font-size="8.6" text-anchor="middle" transform="translate(559.5,395.77) rotate(90)">ns</text>
<line x1="551.5" y1="460.7" x2="551.5" y2="479.25" stroke="#7a7a7a" stroke-width="0.9" />
<text x="0" y="0" font-size="8.6" text-anchor="middle" transform="translate(554.5,469.98) rotate(90)">ns</text>
<line x1="534.1" y1="609.1" x2="534.1" y2="627.65" stroke="#7a7a7a" stroke-width="0.9" />
<text x="0" y="0" font-size="8.6" text-anchor="middle" transform="translate(537.1,618.38) rotate(90)">ns</text>
<line x1="613.5" y1="534.9" x2="613.5" y2="572" stroke="#7a7a7a" stroke-width="0.9" />
<text x="0" y="0" font-size="8.6" text-anchor="middle" transform="translate(619.1,546.6) rotate(90)">ns</text>
<line x1="570.6" y1="349.4" x2="570.6" y2="386.5" stroke="#7a7a7a" stroke-width="0.9" />
<line x1="574.3" y1="349.4" x2="574.3" y2="405.05" stroke="#7a7a7a" stroke-width="0.9" />
<line x1="578" y1="349.4" x2="578" y2="423.6" stroke="#7a7a7a" stroke-width="0.9" />
<line x1="581.8" y1="349.4" x2="581.8" y2="442.15" stroke="#7a7a7a" stroke-width="0.9" />
<line x1="585.5" y1="349.4" x2="585.5" y2="497.8" stroke="#7a7a7a" stroke-width="0.9" />
<line x1="589.2" y1="349.4" x2="589.2" y2="516.35" stroke="#7a7a7a" stroke-width="0.9" />
<text x="591.6" y="363.5" font-size="10" fill="#000">*</text>
<line x1="593.4" y1="423.6" x2="593.4" y2="442.15" stroke="#7a7a7a" stroke-width="0.9" />
<line x1="597.2" y1="405.05" x2="597.2" y2="423.6" stroke="#7a7a7a" stroke-width="0.9" />
<line x1="600.4" y1="386.5" x2="600.4" y2="423.6" stroke="#7a7a7a" stroke-width="0.9" />
<line x1="604.6" y1="386.5" x2="604.6" y2="442.15" stroke="#7a7a7a" stroke-width="0.9" />
<text x="606.2" y="419" font-size="10" fill="#000">*</text>
<line x1="610.3" y1="497.8" x2="610.3" y2="516.35" stroke="#7a7a7a" stroke-width="0.9" />
<line x1="616.5" y1="497.8" x2="616.5" y2="590.55" stroke="#7a7a7a" stroke-width="0.9" />
<line x1="624" y1="497.8" x2="624" y2="534.9" stroke="#7a7a7a" stroke-width="0.9" />
<line x1="627.2" y1="497.8" x2="627.2" y2="553.45" stroke="#7a7a7a" stroke-width="0.9" />
<line x1="630.9" y1="497.8" x2="630.9" y2="572" stroke="#7a7a7a" stroke-width="0.9" />
<line x1="634.4" y1="497.8" x2="634.4" y2="590.55" stroke="#7a7a7a" stroke-width="0.9" />
<line x1="638.1" y1="497.8" x2="638.1" y2="609.1" stroke="#7a7a7a" stroke-width="0.9" />
<line x1="641.3" y1="497.8" x2="641.3" y2="646.2" stroke="#7a7a7a" stroke-width="0.9" />
<text x="642.2" y="512.5" font-size="10" fill="#000">*</text>
<text x="331.3" y="795.3" font-size="11.5" fill="#000" font-weight="bold">g</text>
<line x1="362.3" y1="815.5" x2="362.3" y2="948.5" stroke="#1a1a1a" stroke-width="1" />
<line x1="357.3" y1="815.5" x2="362.3" y2="815.5" stroke="#1a1a1a" stroke-width="1" />
<text x="358.8" y="818.5" font-size="8.6" text-anchor="end">100</text>
<line x1="359.3" y1="842.3" x2="362.3" y2="842.3" stroke="#1a1a1a" stroke-width="1" />
<line x1="357.3" y1="869.1" x2="362.3" y2="869.1" stroke="#1a1a1a" stroke-width="1" />
<text x="358.8" y="872.1" font-size="8.6" text-anchor="end">50</text>
<line x1="359.3" y1="895.9" x2="362.3" y2="895.9" stroke="#1a1a1a" stroke-width="1" />
<line x1="357.3" y1="922.7" x2="362.3" y2="922.7" stroke="#1a1a1a" stroke-width="1" />
<text x="358.8" y="925.7" font-size="8.6" text-anchor="end">0</text>
<line x1="359.3" y1="949.5" x2="362.3" y2="949.5" stroke="#1a1a1a" stroke-width="1" />
<line x1="362.3" y1="922.7" x2="468.5" y2="922.7" stroke="#1a1a1a" stroke-width="1" />
<line x1="370" y1="922.7" x2="370" y2="927.2" stroke="#1a1a1a" stroke-width="1" />
<text x="370" y="939" font-size="8.6" text-anchor="middle">0</text>
<line x1="381.45" y1="922.7" x2="381.45" y2="925.5" stroke="#1a1a1a" stroke-width="1" />
<line x1="392.9" y1="922.7" x2="392.9" y2="927.2" stroke="#1a1a1a" stroke-width="1" />
<text x="392.9" y="939" font-size="8.6" text-anchor="middle">30</text>
<line x1="404.35" y1="922.7" x2="404.35" y2="925.5" stroke="#1a1a1a" stroke-width="1" />
<line x1="415.8" y1="922.7" x2="415.8" y2="927.2" stroke="#1a1a1a" stroke-width="1" />
<text x="415.8" y="939" font-size="8.6" text-anchor="middle">60</text>
<line x1="427.25" y1="922.7" x2="427.25" y2="925.5" stroke="#1a1a1a" stroke-width="1" />
<line x1="438.7" y1="922.7" x2="438.7" y2="927.2" stroke="#1a1a1a" stroke-width="1" />
<text x="438.7" y="939" font-size="8.6" text-anchor="middle">90</text>
<line x1="450.15" y1="922.7" x2="450.15" y2="925.5" stroke="#1a1a1a" stroke-width="1" />
<line x1="461.6" y1="922.7" x2="461.6" y2="927.2" stroke="#1a1a1a" stroke-width="1" />
<text x="461.6" y="939" font-size="8.6" text-anchor="middle">120</text>
<text x="435.1" y="950.8" font-size="9.03" text-anchor="middle">Time after morphine injection (min)</text>
<text x="0" y="0" font-size="8.93" text-anchor="middle" transform="translate(336.8,868.7) rotate(-90)">Antinociception (%MPE; day 11)</text>
<path d="M370,922.7 L392.9,874.03 L415.8,884.64 L438.7,889.04 L461.6,893.54" fill="none" stroke="#4f7fc4" stroke-width="1.8"/>
<line x1="392.9" y1="860.2" x2="392.9" y2="887.86" stroke="#4f7fc4" stroke-width="1.3" />
<line x1="389.7" y1="860.2" x2="396.1" y2="860.2" stroke="#4f7fc4" stroke-width="1.3" />
<line x1="389.7" y1="887.86" x2="396.1" y2="887.86" stroke="#4f7fc4" stroke-width="1.3" />
<line x1="415.8" y1="875.42" x2="415.8" y2="893.86" stroke="#4f7fc4" stroke-width="1.3" />
<line x1="412.6" y1="875.42" x2="419" y2="875.42" stroke="#4f7fc4" stroke-width="1.3" />
<line x1="412.6" y1="893.86" x2="419" y2="893.86" stroke="#4f7fc4" stroke-width="1.3" />
<line x1="438.7" y1="880.36" x2="438.7" y2="897.72" stroke="#4f7fc4" stroke-width="1.3" />
<line x1="435.5" y1="880.36" x2="441.9" y2="880.36" stroke="#4f7fc4" stroke-width="1.3" />
<line x1="435.5" y1="897.72" x2="441.9" y2="897.72" stroke="#4f7fc4" stroke-width="1.3" />
<line x1="461.6" y1="887.11" x2="461.6" y2="899.97" stroke="#4f7fc4" stroke-width="1.3" />
<line x1="458.4" y1="887.11" x2="464.8" y2="887.11" stroke="#4f7fc4" stroke-width="1.3" />
<line x1="458.4" y1="899.97" x2="464.8" y2="899.97" stroke="#4f7fc4" stroke-width="1.3" />
<circle cx="370" cy="922.7" r="4.4" fill="#6f98d2" stroke="#4a78c0" stroke-width="1.1"/>
<circle cx="392.9" cy="874.03" r="4.4" fill="#6f98d2" stroke="#4a78c0" stroke-width="1.1"/>
<circle cx="415.8" cy="884.64" r="4.4" fill="#6f98d2" stroke="#4a78c0" stroke-width="1.1"/>
<circle cx="438.7" cy="889.04" r="4.4" fill="#6f98d2" stroke="#4a78c0" stroke-width="1.1"/>
<circle cx="461.6" cy="893.54" r="4.4" fill="#6f98d2" stroke="#4a78c0" stroke-width="1.1"/>
<path d="M370,922.7 L392.9,826.22 L415.8,831.58 L438.7,827.29 L461.6,839.08" fill="none" stroke="#f25aa8" stroke-width="1.8"/>
<line x1="392.9" y1="821.61" x2="392.9" y2="830.83" stroke="#f25aa8" stroke-width="1.3" />
<line x1="389.7" y1="821.61" x2="396.1" y2="821.61" stroke="#f25aa8" stroke-width="1.3" />
<line x1="389.7" y1="830.83" x2="396.1" y2="830.83" stroke="#f25aa8" stroke-width="1.3" />
<line x1="415.8" y1="826.33" x2="415.8" y2="836.83" stroke="#f25aa8" stroke-width="1.3" />
<line x1="412.6" y1="826.33" x2="419" y2="826.33" stroke="#f25aa8" stroke-width="1.3" />
<line x1="412.6" y1="836.83" x2="419" y2="836.83" stroke="#f25aa8" stroke-width="1.3" />
<line x1="438.7" y1="822.68" x2="438.7" y2="831.9" stroke="#f25aa8" stroke-width="1.3" />
<line x1="435.5" y1="822.68" x2="441.9" y2="822.68" stroke="#f25aa8" stroke-width="1.3" />
<line x1="435.5" y1="831.9" x2="441.9" y2="831.9" stroke="#f25aa8" stroke-width="1.3" />
<line x1="461.6" y1="833.08" x2="461.6" y2="845.09" stroke="#f25aa8" stroke-width="1.3" />
<line x1="458.4" y1="833.08" x2="464.8" y2="833.08" stroke="#f25aa8" stroke-width="1.3" />
<line x1="458.4" y1="845.09" x2="464.8" y2="845.09" stroke="#f25aa8" stroke-width="1.3" />
<circle cx="392.9" cy="826.22" r="4.4" fill="#f59ccc" stroke="#ec4f9e" stroke-width="1.1"/>
<circle cx="415.8" cy="831.58" r="4.4" fill="#f59ccc" stroke="#ec4f9e" stroke-width="1.1"/>
<circle cx="438.7" cy="827.29" r="4.4" fill="#f59ccc" stroke="#ec4f9e" stroke-width="1.1"/>
<circle cx="461.6" cy="839.08" r="4.4" fill="#f59ccc" stroke="#ec4f9e" stroke-width="1.1"/>
<text x="392.9" y="821.6" font-size="11" fill="#000" text-anchor="middle">*</text>
<text x="415.8" y="821.6" font-size="11" fill="#000" text-anchor="middle">*</text>
<text x="438.7" y="821.6" font-size="11" fill="#000" text-anchor="middle">*</text>
<text x="461.6" y="821.6" font-size="11" fill="#000" text-anchor="middle">*</text>
<text x="475" y="795.3" font-size="11.5" fill="#000" font-weight="bold">h</text>
<line x1="485.9" y1="792.5" x2="507.6" y2="792.5" stroke="#f25aa8" stroke-width="1.5" />
<circle cx="496.8" cy="792.5" r="4.9" fill="#f59ccc" stroke="#ec4f9e" stroke-width="1.1"/>
<line x1="485.9" y1="803.3" x2="507.6" y2="803.3" stroke="#4f7fc4" stroke-width="1.5" />
<circle cx="496.8" cy="803.3" r="4.9" fill="#6f98d2" stroke="#4a78c0" stroke-width="1.1"/>
<text x="513.2" y="796" font-size="9" fill="#1a1a1a">+ Dpep(20-42)DM (10 µg/day; <tspan font-style="italic">n</tspan>=17)</text>
<text x="513.2" y="806.6" font-size="8.9" fill="#1a1a1a">+ Peptide (scrambled seq., 10 µg/day; <tspan font-style="italic">n</tspan>=8)</text>
<rect x="551.8" y="816" width="106.9" height="107.2" fill="none" stroke="#1a1a1a" stroke-width="1"/>
<line x1="547.3" y1="923.2" x2="551.8" y2="923.2" stroke="#1a1a1a" stroke-width="1" />
<text x="544" y="926.2" font-size="8.5" text-anchor="end">0</text>
<line x1="549" y1="905.33" x2="551.8" y2="905.33" stroke="#1a1a1a" stroke-width="1" />
<line x1="547.3" y1="887.47" x2="551.8" y2="887.47" stroke="#1a1a1a" stroke-width="1" />
<text x="544" y="890.47" font-size="8.5" text-anchor="end">4000</text>
<line x1="549" y1="869.6" x2="551.8" y2="869.6" stroke="#1a1a1a" stroke-width="1" />
<line x1="547.3" y1="851.74" x2="551.8" y2="851.74" stroke="#1a1a1a" stroke-width="1" />
<text x="544" y="854.74" font-size="8.5" text-anchor="end">8000</text>
<line x1="549" y1="833.87" x2="551.8" y2="833.87" stroke="#1a1a1a" stroke-width="1" />
<line x1="547.3" y1="816" x2="551.8" y2="816" stroke="#1a1a1a" stroke-width="1" />
<text x="544" y="819" font-size="8.5" text-anchor="end">12000</text>
<line x1="560.2" y1="923.2" x2="560.2" y2="927.5" stroke="#1a1a1a" stroke-width="1" />
<text x="560.2" y="939" font-size="8.6" text-anchor="middle">1</text>
<line x1="595.72" y1="923.2" x2="595.72" y2="927.5" stroke="#1a1a1a" stroke-width="1" />
<text x="595.72" y="939" font-size="8.6" text-anchor="middle">5</text>
<line x1="622.36" y1="923.2" x2="622.36" y2="927.5" stroke="#1a1a1a" stroke-width="1" />
<text x="622.36" y="939" font-size="8.6" text-anchor="middle">8</text>
<line x1="649" y1="923.2" x2="649" y2="927.5" stroke="#1a1a1a" stroke-width="1" />
<text x="649" y="939" font-size="8.6" text-anchor="middle">11</text>
<text x="597" y="950.8" font-size="8.98" text-anchor="middle">Days of morphine injection (day)</text>
<text x="0" y="0" font-size="8.94" text-anchor="middle" transform="translate(507,872) rotate(-90)">Antinociception AUC</text>
<text x="0" y="0" font-size="8.93" text-anchor="middle" transform="translate(517,872) rotate(-90)">(%MPE × min; 0-120 min)</text>
<path d="M560.2,840.12 L595.72,833.87 L622.36,866.03 L649,889.25" fill="none" stroke="#4f7fc4" stroke-width="1.8"/>
<line x1="560.2" y1="829.85" x2="560.2" y2="850.4" stroke="#4f7fc4" stroke-width="1.3" />
<line x1="557" y1="829.85" x2="563.4" y2="829.85" stroke="#4f7fc4" stroke-width="1.3" />
<line x1="557" y1="850.4" x2="563.4" y2="850.4" stroke="#4f7fc4" stroke-width="1.3" />
<line x1="595.72" y1="831.64" x2="595.72" y2="836.1" stroke="#4f7fc4" stroke-width="1.3" />
<line x1="592.52" y1="831.64" x2="598.92" y2="831.64" stroke="#4f7fc4" stroke-width="1.3" />
<line x1="592.52" y1="836.1" x2="598.92" y2="836.1" stroke="#4f7fc4" stroke-width="1.3" />
<line x1="622.36" y1="857.99" x2="622.36" y2="874.07" stroke="#4f7fc4" stroke-width="1.3" />
<line x1="619.16" y1="857.99" x2="625.56" y2="857.99" stroke="#4f7fc4" stroke-width="1.3" />
<line x1="619.16" y1="874.07" x2="625.56" y2="874.07" stroke="#4f7fc4" stroke-width="1.3" />
<line x1="649" y1="884.34" x2="649" y2="894.17" stroke="#4f7fc4" stroke-width="1.3" />
<line x1="645.8" y1="884.34" x2="652.2" y2="884.34" stroke="#4f7fc4" stroke-width="1.3" />
<line x1="645.8" y1="894.17" x2="652.2" y2="894.17" stroke="#4f7fc4" stroke-width="1.3" />
<circle cx="560.2" cy="840.12" r="4.4" fill="#6f98d2" stroke="#4a78c0" stroke-width="1.1"/>
<circle cx="595.72" cy="833.87" r="4.4" fill="#6f98d2" stroke="#4a78c0" stroke-width="1.1"/>
<circle cx="622.36" cy="866.03" r="4.4" fill="#6f98d2" stroke="#4a78c0" stroke-width="1.1"/>
<circle cx="649" cy="889.25" r="4.4" fill="#6f98d2" stroke="#4a78c0" stroke-width="1.1"/>
<path d="M560.2,830.3 L595.72,831.19 L622.36,841.91 L649,841.91" fill="none" stroke="#f25aa8" stroke-width="1.8"/>
<line x1="560.2" y1="828.06" x2="560.2" y2="832.53" stroke="#f25aa8" stroke-width="1.3" />
<line x1="557" y1="828.06" x2="563.4" y2="828.06" stroke="#f25aa8" stroke-width="1.3" />
<line x1="557" y1="832.53" x2="563.4" y2="832.53" stroke="#f25aa8" stroke-width="1.3" />
<line x1="595.72" y1="829.4" x2="595.72" y2="832.98" stroke="#f25aa8" stroke-width="1.3" />
<line x1="592.52" y1="829.4" x2="598.92" y2="829.4" stroke="#f25aa8" stroke-width="1.3" />
<line x1="592.52" y1="832.98" x2="598.92" y2="832.98" stroke="#f25aa8" stroke-width="1.3" />
<line x1="622.36" y1="838.78" x2="622.36" y2="845.04" stroke="#f25aa8" stroke-width="1.3" />
<line x1="619.16" y1="838.78" x2="625.56" y2="838.78" stroke="#f25aa8" stroke-width="1.3" />
<line x1="619.16" y1="845.04" x2="625.56" y2="845.04" stroke="#f25aa8" stroke-width="1.3" />
<line x1="649" y1="839.23" x2="649" y2="844.59" stroke="#f25aa8" stroke-width="1.3" />
<line x1="645.8" y1="839.23" x2="652.2" y2="839.23" stroke="#f25aa8" stroke-width="1.3" />
<line x1="645.8" y1="844.59" x2="652.2" y2="844.59" stroke="#f25aa8" stroke-width="1.3" />
<circle cx="560.2" cy="830.3" r="4.4" fill="#f59ccc" stroke="#ec4f9e" stroke-width="1.1"/>
<circle cx="595.72" cy="831.19" r="4.4" fill="#f59ccc" stroke="#ec4f9e" stroke-width="1.1"/>
<circle cx="622.36" cy="841.91" r="4.4" fill="#f59ccc" stroke="#ec4f9e" stroke-width="1.1"/>
<circle cx="649" cy="841.91" r="4.4" fill="#f59ccc" stroke="#ec4f9e" stroke-width="1.1"/>
<text x="622.36" y="836.5" font-size="11" fill="#000" text-anchor="middle">*</text>
<text x="649" y="836.5" font-size="11" fill="#000" text-anchor="middle">*</text>
</svg>
</body></html>
